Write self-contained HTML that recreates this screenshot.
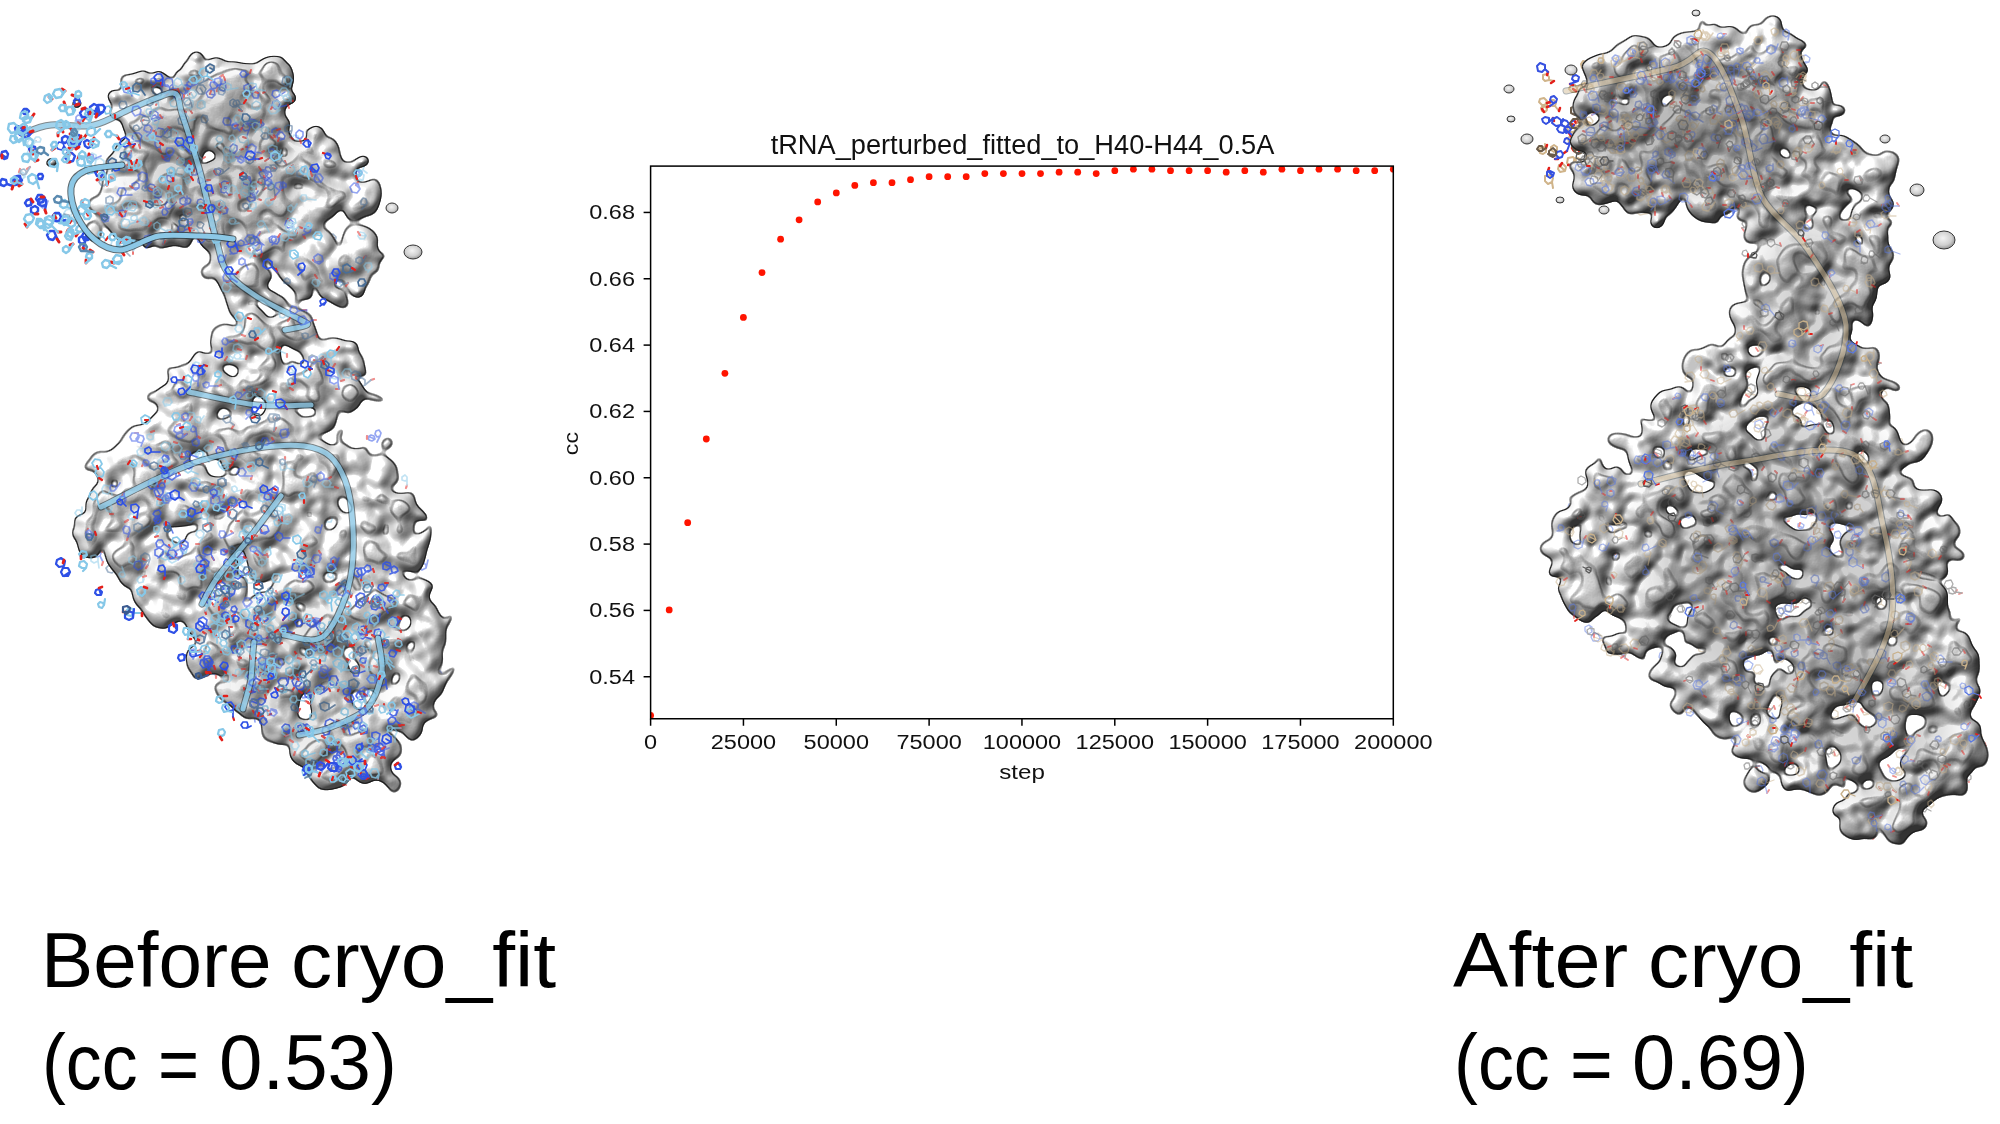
<!DOCTYPE html>
<html><head><meta charset="utf-8">
<style>
html,body{margin:0;padding:0;background:#fff;width:2000px;height:1124px;overflow:hidden;position:relative}
body{font-family:"Liberation Sans",sans-serif}
.tk{font-family:"Liberation Sans",sans-serif;fill:#111}
.ttl{font-family:"Liberation Sans",sans-serif;fill:#111}
.big{position:absolute;font-family:"Liberation Sans",sans-serif;font-size:78.5px;color:#000;white-space:nowrap;line-height:1;transform-origin:0 0}
</style></head><body>
<svg width="2000" height="1124" viewBox="0 0 2000 1124" style="position:absolute;left:0;top:0">
<defs><radialGradient id="blobg" cx="0.45" cy="0.4" r="0.65"><stop offset="0" stop-color="#f4f4f4"/><stop offset="0.6" stop-color="#d0d0d0"/><stop offset="1" stop-color="#8a8a8a"/></radialGradient><filter id="sblur" x="-50%" y="-50%" width="200%" height="200%"><feGaussianBlur stdDeviation="18"/></filter></defs>
<defs><filter id="iso1" x="-14" y="31" width="492" height="787" filterUnits="userSpaceOnUse" color-interpolation-filters="sRGB">
 <feGaussianBlur in="SourceAlpha" stdDeviation="3.0" result="blur"/>
 <feComponentTransfer in="blur" result="shape"><feFuncA type="linear" slope="12" intercept="-3.5"/></feComponentTransfer>
 <feComponentTransfer in="blur" result="shape2"><feFuncA type="linear" slope="14" intercept="-11"/></feComponentTransfer>
 <feGaussianBlur in="blur" stdDeviation="1.5" result="bump"/>
 <feDiffuseLighting in="bump" surfaceScale="12" diffuseConstant="1" lighting-color="#ffffff" result="light"><feDistantLight azimuth="235" elevation="48"/></feDiffuseLighting>
 <feSpecularLighting in="bump" surfaceScale="12" specularConstant="0.5" specularExponent="40" lighting-color="#ffffff" result="spec"><feDistantLight azimuth="235" elevation="48"/></feSpecularLighting>
 <feComponentTransfer in="light" result="lightA"><feFuncR type="linear" slope="0.72" intercept="0.28"/><feFuncG type="linear" slope="0.72" intercept="0.28"/><feFuncB type="linear" slope="0.72" intercept="0.28"/></feComponentTransfer>
 <feComposite in="spec" in2="lightA" operator="arithmetic" k1="0" k2="1" k3="1" k4="0" result="l2"/>
 <feComposite in="l2" in2="shape" operator="in" result="lit"/>
 <feMorphology in="shape" operator="erode" radius="1" result="er"/>
 <feComposite in="shape" in2="er" operator="out" result="edge"/>
 <feMorphology in="shape2" operator="erode" radius="1" result="er2"/>
 <feComposite in="shape2" in2="er2" operator="out" result="edge2"/>
 <feComponentTransfer in="blur" result="shape3"><feFuncA type="linear" slope="14" intercept="-13"/></feComponentTransfer>
 <feMorphology in="shape3" operator="erode" radius="1" result="er3"/>
 <feComposite in="shape3" in2="er3" operator="out" result="edge3"/>
 <feFlood flood-color="#2a2a2a" flood-opacity="0.55"/><feComposite in2="edge3" operator="in" result="edgec3"/>
 <feFlood flood-color="#1e1e1e" result="blk"/>
 <feComposite in="blk" in2="edge" operator="in" result="edgec"/>
 <feFlood flood-color="#2a2a2a" flood-opacity="0.85"/><feComposite in2="edge2" operator="in" result="edgec2"/>
 <feMerge><feMergeNode in="lit"/><feMergeNode in="edgec3"/><feMergeNode in="edgec2"/><feMergeNode in="edgec"/></feMerge>
</filter></defs>
<g opacity="0.5"><path d="M304 166l-3 1 -3 -3 1 -4 3 -1 3 3zl-5 7M328 380l-4 3 -5 -1 -1 -5 4 -4 5 2zl-3 -8M348 683l-3 2 -2 -2 0 -3 3 -1 2 1zl1 4M254 715l-3 2 -4 -1 -1 -3 3 -3 4 1zl1 7M261 426l-2 2 -4 -1 -1 -3 3 -3 3 1zl2 7M339 741l-4 0 -3 -3 2 -4 4 0 3 3zl4 -5M207 581l-3 1 -3 -2 0 -4 4 -1 3 2zl0 8M348 206l-4 1 -3 -4 2 -4 4 -1 3 4zl-5 -2M323 639l-4 1 -3 -3 2 -4 4 -1 3 3zl-2 -7M151 577l-3 1 -1 -3 1 -3 3 0 2 3zl1 4M227 277l-4 2 -3 -2 0 -4 4 -2 3 2zl4 -5M86 549l-2 2 -3 -1 -1 -3 3 -2 3 1zl2 4M147 166l-3 2 -4 -1 0 -4 3 -2 3 2zl-7 5M257 426l-3 3 -5 -1 -1 -5 4 -3 4 2zl4 -4M299 746l-3 4 -5 -2 -1 -4 3 -3 5 1zl-6 1M309 318l-3 3 -3 0 -2 -4 2 -3 4 1zl-3 -8M142 186l-3 1 -3 -3 2 -3 3 -1 2 3zl-7 -2M265 332l-3 3 -4 -2 0 -4 3 -3 4 2zl7 5M119 534l-3 4 -4 -1 -1 -4 2 -3 4 1zl6 1M208 672l-5 0 -3 -3 2 -5 5 0 3 3zl8 3M158 593l-3 3 -4 -1 -1 -5 3 -2 5 1zl4 4M180 495l-4 1 -2 -2 1 -3 3 -1 3 2zl-1 9M246 529l-3 1 -2 -1 0 -4 3 -1 3 2zl-4 -2M144 180l-4 2 -4 -3 1 -4 4 -2 4 3zl-5 3M369 718l-3 2 -3 -1 -1 -4 3 -2 4 1zl5 5M378 764l-3 4 -5 -1 -2 -4 3 -4 5 1zl-6 5M151 517l-4 1 -3 -4 2 -4 5 -1 2 4zl-8 2M168 154l-3 4 -5 -1 -1 -5 3 -3 4 0zl6 3M351 477l-2 2 -3 0 -1 -3 2 -3 3 1zl6 5M276 690l-3 3 -3 -1 -1 -4 3 -3 3 2zl5 0M177 477l-3 3 -3 -1 -1 -3 2 -3 4 1zl4 -5M359 689l-3 1 -3 -3 1 -4 4 -1 2 3zl-2 -4M257 158l-4 2 -4 -3 0 -5 4 -2 4 3zl-1 -8M282 249l-4 0 -2 -4 2 -3 4 0 2 3zl7 -5M195 419l-4 4 -5 -1 -1 -5 3 -4 5 1zl-9 2M228 238l-3 2 -3 -1 -1 -4 3 -3 4 2zl-5 3M302 560l-4 0 -2 -3 2 -4 4 0 2 4zl-1 -8M252 659l-3 3 -4 0 -1 -4 2 -3 4 0zl-4 5M173 616l-3 0 -2 -2 1 -3 4 0 1 2zl0 7M100 556l-4 1 -2 -3 1 -3 4 -1 2 3zl3 6M265 281l-4 1 -2 -3 1 -4 4 0 2 3zl3 -4M317 507l-2 2 -3 -1 -1 -3 2 -2 3 1zl5 3M380 436l-3 1 -2 -3 1 -3 3 -1 2 3zl-3 6M135 160l-4 1 -3 -3 1 -5 5 -1 2 4zl-5 -3M368 669l-3 2 -2 -1 -1 -3 2 -2 3 1zl-7 5M281 702l-4 0 -2 -3 2 -3 3 0 2 3zl6 6M225 100l-4 2 -4 -1 0 -5 4 -3 4 2zl1 -6M122 474l-2 2 -4 0 -1 -4 2 -3 4 1zl-5 -3M441 679l-5 1 -3 -4 2 -5 5 0 3 4zl-9 -2M426 568l-4 2 -3 -2 1 -4 3 -2 3 3zl2 -8M306 202l-4 2 -5 -2 1 -5 4 -3 4 3zl2 -4M204 418l-5 1 -2 -4 2 -4 4 0 3 3zl5 -7M206 384l-4 0 -3 -3 2 -4 4 0 3 3zl-2 -7M308 697l-5 1 -2 -4 1 -4 5 -1 2 4zl5 6M252 405l-3 1 -3 -1 0 -4 3 -2 3 2zl-3 -5M275 651l-3 3 -3 -1 -2 -3 3 -3 3 0zl7 -1M300 204l-4 1 -2 -3 2 -3 3 -1 3 3zl4 -3M97 554l-5 0 -3 -4 2 -4 5 -1 3 4zl4 -5M217 451l-5 2 -4 -2 1 -5 4 -2 4 3zl4 3M260 457l-2 3 -3 0 -1 -3 1 -3 4 0zl-4 -3M199 620l-5 0 -3 -4 2 -4 5 0 3 3zl-2 -8M176 459l-3 1 -3 -2 1 -4 3 -1 3 2zl-2 6M188 157l-4 1 -3 -3 2 -4 4 0 2 3zl-7 -5M331 638l-4 3 -4 -1 -1 -5 3 -3 4 2zl4 4M240 538l-4 3 -4 -2 -1 -4 4 -3 4 2zl-4 -6M217 138l-2 4 -4 0 -3 -4 3 -4 4 0zl-1 7M332 386l-4 3 -5 -3 0 -4 4 -3 4 2zl-4 7M245 557l-2 3 -3 -1 -1 -3 2 -2 3 0zl-4 6M295 652l-2 2 -3 -1 -1 -2 2 -3 3 1zl1 6M272 673l-4 0 -2 -3 2 -3 4 0 2 3zl5 2M211 532l-3 1 -2 -2 0 -3 3 -1 2 2zl-4 -7M340 363l-4 0 -1 -3 1 -3 4 0 2 3zl1 5M270 322l-3 2 -4 -1 -1 -4 3 -3 4 1zl-9 -2M97 554l-3 2 -4 -2 0 -4 4 -2 3 2zl-7 -2M267 554l-2 4 -5 -1 -2 -4 3 -4 4 1zl-5 -2M244 557l-3 2 -3 -1 0 -4 3 -2 3 2zl-5 -1M384 707l-2 2 -3 0 -1 -4 2 -2 3 1zl-5 -4M314 212l-4 2 -3 -2 0 -5 4 -2 4 3zl2 -4M327 392l-4 1 -3 -3 1 -4 4 -1 3 3zl-6 -2M297 234l-2 5 -5 -1 -2 -4 2 -4 5 0zl-7 -1M236 225l-3 2 -3 -1 0 -3 3 -2 3 1zl-1 6M431 667l-3 1 -3 -2 1 -3 3 -1 3 1zl2 -8M375 439l-3 2 -3 -1 -1 -3 3 -2 3 1zl-8 -3M241 431l-5 2 -3 -3 0 -5 5 -2 4 3zl4 1M131 187l-3 4 -4 -1 -2 -4 3 -4 4 1zl5 5M281 426l-3 3 -4 -1 -1 -4 3 -3 4 1zl-5 -3M359 773l-5 2 -3 -4 1 -4 5 -2 3 4zl-6 -1M185 198l-3 1 -3 -2 0 -4 4 -2 3 3zl-6 1M163 437l-3 0 -2 -2 2 -3 3 0 1 2zl2 -5M300 212l-5 1 -3 -3 1 -5 4 -1 4 3zl5 0M128 459l-4 1 -4 -3 1 -5 5 -1 3 3zl7 -2M82 541l-4 0 -2 -2 1 -3 4 -1 2 3zl5 4M82 120l-2 2 -4 -1 0 -4 2 -2 3 1zl-5 0M294 578l-5 0 -3 -3 3 -5 4 0 3 4zl-5 1M427 684l-4 1 -3 -2 1 -4 3 -2 3 3zl-9 -1M220 116l-3 1 -3 -2 1 -3 2 -1 3 2zl6 4M332 248l-2 4 -4 0 -2 -4 2 -3 4 0zl-2 5M317 178l-3 3 -4 -2 -1 -4 3 -3 4 2zl5 -6M419 636l-4 1 -3 -3 1 -5 4 -1 3 3zl-6 -6" stroke="#2e50e6" stroke-width="1.7" fill="none" stroke-linecap="round" stroke-linejoin="round"/><path d="M299 173l3 0M299 405l-1 3M217 526l-0 -3M343 736l3 -2M391 713l3 1M324 691l1 -3M321 632l-3 0M368 713l3 2M232 209l-2 -3M204 240l-2 3M183 385l2 3M336 391l-2 -3M350 352l-3 0M231 272l-3 -1M88 553l3 -1M140 171l3 0M204 109l2 3M261 422l-1 3M369 657l3 -1M212 616l2 3M275 115l-0 -3M306 310l-3 -0M329 642l0 3M323 403l-3 2M195 550l-3 1M200 462l3 2M276 77l3 2M125 535l2 3M348 179l-2 3M216 675l-0 3M205 229l-2 -3M407 485l-1 3M255 437l-3 0M283 683l-2 3M161 573l-0 -3M350 679l-2 3M242 527l-3 -2M135 512l3 -1M322 202l0 -3M234 392l3 1M198 190l1 3M372 769l0 -3M128 497l-3 1M143 519l3 1M174 157l-3 2M288 550l1 -3M357 482l3 0M316 245l-1 3M281 690l-2 -3M181 472l3 0M333 423l-3 -2M247 432l-2 -3M256 150l3 2M190 175l1 -3M147 579l3 1M341 282l3 0M283 401l0 -3M223 241l-1 -3M301 552l3 1M242 444l-3 1M314 597l-3 -1M173 623l2 -3M103 562l-1 3M317 458l-2 3M118 573l3 2M268 277l-3 2M322 510l-3 0M131 516l1 -3M210 372l-3 -2M361 674l1 -3M287 708l3 1M226 94l-2 -3M117 471l3 2M91 162l-1 -3M372 679l-3 2M308 198l-2 -3M253 660l-1 3M204 377l-2 -3M336 621l2 -3M292 140l1 3M313 703l1 -3M249 400l-0 -3M123 561l-3 -2M282 650l0 3M304 201l-3 -0M101 549l1 3M262 386l-2 -3M401 532l3 -2M256 454l3 -1M277 153l3 1M252 249l2 3M206 564l-3 0M197 612l3 -1M207 370l0 3M243 254l-2 -3M337 471l-3 -1M181 152l1 3M335 642l2 -3M236 532l-0 -3M310 156l-3 -2M270 694l3 0M241 563l-3 -1M147 518l3 -2M296 658l3 -2M277 675l-1 -3M36 141l-3 -0M341 368l3 0M397 648l1 3M193 105l1 3M141 89l-3 2M261 320l-0 3M90 552l-3 1M379 703l-1 3M321 390l-0 -3M122 504l2 -3M290 233l-3 1M235 231l1 -3M367 436l-0 3M385 506l1 -3M371 380l3 -1M167 461l-1 3M334 581l-2 3M183 406l-2 3M136 192l3 2M333 516l-3 2M353 772l-3 2M385 618l-3 2M179 199l-2 -3M377 517l3 0M165 432l2 2M305 212l-0 -3M135 457l-3 -0M126 536l-3 -2M243 462l3 -1M335 238l-3 1M289 579l1 -3M418 683l-3 -2M226 120l3 -2M330 253l3 2" stroke="#e3201b" stroke-width="2.2" fill="none" stroke-linecap="round" stroke-linejoin="round"/><path d="M304 402l-2 2 -3 -2 0 -3 3 -1 2 1zl-5 3M342 646l-4 1 -3 -3 1 -4 4 -1 3 3zl-4 -2M204 563l-4 3 -4 -2 0 -5 4 -2 4 2zl4 -2M214 523l-1 3 -4 -1 -1 -2 2 -3 3 0zl3 3M197 451l-2 3 -3 0 -2 -3 2 -3 3 0zl3 3M387 718l-4 2 -3 -2 0 -5 4 -2 4 2zl4 -5M322 699l-3 3 -4 -1 -1 -3 3 -3 3 1zl2 -8M160 535l-5 1 -3 -3 1 -5 5 -1 3 3zl-1 -4M370 718l-2 1 -3 -3 1 -2 3 -1 2 2zl-2 -5M226 206l-3 2 -3 -2 0 -3 3 -2 3 2zl6 3M199 233l-4 2 -4 -3 0 -5 5 -2 4 3zl5 7M182 378l-3 1 -3 -1 0 -3 2 -2 3 1zl1 7M352 360l-4 0 -3 -3 2 -3 4 -1 2 3zl-2 -8M298 606l-4 0 -2 -3 2 -3 3 -1 2 3zl5 -7M205 113l-4 1 -3 -2 1 -3 3 -2 3 2zl-1 -4M364 653l-5 1 -3 -4 2 -4 5 -1 3 4zl5 4M208 620l-2 3 -3 -1 -2 -2 2 -3 3 0zl4 -4M270 117l-2 2 -3 0 -2 -3 2 -3 3 1zl5 -2M327 646l-2 3 -4 -1 -1 -3 2 -2 4 0zl2 -4M326 406l-3 4 -5 0 -2 -5 3 -4 5 1zl-3 -3M205 457l-3 2 -4 -2 0 -4 3 -2 3 2zl-5 5M282 76l-2 4 -5 -1 -1 -4 2 -3 4 0zl-6 1M357 177l-3 2 -4 -1 0 -4 3 -2 3 1zl-9 2M210 233l-4 2 -3 -2 0 -4 3 -2 3 2zl-5 -4M407 480l-2 1 -3 -1 0 -3 3 -2 2 2zl0 5M280 359l-4 2 -4 -3 0 -4 5 -3 4 3zl1 -7M282 676l-3 4 -4 0 -2 -4 2 -3 5 0zl1 7M283 506l-2 2 -3 -1 -1 -3 2 -2 3 1zl-5 7M159 581l-2 4 -4 -1 -2 -4 2 -3 5 0zl2 -8M351 687l-5 0 -2 -4 2 -4 5 0 2 4zl-1 -8M200 611l-4 2 -4 -2 0 -5 4 -2 4 2zl2 8M318 205l-3 1 -3 -2 0 -3 4 -1 2 2zl4 -3M242 392l-3 3 -5 -1 -1 -4 3 -4 5 1zl-8 0M192 193l-3 1 -2 -3 1 -3 3 0 2 2zl6 -3M360 777l-2 2 -3 -1 -1 -3 2 -2 3 1zl-7 -1M126 502l-4 1 -3 -3 2 -4 4 -1 3 3zl2 -5M280 551l-3 2 -4 -1 -1 -4 4 -3 4 1zl8 -1M322 249l-3 3 -4 -1 -2 -4 3 -3 5 1zl-6 -4M198 144l-3 1 -3 -2 1 -3 3 -1 2 2zl-8 0M326 425l-3 1 -3 -2 0 -3 3 -1 3 1zl7 -2M249 428l-3 1 -3 -1 0 -4 3 -1 3 2zl-2 4M302 281l-3 2 -3 -1 -1 -4 3 -2 4 1zl-5 1M366 600l-3 1 -2 -3 1 -2 3 -1 2 2zl-6 -3M192 180l-4 2 -4 -2 0 -4 4 -3 4 2zl-2 -5M146 586l-3 3 -4 0 -2 -5 3 -3 4 0zl1 -7M346 284l-5 1 -3 -4 2 -5 5 0 3 4zl-5 -2M270 469l-5 1 -3 -3 2 -5 4 -1 3 4zl-7 2M317 593l-3 2 -3 0 -1 -3 2 -3 3 1zl-3 4M313 464l-3 0 -2 -2 1 -3 3 -1 2 3zl4 -6M253 545l-2 2 -3 -1 -1 -3 2 -2 3 0zl-5 0M96 159l-3 2 -3 -1 -1 -4 3 -3 4 2zl-5 3M366 680l-3 2 -3 -2 0 -3 3 -2 3 1zl6 -1M254 653l-2 3 -4 0 -2 -4 3 -3 4 0zl-1 7M347 579l-4 1 -2 -2 1 -4 3 0 3 2zl5 -3M343 619l-4 2 -4 -4 1 -4 5 -2 4 4zl-7 2M202 568l-3 1 -2 -2 0 -3 3 -2 3 2zl5 0M254 184l-3 0 -2 -2 1 -3 3 -1 2 3zl-4 4M299 139l-2 3 -4 0 -1 -4 2 -3 4 1zl-7 1M128 562l-4 0 -1 -3 1 -3 4 0 2 3zl-5 -1M258 382l-4 1 -3 -3 1 -4 4 -1 3 3zl4 4M405 536l-2 3 -4 -1 -1 -3 2 -3 4 0zl-4 -4M275 159l-3 2 -3 -1 -1 -4 3 -2 4 1zl2 -6M249 244l-5 2 -3 -3 1 -5 4 -1 4 3zl3 5M207 568l-4 0 -3 -4 2 -4 5 -1 3 4zl-1 -4M207 365l-3 1 -2 -3 1 -3 4 -1 2 3zl0 5M245 257l-3 1 -3 -1 0 -4 3 -1 3 2zl-2 -3M339 478l-3 0 -2 -2 1 -3 3 0 2 3zl-2 -7M304 159l-4 1 -4 -3 1 -5 5 -1 3 3zl6 -3M271 703l-5 3 -4 -3 0 -5 5 -2 4 2zl-1 -9M130 164l-3 3 -4 -1 -1 -4 3 -4 4 1zl4 1M33 145l-4 1 -2 -3 2 -3 3 -1 2 3zl3 -4M123 230l-4 1 -2 -3 1 -3 3 -1 3 3zl1 8M70 217l-4 0 -2 -4 2 -3 4 -1 2 4zl9 0M392 642l-3 3 -4 -1 -1 -4 3 -3 4 2zl5 6M199 99l-4 2 -3 -2 0 -5 4 -1 3 2zl-6 6M140 83l-4 0 -2 -4 2 -4 4 0 2 4zl1 6M40 142l-4 0 -2 -2 2 -3 3 0 2 2zl-6 0M423 670l-3 3 -4 -2 -1 -4 3 -3 4 2zl-8 0M250 236l-4 3 -5 -2 -1 -4 4 -3 5 1zl-4 5M342 730l-2 3 -4 0 -3 -3 3 -4 4 0zl-5 7M125 510l-3 5 -5 -1 -2 -4 3 -4 4 0zl-3 -6M385 510l-4 1 -3 -4 1 -4 5 -1 3 4zl0 -4M333 576l-2 2 -3 -2 0 -3 3 -1 2 1zl1 5M179 413l-4 3 -4 -1 -2 -5 4 -3 5 1zl4 -7M286 454l-4 0 -3 -3 2 -4 4 -1 3 4zl3 7M331 522l-3 0 -2 -2 1 -3 3 -1 2 3zl2 -6M241 565l-4 1 -2 -3 2 -3 3 -1 2 3zl7 6M383 613l-2 2 -3 -1 -1 -3 3 -2 3 1zl2 5M374 510l-3 2 -3 -2 0 -4 3 -2 4 2zl3 7M183 502l-4 1 -3 -2 0 -4 4 -2 3 3zl-5 5M326 487l-3 0 -2 -4 2 -3 3 0 2 3zl-8 2M127 530l-4 1 -3 -3 1 -4 4 -1 3 3zl-1 6M239 456l-3 1 -2 -3 2 -3 3 0 2 2zl4 6M179 240l-3 2 -3 -1 0 -3 2 -2 3 1zl-5 -6M353 561l-4 1 -3 -3 1 -4 4 -1 3 3zl-4 -7M363 170l-3 1 -3 -2 1 -3 3 -2 3 2zl4 3M198 138l-4 1 -3 -4 2 -4 4 0 3 4zl0 6" stroke="#86c8e8" stroke-width="1.7" fill="none" stroke-linecap="round" stroke-linejoin="round"/><path d="M342 390l-2 3 -4 -1 -1 -4 3 -3 3 1zl-6 1M348 270l-3 2 -4 -2 0 -4 3 -2 3 2zl-4 -3M195 543l-3 4 -5 0 -2 -5 3 -4 5 1zl0 7M252 441l-3 4 -4 0 -3 -4 3 -4 5 0zl3 -4M230 653l-3 2 -4 -2 0 -4 3 -3 4 2zl6 -4M142 518l-4 1 -3 -3 2 -3 3 -1 3 3zl-7 -6M402 542l-3 2 -3 -1 -1 -4 3 -2 4 1zl-4 -5M312 423l-3 3 -4 -1 -2 -4 3 -3 4 1zl7 4M266 219l-3 3 -4 -1 -1 -4 3 -3 4 1zl-3 -2M282 395l-3 3 -3 -1 -1 -3 2 -3 4 1zl1 6M235 447l-4 0 -2 -3 1 -4 4 0 2 3zl7 -3M115 570l-3 3 -4 -1 -2 -4 3 -3 4 1zl3 3M125 521l-3 3 -4 0 -2 -4 2 -4 5 1zl6 -5M209 376l-2 3 -4 0 -2 -4 3 -3 4 0zl1 -4M325 525l-3 1 -3 -3 1 -3 4 -1 2 3zl-4 4M332 609l-3 4 -5 0 -2 -4 3 -4 5 0zl-5 0M321 216l-3 1 -3 -1 1 -3 2 -2 3 2zl1 -7M204 539l-4 1 -2 -4 1 -3 4 -1 3 3zl2 6M391 476l-4 2 -3 -3 0 -4 4 -2 3 2zl-6 -1M146 527l-3 2 -3 -2 -1 -3 3 -2 3 1zl1 -9M280 654l-3 4 -5 0 -2 -4 3 -4 4 0zl5 -6M365 385l-4 2 -5 -2 1 -5 4 -3 4 3zl6 -5M166 465l-4 1 -3 -2 1 -4 4 -1 3 2zl1 -4M335 242l-5 1 -3 -3 1 -5 5 -1 3 3zl0 -4" stroke="#4a6e96" stroke-width="1.7" fill="none" stroke-linecap="round" stroke-linejoin="round"/></g>
<defs><g id="molE1" fill="#fff" fill-opacity="0.42"><path d="M242 262a9 12 146 1 0 15 -11a9 12 146 1 0 -15 11M142 495a14 7 105 1 0 7 -27a14 7 105 1 0 -7 27M354 539a13 8 9 1 0 -25 -4a13 8 9 1 0 25 4M188 566a11 10 165 1 0 22 -6a11 10 165 1 0 -22 6M306 517a15 10 22 1 0 -29 -11a15 10 22 1 0 29 11M96 244a13 9 78 1 0 -5 -25a13 9 78 1 0 5 25M204 458a17 6 170 1 0 34 -6a17 6 170 1 0 -34 6M424 732a16 7 10 1 0 -32 -6a16 7 10 1 0 32 6M181 437a10 10 73 1 0 -6 -19a10 10 73 1 0 6 19M341 175a12 6 142 1 0 18 -14a12 6 142 1 0 -18 14M138 597a8 6 72 1 0 -5 -16a8 6 72 1 0 5 16M413 714a18 5 46 1 0 -26 -26a18 5 46 1 0 26 26M281 732a19 12 60 1 0 -19 -33a19 12 60 1 0 19 33M299 436a15 12 12 1 0 -29 -6a15 12 12 1 0 29 6M297 327a18 5 65 1 0 -16 -33a18 5 65 1 0 16 33M169 238a11 4 41 1 0 -16 -14a11 4 41 1 0 16 14M339 399a9 5 145 1 0 15 -10a9 5 145 1 0 -15 10M316 674a7 9 130 1 0 9 -11a7 9 130 1 0 -9 11M410 727a9 10 30 1 0 -16 -9a9 10 30 1 0 16 9M206 615a17 10 27 1 0 -31 -16a17 10 27 1 0 31 16M169 221a19 10 4 1 0 -38 -3a19 10 4 1 0 38 3M369 459a8 12 26 1 0 -15 -7a8 12 26 1 0 15 7M303 673a9 10 19 1 0 -17 -6a9 10 19 1 0 17 6M288 228a19 4 143 1 0 30 -23a19 4 143 1 0 -30 23M426 598a8 5 88 1 0 -1 -16a8 5 88 1 0 1 16M298 480a10 13 106 1 0 5 -18a10 13 106 1 0 -5 18M201 485a19 7 6 1 0 -38 -4a19 7 6 1 0 38 4M199 236a11 6 178 1 0 21 -1a11 6 178 1 0 -21 1M374 483a16 11 105 1 0 8 -30a16 11 105 1 0 -8 30M357 781a9 12 118 1 0 9 -16a9 12 118 1 0 -9 16M269 404a15 6 71 1 0 -10 -28a15 6 71 1 0 10 28M167 566a14 8 66 1 0 -11 -26a14 8 66 1 0 11 26M426 693a11 12 39 1 0 -17 -14a11 12 39 1 0 17 14M186 575a16 7 40 1 0 -25 -21a16 7 40 1 0 25 21M264 87a18 9 139 1 0 27 -24a18 9 139 1 0 -27 24M307 384a12 12 114 1 0 10 -23a12 12 114 1 0 -10 23M271 541a17 11 67 1 0 -13 -32a17 11 67 1 0 13 32M385 529a20 12 23 1 0 -37 -16a20 12 23 1 0 37 16M212 116a12 11 143 1 0 18 -14a12 11 143 1 0 -18 14M235 288a17 13 78 1 0 -7 -33a17 13 78 1 0 7 33M259 103a19 10 14 1 0 -38 -9a19 10 14 1 0 38 9M282 255a17 11 55 1 0 -20 -28a17 11 55 1 0 20 28M353 494a9 5 119 1 0 9 -16a9 5 119 1 0 -9 16M254 662a14 10 125 1 0 16 -22a14 10 125 1 0 -16 22M134 588a19 11 70 1 0 -13 -35a19 11 70 1 0 13 35M189 136a20 10 77 1 0 -9 -38a20 10 77 1 0 9 38M361 647a9 13 123 1 0 9 -14a9 13 123 1 0 -9 14M155 161a11 9 166 1 0 22 -6a11 9 166 1 0 -22 6M245 616a8 6 10 1 0 -16 -3a8 6 10 1 0 16 3M382 584a11 11 138 1 0 17 -15a11 11 138 1 0 -17 15M252 180a13 7 5 1 0 -27 -2a13 7 5 1 0 27 2M82 558a16 9 113 1 0 13 -30a16 9 113 1 0 -13 30M231 457a19 7 88 1 0 -2 -38a19 7 88 1 0 2 38M269 406a15 13 114 1 0 12 -27a15 13 114 1 0 -12 27M295 640a10 5 177 1 0 19 -1a10 5 177 1 0 -19 1M223 436a18 9 37 1 0 -28 -21a18 9 37 1 0 28 21M191 446a13 11 115 1 0 11 -23a13 11 115 1 0 -11 23M314 380a7 10 19 1 0 -14 -5a7 10 19 1 0 14 5M327 213a18 5 131 1 0 24 -27a18 5 131 1 0 -24 27M222 273a13 5 93 1 0 1 -27a13 5 93 1 0 -1 27M191 675a15 12 115 1 0 13 -27a15 12 115 1 0 -13 27M249 638a15 13 122 1 0 16 -26a15 13 122 1 0 -16 26M338 643a16 8 41 1 0 -25 -21a16 8 41 1 0 25 21M175 566a11 11 21 1 0 -21 -8a11 11 21 1 0 21 8M267 708a10 6 132 1 0 13 -14a10 6 132 1 0 -13 14M381 685a16 13 99 1 0 5 -32a16 13 99 1 0 -5 32M232 536a19 10 119 1 0 19 -34a19 10 119 1 0 -19 34M304 774a13 10 172 1 0 27 -4a13 10 172 1 0 -27 4M179 118a12 6 128 1 0 15 -19a12 6 128 1 0 -15 19M305 210a12 13 62 1 0 -11 -21a12 13 62 1 0 11 21M394 518a8 6 34 1 0 -13 -9a8 6 34 1 0 13 9M287 413a11 10 86 1 0 -2 -22a11 10 86 1 0 2 22M114 567a11 10 104 1 0 5 -21a11 10 104 1 0 -5 21M251 494a9 11 108 1 0 6 -18a9 11 108 1 0 -6 18M277 227a7 8 49 1 0 -10 -11a7 8 49 1 0 10 11M200 229a12 7 179 1 0 25 -0a12 7 179 1 0 -25 0M383 562a12 11 72 1 0 -7 -22a12 11 72 1 0 7 22M347 729a8 13 53 1 0 -10 -13a8 13 53 1 0 10 13M341 394a12 7 175 1 0 23 -2a12 7 175 1 0 -23 2M261 700a18 9 97 1 0 4 -36a18 9 97 1 0 -4 36M97 500a14 6 113 1 0 11 -26a14 6 113 1 0 -11 26M406 723a7 9 65 1 0 -6 -13a7 9 65 1 0 6 13M288 604a15 5 103 1 0 7 -30a15 5 103 1 0 -7 30M308 262a11 12 37 1 0 -17 -13a11 12 37 1 0 17 13M192 548a18 9 164 1 0 35 -10a18 9 164 1 0 -35 10M413 568a19 9 108 1 0 12 -36a19 9 108 1 0 -12 36M119 530a18 11 165 1 0 35 -9a18 11 165 1 0 -35 9M357 604a13 7 163 1 0 24 -8a13 7 163 1 0 -24 8M212 167a20 5 147 1 0 33 -22a20 5 147 1 0 -33 22M192 483a10 8 167 1 0 19 -4a10 8 167 1 0 -19 4M380 510a11 6 107 1 0 6 -21a11 6 107 1 0 -6 21M260 499a17 8 179 1 0 35 -1a17 8 179 1 0 -35 1M218 553a18 7 148 1 0 30 -19a18 7 148 1 0 -30 19M219 149a5 7 87 1 0 -1 -10a5 7 87 1 0 1 10M161 218a6 7 34 1 0 -10 -7a6 7 34 1 0 10 7M160 216a6 4 28 1 0 -11 -6a6 4 28 1 0 11 6M216 172a7 4 172 1 0 13 -2a7 4 172 1 0 -13 2M206 92a6 4 10 1 0 -11 -2a6 4 10 1 0 11 2M219 245a8 7 67 1 0 -6 -14a8 7 67 1 0 6 14M255 145a9 5 179 1 0 18 -0a9 5 179 1 0 -18 0M139 140a6 5 83 1 0 -1 -11a6 5 83 1 0 1 11M150 105a8 5 96 1 0 2 -17a8 5 96 1 0 -2 17M152 164a7 6 82 1 0 -2 -14a7 6 82 1 0 2 14M251 185a5 4 40 1 0 -8 -7a5 4 40 1 0 8 7M179 104a5 3 135 1 0 8 -8a5 3 135 1 0 -8 8M233 80a5 6 155 1 0 9 -4a5 6 155 1 0 -9 4M170 204a7 4 76 1 0 -3 -13a7 4 76 1 0 3 13M271 203a5 4 25 1 0 -9 -4a5 4 25 1 0 9 4M190 174a6 4 113 1 0 5 -11a6 4 113 1 0 -5 11M194 99a4 6 57 1 0 -4 -7a4 6 57 1 0 4 7M246 206a6 6 157 1 0 10 -4a6 6 157 1 0 -10 4M297 132a5 4 134 1 0 7 -7a5 4 134 1 0 -7 7M237 95a7 4 84 1 0 -1 -15a7 4 84 1 0 1 15M273 245a8 6 115 1 0 6 -14a8 6 115 1 0 -6 14M219 104a7 6 35 1 0 -12 -8a7 6 35 1 0 12 8M264 100a5 4 166 1 0 9 -2a5 4 166 1 0 -9 2M255 135a8 3 59 1 0 -8 -14a8 3 59 1 0 8 14M132 151a6 3 72 1 0 -4 -11a6 3 72 1 0 4 11M203 121a5 7 154 1 0 9 -5a5 7 154 1 0 -9 5M200 58a4 3 0 1 0 -8 -0a4 3 0 1 0 8 0M167 79a7 6 0 1 0 -14 -0a7 6 0 1 0 14 0M339 163a9 7 0 1 0 -18 -0a9 7 0 1 0 18 0M369 162a6 5 0 1 0 -12 -0a6 5 0 1 0 12 0M364 294a5 4 0 1 0 -10 -0a5 4 0 1 0 10 0M358 346a5 4 0 1 0 -10 -0a5 4 0 1 0 10 0M357 347a5 4 0 1 0 -10 -0a5 4 0 1 0 10 0M81 104a5 4 0 1 0 -10 -0a5 4 0 1 0 10 0"/><path d="M195 97a18 8 175 1 0 36 -3a18 8 175 1 0 -36 3M262 254a15 6 140 1 0 23 -20a15 6 140 1 0 -23 20M108 115a17 6 138 1 0 25 -22a17 6 138 1 0 -25 22M275 570a13 7 176 1 0 26 -2a13 7 176 1 0 -26 2M231 282a10 12 170 1 0 20 -3a10 12 170 1 0 -20 3M379 244a20 12 21 1 0 -37 -14a20 12 21 1 0 37 14M229 129a17 11 39 1 0 -27 -22a17 11 39 1 0 27 22M96 521a12 4 8 1 0 -23 -3a12 4 8 1 0 23 3M207 532a9 9 69 1 0 -6 -17a9 9 69 1 0 6 17M175 526a17 9 103 1 0 8 -33a17 9 103 1 0 -8 33M308 390a13 12 119 1 0 13 -23a13 12 119 1 0 -13 23M131 446a18 10 138 1 0 27 -24a18 10 138 1 0 -27 24M346 346a14 10 4 1 0 -28 -2a14 10 4 1 0 28 2M162 454a18 12 21 1 0 -34 -13a18 12 21 1 0 34 13M342 301a17 6 43 1 0 -25 -23a17 6 43 1 0 25 23M415 602a7 5 19 1 0 -14 -5a7 5 19 1 0 14 5M181 578a17 13 128 1 0 22 -27a17 13 128 1 0 -22 27M167 508a14 5 16 1 0 -28 -8a14 5 16 1 0 28 8M321 561a10 10 150 1 0 17 -10a10 10 150 1 0 -17 10M318 220a8 7 89 1 0 -0 -16a8 7 89 1 0 0 16M220 656a17 12 5 1 0 -35 -3a17 12 5 1 0 35 3M179 458a13 10 4 1 0 -25 -2a13 10 4 1 0 25 2M322 620a7 12 141 1 0 12 -9a7 12 141 1 0 -12 9M278 119a19 8 59 1 0 -20 -33a19 8 59 1 0 20 33M194 211a10 5 22 1 0 -19 -8a10 5 22 1 0 19 8M152 79a7 8 169 1 0 14 -3a7 8 169 1 0 -14 3M226 510a19 12 34 1 0 -32 -21a19 12 34 1 0 32 21M136 225a18 11 18 1 0 -34 -11a18 11 18 1 0 34 11M243 102a8 7 112 1 0 6 -15a8 7 112 1 0 -6 15M134 514a19 9 149 1 0 33 -19a19 9 149 1 0 -33 19M292 761a20 11 163 1 0 38 -12a20 11 163 1 0 -38 12M420 545a14 11 15 1 0 -27 -7a14 11 15 1 0 27 7M333 773a11 6 157 1 0 20 -9a11 6 157 1 0 -20 9M313 179a18 10 69 1 0 -13 -33a18 10 69 1 0 13 33M264 613a9 11 68 1 0 -7 -17a9 11 68 1 0 7 17M234 500a13 6 75 1 0 -7 -26a13 6 75 1 0 7 26M228 70a11 6 174 1 0 23 -3a11 6 174 1 0 -23 3M245 580a19 6 12 1 0 -36 -7a19 6 12 1 0 36 7M183 615a19 9 9 1 0 -38 -6a19 9 9 1 0 38 6M427 615a7 12 166 1 0 14 -3a7 12 166 1 0 -14 3M315 182a14 9 42 1 0 -21 -19a14 9 42 1 0 21 19M297 490a9 13 3 1 0 -18 -1a9 13 3 1 0 18 1M137 472a19 8 99 1 0 6 -37a19 8 99 1 0 -6 37M201 666a12 8 88 1 0 -1 -24a12 8 88 1 0 1 24M221 504a17 12 22 1 0 -32 -13a17 12 22 1 0 32 13M339 457a17 10 12 1 0 -34 -8a17 10 12 1 0 34 8M393 449a8 9 44 1 0 -12 -11a8 9 44 1 0 12 11M283 216a11 12 79 1 0 -4 -22a11 12 79 1 0 4 22M275 213a9 7 81 1 0 -3 -17a9 7 81 1 0 3 17M332 558a17 8 115 1 0 14 -30a17 8 115 1 0 -14 30M367 211a18 11 105 1 0 9 -35a18 11 105 1 0 -9 35M203 186a12 11 128 1 0 15 -18a12 11 128 1 0 -15 18M261 115a10 10 122 1 0 11 -17a10 10 122 1 0 -11 17M240 334a9 6 165 1 0 17 -4a9 6 165 1 0 -17 4M238 398a17 8 148 1 0 28 -18a17 8 148 1 0 -28 18M268 382a11 10 104 1 0 5 -21a11 10 104 1 0 -5 21M336 788a12 8 39 1 0 -19 -16a12 8 39 1 0 19 16M247 222a17 7 126 1 0 20 -28a17 7 126 1 0 -20 28M348 479a19 10 49 1 0 -25 -28a19 10 49 1 0 25 28M382 624a12 6 70 1 0 -8 -23a12 6 70 1 0 8 23M360 531a11 4 178 1 0 22 -1a11 4 178 1 0 -22 1M123 132a11 12 171 1 0 22 -3a11 12 171 1 0 -22 3M176 197a12 7 102 1 0 5 -24a12 7 102 1 0 -5 24M266 440a12 13 39 1 0 -19 -15a12 13 39 1 0 19 15M209 89a9 13 153 1 0 17 -8a9 13 153 1 0 -17 8M245 423a13 8 88 1 0 -1 -25a13 8 88 1 0 1 25M266 644a13 11 70 1 0 -9 -24a13 11 70 1 0 9 24M119 539a19 7 80 1 0 -7 -38a19 7 80 1 0 7 38M219 114a12 11 110 1 0 8 -22a12 11 110 1 0 -8 22M143 486a10 8 82 1 0 -3 -19a10 8 82 1 0 3 19M154 194a17 9 127 1 0 20 -27a17 9 127 1 0 -20 27M356 186a9 4 73 1 0 -5 -18a9 4 73 1 0 5 18M353 199a20 5 25 1 0 -36 -17a20 5 25 1 0 36 17M270 184a9 6 15 1 0 -18 -5a9 6 15 1 0 18 5M356 756a11 8 60 1 0 -11 -18a11 8 60 1 0 11 18M388 598a18 7 42 1 0 -28 -25a18 7 42 1 0 28 25M222 287a12 9 131 1 0 15 -17a12 9 131 1 0 -15 17M138 240a7 12 131 1 0 10 -11a7 12 131 1 0 -10 11M196 383a17 7 96 1 0 3 -35a17 7 96 1 0 -3 35M211 544a14 4 21 1 0 -26 -10a14 4 21 1 0 26 10M221 601a8 12 58 1 0 -8 -13a8 12 58 1 0 8 13M371 760a17 12 124 1 0 19 -28a17 12 124 1 0 -19 28M192 411a18 7 12 1 0 -36 -8a18 7 12 1 0 36 8M233 366a17 9 73 1 0 -10 -33a17 9 73 1 0 10 33M366 647a18 9 169 1 0 35 -7a18 9 169 1 0 -35 7M255 143a12 6 138 1 0 18 -17a12 6 138 1 0 -18 17M407 685a10 9 136 1 0 14 -14a10 9 136 1 0 -14 14M334 249a13 7 59 1 0 -13 -22a13 7 59 1 0 13 22M246 538a12 12 18 1 0 -22 -7a12 12 18 1 0 22 7M177 586a17 7 134 1 0 23 -24a17 7 134 1 0 -23 24M279 426a10 13 168 1 0 20 -4a10 13 168 1 0 -20 4M195 215a10 10 91 1 0 0 -21a10 10 91 1 0 -0 21M227 653a12 5 117 1 0 11 -22a12 5 117 1 0 -11 22M118 565a15 10 141 1 0 23 -18a15 10 141 1 0 -23 18M268 279a18 11 1 1 0 -35 -1a18 11 1 1 0 35 1M119 496a18 6 176 1 0 36 -3a18 6 176 1 0 -36 3M324 480a13 6 168 1 0 25 -5a13 6 168 1 0 -25 5M264 463a15 6 116 1 0 13 -27a15 6 116 1 0 -13 27M148 192a9 8 1 1 0 -19 -0a9 8 1 1 0 19 0M262 69a11 11 167 1 0 22 -5a11 11 167 1 0 -22 5M343 498a16 12 37 1 0 -26 -19a16 12 37 1 0 26 19M329 645a18 10 52 1 0 -22 -28a18 10 52 1 0 22 28M196 587a13 9 91 1 0 0 -27a13 9 91 1 0 -0 27M220 264a15 11 119 1 0 15 -27a15 11 119 1 0 -15 27M284 340a12 9 68 1 0 -9 -22a12 9 68 1 0 9 22M377 487a7 7 9 1 0 -15 -2a7 7 9 1 0 15 2M296 397a17 4 2 1 0 -35 -1a17 4 2 1 0 35 1M148 187a8 8 37 1 0 -13 -10a8 8 37 1 0 13 10M397 570a14 8 110 1 0 10 -27a14 8 110 1 0 -10 27M174 393a8 5 7 1 0 -16 -2a8 5 7 1 0 16 2M326 177a18 12 105 1 0 9 -35a18 12 105 1 0 -9 35M231 203a15 9 126 1 0 17 -24a15 9 126 1 0 -17 24M362 503a14 10 46 1 0 -20 -20a14 10 46 1 0 20 20M196 386a18 11 170 1 0 36 -7a18 11 170 1 0 -36 7M267 188a17 10 89 1 0 -0 -35a17 10 89 1 0 0 35M381 499a20 12 32 1 0 -33 -21a20 12 32 1 0 33 21M306 462a12 11 91 1 0 0 -25a12 11 91 1 0 -0 25M154 211a11 7 167 1 0 21 -5a11 7 167 1 0 -21 5M113 193a8 6 7 1 0 -16 -2a8 6 7 1 0 16 2M337 653a18 7 34 1 0 -30 -20a18 7 34 1 0 30 20M388 782a18 7 57 1 0 -19 -30a18 7 57 1 0 19 30M230 473a7 5 61 1 0 -7 -13a7 5 61 1 0 7 13M306 556a16 10 108 1 0 10 -31a16 10 108 1 0 -10 31M232 407a15 11 105 1 0 8 -29a15 11 105 1 0 -8 29M268 375a9 10 102 1 0 4 -17a9 10 102 1 0 -4 17M134 120a12 12 76 1 0 -6 -23a12 12 76 1 0 6 23M120 211a18 10 15 1 0 -34 -9a18 10 15 1 0 34 9M217 214a9 11 96 1 0 2 -18a9 11 96 1 0 -2 18M129 170a12 5 138 1 0 17 -16a12 5 138 1 0 -17 16M420 589a8 5 162 1 0 15 -5a8 5 162 1 0 -15 5M116 195a8 7 172 1 0 16 -2a8 7 172 1 0 -16 2M172 226a4 4 64 1 0 -4 -7a4 4 64 1 0 4 7M135 145a7 6 8 1 0 -13 -2a7 6 8 1 0 13 2M169 188a6 6 114 1 0 5 -11a6 6 114 1 0 -5 11M285 68a6 7 5 1 0 -11 -1a6 7 5 1 0 11 1M220 133a8 6 147 1 0 13 -8a8 6 147 1 0 -13 8M162 174a5 3 90 1 0 0 -10a5 3 90 1 0 -0 10M203 244a5 5 99 1 0 2 -11a5 5 99 1 0 -2 11M169 95a6 3 104 1 0 3 -12a6 3 104 1 0 -3 12M211 148a6 5 166 1 0 12 -3a6 5 166 1 0 -12 3M232 146a5 3 143 1 0 9 -6a5 3 143 1 0 -9 6M244 101a4 3 115 1 0 4 -8a4 3 115 1 0 -4 8M171 226a9 3 175 1 0 17 -1a9 3 175 1 0 -17 1M261 195a9 6 146 1 0 14 -10a9 6 146 1 0 -14 10M251 106a7 6 45 1 0 -10 -10a7 6 45 1 0 10 10M255 160a6 5 172 1 0 12 -2a6 5 172 1 0 -12 2M170 206a7 3 78 1 0 -3 -13a7 3 78 1 0 3 13M269 125a6 3 172 1 0 11 -2a6 3 172 1 0 -11 2M165 155a5 4 45 1 0 -7 -7a5 4 45 1 0 7 7M283 161a9 7 175 1 0 18 -1a9 7 175 1 0 -18 1M164 250a8 6 56 1 0 -9 -13a8 6 56 1 0 9 13M222 85a8 3 45 1 0 -11 -11a8 3 45 1 0 11 11M219 130a8 6 100 1 0 3 -16a8 6 100 1 0 -3 16M148 82a7 6 0 1 0 -14 -0a7 6 0 1 0 14 0M251 89a7 6 0 1 0 -14 -0a7 6 0 1 0 14 0M294 79a7 6 0 1 0 -14 -0a7 6 0 1 0 14 0M293 85a7 6 0 1 0 -14 -0a7 6 0 1 0 14 0M349 168a9 7 0 1 0 -18 -0a9 7 0 1 0 18 0M362 293a5 4 0 1 0 -10 -0a5 4 0 1 0 10 0M358 345a5 4 0 1 0 -10 -0a5 4 0 1 0 10 0M121 99a6 5 0 1 0 -12 -0a6 5 0 1 0 12 0"/><path d="M284 699a15 7 139 1 0 23 -20a15 7 139 1 0 -23 20M241 174a14 10 100 1 0 5 -28a14 10 100 1 0 -5 28M357 506a8 5 158 1 0 14 -6a8 5 158 1 0 -14 6M287 268a10 4 19 1 0 -19 -7a10 4 19 1 0 19 7M218 82a14 11 156 1 0 26 -12a14 11 156 1 0 -26 12M239 532a19 12 9 1 0 -38 -6a19 12 9 1 0 38 6M313 268a18 8 33 1 0 -30 -20a18 8 33 1 0 30 20M152 466a10 8 82 1 0 -3 -21a10 8 82 1 0 3 21M289 489a20 8 112 1 0 14 -36a20 8 112 1 0 -14 36M278 668a13 12 38 1 0 -21 -16a13 12 38 1 0 21 16M294 680a16 5 80 1 0 -6 -32a16 5 80 1 0 6 32M383 641a11 5 66 1 0 -9 -21a11 5 66 1 0 9 21M218 611a18 6 51 1 0 -23 -28a18 6 51 1 0 23 28M211 576a11 7 104 1 0 6 -22a11 7 104 1 0 -6 22M299 616a13 12 9 1 0 -26 -4a13 12 9 1 0 26 4M333 716a13 11 64 1 0 -12 -24a13 11 64 1 0 12 24M435 691a17 6 129 1 0 22 -27a17 6 129 1 0 -22 27M220 102a14 6 112 1 0 11 -27a14 6 112 1 0 -11 27M323 624a13 8 152 1 0 22 -12a13 8 152 1 0 -22 12M281 567a10 7 150 1 0 17 -10a10 7 150 1 0 -17 10M255 568a9 4 111 1 0 7 -18a9 4 111 1 0 -7 18M267 494a14 11 121 1 0 15 -24a14 11 121 1 0 -15 24M344 648a15 4 147 1 0 26 -17a15 4 147 1 0 -26 17M126 469a8 12 13 1 0 -16 -4a8 12 13 1 0 16 4M361 272a11 7 48 1 0 -15 -16a11 7 48 1 0 15 16M226 402a12 12 14 1 0 -23 -6a12 12 14 1 0 23 6M246 200a15 7 68 1 0 -11 -27a15 7 68 1 0 11 27M218 656a9 7 60 1 0 -9 -16a9 7 60 1 0 9 16M312 669a8 9 121 1 0 9 -14a8 9 121 1 0 -9 14M113 483a10 12 58 1 0 -11 -17a10 12 58 1 0 11 17M241 343a17 9 127 1 0 20 -27a17 9 127 1 0 -20 27M301 347a8 8 46 1 0 -11 -11a8 8 46 1 0 11 11M188 232a13 11 146 1 0 22 -15a13 11 146 1 0 -22 15M255 463a16 13 39 1 0 -26 -21a16 13 39 1 0 26 21M320 562a14 5 8 1 0 -28 -4a14 5 8 1 0 28 4M284 92a13 6 60 1 0 -13 -23a13 6 60 1 0 13 23M261 343a15 11 78 1 0 -6 -29a15 11 78 1 0 6 29M158 482a15 12 55 1 0 -17 -24a15 12 55 1 0 17 24M292 552a11 13 180 1 0 22 -0a11 13 180 1 0 -22 0M313 501a15 11 81 1 0 -5 -30a15 11 81 1 0 5 30M298 506a8 7 142 1 0 13 -10a8 7 142 1 0 -13 10M151 493a18 7 22 1 0 -33 -13a18 7 22 1 0 33 13M194 206a12 8 70 1 0 -8 -22a12 8 70 1 0 8 22M376 675a11 9 99 1 0 3 -22a11 9 99 1 0 -3 22M278 368a19 8 74 1 0 -11 -37a19 8 74 1 0 11 37M329 623a12 10 137 1 0 17 -16a12 10 137 1 0 -17 16M342 554a8 11 79 1 0 -3 -16a8 11 79 1 0 3 16M245 239a18 10 155 1 0 33 -15a18 10 155 1 0 -33 15M428 602a12 10 6 1 0 -25 -3a12 10 6 1 0 25 3M297 761a11 12 124 1 0 12 -18a11 12 124 1 0 -12 18M425 654a7 10 55 1 0 -8 -12a7 10 55 1 0 8 12M103 205a15 6 177 1 0 30 -2a15 6 177 1 0 -30 2M248 185a13 6 127 1 0 15 -21a13 6 127 1 0 -15 21M273 515a12 10 178 1 0 25 -1a12 10 178 1 0 -25 1M303 502a11 5 34 1 0 -18 -12a11 5 34 1 0 18 12M202 159a15 11 51 1 0 -19 -23a15 11 51 1 0 19 23M387 632a11 5 9 1 0 -21 -3a11 5 9 1 0 21 3M303 181a11 9 100 1 0 4 -22a11 9 100 1 0 -4 22M193 490a12 5 175 1 0 24 -2a12 5 175 1 0 -24 2M326 415a16 7 59 1 0 -17 -28a16 7 59 1 0 17 28M170 246a10 11 108 1 0 6 -19a10 11 108 1 0 -6 19M265 233a8 8 107 1 0 4 -15a8 8 107 1 0 -4 15M320 740a20 9 33 1 0 -33 -21a20 9 33 1 0 33 21M251 292a14 6 77 1 0 -6 -28a14 6 77 1 0 6 28M152 208a11 7 60 1 0 -11 -19a11 7 60 1 0 11 19M341 622a13 7 147 1 0 21 -14a13 7 147 1 0 -21 14M142 543a9 5 172 1 0 19 -3a9 5 172 1 0 -19 3M335 732a7 9 26 1 0 -13 -6a7 9 26 1 0 13 6M314 744a17 9 166 1 0 34 -8a17 9 166 1 0 -34 8M228 569a7 9 120 1 0 7 -13a7 9 120 1 0 -7 13M330 478a16 5 114 1 0 13 -30a16 5 114 1 0 -13 30M136 548a14 13 50 1 0 -18 -21a14 13 50 1 0 18 21M155 522a16 13 88 1 0 -1 -31a16 13 88 1 0 1 31M227 366a15 4 56 1 0 -16 -24a15 4 56 1 0 16 24M240 670a8 11 102 1 0 3 -16a8 11 102 1 0 -3 16M149 184a20 5 60 1 0 -20 -34a20 5 60 1 0 20 34M335 570a19 9 27 1 0 -34 -17a19 9 27 1 0 34 17M195 132a7 12 34 1 0 -12 -8a7 12 34 1 0 12 8M258 582a9 7 147 1 0 15 -10a9 7 147 1 0 -15 10M213 98a10 8 163 1 0 20 -6a10 8 163 1 0 -20 6M157 628a20 5 56 1 0 -22 -33a20 5 56 1 0 22 33M198 588a10 13 54 1 0 -12 -17a10 13 54 1 0 12 17M401 594a11 7 81 1 0 -3 -21a11 7 81 1 0 3 21M151 469a16 12 77 1 0 -7 -31a16 12 77 1 0 7 31M257 232a14 4 28 1 0 -24 -13a14 4 28 1 0 24 13M107 499a18 11 176 1 0 36 -2a18 11 176 1 0 -36 2M165 134a19 7 143 1 0 31 -23a19 7 143 1 0 -31 23M168 145a15 5 164 1 0 29 -9a15 5 164 1 0 -29 9M193 374a18 11 147 1 0 31 -20a18 11 147 1 0 -31 20M194 106a10 6 177 1 0 19 -1a10 6 177 1 0 -19 1M273 179a19 5 177 1 0 37 -2a19 5 177 1 0 -37 2M244 503a10 12 143 1 0 17 -12a10 12 143 1 0 -17 12M262 564a18 10 64 1 0 -16 -33a18 10 64 1 0 16 33M221 495a11 10 51 1 0 -14 -17a11 10 51 1 0 14 17M406 616a7 7 81 1 0 -2 -14a7 7 81 1 0 2 14M255 125a8 11 98 1 0 2 -16a8 11 98 1 0 -2 16M331 781a10 8 162 1 0 19 -6a10 8 162 1 0 -19 6M222 465a20 6 164 1 0 38 -11a20 6 164 1 0 -38 11M256 181a20 7 158 1 0 37 -15a20 7 158 1 0 -37 15M129 526a20 13 79 1 0 -7 -38a20 13 79 1 0 7 38M219 182a18 5 113 1 0 14 -34a18 5 113 1 0 -14 34M394 537a19 10 100 1 0 7 -38a19 10 100 1 0 -7 38M170 87a4 5 160 1 0 8 -3a4 5 160 1 0 -8 3M181 233a6 6 25 1 0 -10 -5a6 6 25 1 0 10 5M181 196a5 6 87 1 0 -0 -10a5 6 87 1 0 0 10M233 170a7 6 159 1 0 12 -5a7 6 159 1 0 -12 5M281 239a7 6 67 1 0 -6 -13a7 6 67 1 0 6 13M260 141a7 4 170 1 0 13 -2a7 4 170 1 0 -13 2M143 211a5 3 55 1 0 -6 -9a5 3 55 1 0 6 9M130 187a7 6 160 1 0 12 -4a7 6 160 1 0 -12 4M270 143a5 5 150 1 0 8 -5a5 5 150 1 0 -8 5M217 86a4 3 168 1 0 8 -2a4 3 168 1 0 -8 2M185 188a4 5 55 1 0 -5 -7a4 5 55 1 0 5 7M161 88a8 6 138 1 0 12 -10a8 6 138 1 0 -12 10M150 158a4 7 97 1 0 1 -9a4 7 97 1 0 -1 9M124 128a5 7 131 1 0 7 -8a5 7 131 1 0 -7 8M215 170a5 6 17 1 0 -9 -3a5 6 17 1 0 9 3M170 125a9 7 111 1 0 6 -17a9 7 111 1 0 -6 17M260 88a4 3 120 1 0 4 -8a4 3 120 1 0 -4 8M146 158a7 5 4 1 0 -15 -1a7 5 4 1 0 15 1M229 85a8 5 141 1 0 12 -9a8 5 141 1 0 -12 9M151 233a8 5 25 1 0 -14 -6a8 5 25 1 0 14 6M248 85a8 5 13 1 0 -15 -3a8 5 13 1 0 15 3M217 101a8 5 137 1 0 11 -10a8 5 137 1 0 -11 10M269 167a5 4 148 1 0 9 -6a5 4 148 1 0 -9 6M216 143a5 3 128 1 0 6 -8a5 3 128 1 0 -6 8M208 250a8 5 72 1 0 -5 -15a8 5 72 1 0 5 15M261 248a6 5 117 1 0 6 -11a6 5 117 1 0 -6 11M141 134a9 6 83 1 0 -2 -17a9 6 83 1 0 2 17M153 211a9 4 166 1 0 17 -4a9 4 166 1 0 -17 4M243 182a5 7 34 1 0 -7 -5a5 7 34 1 0 7 5M198 158a9 5 8 1 0 -18 -3a9 5 8 1 0 18 3M286 104a6 6 34 1 0 -9 -6a6 6 34 1 0 9 6M280 132a8 7 120 1 0 8 -14a8 7 120 1 0 -8 14M205 146a6 6 165 1 0 11 -3a6 6 165 1 0 -11 3M228 178a7 5 136 1 0 11 -10a7 5 136 1 0 -11 10M239 77a8 6 0 1 0 -16 -0a8 6 0 1 0 16 0M322 133a8 6 0 1 0 -16 -0a8 6 0 1 0 16 0M363 293a5 4 0 1 0 -10 -0a5 4 0 1 0 10 0M359 348a5 4 0 1 0 -10 -0a5 4 0 1 0 10 0M82 105a5 4 0 1 0 -10 -0a5 4 0 1 0 10 0M81 104a5 4 0 1 0 -10 -0a5 4 0 1 0 10 0M119 98a6 5 0 1 0 -12 -0a6 5 0 1 0 12 0M120 94a6 5 0 1 0 -12 -0a6 5 0 1 0 12 0"/><path d="M253 146a18 6 37 1 0 -29 -21a18 6 37 1 0 29 21M299 644a17 10 47 1 0 -23 -24a17 10 47 1 0 23 24M390 704a9 6 111 1 0 7 -17a9 6 111 1 0 -7 17M362 214a11 6 37 1 0 -17 -13a11 6 37 1 0 17 13M244 198a7 9 167 1 0 14 -3a7 9 167 1 0 -14 3M402 515a17 6 45 1 0 -24 -24a17 6 45 1 0 24 24M311 579a10 6 79 1 0 -4 -19a10 6 79 1 0 4 19M233 290a14 11 111 1 0 10 -26a14 11 111 1 0 -10 26M266 382a20 6 40 1 0 -30 -25a20 6 40 1 0 30 25M250 185a18 10 79 1 0 -7 -35a18 10 79 1 0 7 35M205 662a19 7 138 1 0 28 -25a19 7 138 1 0 -28 25M353 761a16 10 108 1 0 10 -30a16 10 108 1 0 -10 30M247 389a13 11 92 1 0 1 -26a13 11 92 1 0 -1 26M337 486a7 9 44 1 0 -11 -10a7 9 44 1 0 11 10M127 533a15 8 150 1 0 26 -15a15 8 150 1 0 -26 15M277 337a13 6 44 1 0 -19 -19a13 6 44 1 0 19 19M333 207a9 9 53 1 0 -11 -15a9 9 53 1 0 11 15M410 697a17 12 3 1 0 -34 -2a17 12 3 1 0 34 2M127 97a9 9 100 1 0 3 -19a9 9 100 1 0 -3 19M218 207a19 9 104 1 0 9 -37a19 9 104 1 0 -9 37M314 367a16 4 52 1 0 -19 -25a16 4 52 1 0 19 25M177 420a8 10 78 1 0 -3 -15a8 10 78 1 0 3 15M214 187a12 9 18 1 0 -23 -8a12 9 18 1 0 23 8M261 292a9 8 64 1 0 -8 -16a9 8 64 1 0 8 16M180 426a15 9 23 1 0 -27 -11a15 9 23 1 0 27 11M338 283a13 9 63 1 0 -12 -23a13 9 63 1 0 12 23M157 544a9 5 90 1 0 0 -19a9 5 90 1 0 -0 19M190 420a14 7 95 1 0 2 -29a14 7 95 1 0 -2 29M258 571a13 10 143 1 0 20 -15a13 10 143 1 0 -20 15M188 598a18 6 18 1 0 -34 -11a18 6 18 1 0 34 11M342 579a17 6 58 1 0 -18 -29a17 6 58 1 0 18 29M357 376a12 8 98 1 0 3 -24a12 8 98 1 0 -3 24M238 230a10 11 83 1 0 -2 -19a10 11 83 1 0 2 19M144 155a19 11 105 1 0 9 -36a19 11 105 1 0 -9 36M200 396a16 11 28 1 0 -28 -15a16 11 28 1 0 28 15M270 675a10 7 67 1 0 -8 -18a10 7 67 1 0 8 18M272 342a14 12 134 1 0 19 -20a14 12 134 1 0 -19 20M397 629a17 11 63 1 0 -15 -30a17 11 63 1 0 15 30M276 516a10 12 6 1 0 -20 -2a10 12 6 1 0 20 2M214 222a14 10 175 1 0 28 -3a14 10 175 1 0 -28 3M163 540a9 8 75 1 0 -4 -17a9 8 75 1 0 4 17M224 609a12 13 158 1 0 22 -9a12 13 158 1 0 -22 9M298 286a19 8 52 1 0 -23 -29a19 8 52 1 0 23 29M245 193a7 9 94 1 0 1 -14a7 9 94 1 0 -1 14M181 449a12 5 13 1 0 -23 -5a12 5 13 1 0 23 5M143 93a15 10 37 1 0 -24 -18a15 10 37 1 0 24 18M228 202a17 7 15 1 0 -33 -9a17 7 15 1 0 33 9M253 132a11 6 19 1 0 -21 -7a11 6 19 1 0 21 7M321 761a12 5 78 1 0 -5 -24a12 5 78 1 0 5 24M267 166a13 4 9 1 0 -26 -4a13 4 9 1 0 26 4M224 404a10 5 135 1 0 14 -14a10 5 135 1 0 -14 14M254 127a12 12 87 1 0 -1 -23a12 12 87 1 0 1 23M126 166a12 8 13 1 0 -23 -5a12 8 13 1 0 23 5M232 83a11 5 4 1 0 -21 -2a11 5 4 1 0 21 2M334 283a12 8 30 1 0 -21 -12a12 8 30 1 0 21 12M329 147a19 9 0 1 0 -38 -0a19 9 0 1 0 38 0M353 467a8 10 129 1 0 10 -12a8 10 129 1 0 -10 12M324 260a12 9 69 1 0 -8 -22a12 9 69 1 0 8 22M404 540a7 8 83 1 0 -2 -15a7 8 83 1 0 2 15M279 195a14 11 90 1 0 0 -28a14 11 90 1 0 -0 28M385 610a18 12 2 1 0 -36 -1a18 12 2 1 0 36 1M249 669a12 12 22 1 0 -23 -9a12 12 22 1 0 23 9M235 288a8 5 177 1 0 17 -1a8 5 177 1 0 -17 1M248 630a15 10 67 1 0 -11 -27a15 10 67 1 0 11 27M306 594a15 8 126 1 0 18 -24a15 8 126 1 0 -18 24M379 779a16 8 61 1 0 -16 -29a16 8 61 1 0 16 29M106 556a7 11 141 1 0 12 -9a7 11 141 1 0 -12 9M115 177a11 11 121 1 0 11 -18a11 11 121 1 0 -11 18M125 173a15 10 123 1 0 16 -25a15 10 123 1 0 -16 25M72 538a18 10 133 1 0 25 -27a18 10 133 1 0 -25 27M195 209a13 9 57 1 0 -14 -21a13 9 57 1 0 14 21M190 103a11 5 59 1 0 -12 -19a11 5 59 1 0 12 19M329 552a20 12 55 1 0 -23 -32a20 12 55 1 0 23 32M236 612a19 11 22 1 0 -35 -14a19 11 22 1 0 35 14M323 507a17 11 44 1 0 -24 -24a17 11 44 1 0 24 24M314 765a9 9 83 1 0 -2 -19a9 9 83 1 0 2 19M401 542a8 11 24 1 0 -15 -7a8 11 24 1 0 15 7M246 432a19 8 161 1 0 35 -12a19 8 161 1 0 -35 12M341 386a13 7 37 1 0 -21 -15a13 7 37 1 0 21 15M332 647a9 12 52 1 0 -12 -15a9 12 52 1 0 12 15M418 628a16 6 74 1 0 -9 -31a16 6 74 1 0 9 31M428 709a14 5 84 1 0 -3 -29a14 5 84 1 0 3 29M342 269a8 9 27 1 0 -14 -7a8 9 27 1 0 14 7M298 226a10 12 160 1 0 19 -7a10 12 160 1 0 -19 7M178 491a14 5 4 1 0 -28 -2a14 5 4 1 0 28 2M210 667a14 10 164 1 0 28 -8a14 10 164 1 0 -28 8M262 319a14 7 6 1 0 -29 -3a14 7 6 1 0 29 3M251 547a19 9 37 1 0 -31 -23a19 9 37 1 0 31 23M158 514a17 8 79 1 0 -7 -33a17 8 79 1 0 7 33M407 666a15 10 57 1 0 -16 -25a15 10 57 1 0 16 25M245 281a17 8 123 1 0 19 -29a17 8 123 1 0 -19 29M278 211a16 7 77 1 0 -7 -31a16 7 77 1 0 7 31M191 448a20 10 46 1 0 -27 -28a20 10 46 1 0 27 28M240 662a16 9 167 1 0 30 -7a16 9 167 1 0 -30 7M205 576a16 10 53 1 0 -19 -25a16 10 53 1 0 19 25M280 730a14 4 166 1 0 27 -7a14 4 166 1 0 -27 7M219 668a11 9 131 1 0 14 -16a11 9 131 1 0 -14 16M374 477a14 12 168 1 0 26 -5a14 12 168 1 0 -26 5M339 408a17 9 130 1 0 22 -27a17 9 130 1 0 -22 27M256 540a13 12 134 1 0 18 -18a13 12 134 1 0 -18 18M318 512a11 4 21 1 0 -20 -8a11 4 21 1 0 20 8M295 243a11 7 108 1 0 7 -22a11 7 108 1 0 -7 22M316 208a18 9 109 1 0 12 -34a18 9 109 1 0 -12 34M255 75a6 5 149 1 0 10 -6a6 5 149 1 0 -10 6M206 102a4 6 93 1 0 0 -8a4 6 93 1 0 -0 8M173 240a5 6 6 1 0 -9 -1a5 6 6 1 0 9 1M256 89a5 6 94 1 0 1 -10a5 6 94 1 0 -1 10M289 203a6 3 164 1 0 12 -4a6 3 164 1 0 -12 4M123 179a9 4 85 1 0 -1 -17a9 4 85 1 0 1 17M215 182a5 5 138 1 0 8 -7a5 5 138 1 0 -8 7M168 160a6 5 39 1 0 -9 -8a6 5 39 1 0 9 8M143 101a7 6 52 1 0 -9 -12a7 6 52 1 0 9 12M214 130a6 5 178 1 0 12 -0a6 5 178 1 0 -12 0M263 212a4 4 103 1 0 2 -8a4 4 103 1 0 -2 8M266 93a5 5 8 1 0 -11 -2a5 5 8 1 0 11 2M244 185a5 4 53 1 0 -5 -7a5 4 53 1 0 5 7M259 226a8 4 47 1 0 -11 -12a8 4 47 1 0 11 12M150 127a7 4 28 1 0 -12 -6a7 4 28 1 0 12 6M187 163a6 7 37 1 0 -10 -7a6 7 37 1 0 10 7M236 192a5 6 32 1 0 -8 -5a5 6 32 1 0 8 5M221 114a6 4 91 1 0 0 -12a6 4 91 1 0 -0 12M295 177a8 7 24 1 0 -14 -6a8 7 24 1 0 14 6M236 154a5 3 20 1 0 -10 -4a5 3 20 1 0 10 4M221 63a6 5 0 1 0 -12 -0a6 5 0 1 0 12 0M233 82a8 6 0 1 0 -16 -0a8 6 0 1 0 16 0M234 78a8 6 0 1 0 -16 -0a8 6 0 1 0 16 0M255 86a7 6 0 1 0 -14 -0a7 6 0 1 0 14 0M292 81a7 6 0 1 0 -14 -0a7 6 0 1 0 14 0M295 97a6 5 0 1 0 -12 -0a6 5 0 1 0 12 0M325 131a8 6 0 1 0 -16 -0a8 6 0 1 0 16 0M370 160a6 5 0 1 0 -12 -0a6 5 0 1 0 12 0"/><path d="M299 243a12 11 120 1 0 11 -20a12 11 120 1 0 -11 20M187 414a16 7 27 1 0 -28 -14a16 7 27 1 0 28 14M302 683a7 12 179 1 0 15 -0a7 12 179 1 0 -15 0M183 125a19 4 125 1 0 22 -30a19 4 125 1 0 -22 30M166 630a15 11 77 1 0 -7 -29a15 11 77 1 0 7 29M278 237a9 13 173 1 0 17 -2a9 13 173 1 0 -17 2M378 691a19 12 69 1 0 -14 -36a19 12 69 1 0 14 36M205 587a14 8 28 1 0 -24 -13a14 8 28 1 0 24 13M296 661a12 7 52 1 0 -15 -19a12 7 52 1 0 15 19M179 122a15 10 34 1 0 -24 -16a15 10 34 1 0 24 16M278 443a20 12 85 1 0 -3 -40a20 12 85 1 0 3 40M291 341a18 13 119 1 0 17 -31a18 13 119 1 0 -17 31M281 685a8 10 94 1 0 1 -16a8 10 94 1 0 -1 16M93 506a13 5 144 1 0 21 -15a13 5 144 1 0 -21 15M242 391a9 9 109 1 0 6 -16a9 9 109 1 0 -6 16M135 560a14 9 58 1 0 -15 -24a14 9 58 1 0 15 24M433 654a12 8 63 1 0 -11 -22a12 8 63 1 0 11 22M305 153a17 12 158 1 0 32 -13a17 12 158 1 0 -32 13M340 723a18 8 33 1 0 -30 -20a18 8 33 1 0 30 20M332 745a16 12 165 1 0 31 -8a16 12 165 1 0 -31 8M129 204a12 4 70 1 0 -8 -22a12 4 70 1 0 8 22M206 91a8 9 67 1 0 -6 -15a8 9 67 1 0 6 15M157 404a8 9 77 1 0 -3 -15a8 9 77 1 0 3 15M182 446a16 6 36 1 0 -25 -18a16 6 36 1 0 25 18M278 532a14 10 129 1 0 18 -22a14 10 129 1 0 -18 22M249 613a13 7 123 1 0 15 -23a13 7 123 1 0 -15 23M118 508a12 8 30 1 0 -21 -12a12 8 30 1 0 21 12M359 512a10 11 112 1 0 7 -18a10 11 112 1 0 -7 18M318 658a16 5 65 1 0 -14 -29a16 5 65 1 0 14 29M253 511a14 5 147 1 0 23 -15a14 5 147 1 0 -23 15M360 407a12 7 45 1 0 -18 -17a12 7 45 1 0 18 17M404 708a14 6 154 1 0 25 -12a14 6 154 1 0 -25 12M280 450a20 5 153 1 0 35 -18a20 5 153 1 0 -35 18M396 717a12 5 83 1 0 -3 -23a12 5 83 1 0 3 23M307 526a14 10 22 1 0 -26 -11a14 10 22 1 0 26 11M160 610a10 11 110 1 0 7 -19a10 11 110 1 0 -7 19M151 128a13 6 71 1 0 -8 -24a13 6 71 1 0 8 24M226 607a9 10 26 1 0 -15 -8a9 10 26 1 0 15 8M340 206a14 12 15 1 0 -28 -8a14 12 15 1 0 28 8M236 496a7 11 154 1 0 13 -6a7 11 154 1 0 -13 6M442 641a18 8 23 1 0 -34 -14a18 8 23 1 0 34 14M165 197a11 8 45 1 0 -16 -16a11 8 45 1 0 16 16M192 679a18 5 154 1 0 32 -15a18 5 154 1 0 -32 15M193 425a11 12 118 1 0 10 -19a11 12 118 1 0 -10 19M349 777a13 11 15 1 0 -24 -6a13 11 15 1 0 24 6M172 435a11 8 141 1 0 18 -15a11 8 141 1 0 -18 15M156 200a12 13 95 1 0 2 -24a12 13 95 1 0 -2 24M364 616a14 8 1 1 0 -28 -0a14 8 1 1 0 28 0M268 250a9 13 27 1 0 -16 -8a9 13 27 1 0 16 8M283 499a12 7 128 1 0 15 -19a12 7 128 1 0 -15 19M347 751a17 5 161 1 0 33 -11a17 5 161 1 0 -33 11M187 223a12 5 109 1 0 8 -23a12 5 109 1 0 -8 23M313 516a13 8 167 1 0 25 -6a13 8 167 1 0 -25 6M312 630a17 12 101 1 0 6 -33a17 12 101 1 0 -6 33M189 111a17 10 149 1 0 30 -18a17 10 149 1 0 -30 18M417 573a17 8 89 1 0 -0 -34a17 8 89 1 0 0 34M263 462a8 7 64 1 0 -7 -14a8 7 64 1 0 7 14M321 645a17 10 99 1 0 5 -34a17 10 99 1 0 -5 34M388 401a18 6 15 1 0 -35 -9a18 6 15 1 0 35 9M312 300a8 5 60 1 0 -8 -14a8 5 60 1 0 8 14M364 725a13 11 166 1 0 25 -6a13 11 166 1 0 -25 6M279 353a11 11 9 1 0 -21 -3a11 11 9 1 0 21 3M245 598a10 7 79 1 0 -4 -20a10 7 79 1 0 4 20M296 220a13 12 44 1 0 -19 -18a13 12 44 1 0 19 18M440 636a15 7 60 1 0 -15 -26a15 7 60 1 0 15 26M277 312a11 6 78 1 0 -4 -21a11 6 78 1 0 4 21M410 606a10 6 13 1 0 -20 -5a10 6 13 1 0 20 5M346 733a15 9 67 1 0 -11 -27a15 9 67 1 0 11 27M207 501a12 12 67 1 0 -9 -21a12 12 67 1 0 9 21M222 580a8 12 55 1 0 -9 -14a8 12 55 1 0 9 14M119 574a13 9 86 1 0 -2 -26a13 9 86 1 0 2 26M261 176a7 6 177 1 0 14 -1a7 6 177 1 0 -14 1M251 213a20 8 12 1 0 -38 -8a20 8 12 1 0 38 8M278 602a14 9 104 1 0 7 -27a14 9 104 1 0 -7 27M400 507a13 12 16 1 0 -26 -7a13 12 16 1 0 26 7M214 672a17 4 78 1 0 -7 -34a17 4 78 1 0 7 34M143 130a9 13 154 1 0 16 -8a9 13 154 1 0 -16 8M204 403a9 6 16 1 0 -17 -5a9 6 16 1 0 17 5M198 85a8 12 53 1 0 -9 -12a8 12 53 1 0 9 12M361 628a10 7 136 1 0 14 -14a10 7 136 1 0 -14 14M143 228a13 7 38 1 0 -20 -16a13 7 38 1 0 20 16M155 470a15 10 172 1 0 31 -4a15 10 172 1 0 -31 4M112 468a8 12 105 1 0 4 -16a8 12 105 1 0 -4 16M312 482a19 12 134 1 0 26 -27a19 12 134 1 0 -26 27M238 99a12 9 0 1 0 -24 -0a12 9 0 1 0 24 0M166 517a15 13 173 1 0 30 -4a15 13 173 1 0 -30 4M163 481a14 10 6 1 0 -27 -3a14 10 6 1 0 27 3M413 699a16 11 80 1 0 -6 -32a16 11 80 1 0 6 32M295 566a11 8 142 1 0 17 -14a11 8 142 1 0 -17 14M242 218a17 9 5 1 0 -35 -3a17 9 5 1 0 35 3M236 694a12 11 110 1 0 8 -22a12 11 110 1 0 -8 22M308 360a8 13 170 1 0 15 -3a8 13 170 1 0 -15 3M421 550a15 6 112 1 0 11 -28a15 6 112 1 0 -11 28M373 489a8 5 136 1 0 11 -11a8 5 136 1 0 -11 11M278 625a13 9 143 1 0 21 -16a13 9 143 1 0 -21 16M159 573a13 5 173 1 0 25 -3a13 5 173 1 0 -25 3M274 700a9 12 169 1 0 17 -3a9 12 169 1 0 -17 3M175 446a9 10 35 1 0 -15 -11a9 10 35 1 0 15 11M367 707a19 5 70 1 0 -13 -36a19 5 70 1 0 13 36M188 176a15 6 4 1 0 -29 -2a15 6 4 1 0 29 2M285 391a17 10 106 1 0 9 -33a17 10 106 1 0 -9 33M203 588a11 7 56 1 0 -12 -18a11 7 56 1 0 12 18M301 762a16 10 160 1 0 30 -11a16 10 160 1 0 -30 11M100 513a9 8 52 1 0 -11 -14a9 8 52 1 0 11 14M310 662a11 7 11 1 0 -21 -4a11 7 11 1 0 21 4M285 722a16 7 113 1 0 12 -29a16 7 113 1 0 -12 29M309 209a20 4 8 1 0 -40 -6a20 4 8 1 0 40 6M328 203a14 12 48 1 0 -18 -20a14 12 48 1 0 18 20M108 513a16 6 148 1 0 27 -17a16 6 148 1 0 -27 17M354 771a15 7 78 1 0 -7 -30a15 7 78 1 0 7 30M115 463a14 11 4 1 0 -27 -2a14 11 4 1 0 27 2M132 586a9 6 54 1 0 -11 -15a9 6 54 1 0 11 15M120 460a9 9 176 1 0 18 -1a9 9 176 1 0 -18 1M82 470a13 8 151 1 0 24 -13a13 8 151 1 0 -24 13M360 639a17 10 179 1 0 34 -1a17 10 179 1 0 -34 1M204 238a13 5 170 1 0 25 -4a13 5 170 1 0 -25 4M333 772a9 6 92 1 0 1 -17a9 6 92 1 0 -1 17M115 514a10 13 113 1 0 8 -18a10 13 113 1 0 -8 18M360 552a9 10 146 1 0 15 -10a9 10 146 1 0 -15 10M252 653a20 5 64 1 0 -17 -36a20 5 64 1 0 17 36M259 442a19 11 7 1 0 -37 -5a19 11 7 1 0 37 5M133 77a9 5 166 1 0 17 -4a9 5 166 1 0 -17 4M194 134a8 6 162 1 0 16 -5a8 6 162 1 0 -16 5M238 127a7 3 125 1 0 9 -12a7 3 125 1 0 -9 12M123 172a8 4 57 1 0 -9 -14a8 4 57 1 0 9 14M199 135a7 4 120 1 0 7 -13a7 4 120 1 0 -7 13M262 183a6 3 120 1 0 6 -11a6 3 120 1 0 -6 11M164 242a6 4 79 1 0 -2 -12a6 4 79 1 0 2 12M160 131a4 4 23 1 0 -8 -3a4 4 23 1 0 8 3M144 185a8 5 102 1 0 3 -15a8 5 102 1 0 -3 15M132 252a8 4 95 1 0 1 -16a8 4 95 1 0 -1 16M284 171a5 5 137 1 0 8 -7a5 5 137 1 0 -8 7M165 193a7 5 49 1 0 -9 -10a7 5 49 1 0 9 10M186 155a4 5 39 1 0 -6 -5a4 5 39 1 0 6 5M205 117a6 7 44 1 0 -8 -8a6 7 44 1 0 8 8M139 226a8 6 51 1 0 -10 -12a8 6 51 1 0 10 12M227 217a9 3 50 1 0 -11 -13a9 3 50 1 0 11 13M287 200a9 7 64 1 0 -8 -16a9 7 64 1 0 8 16M268 167a6 7 101 1 0 2 -11a6 7 101 1 0 -2 11M140 232a7 5 13 1 0 -14 -3a7 5 13 1 0 14 3M274 112a8 6 140 1 0 12 -10a8 6 140 1 0 -12 10M147 115a6 3 12 1 0 -12 -2a6 3 12 1 0 12 2M267 152a5 7 121 1 0 5 -8a5 7 121 1 0 -5 8M156 183a7 3 153 1 0 13 -6a7 3 153 1 0 -13 6M196 114a8 6 15 1 0 -16 -4a8 6 15 1 0 16 4M300 203a7 6 55 1 0 -8 -12a7 6 55 1 0 8 12M255 118a5 6 69 1 0 -3 -9a5 6 69 1 0 3 9M281 147a5 7 4 1 0 -9 -1a5 7 4 1 0 9 1M167 179a5 6 157 1 0 9 -4a5 6 157 1 0 -9 4M262 96a5 5 22 1 0 -10 -4a5 5 22 1 0 10 4M215 148a5 5 176 1 0 10 -1a5 5 176 1 0 -10 1M156 220a5 4 81 1 0 -2 -11a5 4 81 1 0 2 11M201 58a4 3 0 1 0 -8 -0a4 3 0 1 0 8 0M204 72a8 6 0 1 0 -16 -0a8 6 0 1 0 16 0M280 65a8 6 0 1 0 -16 -0a8 6 0 1 0 16 0M342 163a9 7 0 1 0 -18 -0a9 7 0 1 0 18 0M119 95a6 5 0 1 0 -12 -0a6 5 0 1 0 12 0"/><path d="M236 76a19 8 160 1 0 36 -13a19 8 160 1 0 -36 13M360 782a14 7 137 1 0 20 -19a14 7 137 1 0 -20 19M293 403a18 13 137 1 0 26 -24a18 13 137 1 0 -26 24M272 688a9 6 82 1 0 -2 -18a9 6 82 1 0 2 18M260 633a11 12 18 1 0 -21 -7a11 12 18 1 0 21 7M133 134a12 12 98 1 0 3 -24a12 12 98 1 0 -3 24M194 476a17 11 25 1 0 -30 -14a17 11 25 1 0 30 14M314 501a20 5 41 1 0 -29 -26a20 5 41 1 0 29 26M170 102a10 4 93 1 0 1 -19a10 4 93 1 0 -1 19M246 442a18 5 5 1 0 -35 -3a18 5 5 1 0 35 3M171 527a11 5 107 1 0 7 -22a11 5 107 1 0 -7 22M251 153a15 6 159 1 0 28 -11a15 6 159 1 0 -28 11M302 457a18 7 168 1 0 35 -7a18 7 168 1 0 -35 7M240 153a8 10 83 1 0 -2 -16a8 10 83 1 0 2 16M261 456a19 7 1 1 0 -37 -1a19 7 1 1 0 37 1M228 88a11 9 110 1 0 8 -21a11 9 110 1 0 -8 21M365 750a20 12 179 1 0 39 -1a20 12 179 1 0 -39 1M200 149a19 6 110 1 0 13 -36a19 6 110 1 0 -13 36M295 222a19 5 37 1 0 -31 -23a19 5 37 1 0 31 23M166 146a13 7 14 1 0 -26 -7a13 7 14 1 0 26 7M304 382a18 11 1 1 0 -36 -1a18 11 1 1 0 36 1M179 229a16 5 51 1 0 -20 -25a16 5 51 1 0 20 25M309 464a17 6 160 1 0 32 -12a17 6 160 1 0 -32 12M321 427a13 9 128 1 0 16 -20a13 9 128 1 0 -16 20M134 228a8 11 65 1 0 -7 -14a8 11 65 1 0 7 14M419 660a7 13 147 1 0 12 -8a7 13 147 1 0 -12 8M358 486a10 6 3 1 0 -20 -1a10 6 3 1 0 20 1M269 366a19 6 7 1 0 -37 -4a19 6 7 1 0 37 4M317 709a11 5 83 1 0 -3 -21a11 5 83 1 0 3 21M246 193a10 5 148 1 0 18 -11a10 5 148 1 0 -18 11M193 444a11 6 61 1 0 -11 -20a11 6 61 1 0 11 20M269 478a14 12 22 1 0 -26 -10a14 12 22 1 0 26 10M369 377a17 6 35 1 0 -29 -20a17 6 35 1 0 29 20M235 522a14 7 105 1 0 7 -27a14 7 105 1 0 -7 27M320 173a10 7 23 1 0 -18 -8a10 7 23 1 0 18 8M299 177a9 6 169 1 0 17 -3a9 6 169 1 0 -17 3M138 174a8 9 75 1 0 -4 -15a8 9 75 1 0 4 15M281 550a15 9 72 1 0 -10 -29a15 9 72 1 0 10 29M269 306a9 5 80 1 0 -3 -18a9 5 80 1 0 3 18M248 409a14 5 90 1 0 -0 -28a14 5 90 1 0 0 28M117 529a15 6 33 1 0 -24 -16a15 6 33 1 0 24 16M344 641a18 12 40 1 0 -27 -23a18 12 40 1 0 27 23M309 388a11 12 126 1 0 13 -18a11 12 126 1 0 -13 18M270 689a8 6 46 1 0 -11 -12a8 6 46 1 0 11 12M227 412a12 10 126 1 0 15 -20a12 10 126 1 0 -15 20M375 572a10 8 9 1 0 -20 -3a10 8 9 1 0 20 3M165 620a16 6 159 1 0 29 -11a16 6 159 1 0 -29 11M375 208a14 11 58 1 0 -15 -23a14 11 58 1 0 15 23M223 635a15 6 152 1 0 26 -14a15 6 152 1 0 -26 14M241 401a18 11 35 1 0 -30 -21a18 11 35 1 0 30 21M137 546a10 9 46 1 0 -14 -15a10 9 46 1 0 14 15M232 317a20 7 107 1 0 11 -37a20 7 107 1 0 -11 37M342 565a14 7 178 1 0 27 -1a14 7 178 1 0 -27 1M220 430a9 5 179 1 0 18 -0a9 5 179 1 0 -18 0M256 584a16 9 89 1 0 -1 -32a16 9 89 1 0 1 32M193 554a12 10 102 1 0 5 -23a12 10 102 1 0 -5 23M414 614a11 11 122 1 0 11 -18a11 11 122 1 0 -11 18M393 784a18 7 51 1 0 -22 -27a18 7 51 1 0 22 27M231 501a15 7 119 1 0 14 -26a15 7 119 1 0 -14 26M230 224a18 12 53 1 0 -21 -28a18 12 53 1 0 21 28M297 238a12 4 28 1 0 -22 -12a12 4 28 1 0 22 12M226 340a7 8 133 1 0 10 -11a7 8 133 1 0 -10 11M259 114a9 4 111 1 0 7 -18a9 4 111 1 0 -7 18M269 674a20 5 163 1 0 38 -11a20 5 163 1 0 -38 11M285 558a7 13 5 1 0 -15 -1a7 13 5 1 0 15 1M416 663a11 4 110 1 0 7 -20a11 4 110 1 0 -7 20M174 459a15 6 57 1 0 -16 -25a15 6 57 1 0 16 25M374 676a7 9 76 1 0 -4 -14a7 9 76 1 0 4 14M418 570a17 11 54 1 0 -20 -28a17 11 54 1 0 20 28M360 723a13 5 62 1 0 -12 -22a13 5 62 1 0 12 22M373 585a17 11 104 1 0 8 -33a17 11 104 1 0 -8 33M395 608a19 9 6 1 0 -37 -4a19 9 6 1 0 37 4M88 535a11 11 115 1 0 9 -20a11 11 115 1 0 -9 20M197 410a12 5 42 1 0 -18 -16a12 5 42 1 0 18 16M316 178a13 9 100 1 0 4 -26a13 9 100 1 0 -4 26M332 547a12 5 16 1 0 -23 -7a12 5 16 1 0 23 7M230 449a16 11 22 1 0 -29 -12a16 11 22 1 0 29 12M252 390a17 6 140 1 0 26 -22a17 6 140 1 0 -26 22M308 343a9 11 97 1 0 2 -18a9 11 97 1 0 -2 18M134 201a13 8 38 1 0 -20 -16a13 8 38 1 0 20 16M269 744a16 12 107 1 0 9 -30a16 12 107 1 0 -9 30M241 279a11 10 145 1 0 18 -13a11 10 145 1 0 -18 13M191 506a17 6 12 1 0 -33 -7a17 6 12 1 0 33 7M256 333a14 6 67 1 0 -11 -25a14 6 67 1 0 11 25M393 517a17 8 130 1 0 22 -25a17 8 130 1 0 -22 25M304 571a18 5 56 1 0 -20 -31a18 5 56 1 0 20 31M133 225a13 9 105 1 0 7 -26a13 9 105 1 0 -7 26M247 125a13 12 83 1 0 -3 -27a13 12 83 1 0 3 27M390 726a16 8 150 1 0 28 -16a16 8 150 1 0 -28 16M250 241a17 8 93 1 0 2 -34a17 8 93 1 0 -2 34M235 547a7 6 129 1 0 9 -11a7 6 129 1 0 -9 11M391 638a16 6 170 1 0 31 -6a16 6 170 1 0 -31 6M350 527a8 10 12 1 0 -15 -3a8 10 12 1 0 15 3M373 629a18 4 3 1 0 -36 -2a18 4 3 1 0 36 2M321 298a11 5 97 1 0 3 -21a11 5 97 1 0 -3 21M409 711a15 4 136 1 0 21 -21a15 4 136 1 0 -21 21M277 696a7 5 150 1 0 12 -7a7 5 150 1 0 -12 7M232 143a13 9 43 1 0 -19 -17a13 9 43 1 0 19 17M347 772a10 12 45 1 0 -15 -14a10 12 45 1 0 15 14M325 740a12 8 134 1 0 17 -18a12 8 134 1 0 -17 18M263 252a12 12 160 1 0 22 -8a12 12 160 1 0 -22 8M174 126a20 11 136 1 0 28 -27a20 11 136 1 0 -28 27M240 505a16 8 86 1 0 -2 -31a16 8 86 1 0 2 31M286 486a10 7 100 1 0 3 -19a10 7 100 1 0 -3 19M232 154a10 5 21 1 0 -19 -7a10 5 21 1 0 19 7M332 643a14 8 27 1 0 -25 -13a14 8 27 1 0 25 13M262 217a8 8 39 1 0 -12 -10a8 8 39 1 0 12 10M364 656a11 12 152 1 0 19 -10a11 12 152 1 0 -19 10M136 554a9 6 162 1 0 16 -5a9 6 162 1 0 -16 5M264 99a19 6 97 1 0 4 -37a19 6 97 1 0 -4 37M108 515a13 10 77 1 0 -6 -25a13 10 77 1 0 6 25M315 281a10 10 61 1 0 -9 -17a10 10 61 1 0 9 17M190 601a12 9 52 1 0 -15 -19a12 9 52 1 0 15 19M118 524a20 13 104 1 0 10 -38a20 13 104 1 0 -10 38M256 143a14 6 57 1 0 -15 -24a14 6 57 1 0 15 24M320 352a17 6 163 1 0 33 -10a17 6 163 1 0 -33 10M178 571a12 12 165 1 0 22 -6a12 12 165 1 0 -22 6M258 528a15 12 137 1 0 22 -21a15 12 137 1 0 -22 21M133 129a14 6 154 1 0 26 -13a14 6 154 1 0 -26 13M363 530a10 7 56 1 0 -11 -16a10 7 56 1 0 11 16M340 620a12 4 71 1 0 -8 -23a12 4 71 1 0 8 23M218 634a18 13 142 1 0 28 -22a18 13 142 1 0 -28 22M246 256a13 5 157 1 0 25 -10a13 5 157 1 0 -25 10M286 141a5 4 87 1 0 -1 -11a5 4 87 1 0 1 11M145 249a6 3 111 1 0 4 -10a6 3 111 1 0 -4 10M273 189a8 6 111 1 0 6 -15a8 6 111 1 0 -6 15M296 160a9 5 101 1 0 3 -17a9 5 101 1 0 -3 17M232 94a7 5 123 1 0 8 -12a7 5 123 1 0 -8 12M232 127a7 3 128 1 0 9 -11a7 3 128 1 0 -9 11M225 108a7 6 17 1 0 -13 -4a7 6 17 1 0 13 4M155 169a5 6 45 1 0 -7 -7a5 6 45 1 0 7 7M225 239a8 5 83 1 0 -2 -15a8 5 83 1 0 2 15M126 97a4 7 118 1 0 4 -7a4 7 118 1 0 -4 7M199 176a6 4 131 1 0 7 -8a6 4 131 1 0 -7 8M237 90a6 4 158 1 0 12 -5a6 4 158 1 0 -12 5M152 140a6 3 12 1 0 -12 -3a6 3 12 1 0 12 3M172 155a8 7 116 1 0 7 -14a8 7 116 1 0 -7 14M245 202a9 6 47 1 0 -12 -13a9 6 47 1 0 12 13M294 156a7 5 62 1 0 -7 -13a7 5 62 1 0 7 13M168 93a6 4 118 1 0 5 -10a6 4 118 1 0 -5 10M266 224a4 6 100 1 0 2 -8a4 6 100 1 0 -2 8M145 122a9 6 42 1 0 -13 -12a9 6 42 1 0 13 12M240 173a7 4 45 1 0 -11 -10a7 4 45 1 0 11 10M192 161a7 4 58 1 0 -8 -13a7 4 58 1 0 8 13M222 89a5 6 118 1 0 5 -9a5 6 118 1 0 -5 9M279 169a6 6 115 1 0 5 -11a6 6 115 1 0 -5 11M238 184a9 7 158 1 0 16 -6a9 7 158 1 0 -16 6M200 56a4 3 0 1 0 -8 -0a4 3 0 1 0 8 0M200 58a4 3 0 1 0 -8 -0a4 3 0 1 0 8 0M150 79a7 6 0 1 0 -14 -0a7 6 0 1 0 14 0M150 82a7 6 0 1 0 -14 -0a7 6 0 1 0 14 0M202 74a8 6 0 1 0 -16 -0a8 6 0 1 0 16 0M275 65a8 6 0 1 0 -16 -0a8 6 0 1 0 16 0M295 96a6 5 0 1 0 -12 -0a6 5 0 1 0 12 0M56 162a5 4 0 1 0 -10 -0a5 4 0 1 0 10 0"/><path d="M249 619a13 4 20 1 0 -25 -9a13 4 20 1 0 25 9M331 650a19 10 32 1 0 -33 -21a19 10 32 1 0 33 21M399 533a10 5 84 1 0 -2 -19a10 5 84 1 0 2 19M240 647a11 4 56 1 0 -12 -18a11 4 56 1 0 12 18M285 338a11 10 163 1 0 21 -6a11 10 163 1 0 -21 6M191 436a17 10 33 1 0 -28 -18a17 10 33 1 0 28 18M294 482a17 7 165 1 0 33 -9a17 7 165 1 0 -33 9M113 465a17 5 171 1 0 33 -6a17 5 171 1 0 -33 6M127 493a12 7 94 1 0 2 -23a12 7 94 1 0 -2 23M313 467a17 5 179 1 0 33 -0a17 5 179 1 0 -33 0M193 421a9 4 67 1 0 -7 -17a9 4 67 1 0 7 17M238 332a14 7 153 1 0 25 -13a14 7 153 1 0 -25 13M319 702a7 6 137 1 0 11 -10a7 6 137 1 0 -11 10M195 595a7 12 108 1 0 4 -14a7 12 108 1 0 -4 14M238 568a20 9 9 1 0 -39 -6a20 9 9 1 0 39 6M257 556a14 9 67 1 0 -11 -26a14 9 67 1 0 11 26M302 288a11 8 120 1 0 12 -20a11 8 120 1 0 -12 20M237 477a8 5 146 1 0 14 -9a8 5 146 1 0 -14 9M390 766a10 12 12 1 0 -19 -4a10 12 12 1 0 19 4M248 376a13 5 137 1 0 19 -18a13 5 137 1 0 -19 18M385 713a8 12 178 1 0 15 -1a8 12 178 1 0 -15 1M226 620a7 6 71 1 0 -5 -14a7 6 71 1 0 5 14M400 566a7 9 145 1 0 11 -8a7 9 145 1 0 -11 8M261 351a12 7 59 1 0 -12 -20a12 7 59 1 0 12 20M236 525a8 11 85 1 0 -2 -17a8 11 85 1 0 2 17M127 481a19 10 70 1 0 -13 -36a19 10 70 1 0 13 36M356 735a11 5 166 1 0 21 -5a11 5 166 1 0 -21 5M320 287a15 10 70 1 0 -11 -29a15 10 70 1 0 11 29M380 569a9 5 77 1 0 -4 -18a9 5 77 1 0 4 18M201 570a19 10 19 1 0 -36 -13a19 10 19 1 0 36 13M243 495a15 5 167 1 0 29 -7a15 5 167 1 0 -29 7M340 193a10 6 84 1 0 -2 -19a10 6 84 1 0 2 19M211 638a17 9 39 1 0 -27 -22a17 9 39 1 0 27 22M247 163a10 6 168 1 0 19 -4a10 6 168 1 0 -19 4M366 559a8 10 137 1 0 12 -11a8 10 137 1 0 -12 11M281 227a16 12 49 1 0 -20 -24a16 12 49 1 0 20 24M225 93a17 13 109 1 0 11 -32a17 13 109 1 0 -11 32M144 571a8 9 53 1 0 -10 -13a8 9 53 1 0 10 13M313 219a9 10 29 1 0 -16 -9a9 10 29 1 0 16 9M188 150a14 4 69 1 0 -10 -26a14 4 69 1 0 10 26M323 660a16 10 93 1 0 2 -31a16 10 93 1 0 -2 31M154 483a19 6 177 1 0 39 -2a19 6 177 1 0 -39 2M300 429a14 7 6 1 0 -29 -3a14 7 6 1 0 29 3M217 79a17 7 168 1 0 33 -7a17 7 168 1 0 -33 7M280 639a14 10 26 1 0 -25 -12a14 10 26 1 0 25 12M260 147a18 5 161 1 0 34 -12a18 5 161 1 0 -34 12M188 396a19 8 55 1 0 -22 -31a19 8 55 1 0 22 31M182 564a15 11 50 1 0 -19 -22a15 11 50 1 0 19 22M257 684a15 12 44 1 0 -21 -20a15 12 44 1 0 21 20M255 610a9 6 151 1 0 15 -8a9 6 151 1 0 -15 8M251 342a18 7 96 1 0 4 -35a18 7 96 1 0 -4 35M202 414a19 6 137 1 0 28 -26a19 6 137 1 0 -28 26M307 603a13 6 68 1 0 -10 -24a13 6 68 1 0 10 24M378 605a19 10 65 1 0 -16 -35a19 10 65 1 0 16 35M342 372a9 8 51 1 0 -11 -14a9 8 51 1 0 11 14M306 593a9 8 129 1 0 11 -14a9 8 129 1 0 -11 14M296 468a20 4 32 1 0 -33 -21a20 4 32 1 0 33 21M360 556a17 5 142 1 0 27 -21a17 5 142 1 0 -27 21M217 647a7 12 178 1 0 14 -0a7 12 178 1 0 -14 0M378 676a10 8 108 1 0 6 -19a10 8 108 1 0 -6 19M268 226a14 12 120 1 0 14 -25a14 12 120 1 0 -14 25M254 347a8 10 25 1 0 -14 -6a8 10 25 1 0 14 6M292 449a18 5 120 1 0 18 -31a18 5 120 1 0 -18 31M244 466a10 4 63 1 0 -9 -17a10 4 63 1 0 9 17M154 145a8 9 64 1 0 -7 -15a8 9 64 1 0 7 15M252 211a19 5 126 1 0 22 -30a19 5 126 1 0 -22 30M349 611a11 4 131 1 0 14 -17a11 4 131 1 0 -14 17M182 201a8 13 27 1 0 -15 -8a8 13 27 1 0 15 8M191 125a15 11 24 1 0 -28 -12a15 11 24 1 0 28 12M441 626a10 10 16 1 0 -20 -6a10 10 16 1 0 20 6M347 416a19 10 100 1 0 7 -38a19 10 100 1 0 -7 38M115 234a9 9 171 1 0 17 -3a9 9 171 1 0 -17 3M320 754a16 10 124 1 0 18 -27a16 10 124 1 0 -18 27M411 504a12 6 23 1 0 -22 -9a12 6 23 1 0 22 9M195 195a14 11 54 1 0 -17 -23a14 11 54 1 0 17 23M318 733a18 5 89 1 0 -1 -37a18 5 89 1 0 1 37M214 280a10 10 72 1 0 -6 -18a10 10 72 1 0 6 18M277 371a11 8 61 1 0 -11 -20a11 8 61 1 0 11 20M208 517a9 12 64 1 0 -8 -16a9 12 64 1 0 8 16M214 419a12 7 68 1 0 -9 -22a12 7 68 1 0 9 22M339 274a19 6 100 1 0 7 -38a19 6 100 1 0 -7 38M346 214a18 13 112 1 0 14 -33a18 13 112 1 0 -14 33M156 226a20 5 73 1 0 -12 -38a20 5 73 1 0 12 38M195 131a17 8 12 1 0 -32 -7a17 8 12 1 0 32 7M336 407a20 11 48 1 0 -27 -30a20 11 48 1 0 27 30M212 621a18 10 123 1 0 19 -30a18 10 123 1 0 -19 30M292 746a10 12 63 1 0 -9 -19a10 12 63 1 0 9 19M369 624a12 6 43 1 0 -18 -17a12 6 43 1 0 18 17M221 91a11 10 54 1 0 -13 -18a11 10 54 1 0 13 18M345 219a12 6 143 1 0 20 -15a12 6 143 1 0 -20 15M140 176a13 8 90 1 0 0 -25a13 8 90 1 0 -0 25M352 399a18 5 15 1 0 -35 -9a18 5 15 1 0 35 9M388 503a16 6 22 1 0 -31 -12a16 6 22 1 0 31 12M248 345a18 6 40 1 0 -28 -23a18 6 40 1 0 28 23M209 662a9 11 7 1 0 -18 -2a9 11 7 1 0 18 2M334 303a8 9 85 1 0 -1 -15a8 9 85 1 0 1 15M259 206a19 5 40 1 0 -29 -25a19 5 40 1 0 29 25M433 670a9 7 108 1 0 5 -16a9 7 108 1 0 -5 16M196 202a15 11 148 1 0 25 -16a15 11 148 1 0 -25 16M346 751a15 7 139 1 0 22 -19a15 7 139 1 0 -22 19M240 338a16 12 6 1 0 -31 -3a16 12 6 1 0 31 3M132 165a11 11 158 1 0 20 -8a11 11 158 1 0 -20 8M204 571a8 10 106 1 0 5 -16a8 10 106 1 0 -5 16M203 550a10 5 21 1 0 -20 -7a10 5 21 1 0 20 7M298 699a9 9 71 1 0 -6 -17a9 9 71 1 0 6 17M304 447a10 7 67 1 0 -8 -18a10 7 67 1 0 8 18M102 186a9 7 139 1 0 13 -11a9 7 139 1 0 -13 11M394 670a18 6 177 1 0 37 -2a18 6 177 1 0 -37 2M226 84a8 7 101 1 0 3 -16a8 7 101 1 0 -3 16M154 202a5 5 78 1 0 -2 -11a5 5 78 1 0 2 11M263 131a6 6 117 1 0 6 -11a6 6 117 1 0 -6 11M265 77a7 6 124 1 0 8 -11a7 6 124 1 0 -8 11M164 235a9 4 164 1 0 17 -5a9 4 164 1 0 -17 5M272 140a9 5 48 1 0 -12 -13a9 5 48 1 0 12 13M127 157a6 5 31 1 0 -9 -6a6 5 31 1 0 9 6M181 215a4 4 7 1 0 -8 -1a4 4 7 1 0 8 1M180 157a9 6 98 1 0 3 -17a9 6 98 1 0 -3 17M249 132a6 4 101 1 0 2 -12a6 4 101 1 0 -2 12M215 244a7 6 22 1 0 -13 -5a7 6 22 1 0 13 5M185 212a7 5 17 1 0 -14 -4a7 5 17 1 0 14 4M239 212a5 6 14 1 0 -11 -3a5 6 14 1 0 11 3M140 206a5 4 98 1 0 2 -11a5 4 98 1 0 -2 11M294 144a4 7 19 1 0 -8 -3a4 7 19 1 0 8 3M278 202a9 6 109 1 0 6 -16a9 6 109 1 0 -6 16M237 221a7 6 127 1 0 9 -12a7 6 127 1 0 -9 12M159 155a9 5 128 1 0 11 -14a9 5 128 1 0 -11 14M263 127a4 4 5 1 0 -8 -1a4 4 5 1 0 8 1M265 260a6 6 63 1 0 -5 -11a6 6 63 1 0 5 11M165 183a5 5 175 1 0 11 -1a5 5 175 1 0 -11 1M237 85a8 5 8 1 0 -15 -2a8 5 8 1 0 15 2M234 82a8 6 0 1 0 -16 -0a8 6 0 1 0 16 0M253 86a7 6 0 1 0 -14 -0a7 6 0 1 0 14 0M297 100a6 5 0 1 0 -12 -0a6 5 0 1 0 12 0"/><path d="M105 544a16 13 79 1 0 -6 -31a16 13 79 1 0 6 31M167 601a12 7 141 1 0 19 -15a12 7 141 1 0 -19 15M290 375a12 7 169 1 0 23 -4a12 7 169 1 0 -23 4M367 631a13 11 74 1 0 -7 -25a13 11 74 1 0 7 25M301 426a16 12 176 1 0 33 -2a16 12 176 1 0 -33 2M247 347a14 13 149 1 0 24 -15a14 13 149 1 0 -24 15M189 484a8 8 162 1 0 16 -5a8 8 162 1 0 -16 5M371 556a7 12 5 1 0 -14 -1a7 12 5 1 0 14 1M150 211a16 9 175 1 0 32 -3a16 9 175 1 0 -32 3M278 540a10 9 93 1 0 1 -21a10 9 93 1 0 -1 21M379 266a10 13 21 1 0 -19 -7a10 13 21 1 0 19 7M371 543a12 11 76 1 0 -6 -23a12 11 76 1 0 6 23M232 122a15 11 92 1 0 1 -31a15 11 92 1 0 -1 31M375 620a18 7 128 1 0 22 -29a18 7 128 1 0 -22 29M203 88a17 7 52 1 0 -21 -27a17 7 52 1 0 21 27M227 242a13 7 164 1 0 25 -7a13 7 164 1 0 -25 7M176 599a18 11 77 1 0 -8 -34a18 11 77 1 0 8 34M107 545a16 4 39 1 0 -24 -20a16 4 39 1 0 24 20M416 643a11 5 136 1 0 16 -15a11 5 136 1 0 -16 15M272 244a10 5 139 1 0 15 -13a10 5 139 1 0 -15 13M310 234a10 8 114 1 0 8 -19a10 8 114 1 0 -8 19M358 540a12 13 178 1 0 24 -1a12 13 178 1 0 -24 1M352 771a13 13 161 1 0 24 -8a13 13 161 1 0 -24 8M201 453a18 13 55 1 0 -20 -30a18 13 55 1 0 20 30M261 549a11 7 118 1 0 11 -20a11 7 118 1 0 -11 20M296 557a8 7 92 1 0 1 -16a8 7 92 1 0 -1 16M253 652a18 9 45 1 0 -25 -25a18 9 45 1 0 25 25M270 618a15 7 92 1 0 1 -30a15 7 92 1 0 -1 30M172 151a18 13 52 1 0 -22 -28a18 13 52 1 0 22 28M189 250a18 8 60 1 0 -18 -31a18 8 60 1 0 18 31M279 590a20 8 177 1 0 39 -2a20 8 177 1 0 -39 2M297 307a9 5 95 1 0 2 -19a9 5 95 1 0 -2 19M260 328a17 7 159 1 0 32 -12a17 7 159 1 0 -32 12M360 560a18 7 11 1 0 -35 -7a18 7 11 1 0 35 7M223 680a15 5 83 1 0 -4 -30a15 5 83 1 0 4 30M205 591a7 9 85 1 0 -1 -14a7 9 85 1 0 1 14M185 396a12 7 13 1 0 -23 -5a12 7 13 1 0 23 5M218 175a8 9 46 1 0 -12 -12a8 9 46 1 0 12 12M183 514a9 5 138 1 0 13 -12a9 5 138 1 0 -13 12M436 703a19 9 42 1 0 -28 -25a19 9 42 1 0 28 25M364 219a10 13 81 1 0 -3 -19a10 13 81 1 0 3 19M348 363a18 5 4 1 0 -35 -2a18 5 4 1 0 35 2M241 716a13 6 171 1 0 25 -4a13 6 171 1 0 -25 4M121 567a12 5 107 1 0 7 -22a12 5 107 1 0 -7 22M308 300a10 8 51 1 0 -13 -16a10 8 51 1 0 13 16M276 328a10 6 139 1 0 15 -13a10 6 139 1 0 -15 13M176 564a13 4 168 1 0 26 -6a13 4 168 1 0 -26 6M348 292a17 12 124 1 0 19 -27a17 12 124 1 0 -19 27M350 307a10 7 31 1 0 -17 -10a10 7 31 1 0 17 10M191 583a17 8 39 1 0 -26 -21a17 8 39 1 0 26 21M383 643a15 5 171 1 0 29 -5a15 5 171 1 0 -29 5M350 246a13 13 174 1 0 25 -3a13 13 174 1 0 -25 3M111 226a12 7 138 1 0 17 -16a12 7 138 1 0 -17 16M142 433a14 5 137 1 0 20 -19a14 5 137 1 0 -20 19M213 403a15 10 44 1 0 -22 -21a15 10 44 1 0 22 21M256 439a16 4 113 1 0 13 -30a16 4 113 1 0 -13 30M373 557a10 11 126 1 0 12 -16a10 11 126 1 0 -12 16M176 607a14 10 107 1 0 8 -26a14 10 107 1 0 -8 26M424 720a8 12 103 1 0 3 -15a8 12 103 1 0 -3 15M321 250a7 12 147 1 0 12 -8a7 12 147 1 0 -12 8M138 193a9 4 72 1 0 -5 -16a9 4 72 1 0 5 16M250 665a17 6 26 1 0 -31 -15a17 6 26 1 0 31 15M364 266a14 11 26 1 0 -25 -12a14 11 26 1 0 25 12M319 180a20 9 29 1 0 -34 -19a20 9 29 1 0 34 19M280 308a12 5 48 1 0 -17 -18a12 5 48 1 0 17 18M155 578a16 6 106 1 0 9 -30a16 6 106 1 0 -9 30M255 157a17 10 121 1 0 18 -30a17 10 121 1 0 -18 30M235 536a11 13 142 1 0 17 -13a11 13 142 1 0 -17 13M378 609a10 10 93 1 0 1 -20a10 10 93 1 0 -1 20M426 695a11 6 112 1 0 8 -20a11 6 112 1 0 -8 20M319 678a7 4 66 1 0 -6 -13a7 4 66 1 0 6 13M327 204a12 11 139 1 0 18 -16a12 11 139 1 0 -18 16M207 475a8 9 27 1 0 -14 -7a8 9 27 1 0 14 7M430 519a18 6 23 1 0 -34 -14a18 6 23 1 0 34 14M167 116a15 8 21 1 0 -27 -10a15 8 21 1 0 27 10M277 532a10 7 164 1 0 19 -5a10 7 164 1 0 -19 5M189 176a11 13 3 1 0 -23 -1a11 13 3 1 0 23 1M165 628a18 5 81 1 0 -6 -36a18 5 81 1 0 6 36M247 627a14 8 8 1 0 -28 -4a14 8 8 1 0 28 4M309 430a13 7 45 1 0 -19 -19a13 7 45 1 0 19 19M259 208a9 12 145 1 0 14 -10a9 12 145 1 0 -14 10M251 531a9 9 129 1 0 12 -15a9 9 129 1 0 -12 15M173 585a9 7 57 1 0 -10 -15a9 7 57 1 0 10 15M118 453a18 8 126 1 0 21 -29a18 8 126 1 0 -21 29M213 86a13 6 85 1 0 -2 -26a13 6 85 1 0 2 26M357 389a16 8 5 1 0 -33 -3a16 8 5 1 0 33 3M429 700a8 4 68 1 0 -6 -14a8 4 68 1 0 6 14M109 565a14 11 154 1 0 26 -12a14 11 154 1 0 -26 12M303 458a8 5 26 1 0 -15 -7a8 5 26 1 0 15 7M335 668a16 5 108 1 0 10 -31a16 5 108 1 0 -10 31M348 753a11 9 64 1 0 -10 -21a11 9 64 1 0 10 21M120 239a9 5 54 1 0 -11 -15a9 5 54 1 0 11 15M251 430a18 13 7 1 0 -36 -4a18 13 7 1 0 36 4M275 649a12 9 68 1 0 -9 -21a12 9 68 1 0 9 21M226 556a18 7 114 1 0 15 -33a18 7 114 1 0 -15 33M229 259a12 11 33 1 0 -20 -13a12 11 33 1 0 20 13M205 97a13 4 135 1 0 18 -18a13 4 135 1 0 -18 18M332 725a8 5 175 1 0 15 -1a8 5 175 1 0 -15 1M375 275a10 5 92 1 0 1 -19a10 5 92 1 0 -1 19M336 670a9 9 106 1 0 5 -16a9 9 106 1 0 -5 16M303 542a13 9 10 1 0 -25 -5a13 9 10 1 0 25 5M426 665a19 10 121 1 0 19 -33a19 10 121 1 0 -19 33M92 519a19 12 123 1 0 21 -32a19 12 123 1 0 -21 32M203 70a11 9 51 1 0 -13 -17a11 9 51 1 0 13 17M421 730a8 11 9 1 0 -15 -2a8 11 9 1 0 15 2M239 402a16 4 100 1 0 5 -32a16 4 100 1 0 -5 32M311 406a8 13 78 1 0 -3 -15a8 13 78 1 0 3 15M199 196a8 5 95 1 0 1 -15a8 5 95 1 0 -1 15M126 215a8 6 103 1 0 4 -16a8 6 103 1 0 -4 16M180 91a7 3 6 1 0 -14 -1a7 3 6 1 0 14 1M224 140a6 4 140 1 0 10 -8a6 4 140 1 0 -10 8M139 122a9 6 160 1 0 17 -6a9 6 160 1 0 -17 6M248 77a5 7 112 1 0 4 -10a5 7 112 1 0 -4 10M243 115a4 5 125 1 0 5 -7a4 5 125 1 0 -5 7M267 170a8 6 125 1 0 9 -13a8 6 125 1 0 -9 13M143 107a7 6 57 1 0 -8 -12a7 6 57 1 0 8 12M174 213a7 4 55 1 0 -8 -11a7 4 55 1 0 8 11M288 187a4 3 154 1 0 7 -4a4 3 154 1 0 -7 4M210 204a6 6 25 1 0 -10 -5a6 6 25 1 0 10 5M266 159a6 3 169 1 0 11 -2a6 3 169 1 0 -11 2M222 129a5 6 22 1 0 -9 -4a5 6 22 1 0 9 4M287 243a5 6 68 1 0 -4 -9a5 6 68 1 0 4 9M202 151a8 5 69 1 0 -5 -14a8 5 69 1 0 5 14M143 196a5 5 61 1 0 -5 -9a5 5 61 1 0 5 9M276 191a5 4 161 1 0 9 -3a5 4 161 1 0 -9 3M283 193a6 6 56 1 0 -7 -10a6 6 56 1 0 7 10M281 96a8 4 3 1 0 -15 -1a8 4 3 1 0 15 1M147 99a8 4 83 1 0 -2 -16a8 4 83 1 0 2 16M161 149a6 7 97 1 0 2 -12a6 7 97 1 0 -2 12M138 100a5 4 122 1 0 5 -8a5 4 122 1 0 -5 8M220 239a8 7 75 1 0 -4 -16a8 7 75 1 0 4 16M144 153a5 5 71 1 0 -3 -10a5 5 71 1 0 3 10M150 81a7 6 0 1 0 -14 -0a7 6 0 1 0 14 0M163 79a7 6 0 1 0 -14 -0a7 6 0 1 0 14 0M296 97a6 5 0 1 0 -12 -0a6 5 0 1 0 12 0M323 133a8 6 0 1 0 -16 -0a8 6 0 1 0 16 0M323 135a8 6 0 1 0 -16 -0a8 6 0 1 0 16 0M340 167a9 7 0 1 0 -18 -0a9 7 0 1 0 18 0M368 161a6 5 0 1 0 -12 -0a6 5 0 1 0 12 0M368 162a6 5 0 1 0 -12 -0a6 5 0 1 0 12 0M83 102a5 4 0 1 0 -10 -0a5 4 0 1 0 10 0"/><path d="M327 748a19 8 28 1 0 -34 -18a19 8 28 1 0 34 18M379 731a18 13 94 1 0 3 -36a18 13 94 1 0 -3 36M367 534a13 9 109 1 0 8 -24a13 9 109 1 0 -8 24M190 562a15 7 24 1 0 -27 -12a15 7 24 1 0 27 12M389 257a19 6 14 1 0 -38 -9a19 6 14 1 0 38 9M223 210a9 11 139 1 0 14 -12a9 11 139 1 0 -14 12M334 680a9 13 113 1 0 7 -16a9 13 113 1 0 -7 16M218 194a16 9 141 1 0 24 -20a16 9 141 1 0 -24 20M168 127a17 11 68 1 0 -13 -32a17 11 68 1 0 13 32M136 604a19 9 126 1 0 22 -30a19 9 126 1 0 -22 30M335 586a13 4 146 1 0 21 -14a13 4 146 1 0 -21 14M259 522a9 5 32 1 0 -15 -10a9 5 32 1 0 15 10M302 544a9 7 159 1 0 17 -7a9 7 159 1 0 -17 7M340 534a8 8 150 1 0 14 -8a8 8 150 1 0 -14 8M201 166a13 11 29 1 0 -23 -13a13 11 29 1 0 23 13M179 157a13 11 54 1 0 -15 -21a13 11 54 1 0 15 21M204 485a15 5 164 1 0 29 -8a15 5 164 1 0 -29 8M270 299a16 5 45 1 0 -22 -22a16 5 45 1 0 22 22M395 604a15 7 28 1 0 -27 -15a15 7 28 1 0 27 15M327 743a13 5 1 1 0 -26 -1a13 5 1 1 0 26 1M425 521a12 5 52 1 0 -15 -19a12 5 52 1 0 15 19M266 573a16 7 49 1 0 -21 -24a16 7 49 1 0 21 24M323 754a11 7 57 1 0 -12 -19a11 7 57 1 0 12 19M225 127a14 12 58 1 0 -15 -24a14 12 58 1 0 15 24M223 380a19 12 34 1 0 -32 -22a19 12 34 1 0 32 22M163 222a13 7 105 1 0 7 -25a13 7 105 1 0 -7 25M138 179a12 6 176 1 0 24 -2a12 6 176 1 0 -24 2M284 719a11 8 70 1 0 -7 -20a11 8 70 1 0 7 20M197 224a14 6 109 1 0 9 -27a14 6 109 1 0 -9 27M145 229a15 12 112 1 0 11 -27a15 12 112 1 0 -11 27M238 233a15 7 155 1 0 27 -13a15 7 155 1 0 -27 13M289 164a10 7 163 1 0 19 -6a10 7 163 1 0 -19 6M299 290a13 4 40 1 0 -20 -17a13 4 40 1 0 20 17M273 247a20 12 18 1 0 -38 -12a20 12 18 1 0 38 12M363 574a16 13 132 1 0 22 -24a16 13 132 1 0 -22 24M415 592a19 7 26 1 0 -35 -17a19 7 26 1 0 35 17M234 309a19 7 70 1 0 -14 -36a19 7 70 1 0 14 36M172 161a11 5 112 1 0 8 -20a11 5 112 1 0 -8 20M259 485a19 11 84 1 0 -4 -37a19 11 84 1 0 4 37M411 513a11 6 43 1 0 -16 -15a11 6 43 1 0 16 15M159 581a10 6 76 1 0 -5 -20a10 6 76 1 0 5 20M88 554a19 5 130 1 0 24 -29a19 5 130 1 0 -24 29M200 627a11 7 159 1 0 21 -8a11 7 159 1 0 -21 8M182 396a17 12 97 1 0 4 -35a17 12 97 1 0 -4 35M232 710a13 5 173 1 0 25 -3a13 5 173 1 0 -25 3M351 641a15 6 38 1 0 -24 -18a15 6 38 1 0 24 18M164 187a14 12 31 1 0 -24 -14a14 12 31 1 0 24 14M220 88a16 6 92 1 0 1 -31a16 6 92 1 0 -1 31M289 725a16 7 95 1 0 3 -33a16 7 95 1 0 -3 33M273 165a11 5 106 1 0 6 -21a11 5 106 1 0 -6 21M289 125a17 10 12 1 0 -33 -7a17 10 12 1 0 33 7M299 598a15 12 98 1 0 4 -30a15 12 98 1 0 -4 30M257 82a8 7 152 1 0 14 -7a8 7 152 1 0 -14 7M272 163a10 13 20 1 0 -20 -7a10 13 20 1 0 20 7M232 310a11 6 139 1 0 17 -15a11 6 139 1 0 -17 15M201 650a12 6 135 1 0 17 -17a12 6 135 1 0 -17 17M278 699a11 9 140 1 0 17 -14a11 9 140 1 0 -17 14M279 475a17 8 134 1 0 23 -24a17 8 134 1 0 -23 24M338 709a15 9 109 1 0 9 -28a15 9 109 1 0 -9 28M169 116a10 7 10 1 0 -20 -4a10 7 10 1 0 20 4M335 441a9 5 122 1 0 10 -15a9 5 122 1 0 -10 15M289 756a8 7 158 1 0 16 -6a8 7 158 1 0 -16 6M337 612a16 13 151 1 0 28 -15a16 13 151 1 0 -28 15M380 556a14 5 174 1 0 29 -3a14 5 174 1 0 -29 3M423 711a19 11 50 1 0 -25 -30a19 11 50 1 0 25 30M98 207a16 6 167 1 0 31 -7a16 6 167 1 0 -31 7M333 727a13 10 21 1 0 -24 -10a13 10 21 1 0 24 10M344 746a16 13 139 1 0 25 -22a16 13 139 1 0 -25 22M295 583a10 5 112 1 0 8 -19a10 5 112 1 0 -8 19M301 551a17 9 103 1 0 8 -33a17 9 103 1 0 -8 33M124 172a16 9 86 1 0 -2 -31a16 9 86 1 0 2 31M325 689a10 7 172 1 0 21 -3a10 7 172 1 0 -21 3M254 305a9 5 104 1 0 4 -17a9 5 104 1 0 -4 17M247 541a19 6 153 1 0 34 -18a19 6 153 1 0 -34 18M257 382a15 7 133 1 0 21 -22a15 7 133 1 0 -21 22M207 431a12 10 12 1 0 -23 -5a12 10 12 1 0 23 5M315 788a16 11 138 1 0 24 -21a16 11 138 1 0 -24 21M145 568a19 12 168 1 0 38 -8a19 12 168 1 0 -38 8M276 531a18 4 66 1 0 -15 -32a18 4 66 1 0 15 32M321 456a9 8 68 1 0 -6 -16a9 8 68 1 0 6 16M230 341a15 9 166 1 0 30 -7a15 9 166 1 0 -30 7M257 222a10 10 43 1 0 -14 -13a10 10 43 1 0 14 13M221 88a20 11 170 1 0 39 -7a20 11 170 1 0 -39 7M343 717a15 4 172 1 0 30 -4a15 4 172 1 0 -30 4M92 558a14 7 84 1 0 -3 -28a14 7 84 1 0 3 28M310 290a16 7 64 1 0 -14 -29a16 7 64 1 0 14 29M155 114a9 11 106 1 0 5 -17a9 11 106 1 0 -5 17M249 359a11 5 67 1 0 -8 -19a11 5 67 1 0 8 19M144 492a15 11 89 1 0 -0 -29a15 11 89 1 0 0 29M255 265a8 5 3 1 0 -16 -1a8 5 3 1 0 16 1M427 721a16 12 20 1 0 -30 -11a16 12 20 1 0 30 11M347 519a19 4 49 1 0 -25 -29a19 4 49 1 0 25 29M274 188a15 12 84 1 0 -3 -30a15 12 84 1 0 3 30M183 500a8 6 34 1 0 -14 -9a8 6 34 1 0 14 9M134 216a7 10 157 1 0 14 -6a7 10 157 1 0 -14 6M322 355a19 6 177 1 0 37 -2a19 6 177 1 0 -37 2M222 125a12 11 169 1 0 23 -5a12 11 169 1 0 -23 5M253 436a9 12 7 1 0 -18 -2a9 12 7 1 0 18 2M285 495a8 5 36 1 0 -13 -9a8 5 36 1 0 13 9M271 497a8 11 24 1 0 -15 -7a8 11 24 1 0 15 7M231 700a14 10 160 1 0 25 -9a14 10 160 1 0 -25 9M213 545a9 5 84 1 0 -2 -17a9 5 84 1 0 2 17M144 539a11 6 97 1 0 3 -23a11 6 97 1 0 -3 23M140 85a5 5 63 1 0 -5 -9a5 5 63 1 0 5 9M277 88a4 4 146 1 0 7 -5a4 4 146 1 0 -7 5M246 165a8 5 158 1 0 15 -6a8 5 158 1 0 -15 6M189 75a8 4 9 1 0 -16 -2a8 4 9 1 0 16 2M185 242a5 7 119 1 0 5 -9a5 7 119 1 0 -5 9M277 215a7 4 147 1 0 12 -8a7 4 147 1 0 -12 8M138 207a8 5 79 1 0 -3 -16a8 5 79 1 0 3 16M262 125a8 5 66 1 0 -6 -14a8 5 66 1 0 6 14M214 149a7 7 174 1 0 14 -1a7 7 174 1 0 -14 1M221 238a6 3 146 1 0 10 -7a6 3 146 1 0 -10 7M168 104a5 5 46 1 0 -7 -7a5 5 46 1 0 7 7M210 89a9 6 49 1 0 -11 -13a9 6 49 1 0 11 13M193 87a8 6 162 1 0 15 -5a8 6 162 1 0 -15 5M249 217a4 3 146 1 0 7 -5a4 3 146 1 0 -7 5M230 168a6 6 57 1 0 -7 -10a6 6 57 1 0 7 10M166 82a7 6 0 1 0 -14 -0a7 6 0 1 0 14 0M163 81a7 6 0 1 0 -14 -0a7 6 0 1 0 14 0M199 70a8 6 0 1 0 -16 -0a8 6 0 1 0 16 0M204 72a8 6 0 1 0 -16 -0a8 6 0 1 0 16 0M221 62a6 5 0 1 0 -12 -0a6 5 0 1 0 12 0M223 63a6 5 0 1 0 -12 -0a6 5 0 1 0 12 0M278 63a8 6 0 1 0 -16 -0a8 6 0 1 0 16 0M293 85a7 6 0 1 0 -14 -0a7 6 0 1 0 14 0M363 292a5 4 0 1 0 -10 -0a5 4 0 1 0 10 0M54 164a5 4 0 1 0 -10 -0a5 4 0 1 0 10 0M59 163a5 4 0 1 0 -10 -0a5 4 0 1 0 10 0"/><path d="M357 463a15 8 45 1 0 -21 -21a15 8 45 1 0 21 21M343 270a11 10 103 1 0 5 -21a11 10 103 1 0 -5 21M310 595a14 12 23 1 0 -25 -11a14 12 23 1 0 25 11M260 77a16 5 139 1 0 24 -20a16 5 139 1 0 -24 20M325 186a7 7 23 1 0 -13 -6a7 7 23 1 0 13 6M352 392a14 7 54 1 0 -16 -22a14 7 54 1 0 16 22M380 600a16 11 177 1 0 33 -2a16 11 177 1 0 -33 2M252 524a18 4 66 1 0 -14 -32a18 4 66 1 0 14 32M139 153a10 8 19 1 0 -19 -7a10 8 19 1 0 19 7M366 744a9 10 66 1 0 -8 -17a9 10 66 1 0 8 17M250 428a8 10 150 1 0 14 -8a8 10 150 1 0 -14 8M391 664a12 7 27 1 0 -21 -10a12 7 27 1 0 21 10M305 687a18 12 136 1 0 26 -25a18 12 136 1 0 -26 25M335 217a9 12 38 1 0 -14 -11a9 12 38 1 0 14 11M272 85a13 9 144 1 0 21 -15a13 9 144 1 0 -21 15M332 598a9 12 49 1 0 -11 -13a9 12 49 1 0 11 13M174 401a10 11 93 1 0 1 -19a10 11 93 1 0 -1 19M417 629a14 5 90 1 0 -0 -27a14 5 90 1 0 0 27M352 769a8 12 112 1 0 6 -14a8 12 112 1 0 -6 14M365 729a12 5 100 1 0 4 -23a12 5 100 1 0 -4 23M149 133a10 11 171 1 0 19 -3a10 11 171 1 0 -19 3M107 225a15 7 122 1 0 16 -26a15 7 122 1 0 -16 26M111 503a13 9 36 1 0 -21 -15a13 9 36 1 0 21 15M102 533a12 5 154 1 0 21 -10a12 5 154 1 0 -21 10M284 262a20 4 82 1 0 -5 -39a20 4 82 1 0 5 39M307 492a16 8 31 1 0 -27 -16a16 8 31 1 0 27 16M204 642a19 11 80 1 0 -7 -36a19 11 80 1 0 7 36M232 390a9 11 32 1 0 -16 -10a9 11 32 1 0 16 10M334 611a19 4 126 1 0 22 -30a19 4 126 1 0 -22 30M233 555a11 7 67 1 0 -9 -21a11 7 67 1 0 9 21M350 550a14 8 150 1 0 24 -14a14 8 150 1 0 -24 14M256 175a17 8 14 1 0 -33 -8a17 8 14 1 0 33 8M102 504a8 11 46 1 0 -11 -11a8 11 46 1 0 11 11M258 669a8 6 171 1 0 16 -3a8 6 171 1 0 -16 3M244 710a13 11 102 1 0 5 -25a13 11 102 1 0 -5 25M200 538a8 5 155 1 0 14 -6a8 5 155 1 0 -14 6M441 697a18 7 64 1 0 -15 -32a18 7 64 1 0 15 32M421 642a15 5 82 1 0 -4 -29a15 5 82 1 0 4 29M133 526a18 10 150 1 0 32 -18a18 10 150 1 0 -32 18M335 685a10 12 156 1 0 19 -8a10 12 156 1 0 -19 8M269 600a15 6 133 1 0 20 -22a15 6 133 1 0 -20 22M166 470a17 12 1 1 0 -34 -1a17 12 1 1 0 34 1M193 397a16 4 114 1 0 12 -28a16 4 114 1 0 -12 28M321 410a18 4 45 1 0 -25 -25a18 4 45 1 0 25 25M311 157a12 4 92 1 0 1 -24a12 4 92 1 0 -1 24M238 324a15 13 163 1 0 29 -9a15 13 163 1 0 -29 9M167 219a18 5 46 1 0 -25 -25a18 5 46 1 0 25 25M322 517a16 5 87 1 0 -2 -32a16 5 87 1 0 2 32M271 117a7 4 164 1 0 14 -4a7 4 164 1 0 -14 4M319 642a9 10 27 1 0 -15 -8a9 10 27 1 0 15 8M176 164a13 4 155 1 0 24 -11a13 4 155 1 0 -24 11M270 238a16 9 175 1 0 32 -3a16 9 175 1 0 -32 3M144 454a10 9 106 1 0 5 -19a10 9 106 1 0 -5 19M155 459a11 12 147 1 0 18 -12a11 12 147 1 0 -18 12M221 128a10 12 57 1 0 -11 -16a10 12 57 1 0 11 16M161 187a8 12 161 1 0 15 -5a8 12 161 1 0 -15 5M162 583a9 12 14 1 0 -18 -4a9 12 14 1 0 18 4M366 472a12 6 22 1 0 -22 -9a12 6 22 1 0 22 9M413 612a19 11 101 1 0 7 -37a19 11 101 1 0 -7 37M435 638a16 6 126 1 0 19 -26a16 6 126 1 0 -19 26M212 618a8 9 78 1 0 -3 -15a8 9 78 1 0 3 15M329 268a18 12 162 1 0 35 -12a18 12 162 1 0 -35 12M357 599a13 6 176 1 0 26 -2a13 6 176 1 0 -26 2M258 351a12 8 122 1 0 13 -21a12 8 122 1 0 -13 21M203 508a14 10 158 1 0 26 -11a14 10 158 1 0 -26 11M292 448a8 6 55 1 0 -9 -13a8 6 55 1 0 9 13M145 202a17 12 37 1 0 -27 -21a17 12 37 1 0 27 21M351 658a14 11 159 1 0 27 -10a14 11 159 1 0 -27 10M289 388a16 9 145 1 0 27 -19a16 9 145 1 0 -27 19M218 126a17 11 2 1 0 -34 -1a17 11 2 1 0 34 1M215 652a7 8 67 1 0 -6 -13a7 8 67 1 0 6 13M289 463a14 9 9 1 0 -27 -4a14 9 9 1 0 27 4M318 364a15 8 71 1 0 -9 -28a15 8 71 1 0 9 28M281 338a15 9 122 1 0 17 -26a15 9 122 1 0 -17 26M400 535a17 8 100 1 0 6 -34a17 8 100 1 0 -6 34M388 567a8 7 120 1 0 8 -14a8 7 120 1 0 -8 14M236 705a16 9 47 1 0 -22 -23a16 9 47 1 0 22 23M283 416a10 11 17 1 0 -19 -6a10 11 17 1 0 19 6M299 399a13 11 26 1 0 -24 -11a13 11 26 1 0 24 11M403 788a8 10 20 1 0 -16 -6a8 10 20 1 0 16 6M250 343a18 4 9 1 0 -36 -6a18 4 9 1 0 36 6M260 237a14 6 180 1 0 27 -0a14 6 180 1 0 -27 0M304 752a12 9 169 1 0 23 -4a12 9 169 1 0 -23 4M255 520a9 8 42 1 0 -13 -12a9 8 42 1 0 13 12M273 281a13 7 40 1 0 -20 -17a13 7 40 1 0 20 17M182 516a7 11 171 1 0 14 -2a7 11 171 1 0 -14 2M260 209a15 8 104 1 0 8 -29a15 8 104 1 0 -8 29M243 207a7 12 14 1 0 -14 -4a7 12 14 1 0 14 4M260 106a8 10 142 1 0 12 -10a8 10 142 1 0 -12 10M156 143a10 8 59 1 0 -10 -17a10 8 59 1 0 10 17M255 345a12 10 177 1 0 24 -1a12 10 177 1 0 -24 1M154 483a12 6 31 1 0 -20 -12a12 6 31 1 0 20 12M232 449a12 6 63 1 0 -10 -21a12 6 63 1 0 10 21M182 571a7 7 62 1 0 -7 -13a7 7 62 1 0 7 13M156 500a19 5 8 1 0 -37 -5a19 5 8 1 0 37 5M258 436a17 12 148 1 0 29 -18a17 12 148 1 0 -29 18M382 689a10 10 85 1 0 -2 -20a10 10 85 1 0 2 20M189 482a9 9 98 1 0 2 -18a9 9 98 1 0 -2 18M163 97a10 8 143 1 0 16 -12a10 8 143 1 0 -16 12M290 658a7 12 75 1 0 -4 -14a7 12 75 1 0 4 14M231 155a8 10 10 1 0 -15 -3a8 10 10 1 0 15 3M98 558a17 10 53 1 0 -21 -28a17 10 53 1 0 21 28M228 452a18 10 53 1 0 -22 -29a18 10 53 1 0 22 29M140 471a15 6 58 1 0 -16 -25a15 6 58 1 0 16 25M139 474a7 9 70 1 0 -5 -13a7 9 70 1 0 5 13M297 275a17 13 127 1 0 20 -27a17 13 127 1 0 -20 27M377 692a16 6 75 1 0 -8 -30a16 6 75 1 0 8 30M416 530a17 6 56 1 0 -19 -28a17 6 56 1 0 19 28M149 228a12 9 87 1 0 -1 -24a12 9 87 1 0 1 24M156 470a20 5 156 1 0 36 -16a20 5 156 1 0 -36 16M229 205a6 5 17 1 0 -12 -4a6 5 17 1 0 12 4M153 243a5 7 21 1 0 -9 -4a5 7 21 1 0 9 4M152 121a9 5 135 1 0 12 -12a9 5 135 1 0 -12 12M185 80a6 5 39 1 0 -9 -7a6 5 39 1 0 9 7M210 196a4 3 132 1 0 5 -6a4 3 132 1 0 -5 6M241 84a5 6 50 1 0 -7 -8a5 6 50 1 0 7 8M262 72a7 4 102 1 0 3 -14a7 4 102 1 0 -3 14M137 148a7 4 105 1 0 4 -14a7 4 105 1 0 -4 14M210 136a7 4 9 1 0 -13 -2a7 4 9 1 0 13 2M155 146a6 5 170 1 0 12 -2a6 5 170 1 0 -12 2M266 200a4 3 158 1 0 7 -3a4 3 158 1 0 -7 3M130 87a6 5 122 1 0 6 -9a6 5 122 1 0 -6 9M256 102a6 3 170 1 0 12 -2a6 3 170 1 0 -12 2M225 96a8 6 169 1 0 15 -3a8 6 169 1 0 -15 3M245 142a5 3 154 1 0 8 -4a5 3 154 1 0 -8 4M194 120a7 5 135 1 0 10 -10a7 5 135 1 0 -10 10M144 238a4 6 103 1 0 2 -8a4 6 103 1 0 -2 8M285 239a5 5 173 1 0 10 -1a5 5 173 1 0 -10 1M134 230a6 4 73 1 0 -3 -11a6 4 73 1 0 3 11M128 129a9 6 171 1 0 17 -3a9 6 171 1 0 -17 3M181 230a8 5 36 1 0 -13 -9a8 5 36 1 0 13 9M243 159a8 3 95 1 0 1 -17a8 3 95 1 0 -1 17M178 91a5 5 114 1 0 4 -8a5 5 114 1 0 -4 8M294 178a8 5 26 1 0 -14 -7a8 5 26 1 0 14 7M131 156a6 5 96 1 0 1 -13a6 5 96 1 0 -1 13M125 237a6 6 112 1 0 4 -10a6 6 112 1 0 -4 10M249 217a4 4 113 1 0 3 -7a4 4 113 1 0 -3 7M257 73a5 5 177 1 0 10 -1a5 5 177 1 0 -10 1M110 119a8 5 163 1 0 16 -5a8 5 163 1 0 -16 5M138 233a8 4 36 1 0 -12 -9a8 4 36 1 0 12 9M221 64a6 5 0 1 0 -12 -0a6 5 0 1 0 12 0M253 88a7 6 0 1 0 -14 -0a7 6 0 1 0 14 0M279 66a8 6 0 1 0 -16 -0a8 6 0 1 0 16 0M57 161a5 4 0 1 0 -10 -0a5 4 0 1 0 10 0"/></g><filter id="shp1" x="-14" y="31" width="492" height="787" filterUnits="userSpaceOnUse"><feGaussianBlur in="SourceAlpha" stdDeviation="3.0" result="b"/><feComponentTransfer in="b" result="s"><feFuncA type="linear" slope="12" intercept="-3.5"/></feComponentTransfer><feFlood flood-color="#fff"/><feComposite in2="s" operator="in"/></filter><mask id="msk1" maskUnits="userSpaceOnUse" x="-14" y="31" width="492" height="787"><use href="#molE1" filter="url(#shp1)"/></mask></defs>
<use href="#molE1" filter="url(#iso1)"/>
<g opacity="0.6"><path d="M131 157l-2 4 -3 -1 -2 -3 2 -3 3 0zl0 -6M189 91l-3 0 -2 -2 1 -4 3 0 3 2zl-5 4M139 188l-3 2 -4 -2 0 -4 4 -2 3 2zl-6 0M174 181l-4 1 -3 -2 0 -4 4 -1 3 2zl-4 -5M203 182l-3 2 -2 -2 0 -3 2 -2 3 2zl7 -2M251 182l-3 3 -4 -1 -2 -4 3 -4 5 1zl-4 -6M249 130l-4 1 -3 -3 2 -4 4 0 2 3zl-3 8M196 175l-5 0 -3 -4 2 -4 4 -1 3 4zl6 -4M279 134l-4 2 -3 -3 0 -3 4 -2 3 2zl1 -5M172 207l-3 2 -3 -1 -1 -3 2 -3 4 1zl4 -5M237 253l-4 1 -3 -3 1 -4 4 -1 3 3zl-7 1M226 88l-2 3 -4 -1 -1 -3 2 -3 4 0zl-1 -8M205 240l-3 3 -4 -1 -1 -4 3 -3 3 1zl-6 -2M161 197l-3 1 -3 -1 0 -4 3 -2 3 2zl-6 3M190 203l-2 1 -3 -2 1 -3 3 -1 2 2zl-7 3M160 147l-3 1 -2 -3 0 -3 4 -1 2 3zl1 5M157 120l-3 1 -3 -2 1 -3 3 -1 2 2zl6 -3M279 241l-2 3 -4 -1 -2 -4 3 -3 4 1zl1 -7M258 98l-4 0 -2 -3 1 -4 4 0 2 3zl0 -5M237 150l-3 3 -4 -2 0 -4 3 -3 4 2zl-4 5M187 203l-4 2 -3 -2 0 -4 4 -2 3 3zl0 -7M215 95l-3 3 -4 -1 -2 -4 3 -3 5 0zl-5 -1M270 172l-3 1 -2 -3 1 -3 3 0 2 2zl5 -3M284 139l-4 1 -3 -3 1 -4 4 -1 3 4zl-5 -1M260 242l-4 4 -5 -2 -1 -4 4 -4 4 2zl4 3M255 196l-3 2 -3 -2 0 -3 3 -2 3 2zl3 -5M229 186l-3 3 -4 -2 -1 -4 3 -2 4 1zl-8 1M156 189l-3 3 -4 -1 -2 -4 3 -3 4 1zl-7 -1M194 152l-3 2 -3 -3 0 -3 4 -2 3 2zl-5 -2M279 96l-4 2 -3 -3 1 -4 4 -1 3 2zl6 -4M276 241l-3 2 -3 -1 -1 -4 3 -2 4 2zl-4 4M250 90l-3 2 -3 -3 0 -3 4 -2 3 3zl6 -4M173 84l-4 3 -4 -1 -1 -5 3 -3 5 1zl0 6M256 124l-3 3 -4 -1 -2 -4 4 -3 4 1zl-8 -1M170 89l-2 4 -5 0 -2 -4 2 -4 5 0zl8 0M262 127l-3 0 -1 -3 1 -2 3 0 2 2zl-1 -7M169 161l-3 0 -3 -2 1 -3 4 -1 2 2zl-5 -2M170 236l-2 2 -3 -2 -1 -3 3 -2 3 1zl6 -1M125 195l-5 1 -3 -3 2 -5 5 0 2 3zl7 0M156 82l-2 2 -3 -1 0 -4 2 -1 3 1zl-3 5M185 230l-2 2 -4 0 -1 -4 2 -3 4 1zl6 -2M190 166l-3 1 -3 -2 1 -3 3 -2 2 2zl0 9M279 107l-4 2 -3 -3 1 -4 4 -2 3 3zl9 -2M274 155l-3 0 -2 -3 1 -3 3 0 2 3zl-6 4M303 136l-3 3 -4 -2 0 -4 3 -3 4 2zl-3 4M219 175l-3 0 -2 -3 1 -3 3 0 3 2zl-5 -4M140 141l-5 0 -3 -3 2 -5 5 0 3 3zl0 7M168 212l-2 3 -3 0 -1 -3 1 -3 3 0zl-5 -5M245 77l-3 0 -2 -3 2 -3 3 0 2 3zl5 -4M292 227l-4 1 -3 -3 1 -4 4 -2 3 3zl4 3M203 204l-3 1 -3 -2 1 -3 3 -1 3 2zl3 -6M193 143l-3 1 -3 -2 0 -3 3 -2 4 2zl-1 -6M272 176l-3 2 -3 -2 -1 -3 3 -2 3 2zl-6 5M255 200l-5 2 -3 -3 1 -4 4 -2 3 3zl-3 -6M125 216l-3 1 -3 -2 0 -4 4 -1 3 2zl2 -8M230 125l-5 0 -2 -3 1 -4 5 0 2 3zl8 0M158 117l-5 2 -3 -3 0 -4 4 -2 4 3zl4 1M268 174l-3 4 -4 -1 -2 -4 3 -3 4 0zl-7 -4M244 245l-3 1 -3 -1 0 -3 3 -2 3 2zl5 -1M226 192l-2 1 -3 -1 0 -3 2 -2 3 2zl3 3M227 213l-4 1 -3 -3 1 -4 4 -1 3 3zl-1 -5M165 133l-4 4 -5 -1 -1 -5 3 -3 5 1zl4 -5M261 249l-4 2 -4 -3 0 -5 5 -1 4 3zl1 5M216 88l-4 1 -2 -4 1 -3 4 0 3 3zl-6 1M130 90l-2 3 -4 -1 -1 -4 3 -2 3 1zl2 6M182 99l-5 2 -3 -4 1 -4 4 -2 4 3zl4 -8M186 119l-3 1 -3 -2 1 -3 3 -1 2 2zl0 -7" stroke="#2e50e6" stroke-width="1.5" fill="none" stroke-linecap="round" stroke-linejoin="round"/><path d="M131 151l-2 3M202 159l3 -2M184 95l-0 3M133 188l-3 -2M165 96l3 -2M194 168l0 3M158 204l-1 -3M210 180l-3 0M156 131l0 3M247 176l-1 3M263 190l3 -2M246 138l-3 -1M186 88l3 1M149 99l2 3M257 256l-3 0M220 202l-1 3M280 129l-3 1M256 186l0 3M176 202l-3 1M188 214l3 -1M225 80l-1 -3M212 231l-2 -3M209 79l3 1M199 238l3 2M177 130l0 3M155 200l-0 3M183 206l-3 2M161 152l-2 -3M280 234l-2 3M258 93l-3 -1M210 94l1 -3M196 236l2 3M275 169l-3 -1M279 138l-1 3M221 187l-1 -3M286 164l-1 -3M270 136l3 2M249 147l-3 0M149 188l3 2M242 111l-3 -1M222 213l-3 -1M168 232l3 0M163 244l2 -3M157 189l-2 -2M158 102l-2 3M182 100l-3 -1M273 106l-2 3M173 90l3 -0M171 128l-3 -1M240 150l3 -1M299 227l3 1M178 89l1 3M261 120l0 3M230 183l-3 0M293 165l-3 2M164 159l-2 -3M176 235l2 -3M127 210l-2 2M179 157l-2 3M248 247l2 3M153 87l3 -2M191 228l3 2M190 175l1 -3M288 105l1 3M258 199l3 1M144 120l-3 1M204 232l1 3M268 159l-3 2M300 140l1 3M214 171l2 3M140 148l-1 -3M163 207l-3 1M250 73l1 -3M296 230l1 3M293 239l-3 1M206 198l1 3M266 91l-3 2M133 251l-0 3M190 110l2 3M273 134l2 3M170 92l3 -2M238 125l-3 1M290 137l3 2M159 200l3 2M255 157l0 3M162 118l-2 -3M133 205l3 0M261 170l-2 -3M191 93l-3 2M289 222l-1 -3M249 244l-1 3M136 222l3 -1M229 195l3 -1M290 100l3 1M190 143l1 3M226 208l-3 -1M169 128l1 3M262 254l-1 3M184 114l-2 -3M186 112l-3 -2" stroke="#e3201b" stroke-width="2.0" fill="none" stroke-linecap="round" stroke-linejoin="round"/><path d="M199 156l-2 2 -3 0 -1 -3 1 -2 4 0zl3 3M160 100l-4 1 -2 -3 2 -3 3 -1 2 3zl5 -4M153 204l-3 2 -2 -1 -1 -3 3 -2 3 1zl5 0M158 124l-2 1 -3 -1 0 -4 3 -1 3 2zl-2 7M234 224l-3 0 -2 -2 1 -3 4 -1 2 3zl5 -1M172 238l-5 0 -2 -4 2 -4 4 0 3 4zl3 -3M182 84l-4 3 -4 -2 0 -4 3 -3 4 2zl4 4M255 251l-3 3 -4 -1 -2 -4 3 -3 5 0zl2 5M224 207l-4 3 -4 -3 0 -5 5 -2 4 3zl-4 -5M249 186l-4 2 -3 -2 0 -4 3 -1 4 1zl7 0M216 226l-3 2 -4 -2 0 -4 3 -2 4 2zl-4 5M280 155l-3 1 -2 -1 0 -3 2 -2 3 2zl1 -5M178 137l-5 2 -4 -2 0 -5 4 -3 5 3zl-1 -7M231 89l-4 1 -3 -2 0 -3 3 -2 4 2zl7 -1M222 142l-4 0 -2 -3 2 -3 3 0 2 3zl-7 5M190 182l-3 2 -2 -3 1 -3 3 -1 2 2zl-7 -4M241 119l-2 3 -4 0 -1 -4 2 -3 4 1zl5 7M199 233l-2 3 -4 0 -2 -4 2 -3 4 0zl-3 3M209 190l-3 3 -4 -1 -1 -5 3 -3 5 2zl4 0M265 224l-3 3 -3 0 -2 -3 3 -3 3 0zl4 8M261 108l-4 2 -5 -2 0 -4 4 -3 4 2zl-5 0M254 253l-5 1 -3 -3 1 -5 5 -1 3 3zl-4 5M248 139l-4 4 -4 -1 -2 -5 4 -3 4 1zl1 8M220 219l-4 3 -4 -2 -1 -4 4 -3 4 1zl2 -6M160 228l-3 2 -3 -2 0 -4 3 -2 3 2zl8 4M233 161l-5 2 -4 -3 0 -5 5 -2 4 3zl-5 -2M161 195l-4 1 -4 -2 1 -5 4 -2 4 3zl-4 -6M159 107l-3 3 -4 0 -2 -5 3 -3 5 1zl-1 -5M178 104l-3 3 -4 -1 -1 -4 4 -3 3 1zl4 -4M136 138l-3 4 -5 0 -2 -4 2 -4 5 0zl-4 5M279 108l-4 0 -2 -3 1 -4 4 0 3 3zl-6 -2M236 158l-2 3 -4 -1 -1 -3 2 -3 4 1zl4 -8M277 152l-4 2 -4 -2 -1 -5 4 -2 5 2zl-2 5M293 230l-4 2 -3 -2 0 -5 4 -2 4 3zl6 -3M228 189l-2 2 -3 -2 0 -3 2 -1 3 1zl2 -6M295 171l-3 3 -5 -1 -1 -4 3 -3 5 1zl-2 -6M259 127l-3 3 -3 -2 -1 -4 3 -2 4 2zl-4 5M232 152l-3 4 -4 -1 -2 -4 2 -4 5 1zl3 -5M186 147l-3 3 -4 -2 0 -5 3 -2 4 2zl9 3M132 206l-3 4 -5 -1 -2 -4 3 -4 5 0zl-5 4M184 163l-3 2 -4 -1 0 -4 3 -2 4 1zl-5 -6M175 171l-2 2 -3 0 -1 -3 2 -3 3 1zl-2 9M254 191l-3 1 -2 -2 0 -3 3 -1 3 2zl4 8M205 107l-4 2 -4 -2 1 -5 4 -2 3 2zl-2 -5M249 195l-4 2 -4 -3 0 -4 4 -3 4 3zl-6 -3M274 189l-4 1 -2 -3 1 -4 3 -1 3 3zl-2 -4M185 172l-2 4 -5 0 -2 -4 2 -4 5 0zl5 2M289 238l-3 3 -4 -1 -1 -4 3 -3 4 1zl4 1M257 89l-4 3 -4 -1 -1 -5 3 -3 5 1zl9 2M176 201l-3 3 -4 -1 -1 -3 3 -3 3 0zl-5 4M136 247l-4 0 -2 -3 1 -3 4 -1 2 3zl-3 4M193 106l-4 2 -4 -2 0 -4 4 -3 4 2zl-3 4M152 115l-4 0 -2 -3 1 -3 4 0 2 3zl-2 4M267 133l-4 0 -2 -3 2 -3 3 0 3 3zl6 1M295 235l-5 0 -2 -3 2 -4 4 0 3 3zl-3 -7M160 206l-5 2 -3 -3 1 -5 4 -1 4 3zl-1 -6M137 207l-3 4 -5 -1 -1 -5 3 -4 5 1zl-4 -2M194 98l-4 0 -2 -4 2 -4 4 0 3 4zl-3 -5M296 223l-4 3 -4 -1 0 -5 3 -2 4 1zl-7 -1M130 224l-3 4 -5 -1 -1 -5 3 -3 5 1zl6 -2M187 122l-4 1 -3 -4 1 -4 5 -1 3 4zl8 -3M286 96l-4 0 -3 -4 3 -4 4 0 3 4zl4 4M188 147l-4 2 -4 -1 0 -5 4 -2 4 2zl2 -4M291 98l-2 3 -4 0 -2 -3 2 -3 4 0zl0 4M137 219l-2 2 -4 -1 0 -3 3 -2 3 1zl6 4" stroke="#86c8e8" stroke-width="1.5" fill="none" stroke-linecap="round" stroke-linejoin="round"/><path d="M193 163l-3 3 -3 -2 -1 -3 3 -2 3 1zl1 5M265 184l-4 1 -3 -2 1 -4 3 -1 3 2zl-2 6M153 104l-3 2 -3 -1 0 -3 3 -2 3 1zl-4 -5M192 214l-4 3 -4 -2 -1 -4 3 -3 5 1zl-4 0M203 82l-4 2 -4 -3 1 -5 5 -1 3 3zl6 -3M282 160l-2 3 -4 0 -2 -4 2 -3 4 0zl4 4M274 188l-3 2 -3 -1 0 -4 3 -2 3 2zl1 8M267 139l-4 0 -2 -3 2 -3 4 0 1 3zl3 -3M248 208l-3 1 -2 -2 0 -3 3 -1 3 2zl2 -4M223 173l-4 2 -3 -2 0 -4 3 -1 4 2zl6 -5M238 106l-3 1 -2 -3 1 -3 4 -1 2 3zl4 5M164 239l-3 0 -2 -3 1 -3 4 0 2 3zl-1 5M275 171l-3 0 -2 -3 2 -3 3 0 2 3zl-5 -6M171 136l-4 2 -4 -2 0 -5 4 -3 4 3zl0 -8M237 105l-4 2 -3 -2 0 -4 3 -2 3 2zl6 -1M290 84l-4 2 -4 -3 1 -5 4 -2 4 3zl2 -4M191 102l-2 3 -4 0 -2 -4 2 -3 4 0zl1 5M254 244l-3 0 -2 -3 1 -3 4 0 2 3zl-6 3M127 106l-3 3 -4 -1 -1 -4 2 -3 5 1zl-2 -5M139 130l-3 1 -3 -2 1 -3 3 -1 2 2zl3 -3M208 120l-2 3 -4 -1 -1 -4 2 -3 4 1zl-3 -4M150 121l-3 4 -4 0 -2 -5 2 -4 5 1zl-6 -1M202 228l-3 0 -2 -2 1 -4 3 0 3 2zl2 4M162 92l-5 3 -4 -2 0 -5 4 -3 5 2zl8 0M292 130l-3 2 -4 -1 0 -4 3 -2 4 1zl-2 7M253 162l-3 2 -4 -2 0 -4 3 -2 4 2zl2 -5M187 122l-3 3 -5 -1 -1 -5 3 -3 5 1zl-3 -8M204 94l-5 0 -3 -4 2 -5 5 0 3 4zl-4 -6" stroke="#4a6e96" stroke-width="1.5" fill="none" stroke-linecap="round" stroke-linejoin="round"/></g>
<g opacity="0.8"><path d="M253 626l-4 2 -3 -2 0 -5 3 -2 4 3zl-3 4M324 692l-4 2 -4 -2 0 -5 4 -2 4 2zl5 -4M259 704l-2 4 -5 -1 -2 -4 2 -4 5 1zl-8 -3M228 616l-2 2 -4 -1 0 -3 3 -2 3 1zl-1 7M302 682l-3 4 -5 0 -2 -5 3 -4 4 1zl-2 -8M242 576l-4 3 -4 -2 0 -4 4 -3 4 2zl7 -4M378 602l-4 0 -2 -3 2 -3 4 0 2 3zl-2 -7M366 634l-5 1 -3 -3 1 -5 5 -1 3 3zl5 -3M337 751l-5 2 -4 -3 1 -5 5 -2 3 3zl4 3M387 644l-2 2 -4 -1 0 -3 2 -3 4 1zl-5 1M287 631l-3 1 -3 -3 1 -3 4 -1 2 3zl7 2M366 778l-5 0 -3 -3 2 -4 5 -1 2 3zl-3 -3M371 570l-3 2 -3 -1 -1 -3 3 -3 3 1zl-4 1M375 750l-4 1 -3 -2 1 -4 3 -1 4 2zl-4 -1M211 666l-5 1 -2 -4 1 -4 5 -1 3 4zl-4 6M310 732l-5 2 -4 -3 1 -5 5 -2 3 3zl-5 -3M348 727l-3 2 -4 -2 0 -3 3 -2 3 1zl2 7M352 702l-4 0 -3 -3 2 -4 5 0 2 4zl-4 -2M380 752l-4 1 -2 -3 1 -3 3 -1 3 3zl5 -5M230 564l-2 2 -4 -1 0 -3 2 -3 3 1zl5 8M379 738l-4 2 -3 -3 0 -4 4 -1 4 2zl0 6M329 734l-4 1 -3 -3 1 -4 4 -1 3 3zl-7 2M380 636l-4 0 -2 -2 1 -4 4 -1 2 3zl-8 -1M214 599l-5 1 -3 -3 1 -5 5 -1 3 3zl4 3M365 663l-3 0 -2 -2 1 -3 3 0 2 2zl1 -5M311 697l-3 1 -3 -2 0 -3 3 -2 3 2zl-3 -4M343 760l-4 0 -3 -4 2 -4 5 0 2 4zl7 5M394 601l-3 2 -3 -3 0 -4 4 -1 3 3zl-4 -1M210 664l-5 0 -2 -4 2 -4 4 0 3 4zl5 5M208 597l-3 3 -4 -1 -2 -3 3 -4 4 1zl-1 6M366 572l-3 3 -4 0 -2 -4 3 -3 4 0zl7 -3M339 762l-4 1 -2 -4 1 -3 5 -1 2 4zl-4 -6M339 766l-4 0 -2 -3 2 -3 3 0 2 3zl7 -4M315 625l-4 2 -4 -3 1 -4 4 -2 4 3zl5 -4M267 722l-3 3 -4 -2 0 -3 3 -3 3 2zl-4 -6M391 567l-4 3 -4 -1 0 -5 3 -2 4 1zl-6 -3M334 726l-5 2 -4 -3 1 -4 4 -2 4 2zl3 -6M266 670l-3 4 -4 -1 -2 -4 3 -4 5 1zl-2 -6M314 574l-4 2 -4 -3 0 -5 4 -1 4 2zl-3 -9M306 732l-5 2 -3 -3 0 -5 5 -2 4 3zl-5 -3M317 649l-2 2 -3 -1 -1 -3 2 -2 3 1zl6 -4M300 570l-5 1 -3 -2 1 -5 4 -1 3 3zl1 6M334 650l-3 2 -4 -2 0 -3 4 -3 3 2zl3 -4M386 684l-4 2 -4 -3 1 -5 4 -1 3 3zl1 5M290 729l-3 3 -3 -1 -2 -4 3 -3 4 1zl-2 6M359 673l-1 3 -4 0 -1 -3 2 -3 3 1zl6 -2M384 753l-3 2 -4 -2 0 -3 4 -2 3 2zl-3 5M265 702l-3 3 -3 -1 -2 -3 3 -3 4 1zl1 -4M384 607l-4 1 -3 -2 1 -5 4 -1 3 3zl4 6M383 751l-5 1 -3 -3 1 -5 5 -1 3 4zl2 7M276 602l-4 3 -4 -2 0 -5 3 -2 4 2zl-1 8M237 653l-4 0 -2 -3 1 -4 4 0 2 3zl-2 -4M336 685l-5 0 -2 -4 2 -5 5 0 2 4zl2 -4M303 689l-5 1 -3 -4 2 -5 5 0 3 4zl-4 2M379 621l-4 3 -5 -1 -1 -5 4 -3 4 1zl1 -7M367 733l-4 1 -4 -3 1 -4 4 -2 3 3zl-5 -5M365 637l-2 2 -3 -1 -1 -3 3 -2 2 1zl6 2M358 728l-3 1 -2 -3 1 -3 4 -1 2 3zl6 4M341 770l-2 2 -3 -2 0 -3 3 -1 3 1zl-4 -2M288 683l-3 4 -5 -1 -2 -5 3 -3 5 0zl1 -7M362 574l-4 3 -4 -2 -1 -4 3 -3 5 1zl-1 6M207 667l-4 1 -3 -4 1 -4 5 -1 3 4zl4 6M396 654l-2 3 -4 -1 -1 -3 2 -3 4 1zl1 -4M206 625l-4 2 -4 -3 1 -5 4 -2 4 3zl6 5M338 770l-4 2 -3 -3 1 -4 4 -1 3 2zl2 -8M302 624l-2 2 -3 0 -2 -4 3 -2 3 0zl5 -2M316 626l-3 1 -3 -1 0 -4 3 -1 3 2zl3 5M398 623l-3 4 -5 -1 -2 -5 4 -4 5 1zl3 -4M396 715l-3 1 -3 -2 0 -4 3 -1 4 2zl2 -5M254 644l-3 3 -5 0 -2 -5 4 -4 4 1zl9 0M260 621l-3 1 -3 -2 0 -4 3 -1 4 2zl-2 -8M398 571l-3 2 -3 -1 -1 -4 3 -2 3 2zl-8 3M226 607l-2 2 -3 -1 -1 -3 3 -2 3 1zl-7 0M384 590l-3 1 -3 -3 1 -3 4 -1 2 3zl4 -7M236 612l-3 0 -2 -2 1 -3 3 -1 2 3zl-4 4M234 594l-4 0 -3 -2 1 -4 4 -1 3 3zl-7 5M224 589l-4 1 -4 -2 1 -5 4 -2 4 3zl-6 -6M255 692l-4 1 -3 -3 1 -4 4 0 3 3zl-8 -3M307 569l-4 2 -3 -1 -1 -4 4 -3 3 2zl2 4M364 699l-5 1 -3 -4 2 -4 5 -1 3 4zl0 -5M306 577l-3 2 -4 -2 0 -4 3 -2 4 2zl7 0M268 619l-2 2 -3 0 -1 -3 2 -2 3 0zl-4 3M396 721l-3 3 -4 0 -1 -4 3 -3 4 1zl5 4M365 599l-3 3 -5 -1 -1 -5 4 -3 4 1zl5 4M363 605l-3 3 -4 -2 0 -4 3 -2 3 2zl4 -4M209 600l-4 0 -2 -3 1 -4 5 0 2 3zl0 -6M350 692l-2 3 -4 -1 -1 -3 2 -3 4 0zl1 -5M379 607l-3 3 -4 -1 -1 -3 2 -3 4 0zl-1 -4M256 678l-3 3 -4 0 -2 -5 3 -3 5 0zl5 3M208 566l-4 2 -4 -3 1 -4 4 -2 4 3zl-7 0M262 599l-4 1 -2 -3 1 -4 3 0 3 3zl-3 4" stroke="#2e50e6" stroke-width="1.7" fill="none" stroke-linecap="round" stroke-linejoin="round"/><path d="M250 630l-2 3M329 688l1 3M348 646l3 -1M242 649l0 -3M375 757l1 -3M306 619l1 -3M227 623l-1 -3M300 674l-3 1M255 661l1 -3M282 635l0 -3M306 692l3 -2M345 607l3 1M249 572l0 3M347 608l3 -2M363 697l-2 -2M371 631l-3 1M341 754l2 -2M345 722l1 -3M384 707l-0 -3M363 715l-3 0M356 762l2 3M239 706l-3 0M382 645l2 -3M218 622l-3 0M294 633l-3 2M314 691l0 3M343 760l3 1M255 714l-2 -3M371 749l-3 -1M268 715l3 -1M207 672l3 0M378 779l0 -3M383 656l-3 2M348 700l-3 -2M385 747l-3 2M289 620l3 -1M233 635l-3 1M258 616l-2 3M339 688l-1 3M337 745l2 -3M373 603l0 -3M225 604l-0 -3M266 683l3 -1M322 736l3 2M313 669l-2 3M372 635l3 2M248 684l1 -3M205 611l1 3M269 672l3 -2M267 662l-3 2M226 578l2 -3M245 691l-1 -3M215 669l-1 -3M296 678l3 2M373 569l1 3M298 712l2 -3M360 653l-3 -1M320 621l2 -3M263 716l-3 -0M292 691l2 -3M224 650l-3 2M224 572l1 -3M207 598l3 -2M400 629l1 3M328 627l1 3M280 690l3 -1M214 606l-2 -3M385 610l-3 -2M401 728l-2 -3M337 720l3 1M351 726l2 -3M264 664l2 3M215 635l3 2M352 594l-1 3M311 565l3 1M301 729l-3 0M323 645l1 3M301 576l1 -3M330 635l-1 -3M326 655l1 -3M307 686l0 3M369 709l3 -2M348 643l1 3M238 656l3 2M288 735l-3 1M294 728l-1 3M381 758l3 -1M320 764l-3 2M311 704l-3 -1M276 600l1 3M266 698l-1 -3M355 643l2 -3M268 689l-0 3M385 758l-3 -1M235 649l3 -0M305 701l3 1M367 625l-2 3M271 673l1 3M299 691l3 2M373 586l-1 -3M327 749l3 1M364 732l-3 2M353 670l3 -2M289 676l3 2M361 580l2 3M270 636l-3 2M339 583l-3 2M211 673l-3 -0M397 650l3 1M323 766l-3 -2M227 597l-3 2M212 630l-3 -0M354 768l-3 -1M350 661l-3 -2M364 636l3 -1M307 622l3 -1M247 559l-3 -2M319 631l2 3M333 564l0 -3M401 619l-3 -2M263 644l3 1M258 613l-3 0M219 607l-0 3M388 583l-3 -0M232 616l3 -1M297 560l-3 -0M227 599l-3 2M218 583l3 -2M229 627l3 -0M247 689l3 2M382 642l3 -2M232 584l3 -0M401 641l-3 -2M364 694l3 2M264 622l-3 2M253 637l2 -3M206 634l-3 -2M259 676l2 -3M401 725l3 0M370 603l2 -3M367 601l1 -3M332 635l1 -3M209 594l-1 3M378 603l3 1M261 681l-2 3M297 655l-2 -3M364 633l-2 -3M201 566l3 -1M279 644l3 -1" stroke="#e3201b" stroke-width="2.2" fill="none" stroke-linecap="round" stroke-linejoin="round"/><path d="M346 687l-3 1 -3 -3 1 -3 4 -1 3 2zl-8 -5M246 647l-4 3 -4 -2 -1 -5 4 -3 4 2zl-4 2M373 752l-3 1 -3 -1 0 -3 2 -2 3 1zl2 5M313 619l-3 4 -5 -1 -2 -4 3 -4 5 1zl-7 0M376 679l-2 3 -4 0 -2 -3 2 -4 4 0zl-4 -2M260 659l-4 2 -3 -3 0 -4 4 -2 4 3zl-5 2M342 603l-2 3 -3 -1 -2 -3 2 -3 4 1zl3 4M351 613l-2 2 -3 -1 -1 -3 2 -2 3 1zl-4 -5M365 701l-4 2 -3 -2 1 -4 3 -2 3 3zl-2 -4M388 658l-2 3 -4 -2 0 -3 2 -2 4 1zl4 5M348 714l-4 1 -3 -2 1 -4 3 -1 3 2zl-3 8M258 635l-3 2 -5 -2 0 -4 4 -3 4 2zl7 6M385 712l-4 1 -2 -3 1 -4 4 0 2 3zl-1 -5M361 707l-4 2 -3 -2 0 -5 4 -2 4 3zl2 8M352 764l-4 1 -3 -3 2 -4 3 0 3 2zl4 -2M243 709l-3 2 -3 -2 0 -3 3 -2 3 1zl-4 -3M378 622l-4 2 -3 -3 0 -4 4 -2 3 3zl-4 4M225 624l-4 2 -4 -2 0 -4 4 -2 4 2zl-7 -2M321 692l-3 2 -3 -2 0 -3 3 -2 3 2zl-7 -1M347 766l-4 1 -2 -4 2 -3 4 -1 2 4zl-4 -6M267 711l-3 0 -2 -2 1 -3 4 0 1 2zl1 4M226 646l-4 0 -2 -3 2 -3 3 0 2 3zl4 5M379 774l-3 4 -4 -1 -2 -4 2 -4 5 0zl-1 5M380 659l-4 1 -3 -3 1 -5 5 -1 3 4zl3 -3M331 640l-4 0 -3 -3 2 -5 4 0 3 3zl-5 5M296 618l-3 2 -4 -1 0 -4 3 -3 4 2zl-7 2M228 636l-2 4 -5 0 -2 -4 2 -4 5 0zl5 -1M387 662l-3 4 -5 -1 -2 -4 3 -4 5 1zl4 7M264 616l-4 1 -3 -2 0 -4 4 -2 3 3zl8 -4M334 687l-3 1 -3 -2 1 -4 3 -1 3 3zl5 1M335 741l-3 4 -5 -1 -2 -4 4 -4 4 1zl2 4M268 676l-3 2 -3 -1 -1 -3 3 -2 3 1zl-2 7M317 669l-3 1 -3 -2 1 -3 3 -1 2 2zl-4 0M341 743l-3 2 -3 -1 0 -3 3 -2 2 1zl-2 5M219 621l-4 1 -4 -3 1 -4 5 -2 3 3zl-1 -5M253 679l-5 1 -3 -3 2 -5 5 -1 3 4zl-5 5M264 606l-5 0 -2 -4 2 -4 5 -1 2 4zl5 -5M209 604l-4 2 -4 -2 1 -4 3 -2 4 2zl-4 7M327 597l-3 2 -4 -2 0 -4 4 -2 3 2zl7 -4M276 678l-4 1 -4 -3 1 -4 4 -2 4 3zl-7 -6M271 667l-3 3 -4 -1 -1 -4 3 -3 4 1zl-4 -5M375 697l-4 0 -3 -3 2 -4 4 0 3 3zl-2 -5M324 650l-2 2 -3 0 -1 -4 2 -2 3 1zl-6 -4M232 580l-5 0 -2 -4 2 -4 5 0 2 4zl-6 -2M249 695l-3 0 -2 -2 2 -3 3 -1 1 3zl-4 -4M293 674l-3 2 -4 -2 0 -5 4 -2 3 2zl3 4M311 774l-3 3 -5 -2 -1 -5 4 -3 5 2zl-1 4M370 586l-3 2 -4 -2 -1 -4 4 -2 4 2zl-5 -2M259 594l-2 1 -3 -2 0 -3 3 -1 3 2zl-5 4M356 656l-2 3 -4 -1 -1 -3 3 -3 3 1zl4 -3M366 730l-4 2 -4 -3 1 -5 4 -2 4 3zl-4 -2M206 578l-3 2 -3 -1 -1 -3 3 -2 3 1zl-1 -6M231 652l-3 3 -4 -1 -2 -4 3 -3 4 1zl-7 -2M221 578l-3 2 -4 -2 1 -4 3 -2 3 2zl3 -6M279 582l-5 0 -2 -4 2 -4 5 0 2 4zl3 -7M210 605l-3 2 -3 -3 0 -3 4 -2 3 3zl-3 -7M395 626l-4 1 -3 -3 1 -4 4 -2 3 4zl5 3M240 573l-2 4 -4 -1 -2 -4 3 -3 4 1zl5 2M334 626l-3 1 -2 -2 0 -3 4 -1 2 2zl-6 1M286 692l-4 1 -4 -3 1 -4 4 -1 4 3zl-6 -2M218 599l-4 0 -3 -4 2 -4 5 0 2 4zl-4 7M382 603l-5 1 -3 -4 1 -4 5 -1 3 4zl3 7M393 728l-2 3 -3 0 -1 -3 1 -2 3 0zl8 0M217 630l-4 1 -3 -2 0 -4 4 -2 4 2zl-2 5M349 590l-3 1 -3 -2 1 -4 3 -1 3 2zl3 4M325 661l-4 0 -2 -3 1 -3 4 -1 2 3zl1 -6M306 680l-3 2 -3 -2 1 -3 2 -2 3 2zl1 6M345 638l-3 4 -4 -1 -1 -4 3 -3 4 0zl3 5M241 652l-3 2 -3 -1 0 -3 2 -2 3 1zl-3 4M301 729l-4 1 -2 -4 2 -3 4 0 2 3zl-7 -1M270 621l-3 3 -4 -1 -1 -5 3 -2 5 1zl5 -4M313 766l-4 1 -3 -3 0 -4 5 -2 3 3zl7 -2M313 699l-3 1 -2 -2 0 -4 4 -1 2 3zl-2 5M272 595l-3 2 -3 -2 0 -3 3 -2 3 1zl4 5M358 640l-3 2 -4 -2 0 -4 4 -3 3 3zl-3 3M260 689l-2 2 -3 -1 -1 -3 3 -2 3 1zl8 0M297 700l-2 3 -4 -1 -1 -3 2 -3 4 0zl8 1M342 665l-3 3 -5 -2 -1 -4 4 -3 4 1zl-1 7M369 617l-3 1 -2 -2 1 -3 3 -1 2 2zl-2 8M270 667l-4 3 -4 -2 -1 -4 4 -3 4 1zl1 6M373 742l-2 2 -3 -1 -1 -3 2 -2 4 1zl4 -4M260 628l-4 1 -3 -3 1 -4 4 -1 3 3zl-4 1M342 655l-4 2 -4 -2 -1 -5 5 -3 4 3zl2 -9M361 753l-4 2 -3 -3 1 -4 4 -2 3 3zl6 5M327 755l-4 1 -3 -2 1 -4 3 -1 3 2zl0 -6M387 662l-3 1 -2 -2 0 -3 3 -1 2 2zl7 5M336 597l-4 1 -3 -2 1 -4 4 -1 3 2zl6 2M345 670l-4 1 -3 -3 2 -4 4 -1 2 4zl8 0M307 574l-5 1 -3 -4 2 -5 4 -1 4 4zl4 0M274 630l-4 3 -3 -2 -1 -4 4 -2 3 1zl-4 6M359 763l-3 3 -4 -1 -1 -4 3 -3 4 1zl-5 5M346 668l-4 2 -4 -3 1 -4 4 -2 4 3zl4 -7M360 638l-3 3 -4 -1 -2 -4 3 -3 4 0zl4 -2M242 563l-3 2 -3 -2 0 -4 3 -1 3 2zl5 -4M336 569l-4 3 -4 -1 -1 -4 3 -3 4 1zl-3 -5M308 755l-3 2 -3 -1 0 -4 3 -2 3 2zl7 -2M290 593l-2 1 -3 -2 0 -3 3 -1 3 1zl-2 5M302 563l-2 2 -4 -1 0 -3 2 -3 4 2zl-5 -3M396 606l-3 0 -2 -3 2 -3 3 0 2 2zl-7 2M316 718l-3 2 -3 -1 0 -4 3 -2 3 2zl-1 -6M232 589l-3 2 -3 -1 -1 -3 3 -2 3 1zl0 -5M402 645l-2 2 -4 -1 -1 -3 3 -3 3 1zl-1 -4M217 637l-3 0 -1 -3 1 -2 3 -1 2 3zl0 6M260 641l-3 2 -3 -1 0 -4 3 -2 3 2zl-7 -4M400 595l-2 2 -4 -1 -1 -3 3 -3 3 1zl4 0M265 666l-2 2 -3 -1 -1 -3 3 -2 3 1zl0 8M293 603l-4 3 -5 -2 0 -5 4 -3 4 2zl-6 -5M258 670l-2 3 -3 -1 -1 -3 2 -3 3 1zl1 6M325 635l-3 2 -4 -1 0 -4 3 -2 3 1zl7 0M256 575l-2 3 -4 -1 -1 -3 2 -3 4 0zl-1 7M351 606l-3 3 -4 -1 0 -4 3 -3 3 2zl-6 -6M292 662l-3 2 -4 -3 1 -4 4 -2 3 3zl5 -7M359 630l-3 2 -4 -3 1 -4 4 -2 3 3zl5 3M384 638l-5 1 -3 -4 2 -4 4 -1 3 4zl5 -1M373 713l-4 1 -3 -2 1 -4 3 -1 3 2zl-1 -6M324 628l-3 1 -2 -2 1 -4 3 0 2 2zl2 8M278 639l-2 3 -3 -2 -1 -3 3 -2 3 1zl1 5" stroke="#86c8e8" stroke-width="1.7" fill="none" stroke-linecap="round" stroke-linejoin="round"/><path d="M347 641l-4 1 -3 -3 1 -4 4 -1 3 3zl1 5M280 642l-3 1 -2 -3 1 -2 3 -1 2 2zl2 -7M310 686l-3 2 -3 -3 0 -3 3 -2 3 2zl-4 6M258 706l-4 2 -4 -2 0 -5 4 -2 4 2zl-3 8M262 611l-3 2 -3 -1 -2 -3 3 -3 4 1zl-4 5M357 673l-4 0 -2 -3 2 -3 4 -1 2 4zl-4 -5M378 607l-5 0 -2 -4 1 -4 5 0 3 4zl-5 -4M229 605l-2 2 -3 -1 -1 -2 2 -3 3 1zl-4 -1M329 709l-4 2 -4 -2 -1 -5 4 -2 5 2zl6 -4M311 642l-2 3 -4 0 -2 -3 3 -4 3 1zl8 0M275 637l-3 2 -3 -2 0 -3 3 -2 3 1zl-3 -3M357 687l-4 2 -4 -3 0 -5 5 -2 4 3zl2 -4M238 588l-4 1 -3 -3 1 -4 4 -1 3 3zl-6 -3M311 775l-3 0 -3 -2 1 -4 4 0 2 2zl-6 3M298 708l-2 3 -4 -1 -1 -3 2 -3 3 1zl0 4M365 603l-2 3 -4 -1 -1 -3 2 -3 4 0zl3 -8M241 587l-3 2 -3 -1 0 -4 3 -2 3 2zl5 0M284 689l-2 3 -3 -1 -2 -3 3 -3 3 1zl8 2M347 728l-2 2 -3 -1 -1 -3 2 -2 3 1zl4 -2M332 639l-5 2 -4 -3 1 -5 4 -2 4 3zl-2 -4M372 712l-4 0 -2 -3 2 -3 3 0 2 3zl-3 -3M366 652l-4 2 -4 -2 0 -4 3 -2 4 1zl-6 4M370 592l-5 0 -2 -3 2 -4 4 -1 3 4zl3 -6M347 585l-2 1 -3 -1 0 -3 3 -2 2 2zl-8 -2M319 764l-2 4 -5 0 -2 -4 2 -4 5 1zl4 2M223 593l-3 3 -4 -1 -1 -4 3 -2 3 0zl4 4M230 636l-4 3 -4 -2 0 -4 3 -3 4 2zl-1 -9M389 645l-3 3 -4 -1 -2 -5 4 -3 4 1zl-7 -3M204 642l-4 2 -4 -2 0 -5 4 -2 4 2zl2 -8M312 654l-3 2 -3 -1 0 -4 2 -2 3 1zl-6 3M257 630l-4 1 -3 -3 1 -4 4 -1 3 3zl0 -9M250 574l-5 1 -2 -4 2 -4 4 0 3 3zl4 0" stroke="#4a6e96" stroke-width="1.7" fill="none" stroke-linecap="round" stroke-linejoin="round"/></g>
<g opacity="0.7"><path d="M159 531l-2 1 -3 -1 0 -4 3 -1 2 1zl-4 6M186 553l-3 1 -2 -3 0 -3 4 -1 2 2zl-5 -5M254 471l-5 0 -3 -4 2 -4 5 -1 3 4zl-3 -5M165 503l-4 3 -4 -1 0 -4 3 -3 4 1zl-7 -4M228 463l-3 4 -5 0 -2 -4 2 -4 5 0zl4 1M247 538l-5 1 -3 -3 1 -4 5 -2 3 3zl-4 -5M283 512l-4 3 -4 -1 -2 -5 4 -3 5 1zl-1 9M207 519l-4 0 -2 -3 1 -3 4 -1 3 3zl1 5M281 523l-3 3 -3 -1 -1 -4 3 -2 3 1zl7 1M271 554l-2 2 -4 -1 -1 -3 3 -3 3 1zl-1 -7M203 456l-3 2 -4 -1 0 -4 3 -3 4 2zl6 6M221 494l-4 0 -3 -4 2 -3 4 -1 3 4zl5 2M251 534l-5 0 -3 -4 3 -4 5 0 2 4zl-8 3M170 482l-3 2 -3 -1 -1 -4 3 -2 3 2zl-6 2M191 471l-3 2 -3 -2 0 -4 4 -1 3 2zl7 3M170 498l-3 1 -2 -3 1 -3 3 0 2 2zl4 0M199 485l-4 1 -4 -3 1 -4 4 -1 4 2zl4 0M268 500l-5 2 -4 -2 0 -5 5 -3 4 3zl6 5M170 558l-5 2 -4 -2 1 -5 4 -2 4 3zl-5 -2M219 494l-3 2 -3 -1 0 -3 2 -2 4 1zl5 1M261 551l-2 4 -4 -1 -2 -3 3 -4 4 1zl-3 4M227 469l-3 1 -3 -2 1 -4 3 -1 3 2zl5 -4" stroke="#86c8e8" stroke-width="1.6" fill="none" stroke-linecap="round" stroke-linejoin="round"/><path d="M155 537l3 -1M181 548l0 -3M231 564l3 -1M251 466l-3 1M158 499l3 1M232 464l-2 3M275 499l-3 -2M158 488l-0 -3M266 514l-2 -3M282 521l-3 -1M239 499l3 2M208 524l-3 2M235 460l-3 -2M270 495l-3 -2M243 537l1 3M164 484l1 -3M225 506l-3 2M180 475l-2 -3M214 560l-2 -3M184 457l-3 -0M213 498l0 -3M234 507l3 -2M215 485l-3 -1M168 554l2 3M229 515l1 -3M210 523l3 2M262 533l-1 -3M160 495l-3 2M170 548l-1 -3M224 495l-1 3M218 447l2 2M222 550l3 0M258 555l-3 -2M232 465l1 -3M236 521l3 -0" stroke="#e3201b" stroke-width="2.1" fill="none" stroke-linecap="round" stroke-linejoin="round"/><path d="M236 560l-3 2 -3 -2 0 -3 3 -2 3 2zl-5 4M278 515l-3 2 -4 -1 0 -4 3 -2 3 1zl3 7M269 511l-3 3 -4 -2 -1 -4 3 -3 5 2zl-3 3M194 520l-3 2 -4 -1 0 -4 3 -2 3 2zl7 -2M235 503l-3 1 -2 -3 1 -3 3 -1 2 3zl4 -4M226 485l-4 2 -4 -2 0 -5 4 -2 4 2zl-2 -7M158 468l-4 2 -4 -2 0 -4 4 -2 4 2zl6 3M223 510l-4 1 -2 -3 1 -3 4 -1 2 3zl2 -4M188 456l-3 3 -4 0 -2 -4 3 -3 4 0zl-4 1M200 505l-2 2 -3 0 -2 -3 2 -3 3 1zl2 -4M209 491l-2 2 -3 -1 -1 -4 3 -2 3 1zl6 -6M211 530l-4 2 -4 -3 0 -4 5 -2 4 2zl-1 -7M236 517l-4 2 -4 -3 0 -5 5 -2 4 3zl0 4" stroke="#4a6e96" stroke-width="1.6" fill="none" stroke-linecap="round" stroke-linejoin="round"/><path d="M163 554l-4 3 -4 -2 0 -5 4 -2 4 2zl-5 4M169 459l-2 3 -3 0 -2 -4 2 -3 4 1zl-5 -4M278 491l-2 2 -4 -1 0 -3 3 -3 3 2zl-3 8M165 487l-2 2 -3 -1 -1 -3 2 -2 3 0zl-7 1M191 455l-2 2 -3 -1 -1 -3 2 -2 3 1zl6 2M163 493l-3 4 -4 -1 -2 -5 3 -3 5 1zl1 -5M161 520l-2 3 -3 0 -2 -3 2 -4 3 0zl-7 -1M237 456l-4 1 -3 -3 1 -4 4 -1 3 3zl-2 4M271 499l-4 1 -3 -2 1 -4 4 -1 3 2zl-1 -4M188 547l-4 3 -4 -3 0 -5 4 -2 4 3zl-6 -3M170 526l-2 2 -3 -1 -1 -3 2 -2 3 1zl3 7M159 517l-3 0 -3 -3 2 -3 4 -1 2 3zl-4 7M176 477l-4 3 -4 -2 0 -5 4 -3 4 2zl4 -2M211 554l-4 1 -4 -2 1 -5 4 -2 4 3zl3 6M193 466l-4 3 -4 -2 -1 -4 4 -3 4 1zl-7 -1M217 494l-3 2 -3 -2 -1 -3 4 -2 3 2zl-4 4M237 503l-4 3 -4 -1 -1 -5 3 -3 5 2zl-3 4M283 538l-3 3 -4 -2 -1 -4 3 -3 4 2zl7 0M174 558l-4 1 -3 -4 2 -5 5 0 3 4zl-6 -4M227 511l-3 1 -3 -2 1 -3 3 -1 2 2zl2 4M269 531l-4 3 -4 -1 -1 -5 3 -3 4 1zl-7 2M156 488l-5 1 -3 -3 1 -5 5 -1 3 4zl4 7M164 544l-3 3 -4 0 -1 -4 2 -3 4 0zl6 4M224 452l-3 3 -4 -1 -1 -4 3 -3 4 1zl-6 -5M227 553l-3 2 -3 -1 0 -4 3 -1 3 1zl-5 -3" stroke="#2e50e6" stroke-width="1.6" fill="none" stroke-linecap="round" stroke-linejoin="round"/></g>
<g mask="url(#msk1)"><g filter="url(#sblur)" fill="#3a3a3a"><ellipse cx="215" cy="160" rx="80" ry="70" opacity="0.22"/><ellipse cx="300" cy="680" rx="70" ry="80" opacity="0.12"/></g></g>
<g opacity="0.8"><path d="M23,134C28,132 39,126 51,125C63,124 81,128 94,125C107,122 117,115 128,110C139,105 151,100 159,97C167,94 172,91 176,94C180,97 178,102 182,114C186,126 193,147 199,168C205,189 211,222 216,239C221,256 221,264 228,273C235,282 244,288 256,296C268,304 290,314 299,319C308,324 309,323 307,325C305,327 289,329 285,330" fill="none" stroke="#1a2a30" stroke-width="7" stroke-linecap="round" opacity="0.7"/><path d="M23,134C28,132 39,126 51,125C63,124 81,128 94,125C107,122 117,115 128,110C139,105 151,100 159,97C167,94 172,91 176,94C180,97 178,102 182,114C186,126 193,147 199,168C205,189 211,222 216,239C221,256 221,264 228,273C235,282 244,288 256,296C268,304 290,314 299,319C308,324 309,323 307,325C305,327 289,329 285,330" fill="none" stroke="#8cc8e6" stroke-width="5" stroke-linecap="round"/><path d="M189,392C200,394 237,403 257,405C277,407 302,405 311,405" fill="none" stroke="#1a2a30" stroke-width="7" stroke-linecap="round" opacity="0.7"/><path d="M189,392C200,394 237,403 257,405C277,407 302,405 311,405" fill="none" stroke="#8cc8e6" stroke-width="5" stroke-linecap="round"/><path d="M101,507C118,499 169,470 203,460C237,450 280,443 304,446C328,449 337,460 345,480C353,500 355,542 352,568C349,594 336,624 325,635C314,646 291,635 284,635" fill="none" stroke="#1a2a30" stroke-width="7" stroke-linecap="round" opacity="0.7"/><path d="M101,507C118,499 169,470 203,460C237,450 280,443 304,446C328,449 337,460 345,480C353,500 355,542 352,568C349,594 336,624 325,635C314,646 291,635 284,635" fill="none" stroke="#8cc8e6" stroke-width="5" stroke-linecap="round"/><path d="M281,496C275,504 258,527 247,541C236,555 224,568 217,578C210,588 204,600 202,604" fill="none" stroke="#1a2a30" stroke-width="7" stroke-linecap="round" opacity="0.7"/><path d="M281,496C275,504 258,527 247,541C236,555 224,568 217,578C210,588 204,600 202,604" fill="none" stroke="#8cc8e6" stroke-width="5" stroke-linecap="round"/><path d="M254,642C253,648 252,668 251,679C249,690 244,704 243,709" fill="none" stroke="#1a2a30" stroke-width="7" stroke-linecap="round" opacity="0.7"/><path d="M254,642C253,648 252,668 251,679C249,690 244,704 243,709" fill="none" stroke="#8cc8e6" stroke-width="5" stroke-linecap="round"/><path d="M378,638C379,644 383,660 382,672C380,683 375,700 366,709C358,718 340,723 329,728C318,732 304,734 299,735" fill="none" stroke="#1a2a30" stroke-width="7" stroke-linecap="round" opacity="0.7"/><path d="M378,638C379,644 383,660 382,672C380,683 375,700 366,709C358,718 340,723 329,728C318,732 304,734 299,735" fill="none" stroke="#8cc8e6" stroke-width="5" stroke-linecap="round"/></g>
<g opacity="0.5"><path d="M157 484l-3 2 -4 -2 0 -4 3 -2 4 2zl4 -4M291 83l-4 1 -2 -3 1 -4 4 0 2 3zl-1 4M287 468l-2 2 -4 0 -1 -4 2 -3 4 1zl7 2M348 780l-2 3 -4 -1 -1 -4 3 -2 3 1zl-2 5M80 129l-3 3 -3 -1 -1 -4 3 -3 4 2zl-2 -7M176 561l-4 2 -3 -2 -1 -4 4 -2 4 2zl0 -7M203 568l-4 3 -4 -2 -1 -5 4 -2 5 2zl7 3M112 508l-2 3 -3 0 -2 -3 2 -3 4 0zl-2 6M254 651l-4 2 -3 -3 0 -4 3 -2 4 3zl-4 5M125 575l-1 2 -3 0 -2 -3 2 -2 3 0zl-3 -8M255 579l-3 4 -4 0 -3 -5 3 -4 5 0zl6 -1M318 286l-3 0 -3 -3 1 -3 4 -1 3 3zl-1 -8M340 726l-4 0 -2 -3 2 -3 3 -1 3 3zl3 3M325 358l-2 2 -3 -1 -1 -3 2 -2 4 1zl-8 2M366 236l-2 3 -4 0 -2 -3 2 -4 4 1zl-6 -1M145 453l-3 3 -4 -1 -1 -4 3 -3 3 1zl5 0M291 522l-4 2 -4 -4 1 -4 5 -2 3 3zl-9 -2M257 187l-4 1 -2 -3 2 -3 3 0 2 2zl1 -5M231 288l-3 4 -5 -1 -1 -4 2 -4 5 1zl-1 -7M79 127l-2 2 -3 -1 -1 -3 3 -2 3 1zl-4 -6M313 566l-4 1 -3 -3 1 -5 5 -1 3 3zl0 -9M249 533l-4 1 -2 -3 1 -4 3 -1 3 3zl5 2M300 665l-2 4 -4 -1 -2 -4 2 -3 4 0zl-2 -7M143 582l-4 1 -2 -3 2 -3 3 -1 2 3zl0 -5M253 396l-2 2 -4 0 -1 -3 3 -3 3 0zl3 -4M98 561l-4 2 -3 -2 0 -5 4 -1 3 2zl1 7M185 581l-3 3 -3 -1 -1 -4 2 -3 4 1zl-1 -4M307 199l-2 2 -3 0 -2 -3 2 -3 4 0zl9 1M371 670l-3 1 -3 -2 0 -3 4 -2 2 3zl-7 -3M126 90l-3 0 -2 -3 2 -3 3 0 2 3zl-4 -2M165 463l-3 3 -3 -1 -1 -4 3 -3 4 1zl7 3M363 180l-4 1 -3 -2 0 -4 4 -2 4 2zl-4 -1M170 465l-2 1 -3 -1 0 -3 2 -2 3 1zl-4 -3M264 397l-5 1 -4 -3 2 -5 4 -1 4 3zl-1 8M240 675l-3 1 -2 -2 1 -4 3 -1 2 3zl5 -6M272 204l-4 2 -3 -3 1 -4 4 -1 3 2zl2 -5M25 177l-3 2 -3 -2 0 -4 3 -1 3 2zl-6 -5M285 510l-4 2 -4 -2 0 -4 4 -2 4 1zl-4 -4M241 352l-4 1 -4 -3 1 -5 4 -1 4 3zl-3 -3M147 225l-5 0 -3 -3 2 -4 4 -1 3 4zl4 -2M153 439l-3 1 -3 -2 0 -3 3 -1 3 1zl1 -8M293 210l-2 2 -3 -2 0 -3 3 -2 2 2zl4 -6M275 659l-4 1 -2 -3 0 -3 4 -1 3 2zl-4 -2M372 267l-2 3 -4 0 -2 -4 2 -3 5 0zl-4 5M265 564l-3 2 -3 -2 0 -3 3 -2 3 2zl3 -7M237 491l-3 1 -2 -2 0 -3 3 -1 2 2zl5 -1M294 384l-2 3 -4 -1 -1 -3 2 -3 4 1zl-4 4M350 723l-3 1 -2 -2 0 -3 3 -1 3 2zl6 5M201 420l-1 3 -4 -1 -1 -2 1 -3 4 0zl3 -4M172 197l-3 2 -3 -1 0 -4 3 -2 3 1zl8 -4M104 165l-5 3 -4 -3 1 -5 4 -2 4 3zl5 0M312 484l-4 3 -4 -1 -1 -5 3 -3 4 1zl-5 -4M239 359l-3 0 -2 -2 1 -3 4 -1 2 3zl7 0M371 754l-3 4 -5 -1 -2 -5 3 -4 5 1zl5 1M237 191l-4 3 -4 -2 0 -4 3 -3 4 2zl2 4M232 679l-3 3 -5 -1 -1 -4 3 -4 4 1zl1 -4M170 447l-4 4 -4 -2 -1 -4 3 -3 5 1zl4 -5M370 648l-5 1 -3 -3 2 -5 4 -1 3 4zl0 4M256 207l-3 2 -3 -1 -1 -4 3 -2 4 1zl-5 4M331 362l-4 1 -3 -2 0 -4 4 -1 3 2zl2 5M374 701l-3 4 -5 0 -2 -5 3 -4 5 1zl4 4M256 612l-3 3 -4 -1 -1 -5 3 -2 5 1zl2 4M297 749l-4 0 -2 -3 2 -4 4 0 2 4zl-3 6M151 139l-3 2 -4 -1 -1 -4 3 -2 4 1zl3 -8M212 449l-3 2 -3 0 -2 -3 3 -3 3 0zl1 -7M195 416l-3 4 -4 -1 -1 -4 2 -3 5 1zl-5 4M232 361l-3 1 -2 -2 0 -3 3 -1 3 2zl-5 -4M339 376l-3 3 -5 -1 -1 -4 3 -4 4 1zl2 5M318 174l-3 3 -5 -1 -1 -5 4 -3 4 2zl-7 -1M113 210l-4 2 -4 -2 0 -4 4 -3 3 3zl3 -6M32 156l-3 1 -2 -3 1 -3 3 -1 2 3zl1 -6M132 156l-3 4 -5 -1 -2 -4 3 -4 5 0zl-6 2M296 598l-3 3 -3 -1 -2 -3 3 -3 4 0zl8 -4M280 351l-2 2 -3 -1 0 -3 2 -2 3 1zl7 3M291 734l-5 2 -4 -3 1 -5 4 -2 4 3zl2 8M236 453l-2 2 -3 0 -2 -3 2 -3 3 1zl-2 4M325 645l-5 1 -3 -3 1 -5 5 -1 3 3zl0 -6M170 405l-5 1 -2 -4 2 -4 5 0 2 4zl-4 -1M294 372l-4 1 -3 -4 2 -4 4 0 3 3zl-4 -5M111 245l-4 2 -3 -3 1 -4 4 -2 3 3zl-4 2M352 374l-3 4 -5 -1 -2 -4 3 -4 5 0zl4 2M180 452l-5 1 -3 -4 2 -4 5 -1 3 4zl1 5M286 316l-3 2 -3 -1 -1 -4 2 -2 4 1zl4 2M128 166l-4 2 -3 -2 0 -5 4 -2 4 3zl8 -3M224 501l-3 4 -4 -1 -2 -4 3 -3 4 0zl3 -7M329 487l-4 0 -3 -3 2 -4 4 -1 3 4zl6 0M199 367l-3 1 -3 -1 0 -3 3 -2 3 1zl5 2M82 513l-2 3 -3 0 -2 -3 2 -3 3 0zl0 -6M395 736l-5 0 -3 -4 3 -4 4 0 3 4zl0 6M243 329l-2 3 -4 0 -2 -3 2 -4 4 0zl-1 6M276 113l-5 1 -3 -4 2 -5 5 0 3 4zl4 -3M136 562l-3 2 -4 -2 0 -4 4 -2 3 2zl7 -3M319 647l-4 3 -4 -3 0 -4 4 -2 4 2zl-8 -3M235 141l-4 0 -2 -2 1 -3 3 -1 2 3zl-1 4M368 665l-3 2 -4 -2 0 -4 4 -2 3 2zl6 1M135 517l-2 3 -3 -1 -2 -2 2 -3 3 0zl-7 3M111 490l-3 4 -5 -1 -1 -4 2 -4 5 1zl1 5M203 537l-4 1 -3 -3 1 -4 4 -1 3 3zl-4 7M209 201l-2 2 -3 0 -1 -3 2 -2 3 0zl3 8" stroke="#86c8e8" stroke-width="1.7" fill="none" stroke-linecap="round" stroke-linejoin="round"/><path d="M161 480l-2 3M197 436l3 2M87 532l1 -3M366 256l-2 2M360 648l2 3M346 785l-3 -0M78 122l2 2M176 554l0 3M350 594l-2 -3M379 744l-2 3M234 340l3 1M328 479l3 -2M110 514l3 -0M247 391l-3 -1M250 656l1 3M274 431l2 -3M323 362l2 -3M261 578l1 -3M124 167l3 -2M144 463l-2 3M187 434l-3 1M76 223l3 -2M317 278l-2 -3M343 729l1 3M113 179l-3 -2M317 360l-3 0M360 235l-2 -3M282 520l0 -3M258 182l3 1M230 281l-3 1M313 557l-1 3M254 535l3 1M298 658l3 1M143 577l3 -1M256 392l1 -3M260 691l-3 -1M364 667l-3 -2M172 466l-3 2M313 320l3 0M276 195l-1 3M253 691l-3 1M316 619l-3 -1M245 669l-3 -0M274 199l-3 1M19 172l1 -3M348 283l-2 3M238 349l3 1M151 223l-2 3M154 431l-3 1M320 765l1 -3M271 657l3 -2M260 232l-1 3M229 550l-3 2M268 557l-1 -3M261 153l3 -2M242 490l-1 3M265 179l-1 -3M365 709l0 -3M290 388l3 2M240 131l2 -3M180 193l1 -3M307 480l1 -3M128 537l-1 3M246 359l1 -3M234 425l-2 3M376 755l2 -3M239 195l1 3M233 675l3 1M138 433l-3 -0M30 167l-3 2M174 442l3 1M285 460l-0 -3M251 211l-3 -0M333 367l2 -3M378 705l-3 1M258 616l1 3M294 755l1 -3M154 131l-3 -1M213 442l-3 -1M190 420l2 -3M227 357l-2 3M341 381l3 -1M218 88l-1 3M311 173l1 3M316 334l1 3M33 150l2 -3M189 222l1 3M126 158l2 -3M287 354l-0 3M239 657l-0 3M218 386l3 -1M101 215l-3 -2M280 187l2 3M356 185l2 -3M180 424l-3 1M293 742l-3 -2M361 715l-3 1M233 533l-2 -2M220 77l3 -2M339 389l-3 -0M290 367l-1 3M356 376l-0 3M181 457l1 -3M321 554l-2 -3M290 318l-2 3M136 163l-2 3M335 487l3 1M277 594l-1 -3M266 710l3 1M323 357l-2 3M148 565l-2 3M252 476l-1 3M303 582l0 -3M242 335l3 1M274 441l-2 -3M124 493l-2 3M143 559l3 2M311 644l3 2M355 375l-3 0M375 677l2 -2M316 262l-3 -2M374 666l3 1M128 520l-3 2M184 420l-1 -3M199 544l-3 -0M303 235l2 3M236 157l3 1M276 418l3 1M263 555l3 -0" stroke="#e3201b" stroke-width="2.2" fill="none" stroke-linecap="round" stroke-linejoin="round"/><path d="M196 431l-3 1 -2 -1 0 -3 2 -2 3 2zl1 5M92 536l-3 2 -3 -2 0 -4 3 -2 3 3zl-5 -4M320 533l-3 0 -2 -2 1 -4 3 0 2 2zl2 -8M346 592l-3 4 -5 -2 -1 -4 3 -4 5 1zl4 2M377 750l-2 2 -3 -1 0 -3 2 -2 3 1zl2 -6M228 343l-2 2 -3 -1 -1 -3 2 -3 3 1zl6 -3M324 479l-4 2 -3 -2 0 -4 4 -3 3 3zl4 0M242 396l-3 3 -3 -1 -1 -3 2 -3 4 1zl5 -5M317 361l-3 3 -4 -2 0 -4 3 -2 4 1zl6 1M46 206l-3 2 -4 -3 0 -4 4 -2 3 2zl2 -5M148 465l-3 1 -2 -3 1 -3 3 0 2 2zl-4 -2M337 278l-4 2 -3 -2 0 -4 4 -2 3 2zl3 4M182 438l-4 1 -2 -2 1 -4 3 -1 3 2zl5 -4M334 568l-3 1 -3 -2 0 -3 3 -1 3 2zl3 -3M327 672l-3 1 -3 -3 0 -3 4 -2 3 3zl4 -3M172 155l-4 0 -2 -3 1 -4 5 0 2 3zl-8 4M195 655l-3 0 -2 -2 1 -3 3 -1 2 2zl-2 4M245 263l-3 2 -3 -1 0 -4 3 -2 3 2zl3 6M321 182l-5 0 -2 -3 2 -5 4 0 3 4zl-4 -6M252 602l-3 4 -4 0 -2 -4 2 -4 4 0zl-6 6M266 663l-4 2 -3 -2 -1 -4 4 -2 4 2zl-2 7M367 695l-4 2 -4 -4 1 -4 4 -2 4 3zl-5 2M305 324l-4 1 -3 -4 1 -4 5 -1 3 4zl8 -4M282 188l-3 2 -4 -3 1 -4 4 -1 3 2zl-6 7M255 685l-3 1 -3 -2 1 -3 3 -2 3 3zl-2 6M173 498l-3 3 -4 -1 -1 -4 3 -3 4 1zl6 0M320 623l-3 2 -3 -2 -1 -3 3 -2 4 1zl-4 -4M225 259l-2 3 -4 0 -1 -4 2 -3 3 1zl1 -4M250 415l-3 0 -1 -2 1 -3 3 0 2 2zl-4 4M322 772l-3 2 -3 -3 1 -4 3 -1 3 3zl-2 -7M255 239l-2 5 -5 -1 -3 -4 3 -4 5 0zl5 -7M140 114l-5 2 -3 -4 1 -5 5 -1 3 4zl5 2M196 491l-4 0 -3 -4 2 -4 4 0 3 3zl4 -7M94 159l-2 3 -4 -1 -1 -4 2 -3 4 1zl7 -3M298 311l-3 3 -4 -1 -1 -3 2 -4 4 1zl9 -1M255 152l-4 1 -4 -3 1 -4 4 -2 4 3zl6 1M272 183l-3 3 -4 -2 0 -4 3 -2 3 2zl-7 -4M203 560l-3 2 -3 -1 -1 -4 3 -2 4 1zl2 -4M366 714l-4 1 -3 -3 2 -4 4 0 2 3zl-1 -5M182 556l-4 1 -3 -2 1 -4 4 -2 3 3zl-4 4M237 128l-3 1 -2 -2 1 -3 3 -1 2 2zl3 3M116 489l-2 2 -3 0 -1 -3 1 -3 4 1zl4 -6M130 531l-2 3 -4 -1 -1 -4 2 -3 4 1zl-2 6M262 639l-3 2 -3 -1 0 -3 3 -2 2 1zl6 -1M277 713l-3 3 -3 -1 -1 -4 2 -2 4 1zl-6 -4M139 437l-2 4 -5 0 -2 -4 2 -4 5 0zl-1 -4M144 439l-2 4 -4 -1 -2 -3 3 -4 4 1zl-3 7M418 709l-4 2 -4 -2 0 -5 4 -2 4 2zl7 4M287 437l-5 1 -2 -4 1 -4 5 -1 3 4zl1 -8M151 242l-4 1 -3 -3 1 -4 5 -1 2 3zl-5 6M193 222l-2 3 -3 0 -1 -3 1 -3 4 0zl-4 0M209 386l-2 2 -3 -1 -1 -3 3 -2 3 1zl9 0M169 477l-3 2 -4 -2 0 -4 4 -2 3 2zl5 -4M108 221l-4 1 -2 -2 0 -4 4 -1 3 2zl-7 -6M286 187l-3 1 -3 -1 1 -4 2 -1 3 2zl-6 0M360 189l-3 4 -5 -1 -2 -5 4 -4 4 1zl-4 -4M182 432l-4 2 -4 -3 1 -4 4 -2 4 3zl-2 -8M220 502l-4 3 -5 -2 0 -5 4 -3 4 2zl4 0M231 278l-2 3 -5 0 -1 -4 2 -4 4 1zl6 4M362 721l-2 3 -4 -1 -1 -3 2 -3 4 1zl-1 -6M225 537l-4 1 -2 -3 1 -4 4 0 2 3zl8 -4M221 84l-4 2 -3 -3 1 -4 4 -1 3 2zl-1 -7M338 382l-4 2 -4 -2 0 -4 4 -2 4 2zl1 7M337 563l-3 2 -3 -2 0 -4 3 -2 3 2zl2 -5M198 381l-4 0 -2 -3 2 -4 3 0 2 3zl0 5M328 675l-4 3 -4 -1 -1 -5 4 -3 4 2zl2 5M319 562l-4 1 -3 -4 2 -4 5 0 2 3zl2 -8M260 716l-3 1 -2 -2 0 -3 3 -2 3 2zl6 -6M192 86l-3 1 -2 -1 0 -3 3 -2 2 2zl5 -2M244 476l-4 0 -3 -3 2 -4 4 -1 3 4zl8 0M310 576l-3 0 -2 -2 1 -3 3 -1 2 3zl-7 6M151 132l-4 0 -3 -2 1 -4 4 -1 3 3zl-4 4M142 568l-4 2 -4 -3 1 -5 4 -1 3 2zl3 -4M267 445l-4 0 -2 -3 2 -4 4 0 2 4zl7 -4M125 502l-3 1 -2 -2 0 -4 4 -1 2 3zl-1 -9M384 750l-3 1 -2 -4 1 -3 4 0 2 3zl5 -2M170 499l-2 4 -4 0 -2 -4 2 -4 4 1zl-4 -1M199 444l-2 2 -4 -1 -1 -4 3 -2 4 1zl-2 -6M361 175l-3 2 -2 -2 0 -3 3 -2 3 2zl-3 -4M375 683l-5 0 -3 -4 3 -4 5 0 2 4zl0 -6M323 261l-4 3 -4 -2 -1 -5 4 -3 4 2zl-7 1M188 418l-3 2 -3 -2 0 -3 3 -2 3 1zl-4 2M283 664l-3 4 -5 -1 -1 -4 2 -4 5 0zl-4 -6M147 179l-3 3 -5 -2 -1 -5 4 -3 5 2zl-2 9M310 232l-3 1 -3 -2 1 -3 3 -1 3 2zl-7 3M244 161l-3 2 -3 -2 0 -3 3 -2 3 2zl-8 -4M257 550l-3 2 -3 -1 -1 -3 2 -2 4 1zl6 5" stroke="#2e50e6" stroke-width="1.7" fill="none" stroke-linecap="round" stroke-linejoin="round"/><path d="M363 262l-3 2 -4 -2 0 -3 3 -2 3 1zl3 -6M362 653l-3 2 -3 -2 0 -3 3 -2 3 1zl-2 -5M317 663l-2 3 -3 -1 -2 -2 2 -3 3 0zl8 3M316 482l-3 0 -3 -2 2 -4 3 0 2 2zl-2 5M275 422l-5 0 -2 -4 2 -4 5 0 3 4zl-1 9M124 250l-4 0 -2 -3 1 -3 4 -1 2 3zl6 6M127 170l-3 2 -4 -1 -1 -3 3 -3 4 1zl-3 -3M70 219l-2 3 -5 0 -1 -4 2 -4 5 1zl6 4M107 182l-3 4 -3 -1 -2 -3 2 -3 4 0zl6 -3M342 634l-2 2 -3 -1 -1 -3 3 -2 2 1zl3 7M265 690l-2 3 -5 0 -2 -4 3 -4 5 1zl-5 1M113 202l-3 2 -4 -1 0 -5 4 -2 3 2zl-6 4M343 284l-3 3 -3 -1 -2 -3 2 -3 4 0zl5 -1M234 551l-3 2 -2 -2 0 -3 3 -2 3 2zl-5 -1M367 203l-2 2 -4 -1 0 -3 2 -3 3 1zl-5 6M230 422l-4 1 -3 -3 1 -4 5 -1 2 3zl4 3M303 175l-3 2 -3 -1 0 -4 3 -2 3 2zl2 -7M26 174l-3 1 -3 -2 1 -3 3 -1 2 2zl4 -7M285 464l-3 1 -2 -2 0 -3 3 -1 2 2zl0 -4M294 383l-2 2 -3 -1 -1 -4 3 -2 3 2zl2 -4M225 92l-2 3 -4 -1 -1 -4 3 -3 4 2zl-7 -4M308 338l-3 1 -2 -1 -1 -4 3 -1 3 1zl8 -4M290 283l-3 1 -3 -1 0 -3 3 -2 3 2zl-5 0M244 652l-3 3 -4 -2 -1 -3 3 -3 4 1zl-5 5M148 190l-3 1 -3 -2 1 -3 3 -1 3 2zl-2 -8M249 446l-2 2 -3 0 -1 -3 1 -2 3 0zl-7 -2M273 592l-3 2 -2 -2 0 -3 3 -2 2 2zl4 2M316 361l-3 2 -4 -2 0 -4 3 -2 4 2zl7 -4M150 559l-4 3 -5 -1 0 -5 4 -3 4 2zl-2 6M253 390l-2 3 -4 -1 -1 -3 2 -3 4 1zl7 3M361 377l-4 4 -5 -2 -1 -5 4 -3 5 2zl-6 -2M142 529l-3 3 -5 -2 0 -5 4 -2 4 2zl7 -3M268 656l-4 1 -4 -3 1 -4 4 -1 4 2zl9 -2M280 418l-3 3 -3 -1 -1 -3 2 -3 4 1zl-4 0" stroke="#4a6e96" stroke-width="1.7" fill="none" stroke-linecap="round" stroke-linejoin="round"/></g>
<g><path d="M279 159l-5 2 -3 -3 0 -4 4 -3 4 3zl3 -4M191 382l-4 1 -3 -2 0 -4 4 -2 4 3zl-1 8M335 355l-4 3 -3 -1 -1 -4 3 -3 4 1zl4 -8M350 639l-5 0 -3 -4 3 -4 4 0 3 4zl4 6M313 736l-4 1 -3 -2 1 -4 3 -1 3 2zl6 6M197 150l-3 2 -3 -2 0 -3 2 -2 4 1zl-2 5M220 508l-2 3 -4 -1 -1 -3 2 -3 4 1zl7 2M298 257l-5 2 -3 -3 0 -5 5 -1 3 3zl-4 -4M115 212l-3 3 -5 -1 -1 -4 3 -4 4 1zl5 1M178 544l-4 1 -2 -4 1 -3 4 -1 3 3zl-7 5M322 236l-2 4 -5 -1 -2 -3 3 -4 4 0zl-5 -1M137 168l-4 2 -4 -1 0 -5 3 -2 4 1zl-8 2M394 709l-4 0 -2 -3 1 -3 4 -1 2 3zl-7 5M196 83l-4 0 -3 -3 2 -3 4 -1 2 3zl5 -4M275 670l-3 3 -3 -1 -1 -5 3 -2 4 1zl-1 6M92 173l-4 1 -3 -4 1 -4 5 -1 3 4zl5 -1M313 657l-5 1 -3 -4 2 -4 4 -1 3 3zl7 3M190 172l-3 0 -2 -2 2 -3 3 0 2 2zl1 5M346 779l-2 3 -4 -1 -2 -3 3 -3 3 0zl4 1M239 565l-4 3 -5 -3 0 -5 5 -2 4 2zl2 -8M355 775l-4 3 -4 -2 -1 -4 4 -3 4 2zl-7 1M102 464l-3 4 -5 -1 -2 -4 3 -4 5 1zl-4 5M166 181l-3 2 -3 -1 -1 -3 2 -3 4 1zl3 5M260 334l-4 1 -2 -3 1 -4 4 0 2 3zl5 -5M97 498l-4 2 -4 -3 1 -4 4 -2 3 3zl2 8M415 716l-4 2 -4 -3 0 -5 4 -2 4 3zl6 -3M231 619l-3 2 -3 -1 -1 -4 3 -2 3 1zl-5 2M221 376l-3 1 -3 -1 0 -3 3 -2 3 2zl-5 6M90 121l-4 3 -3 -2 -1 -4 4 -2 3 1zl-5 -3M274 663l-3 3 -4 -2 0 -4 3 -2 4 1zl6 4M332 742l-3 1 -2 -3 1 -4 4 0 2 3zl3 3M385 676l-3 3 -4 -1 0 -4 2 -3 4 1zl-5 0M275 398l-2 4 -5 0 -2 -4 3 -4 5 0zl1 -6M142 165l-3 3 -5 0 -1 -5 3 -3 5 1zl-5 -5M236 402l-3 1 -3 -2 0 -3 4 -2 2 3zl-1 7M331 603l-3 0 -2 -3 2 -2 3 0 1 2zl1 8M103 476l-5 1 -3 -4 2 -4 4 -1 3 4zl-4 2M150 421l-3 3 -5 -1 -1 -5 4 -3 4 2zl-5 -1M311 228l-3 1 -2 -3 1 -3 3 0 2 2zl-7 -1M110 113l-4 1 -2 -4 1 -3 4 -1 2 3zl5 5M307 174l-4 0 -3 -3 2 -4 4 -1 2 4zl2 5M208 653l-5 1 -3 -4 2 -4 5 -1 3 4zl-4 -4M178 420l-4 0 -2 -4 2 -3 4 0 2 3zl2 -4M219 242l-5 1 -2 -4 2 -4 4 0 3 3zl5 -6M136 466l-3 1 -3 -2 1 -4 3 -1 3 3zl-6 -5M345 619l-2 4 -4 -1 -2 -3 2 -3 4 0zl1 7M272 352l-3 2 -3 -1 0 -3 2 -2 3 1zl8 -4M181 190l-3 2 -3 -2 0 -3 3 -2 3 1zl2 4M174 172l-2 3 -4 -1 -1 -4 3 -2 3 1zl-1 6M300 543l-4 1 -3 -3 0 -4 5 -2 3 3zl4 2M250 94l-2 3 -4 -1 -1 -3 3 -3 3 1zl-4 6M305 496l-2 3 -3 -1 -1 -3 2 -2 3 0zl-1 7M209 505l-3 4 -4 -1 -2 -4 3 -3 4 0zl-3 6M127 84l-2 3 -3 0 -2 -3 2 -2 3 0zl-1 5M203 210l-4 0 -2 -3 2 -3 3 0 3 3zl3 -5M192 171l-4 0 -1 -3 1 -3 4 0 1 3zl-1 -7M133 93l-2 1 -3 -1 0 -3 3 -2 2 2zl6 2M248 618l-5 0 -3 -4 2 -4 5 -1 3 4zl7 5M62 221l-5 1 -2 -4 1 -4 5 0 2 3zl8 2M191 427l-3 3 -4 -1 -1 -4 3 -3 4 2zl-8 0M311 374l-3 4 -4 -2 -1 -4 3 -3 4 1zl-1 -4M314 731l-3 4 -4 -1 -2 -4 3 -4 4 1zl-8 -3M244 317l-3 4 -4 -1 -2 -4 3 -4 4 1zl4 1M207 76l-5 1 -3 -4 2 -4 4 -1 3 3zl6 4M185 517l-4 0 -2 -3 2 -3 4 0 2 3zl4 -3M115 180l-4 1 -2 -2 0 -4 4 -1 2 3zl-8 3M154 140l-3 0 -2 -3 1 -2 4 -1 1 3zl6 3M103 237l-3 0 -2 -2 1 -3 3 0 2 2zl3 3M286 631l-1 2 -3 0 -2 -3 2 -2 3 0zl-8 -1M337 780l-3 2 -3 0 -1 -3 2 -3 3 0zl-4 -3M362 173l-2 3 -4 0 -2 -3 2 -3 4 0zl-6 3" stroke="#86c8e8" stroke-width="1.7" fill="none" stroke-linecap="round" stroke-linejoin="round"/><path d="M260 419l-3 4 -5 -1 -2 -5 4 -4 5 1zl-5 -2M188 224l-3 3 -5 -1 -1 -5 4 -3 5 2zl1 4M366 283l-2 3 -5 0 -1 -4 2 -3 4 0zl-4 3M116 164l-3 3 -4 -1 -1 -5 4 -3 4 2zl-4 7M250 543l-4 0 -1 -2 1 -3 3 0 2 2zl2 -4M263 714l-4 0 -2 -3 1 -3 4 0 2 3zl-5 2M262 448l-3 2 -3 -2 0 -4 3 -2 3 2zl3 -8M350 272l-4 1 -3 -2 0 -5 4 -2 4 3zl5 -2M263 588l-4 2 -5 -2 0 -4 4 -3 4 2zl-4 -4M126 158l-3 1 -3 -2 1 -4 4 -1 2 3zl5 3M247 178l-4 2 -3 -2 0 -4 3 -2 3 2zl-7 -3M306 675l-2 3 -4 -1 -1 -3 2 -3 4 0zl5 -5M141 89l-3 3 -5 -1 0 -5 3 -3 5 2zl4 6M306 556l-3 3 -5 -2 -1 -4 4 -4 4 2zl-4 -5M171 530l-3 2 -3 -1 -1 -3 3 -3 3 1zl-5 -5M214 70l-4 3 -4 -2 0 -4 4 -3 4 2zl-4 -2M108 218l-3 3 -3 -2 -1 -3 3 -2 3 1zl-7 -3M153 206l-3 2 -4 -2 0 -4 4 -1 3 2zl-6 -4M91 540l-3 0 -2 -3 1 -3 4 0 2 3zl4 -8M249 121l-5 1 -2 -3 1 -5 4 0 3 3zl8 0M229 592l-4 2 -4 -3 0 -4 4 -2 4 2zl1 8M256 335l-2 3 -4 -1 -1 -3 2 -3 3 0zl-1 5M262 465l-3 1 -3 -2 0 -4 4 -2 3 3zl6 3M328 368l-3 1 -4 -2 1 -4 4 -2 3 3zl-5 -7" stroke="#4a6e96" stroke-width="1.7" fill="none" stroke-linecap="round" stroke-linejoin="round"/><path d="M255 417l-3 1M339 347l-2 3M189 228l1 3M287 409l-2 -3M354 645l-3 1M204 365l3 1M273 488l3 2M227 510l2 -3M224 670l2 3M295 383l-3 1M120 213l2 3M129 170l3 0M97 172l-0 -3M320 660l-0 3M252 539l-0 -3M258 716l1 -3M137 518l-3 -1M191 177l2 3M348 776l2 3M98 469l-1 -3M355 270l-3 -2M201 512l2 -3M162 86l-1 -3M259 584l-3 1M131 161l1 3M169 186l-1 3M240 175l3 -2M330 371l-3 -1M421 713l-3 -1M226 621l3 -2M85 118l-2 3M380 676l-1 3M276 392l-3 -1M137 160l-1 3M193 139l-0 -3M267 680l-3 0M238 251l3 -0M302 551l3 0M99 478l3 2M166 525l0 -3M210 629l1 3M145 420l3 0M233 717l1 3M277 272l-1 -3M308 140l-3 -1M115 118l0 -3M312 168l-1 3M135 144l-2 3M130 461l-2 3M361 776l-0 -3M346 626l-2 3M283 620l2 -3M147 202l-3 -1M95 532l1 3M280 348l-3 -1M312 369l-3 0M261 405l-0 3M173 178l0 3M304 545l3 1M246 100l-2 3M304 503l0 -3M126 89l3 -1M326 154l-3 -1M206 205l-2 3M191 164l-2 -3M205 213l-3 0M255 623l3 2M70 223l2 -3M183 427l-3 1M213 193l-1 -3M310 370l0 -3M306 728l3 2M248 318l3 1M165 576l-1 3M259 159l3 -1M275 688l3 2M369 777l-3 2M163 467l-3 -1M336 283l-1 -3M160 143l3 2M202 366l-3 -0M106 240l2 -3M278 630l-3 2M183 380l1 -3M202 654l-2 3M255 340l3 -2M333 777l-1 3M356 176l1 3M236 274l2 -2M323 361l1 3" stroke="#e3201b" stroke-width="2.2" fill="none" stroke-linecap="round" stroke-linejoin="round"/><path d="M414 712l-5 2 -4 -3 1 -5 4 -2 4 3zl0 -6M284 406l-5 2 -3 -3 0 -5 5 -1 4 3zl3 3M409 703l-3 2 -3 -2 -1 -3 3 -2 3 1zl6 6M362 749l-3 2 -3 -3 1 -3 3 -1 3 2zl0 -6M199 369l-2 4 -4 0 -2 -4 2 -4 5 1zl5 -4M268 491l-4 2 -3 -1 -1 -4 3 -3 4 2zl5 -3M228 666l-2 4 -4 -1 -2 -3 3 -4 4 1zl-4 4M295 374l-5 1 -3 -3 2 -5 4 -1 3 4zl0 9M151 452l-3 2 -3 -2 0 -3 4 -2 2 2zl9 0M247 728l-4 0 -2 -3 2 -3 4 0 1 3zl4 -2M183 145l-5 1 -3 -4 2 -4 5 0 2 3zl6 6M138 511l-4 2 -3 -3 0 -5 5 -1 3 3zl-1 7M205 570l-3 3 -5 -1 -1 -4 3 -4 5 1zl0 4M195 514l-3 3 -4 -2 0 -5 3 -2 4 2zl6 -2M163 78l-3 3 -4 0 -2 -4 3 -3 4 0zl-1 8M356 763l-4 2 -3 -3 0 -4 4 -2 3 3zl6 -4M334 373l-3 3 -5 -1 0 -5 3 -3 5 2zl-4 -2M192 143l-4 0 -2 -3 2 -3 3 0 2 3zl1 -4M274 677l-2 2 -3 0 -1 -3 2 -3 3 1zl-7 3M236 244l-3 3 -4 0 -2 -3 2 -4 5 0zl2 7M184 394l-4 1 -2 -3 1 -3 4 -1 2 3zl6 -7M64 146l-2 4 -4 -1 -2 -3 3 -4 4 1zl5 7M289 598l-3 2 -4 -2 0 -4 4 -2 3 2zl-3 7M204 628l-4 3 -4 -3 0 -4 4 -3 4 3zl6 1M233 710l-5 1 -3 -4 2 -4 4 -1 3 4zl0 7M179 497l-4 3 -4 -2 -1 -5 5 -3 4 2zl5 3M272 267l-5 2 -4 -3 1 -5 4 -2 4 3zl5 5M247 506l-3 2 -4 -1 -1 -4 3 -2 4 1zl5 2M309 147l-3 0 -3 -3 2 -3 3 -1 3 3zl-1 -7M317 172l-4 0 -3 -3 2 -4 5 -1 2 4zl-5 -4M129 145l-4 2 -5 -3 1 -5 4 -2 4 3zl6 -1M367 777l-2 2 -3 0 -2 -3 2 -2 3 0zl-6 -1M289 614l-4 2 -3 -3 1 -4 3 -1 3 2zl-6 6M326 302l-2 3 -3 -1 -1 -3 2 -2 3 0zl-6 4M308 366l-3 2 -4 -2 0 -4 3 -2 4 2zl4 3M256 412l-3 0 -1 -3 1 -2 3 0 2 2zl5 -7M123 503l-2 2 -3 -1 -1 -3 2 -2 3 1zl3 3M331 156l-2 3 -3 -1 -1 -3 2 -2 3 1zl-5 -2M222 357l-3 1 -4 -2 1 -4 3 -1 4 2zl0 -9M213 212l-3 0 -2 -4 2 -3 3 0 2 3zl-8 1M238 621l-3 1 -2 -2 1 -4 3 0 2 2zl-5 1M212 188l-1 3 -4 0 -2 -3 2 -3 4 0zl1 5M165 571l-4 1 -3 -2 1 -4 4 -1 2 3zl0 5M253 159l-4 1 -4 -3 2 -5 4 -1 4 3zl6 0M278 696l-2 2 -4 -1 -1 -3 3 -2 3 0zl-3 -8M365 770l-5 0 -3 -4 2 -4 5 -1 3 4zl4 7M391 742l-5 2 -4 -3 1 -5 4 -2 4 3zl-5 -3M167 473l-3 1 -3 -3 1 -3 3 -1 3 3zl-4 -6M338 276l-4 0 -2 -3 2 -4 4 0 2 4zl-2 7M304 270l-4 0 -2 -3 1 -3 4 -1 2 3zl-6 5M203 374l-4 1 -2 -3 2 -4 3 0 3 3zl-1 -8M177 380l-1 3 -4 -1 -1 -3 2 -2 3 0zl6 0M196 656l-4 1 -2 -2 0 -4 4 0 2 2zl6 -2M231 274l-4 0 -2 -4 2 -3 4 0 2 3zl5 0M119 170l-4 1 -3 -3 0 -4 4 -1 4 3zl0 -5" stroke="#2e50e6" stroke-width="1.7" fill="none" stroke-linecap="round" stroke-linejoin="round"/></g>
<g fill="url(#blobg)" stroke="#333" stroke-width="1"><ellipse cx="413" cy="252" rx="9" ry="7"/><ellipse cx="392" cy="208" rx="6" ry="5"/></g>
<path d="M1581 133l-4 0 -2 -3 2 -4 4 0 2 3zl-2 8M1555 106l-3 0 -2 -3 1 -3 3 0 2 3zl4 5M1576 141l-3 3 -4 -2 -1 -4 4 -3 4 2zl9 -1M1586 121l-4 3 -4 -1 -1 -5 3 -3 5 1zl4 2M1585 147l-5 2 -3 -3 1 -5 4 -2 4 3zl-6 4M1565 171l-5 1 -2 -3 1 -4 4 -1 3 3zl-5 -5M1545 105l-3 0 -3 -3 1 -3 4 -1 3 3zl-3 4M1581 164l-4 2 -3 -2 0 -4 4 -2 3 2zl7 -5M1557 150l-3 2 -3 -2 0 -3 3 -2 3 2zl-1 4M1575 164l-4 2 -4 -3 1 -5 5 -1 3 3zl-4 1M1576 92l-4 0 -3 -3 2 -4 4 0 2 3zl-3 -3M1588 65l-2 3 -4 0 -1 -4 2 -3 4 1zl5 4M1587 88l-3 1 -3 -2 1 -3 3 -1 2 2zl-5 0M1583 90l-3 2 -3 -2 0 -3 3 -2 3 2zl5 -6M1584 131l-1 3 -4 0 -1 -3 2 -3 3 0zl-5 6M1574 132l-4 0 -3 -3 3 -4 4 0 2 3zl-5 1M1547 110l-2 2 -3 -1 -1 -3 2 -2 3 1zl0 -7M1552 182l-4 2 -3 -3 0 -5 5 -1 3 3zl1 6M1546 152l-3 2 -3 -1 -1 -4 4 -2 3 1zl-1 -8M1549 80l-4 1 -2 -2 0 -4 4 -1 2 3zl5 1" stroke="#d0b48a" stroke-width="2.0" fill="none" stroke-linecap="round" stroke-linejoin="round"/><path d="M1579 141l-2 -3M1559 111l1 -3M1567 151l-3 2M1581 122l-3 -1M1582 148l-3 -0M1579 151l1 -3M1548 72l-1 3M1555 159l3 -0M1560 166l2 -3M1542 109l2 3M1546 148l1 -3M1588 159l0 3M1590 129l-2 -3M1570 84l3 1M1571 165l-3 0M1550 106l-3 1M1573 89l3 2M1588 84l-3 2M1569 133l2 3M1574 120l2 3M1547 103l3 -1M1574 125l-3 -1M1572 135l0 3M1574 151l-2 -3M1553 118l1 3M1554 81l-3 2M1548 171l1 -3" stroke="#e3201b" stroke-width="2.5" fill="none" stroke-linecap="round" stroke-linejoin="round"/><path d="M1570 143l-3 1 -3 -2 1 -3 2 -1 3 2zl-3 8M1545 69l-3 3 -4 -1 -1 -5 3 -3 5 2zl3 3M1562 157l-3 1 -3 -3 1 -3 4 -1 2 3zl-7 2M1578 81l-4 0 -2 -2 1 -3 3 -1 3 2zl-8 3M1556 102l-3 1 -3 -3 1 -3 3 -1 3 3zl-6 4M1569 124l-3 3 -3 -1 -2 -3 3 -3 3 1zl5 -4M1586 104l-4 3 -4 -1 -1 -5 4 -3 4 2zl2 -4M1561 125l-5 1 -4 -3 1 -4 4 -2 4 3zl2 -6M1569 132l-3 1 -2 -3 1 -3 4 0 2 2zl5 -7M1566 130l-3 3 -4 -1 -2 -3 3 -4 4 1zl6 5M1549 122l-3 2 -3 -2 -1 -3 3 -2 4 1zl4 -4M1553 176l-3 2 -3 -2 0 -4 3 -1 4 2zl-5 -5" stroke="#3550e0" stroke-width="2.0" fill="none" stroke-linecap="round" stroke-linejoin="round"/><path d="M1579 113l-4 2 -4 -2 0 -5 4 -2 4 2zl2 9M1581 153l-3 1 -3 -2 1 -4 4 -1 2 3zl1 -5M1542 151l-3 0 -2 -2 2 -3 3 0 1 3zl4 -3M1587 122l-1 2 -4 0 -1 -3 2 -3 3 1zl3 7M1556 155l-3 2 -4 -2 0 -4 4 -3 3 3zl-8 -1M1580 124l-3 4 -5 0 -2 -5 3 -4 5 0zl2 6M1579 148l-2 2 -4 -1 -1 -3 3 -3 3 1zl-5 3M1585 180l-3 0 -2 -3 2 -2 3 0 2 2zl5 -3" stroke="#6a5a48" stroke-width="2.0" fill="none" stroke-linecap="round" stroke-linejoin="round"/><path d="M1882 161l-2 2 -3 0 -1 -4 2 -2 3 1zl-1 8" stroke="#6a5a48" stroke-width="2.0" fill="none" stroke-linecap="round" stroke-linejoin="round"/><path d="M1894 174l-3 0 -3 -2 1 -4 4 0 2 2zl-7 -2M1883 172l-2 3 -4 -1 -1 -3 3 -3 3 1zl0 5" stroke="#3550e0" stroke-width="2.0" fill="none" stroke-linecap="round" stroke-linejoin="round"/><path d="M1883 177l-2 3M1887 180l-1 -3" stroke="#e3201b" stroke-width="2.5" fill="none" stroke-linecap="round" stroke-linejoin="round"/><path d="M1893 174l-3 2 -3 -2 0 -3 3 -2 3 2zl-6 6" stroke="#d0b48a" stroke-width="2.0" fill="none" stroke-linecap="round" stroke-linejoin="round"/><path d="M86 568l-4 0 -3 -2 1 -4 4 -1 3 3zl-3 3M87 555l-3 3 -3 -1 -2 -3 3 -3 4 1zl-6 1" stroke="#86c8e8" stroke-width="2.2" fill="none" stroke-linecap="round" stroke-linejoin="round"/><path d="M64 566l-5 1 -3 -3 1 -4 4 -2 4 3zl0 -6M70 572l-2 4 -5 0 -2 -4 2 -4 5 0zl-6 4" stroke="#2e50e6" stroke-width="2.2" fill="none" stroke-linecap="round" stroke-linejoin="round"/><path d="M64 560l-1 3M81 556l-0 3" stroke="#e3201b" stroke-width="2.7" fill="none" stroke-linecap="round" stroke-linejoin="round"/><path d="M104 605l-2 3 -3 -1 -1 -3 2 -2 3 1zl1 -6M145 593l-3 3 -4 -2 -1 -4 4 -3 4 2zl-1 -6M134 613l-3 3 -4 -1 -1 -4 3 -3 4 1zl8 0" stroke="#86c8e8" stroke-width="2.2" fill="none" stroke-linecap="round" stroke-linejoin="round"/><path d="M101 595l-4 0 -2 -2 1 -3 3 -1 3 3zl-2 -7M133 618l-4 2 -4 -2 0 -4 4 -3 4 2zl1 -9" stroke="#2e50e6" stroke-width="2.2" fill="none" stroke-linecap="round" stroke-linejoin="round"/><path d="M99 588l3 -1M144 587l3 1M142 613l0 3M123 612l3 0" stroke="#e3201b" stroke-width="2.7" fill="none" stroke-linecap="round" stroke-linejoin="round"/><path d="M129 612l-3 2 -3 -3 0 -4 4 -1 3 2zl-6 0" stroke="#3a5a90" stroke-width="2.2" fill="none" stroke-linecap="round" stroke-linejoin="round"/><path d="M177 630l-3 3 -5 -2 0 -5 4 -3 4 2zl-4 -7M184 660l-4 1 -2 -3 1 -3 4 -1 2 3zl1 -5" stroke="#2e50e6" stroke-width="2.2" fill="none" stroke-linecap="round" stroke-linejoin="round"/><path d="M173 623l1 3M208 675l-2 -3M201 651l-3 -0M196 639l3 1M188 639l3 0" stroke="#e3201b" stroke-width="2.7" fill="none" stroke-linecap="round" stroke-linejoin="round"/><path d="M201 678l-3 1 -2 -2 0 -3 3 -1 2 2zl7 -3" stroke="#3a5a90" stroke-width="2.2" fill="none" stroke-linecap="round" stroke-linejoin="round"/><path d="M195 652l-4 0 -2 -3 1 -3 4 -1 2 3zl6 -1M195 633l-2 3 -4 -1 -1 -3 2 -3 4 1zl1 6M188 634l-3 1 -2 -3 1 -4 4 0 2 3zl0 5" stroke="#86c8e8" stroke-width="2.2" fill="none" stroke-linecap="round" stroke-linejoin="round"/><path d="M228 711l-4 1 -2 -4 1 -3 4 -1 2 4zl4 1M224 735l-4 1 -2 -2 1 -4 4 -1 2 3zl-4 2M222 702l-3 1 -3 -2 1 -4 4 -1 2 3zl2 -6" stroke="#86c8e8" stroke-width="2.2" fill="none" stroke-linecap="round" stroke-linejoin="round"/><path d="M220 737l2 3M224 696l3 0" stroke="#e3201b" stroke-width="2.7" fill="none" stroke-linecap="round" stroke-linejoin="round"/><path d="M336 771l-5 0 -3 -3 2 -5 5 0 3 3zl1 -7M309 771l-3 1 -3 -2 1 -3 3 -2 2 3zl-5 4M324 768l-3 2 -4 -2 0 -4 3 -2 4 2zl5 -6M401 767l-1 2 -4 0 -1 -3 2 -3 3 1zl-3 -4" stroke="#2e50e6" stroke-width="2.2" fill="none" stroke-linecap="round" stroke-linejoin="round"/><path d="M362 769l-3 3 -4 -2 -1 -4 3 -3 4 1zl3 -5M346 763l-3 3 -4 -2 -1 -4 4 -2 3 1zl5 -6M312 771l-3 2 -3 -2 0 -4 3 -2 3 2zl8 2" stroke="#86c8e8" stroke-width="2.2" fill="none" stroke-linecap="round" stroke-linejoin="round"/><path d="M365 764l-0 -3M351 757l-3 0M329 762l-3 -2M320 773l-1 3M398 763l-3 2" stroke="#e3201b" stroke-width="2.7" fill="none" stroke-linecap="round" stroke-linejoin="round"/><path d="M92 146l-4 2 -3 -2 -1 -4 3 -2 4 2zl1 -5M73 161l-4 1 -4 -4 2 -5 5 0 3 3zl-6 1M42 179l-3 0 -2 -2 2 -3 3 0 1 2zl-6 -1M22 130l-3 3 -3 -1 -1 -4 2 -2 4 1zl-2 4M38 211l-3 3 -4 -2 0 -4 4 -2 3 2zl-3 3M43 202l-4 1 -3 -4 2 -4 4 0 3 3zl1 -5M27 114l-3 0 -2 -2 2 -3 3 0 2 2zl-2 -5M75 142l-2 3 -4 0 -2 -4 3 -3 4 0zl1 7M99 111l-4 3 -5 -2 0 -5 4 -3 4 2zl-8 0M20 184l-5 1 -3 -3 2 -5 4 -1 4 4zl-4 -5M88 240l-4 0 -2 -4 2 -4 4 0 3 4zl-3 -8M68 141l-3 2 -3 -1 0 -4 3 -2 3 1zl5 -7M28 137l-2 1 -3 -2 1 -3 3 -1 2 2zl5 -6M31 205l-4 1 -2 -3 2 -3 4 -1 1 3zl0 -6M85 242l-3 2 -3 -2 0 -4 3 -2 4 2zl-2 6M89 114l-2 3 -5 0 -2 -4 3 -4 4 0zl-4 -6M80 103l-2 2 -3 -1 -1 -3 2 -3 3 1zl-4 2M7 184l-3 2 -3 -1 -1 -3 2 -3 4 1zl6 2M24 134l-4 1 -3 -3 1 -4 5 -1 3 3zl-1 -6M21 180l-3 2 -3 -1 -1 -3 3 -2 3 0zl-6 2M59 221l-4 0 -3 -4 3 -4 4 0 2 4zl7 -1M104 173l-3 3 -4 0 -2 -4 3 -4 4 1zl-4 5M80 143l-4 0 -3 -3 1 -4 5 -1 3 4zl-6 -3M46 205l-4 1 -4 -2 1 -5 4 -1 3 2zl-1 5M103 112l-4 1 -3 -4 2 -4 5 0 2 3zl-7 5M7 158l-3 1 -3 -3 1 -4 4 -1 2 3zl-5 -3M56 236l-3 4 -4 -1 -2 -4 3 -4 4 0zl3 6M80 144l-3 4 -5 -2 -1 -4 3 -4 5 1zl0 -5M36 150l-2 3 -3 -1 -2 -3 2 -3 4 1zl-5 1" stroke="#2e50e6" stroke-width="2.4" fill="none" stroke-linecap="round" stroke-linejoin="round"/><path d="M93 141l1 -3M67 162l3 0M107 185l1 -3M35 161l3 -1M93 252l-3 -2M35 214l3 -0M49 97l3 2M44 197l-3 -0M65 91l-3 -2M76 149l3 -2M86 263l-0 -3M58 133l0 3M72 149l-3 -1M91 111l-1 3M87 212l1 3M75 210l3 1M121 240l-2 3M75 136l-2 3M114 263l-3 -1M22 184l-3 2M73 134l-3 -0M52 150l3 -2M33 131l-3 1M122 252l2 3M32 117l2 -3M31 199l2 3M68 230l3 -2M70 154l-3 -0M83 248l3 2M78 233l-2 3M92 143l-3 1M85 108l-3 1M127 142l3 2M76 105l3 -1M75 96l-3 -1M13 186l-1 3M23 128l3 -2M15 182l3 -0M73 106l-0 3M54 215l2 3M82 204l0 -3M100 178l-3 2M79 156l-1 3M87 231l-3 -1M74 139l-3 -2M73 132l-2 -3M74 140l3 -0M45 210l1 3M117 136l2 3M62 129l1 3M69 229l-2 3M65 105l-1 -3M85 172l1 -3M96 117l1 -3M128 243l-2 -3M2 155l-0 3M58 232l3 0M84 138l2 -3M59 242l-2 -3M73 244l-3 1M89 157l-0 -3M31 152l2 2M124 242l3 -1M80 139l1 -3M31 151l3 1M27 227l-2 -3M129 249l3 -2" stroke="#e3201b" stroke-width="2.9" fill="none" stroke-linecap="round" stroke-linejoin="round"/><path d="M43 226l-4 1 -3 -3 1 -5 4 0 3 3zl1 4M106 178l-4 2 -3 -2 0 -4 3 -2 3 2zl1 7M30 158l-2 4 -5 -1 -1 -4 2 -3 5 0zl5 3M36 159l-4 0 -2 -3 2 -4 4 0 2 3zl-1 -8M86 210l-2 4 -4 0 -3 -4 3 -4 4 0zl9 2M51 101l-4 2 -3 -3 1 -4 4 -2 3 3zl-2 -4M58 164l-3 3 -5 -1 -1 -4 3 -3 4 0zl-1 7M61 97l-5 1 -3 -4 2 -4 5 -1 3 4zl4 -6M92 258l-3 1 -3 -2 1 -3 3 -1 2 2zl-6 5M92 116l-4 1 -3 -3 2 -4 4 -1 2 3zl-2 6M65 128l-5 2 -4 -3 1 -5 4 -2 4 3zl-7 5M68 153l-3 2 -2 -2 0 -3 3 -1 2 1zl4 -4M91 216l-2 3 -4 0 -2 -4 3 -4 4 1zl-4 -4M67 207l-4 1 -3 -2 1 -5 4 -1 3 3zl8 3M116 237l-2 3 -3 0 -2 -3 2 -3 4 0zl5 3M77 141l-4 1 -3 -2 0 -4 4 -2 3 3zl-2 -5M122 261l-3 3 -4 -1 -2 -4 3 -4 5 1zl-8 2M17 182l-3 2 -3 -2 0 -3 3 -2 3 1zl5 2M16 132l-5 1 -3 -4 1 -5 5 -1 4 4zl6 3M57 145l-1 2 -4 0 -1 -2 2 -3 3 0zl-5 5M125 245l-4 3 -4 -2 0 -4 3 -3 4 2zl-3 7M30 122l-4 1 -3 -2 0 -3 4 -2 3 2zl2 -5M75 225l-4 2 -4 -2 0 -5 4 -2 4 3zl-7 5M23 139l-4 3 -4 -3 0 -4 4 -3 4 3zl1 6M67 162l-3 0 -2 -2 2 -3 3 -1 2 3zl3 -8M74 234l-3 3 -3 -1 -1 -4 3 -3 3 1zl4 -1M98 146l-5 2 -3 -3 1 -5 4 -1 4 3zl-6 -3M120 147l-2 3 -4 0 -1 -3 2 -3 3 0zl7 -5M28 118l-4 2 -4 -2 1 -5 4 -2 3 3zl-1 -6M81 96l-3 2 -3 -2 1 -4 3 -1 2 2zl-6 0M37 181l-4 3 -4 -2 -1 -5 4 -3 4 2zl2 7M27 131l-4 3 -4 -3 0 -4 4 -3 4 2zl3 -4M73 114l-5 1 -2 -4 2 -4 5 0 2 3zl0 -8M53 223l-4 2 -4 -2 0 -5 4 -2 4 2zl1 -8M89 206l-4 3 -4 -3 0 -4 4 -3 4 2zl-7 -2M86 157l-4 2 -3 -2 0 -3 3 -3 3 2zl-7 -1M95 134l-4 2 -4 -2 0 -4 4 -3 4 2zl5 -5M83 231l-4 1 -3 -2 1 -3 3 -2 3 2zl4 0M77 135l-3 1 -2 -1 0 -3 2 -2 3 2zl-3 4M110 265l-3 3 -4 -1 -1 -4 3 -3 4 1zl6 3M112 134l-2 3 -3 0 -2 -3 2 -3 3 0zl5 2M68 224l-4 1 -3 -4 2 -4 4 -1 3 4zl-9 -1M70 126l-3 2 -3 -1 -1 -4 3 -2 3 2zl-8 3M73 236l-2 4 -4 -1 -2 -3 2 -4 5 0zl-4 -7M65 111l-4 0 -2 -3 2 -3 3 0 3 3zl0 -6M85 164l-3 2 -4 -1 -1 -4 3 -3 4 1zl0 8M134 245l-3 3 -4 -2 0 -4 3 -2 4 1zl-6 -2M52 226l-4 2 -4 -2 -1 -4 4 -3 5 2zl6 6M16 142l-3 1 -3 -3 1 -4 4 0 2 2zl6 -4M78 142l-3 4 -5 0 -2 -5 3 -4 5 0zl6 -4M44 228l-4 0 -3 -3 2 -4 4 0 3 3zl5 5M69 251l-3 2 -3 -2 0 -3 3 -2 3 2zl4 -7M93 160l-2 3 -3 -1 -1 -3 2 -2 3 0zl-4 -3M32 145l-4 2 -3 -3 1 -5 4 -1 3 3zl-1 7M130 242l-3 2 -4 -1 0 -4 3 -2 4 1zl-6 0M32 222l-5 1 -3 -4 2 -4 5 -1 3 4zl-5 5M125 246l-4 1 -3 -2 1 -4 4 -2 3 3zl4 3" stroke="#86c8e8" stroke-width="2.4" fill="none" stroke-linecap="round" stroke-linejoin="round"/><path d="M85 251l-4 0 -2 -4 2 -3 4 0 2 3zl8 1M62 201l-3 2 -4 -1 -1 -3 3 -3 4 1zl7 1M44 152l-3 2 -4 -2 0 -3 3 -2 4 1zl4 3M76 135l-3 1 -2 -2 1 -4 3 -1 2 3zl-3 -3" stroke="#5a8ab0" stroke-width="2.4" fill="none" stroke-linecap="round" stroke-linejoin="round"/><path d="M122,165C116,166 94,167 85,171C76,175 72,180 71,188C70,196 73,208 77,216C81,224 87,233 94,239C101,245 109,250 120,250C130,250 146,238 159,236C172,234 187,236 199,236C211,236 227,238 233,239" fill="none" stroke="#1a2a30" stroke-width="7" stroke-linecap="round" opacity="0.7"/><path d="M122,165C116,166 94,167 85,171C76,175 72,180 71,188C70,196 73,208 77,216C81,224 87,233 94,239C101,245 109,250 120,250C130,250 146,238 159,236C172,234 187,236 199,236C211,236 227,238 233,239" fill="none" stroke="#8cc8e6" stroke-width="5" stroke-linecap="round"/>
<defs><filter id="iso2" x="1519" y="-9" width="495" height="879" filterUnits="userSpaceOnUse" color-interpolation-filters="sRGB">
 <feGaussianBlur in="SourceAlpha" stdDeviation="3.0" result="blur"/>
 <feComponentTransfer in="blur" result="shape"><feFuncA type="linear" slope="12" intercept="-3.2"/></feComponentTransfer>
 <feComponentTransfer in="blur" result="shape2"><feFuncA type="linear" slope="14" intercept="-11"/></feComponentTransfer>
 <feGaussianBlur in="blur" stdDeviation="1.5" result="bump"/>
 <feDiffuseLighting in="bump" surfaceScale="11" diffuseConstant="1" lighting-color="#ffffff" result="light"><feDistantLight azimuth="235" elevation="44"/></feDiffuseLighting>
 <feSpecularLighting in="bump" surfaceScale="11" specularConstant="0.35" specularExponent="40" lighting-color="#ffffff" result="spec"><feDistantLight azimuth="235" elevation="44"/></feSpecularLighting>
 <feComponentTransfer in="light" result="lightA"><feFuncR type="linear" slope="0.8" intercept="0.2"/><feFuncG type="linear" slope="0.8" intercept="0.2"/><feFuncB type="linear" slope="0.8" intercept="0.2"/></feComponentTransfer>
 <feComposite in="spec" in2="lightA" operator="arithmetic" k1="0" k2="1" k3="1" k4="0" result="l2"/>
 <feComposite in="l2" in2="shape" operator="in" result="lit"/>
 <feMorphology in="shape" operator="erode" radius="1" result="er"/>
 <feComposite in="shape" in2="er" operator="out" result="edge"/>
 <feMorphology in="shape2" operator="erode" radius="1" result="er2"/>
 <feComposite in="shape2" in2="er2" operator="out" result="edge2"/>
 <feComponentTransfer in="blur" result="shape3"><feFuncA type="linear" slope="14" intercept="-13"/></feComponentTransfer>
 <feMorphology in="shape3" operator="erode" radius="1" result="er3"/>
 <feComposite in="shape3" in2="er3" operator="out" result="edge3"/>
 <feFlood flood-color="#2a2a2a" flood-opacity="0.5"/><feComposite in2="edge3" operator="in" result="edgec3"/>
 <feFlood flood-color="#1e1e1e" result="blk"/>
 <feComposite in="blk" in2="edge" operator="in" result="edgec"/>
 <feFlood flood-color="#2a2a2a" flood-opacity="0.7"/><feComposite in2="edge2" operator="in" result="edgec2"/>
 <feMerge><feMergeNode in="lit"/><feMergeNode in="edgec3"/><feMergeNode in="edgec2"/><feMergeNode in="edgec"/></feMerge>
</filter></defs>
<g opacity="0.5"><path d="M1733 385l-3 1 -2 -3 1 -3 4 -1 2 3zl-5 -3M1875 174l-3 3 -3 -1 -2 -3 3 -3 3 0zl0 5M1881 604l-4 1 -3 -3 2 -4 4 -1 2 3zl6 4M1741 75l-3 3 -4 -1 0 -4 2 -3 4 1zl-5 6M1927 522l-3 2 -3 -2 0 -3 3 -2 3 2zl-5 -4M1745 101l-3 2 -3 -2 0 -4 3 -1 3 2zl-4 2M1637 538l-4 1 -3 -3 1 -4 5 -1 3 3zl1 -4M1901 499l-4 2 -4 -2 0 -5 4 -2 4 2zl3 -8M1864 557l-2 3 -3 0 -2 -4 2 -3 3 1zl-2 -8M1696 455l-4 3 -4 -2 -1 -4 4 -3 4 1zl-4 -7M1798 601l-4 2 -4 -3 0 -4 4 -2 4 2zl-3 6M1705 171l-4 1 -2 -3 1 -4 4 0 2 3zl2 6M1933 669l-4 2 -4 -3 1 -4 4 -2 4 2zl-8 -1M1866 534l-3 1 -2 -2 1 -3 3 -1 2 2zl-4 4M1695 704l-4 1 -2 -3 1 -3 3 -1 3 2zl-7 -5M1982 740l-5 2 -4 -2 0 -5 4 -2 5 2zl3 3M1918 821l-4 2 -4 -1 0 -5 3 -2 4 2zl-1 -4M1933 512l-2 2 -3 0 -1 -3 2 -3 3 0zl-4 -2M1782 556l-4 0 -2 -3 2 -4 4 0 2 3zl7 -5M1689 116l-4 2 -3 -3 0 -4 5 -2 3 3zl1 5M1763 670l-3 4 -5 -1 -2 -4 3 -4 4 0zl-7 4M1749 582l-4 2 -4 -3 1 -4 4 -2 3 3zl2 -5M1737 171l-3 1 -3 -3 2 -4 3 0 3 3zl-2 4M1909 513l-3 3 -4 -1 -1 -4 3 -3 4 1zl-4 -4M1903 755l-2 3 -4 -1 -1 -4 3 -3 4 2zl0 -4M1832 405l-3 1 -2 -3 1 -3 3 0 2 2zl-4 -4M1666 212l-4 2 -4 -3 0 -5 4 -2 4 3zl-4 6M1899 801l-3 3 -3 -2 -1 -3 3 -3 4 2zl0 5M1731 480l-4 1 -2 -2 0 -3 4 -1 2 2zl-6 -5M1644 214l-4 1 -4 -3 1 -4 5 -2 3 3zl6 -1M1776 168l-4 2 -3 -3 1 -4 4 -2 3 3zl2 -6M1850 469l-4 1 -3 -2 0 -4 4 -1 3 2zl2 -5M1964 739l-3 2 -3 -2 -1 -3 4 -3 3 2zl7 3M1853 252l-2 4 -5 -1 -2 -4 3 -4 5 1zl-3 5M1878 500l-3 3 -5 -1 -1 -5 4 -3 4 2zl-8 -3M1715 365l-2 3 -4 -1 -2 -3 3 -3 4 0zl-1 6M1934 634l-4 1 -2 -3 1 -3 3 -1 3 2zl4 5M1875 613l-2 4 -5 0 -3 -5 3 -4 5 0zl-8 0M1770 510l-4 2 -4 -3 0 -4 4 -3 4 3zl8 0M1857 722l-2 3 -3 0 -2 -3 2 -3 3 0zl2 -4M1869 667l-3 2 -3 -1 -1 -4 3 -2 3 1zl-6 3M1710 699l-3 1 -3 -2 0 -3 3 -2 3 2zl-2 -4M1790 584l-2 2 -4 -1 -1 -3 3 -3 4 1zl-6 5M1842 408l-2 4 -4 -1 -1 -3 2 -3 3 0zl-5 1M1659 141l-3 0 -2 -2 2 -3 3 0 2 2zl-2 -4M1926 518l-4 2 -3 -2 0 -5 4 -2 4 3zl-1 -5M1888 438l-3 3 -5 -2 -1 -5 4 -3 5 2zl-7 -2M1873 507l-4 3 -4 -2 -1 -4 4 -4 4 2zl-8 -1M1644 504l-3 0 -2 -3 1 -3 4 0 2 3zl-5 -6M1813 543l-2 3 -3 -1 -1 -3 2 -2 3 0zl6 5M1821 441l-3 3 -4 -1 -2 -4 3 -3 4 1zl-2 4M1869 653l-2 2 -3 -2 0 -3 3 -2 3 2zl3 -6M1881 571l-3 4 -4 0 -2 -4 2 -4 5 1zl3 6M1952 706l-4 1 -2 -3 1 -4 4 0 2 3zl0 7M1737 435l-2 2 -3 0 -1 -3 1 -2 4 0zl7 6M1768 346l-4 1 -3 -2 1 -4 4 -1 2 2zl5 -4M1664 568l-4 0 -2 -3 1 -3 4 -1 2 3zl5 1M1742 391l-3 4 -4 -1 -2 -5 3 -3 5 0zl-7 -2M1953 739l-4 1 -4 -3 1 -4 5 -2 3 3zl-7 -5M1673 557l-3 2 -3 -3 0 -4 4 -1 3 2zl-5 6M1722 560l-2 4 -4 -1 -2 -4 3 -3 4 1zl4 0M1606 476l-4 1 -4 -3 2 -5 4 -1 3 3zl0 4M1838 511l-3 1 -2 -2 0 -3 3 -2 3 2zl-1 4M1786 78l-3 4 -5 0 -2 -4 3 -4 5 0zl7 0M1787 102l-4 1 -2 -3 1 -3 3 -1 2 2zl5 4M1750 377l-3 0 -2 -2 1 -3 3 0 2 2zl-8 0M1729 211l-4 2 -3 -3 1 -4 4 -2 3 3zl-4 7M1729 596l-2 3 -4 0 -2 -3 2 -4 4 0zl-3 4M1658 540l-3 4 -4 -1 -2 -4 3 -3 4 0zl2 7M1674 587l-3 3 -4 -1 -1 -4 3 -3 4 1zl-5 5M1843 391l-3 3 -3 -1 -2 -4 3 -3 4 1zl-2 -5M1757 306l-4 0 -1 -3 1 -3 4 0 1 3zl4 -6M1873 800l-2 3 -4 0 -2 -4 3 -3 3 0zl6 3M1961 775l-3 0 -3 -2 1 -3 3 -1 3 3zl6 5M1804 600l-3 3 -4 -1 0 -4 2 -2 4 1zl-6 -3M1962 721l-2 1 -3 -2 0 -3 3 -1 3 1zl3 -5M1756 420l-3 2 -3 -1 0 -3 2 -2 3 1zl7 -1M1714 377l-3 4 -4 0 -2 -5 3 -3 4 0zl-3 -7M1962 663l-3 2 -4 -2 0 -3 3 -2 3 1zl3 5M1586 509l-4 2 -5 -2 0 -5 4 -2 4 2zl3 -7M1839 754l-2 2 -3 0 -2 -3 2 -3 4 0zl5 3M1864 171l-4 1 -2 -3 1 -4 3 -1 3 3zl4 6M1838 716l-4 2 -3 -2 0 -4 4 -2 3 2zl1 8M1820 704l-4 3 -4 -1 -1 -5 3 -3 5 1zl-6 -3M1775 327l-4 3 -5 -3 0 -5 4 -2 5 2zl9 -2M1708 580l-3 1 -3 -3 1 -3 4 -1 2 2zl-4 6M1750 394l-4 0 -2 -3 2 -3 4 0 2 3zl5 1M1724 683l-4 2 -4 -3 1 -5 4 -2 4 3zl5 -4M1853 404l-4 2 -4 -1 0 -4 3 -3 4 2zl6 5M1758 479l-3 1 -3 -3 2 -3 3 0 2 2zl5 -2M1704 42l-5 2 -3 -4 1 -4 5 -1 3 3zl-1 4M1619 616l-3 0 -2 -3 1 -3 4 0 2 3zl0 -5M1624 149l-3 3 -4 -2 0 -4 3 -2 4 2zl7 2M1904 690l-3 1 -2 -1 0 -3 2 -2 3 2zl-6 0M1690 155l-4 0 -2 -3 2 -4 4 0 2 3zl5 1M1599 588l-3 0 -2 -3 1 -3 4 -1 2 3zl-5 2M1791 518l-5 2 -3 -3 0 -5 4 -2 4 3zl-5 4M1655 624l-4 1 -4 -2 1 -5 4 -2 3 3zl2 -7M1846 691l-3 1 -3 -2 1 -4 4 -1 2 3zl-3 -7M1869 714l-5 1 -3 -5 3 -4 4 0 3 4zl-6 -2M1820 143l-2 3 -3 0 -2 -3 2 -3 4 0zl2 7M1707 649l-4 3 -4 -1 -1 -4 4 -3 4 1zl-3 3M1839 409l-1 3 -3 0 -2 -3 2 -3 3 1zl8 4M1884 744l-3 4 -5 0 -1 -5 2 -3 5 0zl-6 2M1572 536l-5 1 -2 -4 2 -4 5 -1 2 4zl-8 -5M1798 459l-4 4 -4 -1 -2 -5 4 -4 4 1zl5 4M1797 344l-3 2 -3 -1 0 -4 3 -2 3 2zl5 -2M1929 632l-2 4 -4 -1 -1 -4 2 -3 4 1zl-6 1M1830 595l-4 2 -4 -2 0 -5 5 -2 4 3zl2 4M1647 174l-3 2 -3 -1 -1 -3 3 -2 3 1zl0 5M1569 543l-5 3 -4 -3 0 -5 5 -2 4 3zl4 7M1903 443l-3 2 -3 -1 -1 -3 3 -3 3 1zl4 2M1849 401l-3 0 -3 -3 2 -3 3 -1 3 3zl-8 1M1638 56l-3 3 -5 0 -2 -5 3 -4 5 1zl7 -4M1594 593l-3 2 -3 -1 0 -3 2 -2 3 1zl-7 0M1606 117l-3 1 -3 -1 1 -4 2 -1 3 1zl-2 -8M1617 655l-4 0 -1 -3 1 -3 4 0 1 3zl5 2M1829 252l-4 2 -4 -2 0 -5 4 -2 4 2zl-2 4M1900 772l-3 1 -2 -1 0 -3 3 -2 2 2zl-7 4M1807 425l-5 1 -3 -4 1 -4 5 -1 3 3zl1 -6M1872 255l-5 1 -3 -3 1 -4 4 -2 4 3zl1 -8" stroke="#c8b08a" stroke-width="1.3" fill="none" stroke-linecap="round" stroke-linejoin="round"/><path d="M1728 382l2 3M1655 198l-0 -3M1875 179l-1 -3M1618 552l-3 2M1722 660l-0 -3M1866 407l-3 0M1807 251l-1 -3M1904 491l1 3M1813 622l1 3M1862 549l2 3M1707 177l-2 2M1925 668l2 -3M1862 538l3 -2M1688 699l-3 -2M1985 743l1 3M1917 817l-0 -3M1671 677l-3 1M1789 551l-2 -2M1812 488l-3 -2M1813 451l1 3M1775 654l-3 2M1735 175l-1 -3M1631 521l3 2M1608 536l-3 -2M1903 751l3 -1M1828 401l3 -2M1899 806l-3 1M1929 757l3 -1M1743 484l3 -2M1650 213l3 1M1744 85l2 -3M1971 742l-1 -3M1725 506l0 3M1749 377l-3 -1M1744 671l-3 2M1714 371l3 1M1595 95l3 -2M1802 170l1 3M1938 639l-1 -3M1735 513l-0 3M1662 85l-3 2M1831 312l1 3M1750 470l3 -0M1859 718l-2 -3M1820 561l-1 -3M1696 603l-3 2M1863 670l1 -3M1818 545l-2 -3M1784 589l0 3M1657 137l1 -3M1881 436l3 -1M1846 545l-2 -3M1773 347l3 -1M1639 498l3 -2M1878 484l-1 3M1872 647l-3 2M1675 522l-3 -2M1790 426l-0 3M1884 577l-1 3M1773 342l2 3M1735 389l-3 1M1731 474l-3 -2M1606 639l-3 2M1668 563l-2 3M1625 658l3 2M1757 144l1 3M1826 450l3 -1M1962 593l-3 1M1712 74l2 -3M1837 151l-2 3M1742 377l3 2M1663 586l3 2M1726 600l-1 -3M1660 547l3 -1M1882 701l-1 3M1841 386l2 3M1879 803l-3 -2M1881 363l-3 -1M1694 572l-2 3M1967 780l2 2M1643 136l-1 3M1968 681l1 3M1901 793l3 1M1659 103l3 2M1681 401l-1 3M1664 50l-3 -1M1644 528l-2 -3M1700 51l-3 -1M1712 119l-1 3M1798 597l-1 3M1965 716l-0 3M1965 668l0 -3M1840 202l2 -3M1589 502l3 0M1845 708l3 -2M1844 757l-1 3M1763 530l-3 -0M1959 643l-2 3M1862 596l1 -3M1876 273l1 3M1864 228l-0 -3M1806 713l-3 -2M1859 409l3 -1M1763 477l3 -0M1798 607l-3 -0M1828 424l3 2M1631 112l-3 0M1619 611l-3 2M1722 428l3 -1M1898 690l-2 3M1695 156l3 2M1844 699l-2 3M1608 478l-3 0M1736 206l0 3M1786 522l3 -1M1657 617l-3 2M1760 493l-2 -3M1622 173l-3 -1M1863 712l-2 -3M1822 150l3 -1M1637 452l-3 -2M1911 618l3 -2M1781 520l-2 3M1878 746l0 -3M1600 575l3 -1M1869 646l3 -1M1847 616l3 -1M1564 531l2 -3M1875 836l-2 3M1803 463l1 -3M1802 342l3 2M1923 633l-1 -3M1774 69l3 -1M1647 179l3 0M1661 581l-3 -1M1955 593l2 -3M1604 469l3 -0M1907 445l0 3M1841 402l-3 1M1645 52l-3 1M1875 804l-3 2M1587 593l3 -2M1784 291l-3 2M1742 228l2 3M1604 109l3 -2M1827 256l-2 3M1893 776l3 1M1583 572l3 0" stroke="#e3201b" stroke-width="1.8" fill="none" stroke-linecap="round" stroke-linejoin="round"/><path d="M1651 199l-4 3 -4 -1 -2 -5 4 -3 5 1zl4 -1M1809 257l-5 1 -3 -3 2 -5 5 -1 3 4zl-2 -6M1808 621l-3 4 -5 -1 -2 -4 3 -4 5 0zl5 1M1869 189l-4 1 -2 -3 1 -3 4 -1 2 3zl5 3M1722 410l-3 3 -4 -1 -1 -4 3 -3 4 1zl6 -1M1971 779l-3 2 -2 -2 0 -3 3 -2 2 2zl-4 2M1669 673l-5 0 -3 -4 3 -4 5 -1 2 5zl2 4M1559 559l-3 3 -5 -1 -1 -5 3 -3 5 1zl-5 -6M1816 167l-4 1 -2 -3 1 -3 3 -1 3 3zl2 -4M1902 690l-4 1 -4 -3 0 -4 5 -2 4 3zl3 6M1776 203l-3 3 -4 -2 -1 -4 3 -3 5 1zl-3 5M1625 524l-4 2 -4 -2 1 -5 4 -2 3 3zl6 -3M1690 544l-4 3 -4 -1 -1 -4 3 -3 5 1zl4 2M1747 485l-4 2 -3 -2 0 -4 3 -2 4 2zl-4 -1M1753 83l-4 2 -3 -3 0 -4 4 -1 3 2zl-9 2M1725 511l-4 2 -4 -2 0 -4 4 -3 4 2zl0 -5M1846 818l-3 2 -2 -2 0 -3 2 -2 3 2zl-5 -6M1746 381l-4 2 -4 -2 0 -4 4 -2 4 2zl3 -4M1889 517l-4 1 -3 -2 1 -4 4 -1 2 2zl-6 2M1849 454l-3 4 -4 0 -3 -4 3 -5 5 1zl-6 -4M1707 46l-4 2 -4 -3 0 -4 4 -2 4 3zl-4 -5M1799 162l-3 2 -4 -1 0 -4 2 -2 4 1zl3 8M1669 619l-3 3 -5 -1 -1 -5 4 -3 4 2zl2 -4M1729 515l-4 1 -3 -2 1 -3 3 -2 3 2zl6 -2M1654 83l-4 1 -3 -2 1 -4 3 -1 3 2zl8 2M1834 307l-4 2 -5 -2 0 -5 4 -3 5 3zl-3 5M1745 69l-3 4 -4 -2 -1 -4 3 -3 4 1zl3 -4M1817 557l-4 0 -2 -3 2 -3 3 0 2 3zl3 4M1836 288l-3 4 -5 -1 -1 -4 3 -4 5 1zl5 -7M1833 698l-2 3 -4 -1 -1 -4 2 -3 4 1zl-1 9M1860 295l-4 0 -3 -3 1 -3 4 -1 3 3zl2 5M1586 482l-4 3 -4 -2 0 -5 3 -2 4 2zl3 -7M1757 632l-4 1 -3 -2 1 -4 3 -2 3 3zl1 -7M1892 455l-4 1 -3 -3 1 -4 5 -1 3 3zl4 2M1681 520l-3 3 -4 -1 -1 -4 2 -3 4 1zl-6 2M1738 479l-3 2 -3 -1 0 -3 2 -3 3 2zl-7 -5M1626 653l-3 3 -3 -2 -1 -4 3 -2 4 1zl-1 5M1747 256l-3 0 -2 -2 1 -3 3 -1 2 3zl6 -2M1905 806l-5 1 -3 -4 2 -5 4 -1 4 4zl-1 -9M1956 592l-3 2 -4 -1 0 -4 3 -2 4 1zl6 1M1716 76l-3 1 -3 -2 1 -3 3 -1 3 2zl-4 -2M1833 154l-3 2 -2 -2 0 -3 3 -1 2 1zl4 -3M1667 591l-3 4 -5 -1 -1 -5 3 -3 5 1zl-4 -5M1796 141l-4 2 -3 -3 0 -4 4 -2 3 3zl-4 6M1875 366l-3 3 -4 -2 -1 -4 3 -3 4 1zl6 -3M1693 577l-2 3 -3 -1 -2 -3 2 -2 3 0zl1 -5M1927 809l-2 3 -3 -1 -1 -3 2 -2 3 0zl4 2M1968 676l-3 2 -3 -1 -1 -4 3 -2 4 1zl0 5M1684 404l-4 2 -4 -2 1 -4 3 -2 4 2zl-3 -3M1670 54l-3 0 -2 -2 1 -3 3 -1 2 3zl-6 -4M1766 227l-4 0 -3 -3 2 -4 5 -1 2 4zl-3 8M1844 199l-2 2 -4 -1 0 -4 3 -2 3 1zl-4 3M1850 711l-4 1 -3 -3 1 -4 4 -1 3 3zl-5 -3M1759 533l-2 3 -4 0 -2 -3 2 -4 4 0zl4 -3M1966 644l-3 4 -4 0 -3 -4 3 -4 4 0zl-7 -1M1859 599l-2 3 -4 0 -2 -3 2 -4 4 0zl3 -3M1872 276l-3 1 -2 -3 1 -3 3 0 2 2zl4 -3M1794 609l-3 3 -5 -1 -1 -5 3 -3 5 1zl4 -2M1833 424l-2 3 -4 0 -1 -3 2 -3 4 0zl-5 0M1629 120l-3 2 -3 -2 0 -3 3 -1 3 1zl2 -8M1722 422l-4 2 -4 -3 1 -4 4 -2 4 2zl0 6M1846 691l-3 3 -3 -1 -1 -4 2 -2 4 1zl-2 8M1841 734l-2 3 -3 0 -2 -3 2 -3 3 0zl6 -5M1647 127l-2 3 -4 0 -2 -4 2 -3 4 0zl-5 -6M1648 155l-3 2 -3 -1 -1 -4 3 -2 3 2zl0 -8M1644 455l-5 1 -3 -4 2 -4 5 -1 3 4zl-7 -3M1609 575l-5 2 -3 -3 0 -5 5 -2 3 3zl-9 0M1868 642l-3 1 -3 -2 1 -3 3 -1 2 2zl1 4M1872 830l-2 2 -3 0 -2 -3 2 -2 3 0zl3 6M1765 319l-4 2 -3 -2 0 -4 4 -2 3 2zl-5 -4M1618 75l-3 1 -3 -3 1 -4 4 0 3 3zl0 4M1683 612l-4 0 -2 -3 2 -3 4 0 2 3zl-1 -7M1775 64l-4 3 -4 -3 0 -5 4 -2 4 2zl-1 5M1658 578l-4 0 -2 -2 1 -3 3 -1 3 2zl3 3M1951 588l-4 1 -3 -4 2 -4 5 -1 2 4zl4 5M1871 807l-3 2 -4 -2 -1 -4 4 -2 4 1zl4 -3M1760 289l-2 2 -3 -1 -1 -3 2 -2 4 1zl-3 -7M1778 291l-3 3 -4 -2 -1 -5 4 -2 4 2zl6 0M1747 227l-3 0 -2 -3 1 -3 3 0 3 2zl-5 1" stroke="#5a5a5a" stroke-width="1.3" fill="none" stroke-linecap="round" stroke-linejoin="round"/><path d="M1875 597l-4 4 -4 -2 -1 -4 3 -4 5 2zl-2 4M1763 427l-4 2 -4 -2 0 -5 5 -2 3 3zl4 2M1615 560l-4 1 -1 -3 1 -3 3 0 2 2zl3 -8M1728 665l-3 0 -2 -2 2 -3 3 0 1 2zl-6 -5M1870 401l-4 1 -3 -4 2 -5 5 0 2 4zl-4 6M1925 777l-3 1 -3 -3 1 -4 4 0 3 3zl-5 -4M1839 464l-3 3 -4 -1 -1 -4 3 -3 4 1zl-5 1M1728 651l-3 2 -4 -2 0 -4 4 -2 3 2zl-3 8M1872 374l-4 1 -2 -4 2 -4 4 0 2 3zl-3 5M1813 482l-3 2 -3 -2 0 -4 3 -1 3 2zl-1 6M1650 573l-4 1 -3 -4 2 -4 4 -1 3 4zl-3 -7M1817 452l-3 3 -4 0 -1 -4 3 -3 3 1zl-4 -1M1587 550l-5 1 -3 -4 1 -4 5 -1 3 3zl-8 2M1713 612l-4 0 -2 -3 2 -4 4 0 2 3zl-8 4M1774 650l-2 3 -4 0 -2 -4 2 -3 4 0zl1 4M1612 532l-4 0 -2 -3 2 -3 3 0 2 3zl-4 4M1925 759l-2 3 -3 0 -2 -4 2 -3 4 0zl4 -2M1694 713l-3 3 -4 -1 -1 -4 3 -3 4 1zl-4 -2M1736 478l-3 2 -3 -2 0 -3 3 -2 3 2zl-7 -2M1652 106l-3 2 -4 -1 0 -4 2 -2 4 1zl8 -3M1787 96l-3 1 -3 -2 1 -3 3 -2 3 2zl9 1M1685 454l-3 3 -3 -1 -1 -4 3 -3 3 1zl5 3M1674 75l-3 2 -4 -1 0 -4 3 -2 3 2zl-7 0M1751 669l-4 1 -4 -4 2 -4 4 -1 4 3zl-7 2M1720 184l-2 2 -3 -1 -1 -3 2 -3 4 1zl5 -4M1727 42l-3 3 -3 -1 -2 -4 3 -2 4 0zl-4 3M1594 104l-3 4 -5 -1 -2 -5 3 -4 5 1zl1 -9M1763 261l-4 1 -3 -3 1 -4 4 -1 3 3zl0 7M1753 475l-3 3 -4 -2 -1 -4 3 -3 4 1zl-3 -5M1758 634l-3 3 -3 -2 -1 -3 3 -3 3 2zl2 -8M1748 656l-4 1 -4 -3 2 -4 4 -2 3 4zl-1 4M1825 221l-4 1 -4 -3 1 -4 5 -2 3 3zl-6 3M1691 600l-3 1 -3 -2 0 -3 3 -2 3 2zl5 3M1736 516l-4 2 -5 -2 0 -5 4 -2 4 2zl3 7M1812 541l-5 2 -4 -3 1 -5 4 -2 4 3zl6 4M1833 405l-4 0 -2 -3 2 -3 3 0 3 2zl-6 3M1840 538l-4 0 -2 -3 1 -3 4 -1 2 3zl6 7M1771 355l-3 2 -3 -1 -1 -4 3 -2 3 1zl2 -8M1801 113l-4 3 -4 -2 -1 -4 4 -4 4 2zl3 -3M1871 481l-3 1 -3 -3 1 -3 3 -1 2 2zl7 3M1671 129l-3 2 -3 -2 0 -3 3 -2 3 2zl0 -6M1786 428l-4 2 -4 -3 1 -4 4 -2 3 2zl4 -2M1600 638l-2 3 -5 0 -2 -4 3 -4 4 1zl6 1M1756 136l-2 3 -3 0 -1 -4 2 -2 3 0zl1 8M1868 487l-3 3 -4 -2 0 -4 3 -2 4 1zl6 -5M1833 456l-3 3 -4 -1 -1 -3 2 -3 4 0zl-7 -6M1701 602l-4 1 -2 -3 1 -4 4 -1 3 3zl-4 2M1738 117l-4 2 -4 -3 0 -4 5 -2 4 2zl6 -2M1717 29l-2 3 -4 -1 -1 -4 2 -2 4 0zl4 8M1880 696l-3 3 -4 0 -2 -4 3 -4 4 0zl2 5M1794 404l-4 1 -3 -3 2 -4 4 -1 3 3zl6 -4M1707 64l-3 1 -3 -2 1 -4 4 -1 2 3zl4 6M1807 256l-4 0 -3 -3 2 -4 4 0 2 3zl1 -5M1642 129l-5 1 -2 -4 1 -4 5 0 2 3zl1 7M1862 737l-4 0 -2 -3 1 -4 4 0 3 3zl-4 0M1856 812l-3 2 -2 -3 0 -3 3 -1 3 2zl-5 5M1677 531l-5 0 -2 -3 1 -4 5 -1 2 4zl4 -7M1897 796l-3 1 -2 -2 1 -3 3 -1 2 2zl4 -3M1666 109l-4 2 -4 -1 0 -5 3 -2 4 1zl-7 -6M1646 532l-4 2 -3 -2 0 -4 3 -2 4 2zl-2 -4M1695 47l-3 1 -2 -2 0 -3 3 -1 2 2zl5 4M1716 121l-3 3 -5 0 -2 -5 3 -3 5 0zl-4 -2M1788 312l-2 2 -3 0 -1 -3 2 -2 3 0zl-4 1M1761 774l-4 0 -3 -4 2 -4 5 0 2 4zl6 2M1710 435l-3 2 -4 -1 0 -4 3 -2 3 1zl4 2M1623 652l-3 2 -3 -3 0 -4 4 -1 3 2zl1 5M1573 509l-3 1 -2 -3 1 -3 3 0 2 2zl7 1M1863 233l-4 1 -3 -4 1 -4 4 -1 4 3zl1 -5M1803 716l-3 4 -4 -1 -2 -4 3 -4 4 1zl3 -3M1753 173l-3 1 -3 -2 0 -3 3 -2 3 2zl2 5M1804 643l-3 2 -3 -3 1 -3 3 -2 3 3zl-4 1M1891 737l-2 3 -4 0 -2 -4 3 -3 4 0zl0 -4M1733 672l-3 1 -4 -2 1 -4 4 -2 3 3zl3 -5M1708 526l-3 1 -3 -3 1 -3 4 -1 2 2zl-2 -4M1957 698l-5 1 -2 -4 2 -4 4 0 3 3zl1 -7M1737 193l-3 2 -3 -2 0 -4 4 -2 3 3zl-1 4M1703 498l-3 2 -2 -2 0 -3 3 -2 3 2zl-6 0M1867 543l-2 4 -4 -1 -2 -3 2 -4 4 0zl2 -6M1873 164l-3 1 -4 -2 1 -4 3 -2 4 3zl5 6M1602 481l-4 2 -4 -3 1 -4 4 -2 3 3zl6 -3M1737 211l-5 0 -3 -3 2 -5 5 0 3 3zl-1 -5M1858 622l-4 0 -2 -3 2 -3 4 0 2 3zl-6 -4M1756 498l-3 3 -4 -1 -1 -4 3 -3 4 1zl4 -5M1626 166l-3 2 -4 -1 0 -4 3 -2 3 1zl-4 7M1601 196l-4 0 -2 -2 1 -3 4 -1 2 2zl-5 6M1809 62l-4 1 -4 -3 1 -4 4 -1 4 3zl-4 0M1696 535l-2 4 -5 -1 -2 -4 3 -3 5 0zl-5 6M1911 613l-3 1 -2 -3 1 -3 3 0 2 2zl0 5M1786 522l-2 2 -3 -2 0 -3 2 -1 3 1zl-5 -2M1641 569l-3 3 -5 -1 -1 -4 3 -4 5 1zl1 7M1843 614l-5 1 -3 -3 2 -5 4 -1 3 4zl4 2M1814 257l-2 3 -3 0 -2 -4 2 -2 4 0zl5 5M1785 70l-3 3 -3 -2 -1 -4 3 -2 4 2zl-2 8M1771 121l-3 3 -5 -1 -1 -5 3 -3 5 1zl4 -4M1601 477l-5 2 -3 -3 1 -5 4 -1 4 3zl3 -8M1913 544l-2 3 -3 -1 -1 -3 2 -3 3 1zl5 -7M1699 428l-4 2 -4 -2 0 -5 4 -2 4 2zl-2 6M1810 733l-4 1 -3 -4 1 -4 5 -1 3 3zl-2 -5M1582 566l-3 2 -3 -2 -1 -3 3 -2 3 1zl1 6M1667 659l-5 2 -3 -4 1 -4 4 -2 4 4zl2 9" stroke="#5a78e0" stroke-width="1.3" fill="none" stroke-linecap="round" stroke-linejoin="round"/></g>
<defs><g id="molE2" fill="#fff" fill-opacity="0.42"><path d="M1590 106a9 11 64 1 0 -8 -16a9 11 64 1 0 8 16M1813 344a13 9 131 1 0 17 -20a13 9 131 1 0 -17 20M1731 696a13 5 141 1 0 21 -17a13 5 141 1 0 -21 17M1767 515a17 9 34 1 0 -28 -19a17 9 34 1 0 28 19M1660 434a15 5 116 1 0 14 -27a15 5 116 1 0 -14 27M1730 612a12 5 153 1 0 21 -11a12 5 153 1 0 -21 11M1757 619a13 4 11 1 0 -25 -5a13 4 11 1 0 25 5M1808 138a11 11 134 1 0 15 -16a11 11 134 1 0 -15 16M1826 128a10 7 62 1 0 -9 -18a10 7 62 1 0 9 18M1658 597a9 8 154 1 0 17 -8a9 8 154 1 0 -17 8M1720 616a15 7 138 1 0 22 -20a15 7 138 1 0 -22 20M1621 195a17 7 26 1 0 -30 -15a17 7 26 1 0 30 15M1842 773a12 9 135 1 0 17 -16a12 9 135 1 0 -17 16M1574 140a12 8 141 1 0 18 -15a12 8 141 1 0 -18 15M1666 142a18 8 175 1 0 36 -3a18 8 175 1 0 -36 3M1614 615a11 11 105 1 0 6 -21a11 11 105 1 0 -6 21M1584 475a7 6 141 1 0 12 -9a7 6 141 1 0 -12 9M1943 758a8 4 145 1 0 13 -9a8 4 145 1 0 -13 9M1837 315a14 7 168 1 0 27 -6a14 7 168 1 0 -27 6M1722 514a9 10 132 1 0 12 -14a9 10 132 1 0 -12 14M1807 497a15 11 25 1 0 -28 -13a15 11 25 1 0 28 13M1726 572a17 6 6 1 0 -35 -3a17 6 6 1 0 35 3M1821 391a17 7 52 1 0 -20 -26a17 7 52 1 0 20 26M1885 452a10 7 35 1 0 -16 -12a10 7 35 1 0 16 12M1643 539a7 8 26 1 0 -13 -6a7 8 26 1 0 13 6M1865 180a16 11 172 1 0 31 -5a16 11 172 1 0 -31 5M1881 804a16 6 3 1 0 -33 -2a16 6 3 1 0 33 2M1907 524a18 9 116 1 0 15 -32a18 9 116 1 0 -15 32M1812 685a14 6 81 1 0 -4 -28a14 6 81 1 0 4 28M1885 775a18 4 8 1 0 -35 -5a18 4 8 1 0 35 5M1706 626a8 4 170 1 0 16 -3a8 4 170 1 0 -16 3M1913 828a9 9 137 1 0 13 -12a9 9 137 1 0 -13 12M1784 76a14 9 125 1 0 16 -22a14 9 125 1 0 -16 22M1658 667a12 5 142 1 0 18 -14a12 5 142 1 0 -18 14M1740 701a8 10 45 1 0 -11 -11a8 10 45 1 0 11 11M1861 518a15 9 124 1 0 16 -25a15 9 124 1 0 -16 25M1752 606a16 9 152 1 0 28 -15a16 9 152 1 0 -28 15M1718 525a17 10 135 1 0 25 -25a17 10 135 1 0 -25 25M1846 430a17 8 73 1 0 -10 -33a17 8 73 1 0 10 33M1705 589a17 8 89 1 0 -1 -33a17 8 89 1 0 1 33M1906 555a14 5 166 1 0 27 -7a14 5 166 1 0 -27 7M1762 398a15 4 97 1 0 3 -29a15 4 97 1 0 -3 29M1868 587a9 7 90 1 0 -0 -19a9 7 90 1 0 0 19M1806 121a11 7 17 1 0 -21 -6a11 7 17 1 0 21 6M1702 664a14 9 145 1 0 23 -16a14 9 145 1 0 -23 16M1744 534a13 7 18 1 0 -24 -8a13 7 18 1 0 24 8M1775 633a13 10 54 1 0 -15 -21a13 10 54 1 0 15 21M1668 73a11 8 143 1 0 17 -13a11 8 143 1 0 -17 13M1879 740a9 8 148 1 0 15 -9a9 8 148 1 0 -15 9M1737 74a11 9 179 1 0 23 -0a11 9 179 1 0 -23 0M1851 488a15 7 112 1 0 11 -28a15 7 112 1 0 -11 28M1661 629a11 8 2 1 0 -22 -1a11 8 2 1 0 22 1M1780 311a10 8 118 1 0 10 -18a10 8 118 1 0 -10 18M1821 488a17 6 18 1 0 -33 -11a17 6 18 1 0 33 11M1764 651a14 8 65 1 0 -12 -25a14 8 65 1 0 12 25M1858 698a12 9 62 1 0 -11 -21a12 9 62 1 0 11 21M1802 287a14 12 44 1 0 -20 -20a14 12 44 1 0 20 20M1862 659a15 7 7 1 0 -29 -4a15 7 7 1 0 29 4M1900 630a8 6 160 1 0 14 -5a8 6 160 1 0 -14 5M1769 114a14 10 164 1 0 27 -8a14 10 164 1 0 -27 8M1698 123a9 9 156 1 0 16 -7a9 9 156 1 0 -16 7M1862 273a16 8 60 1 0 -16 -28a16 8 60 1 0 16 28M1559 591a11 5 132 1 0 15 -17a11 5 132 1 0 -15 17M1670 208a9 8 52 1 0 -11 -14a9 8 52 1 0 11 14M1660 584a17 11 4 1 0 -33 -2a17 11 4 1 0 33 2M1958 541a13 12 53 1 0 -16 -21a13 12 53 1 0 16 21M1564 557a12 5 103 1 0 5 -24a12 5 103 1 0 -5 24M1810 543a13 7 11 1 0 -26 -5a13 7 11 1 0 26 5M1598 105a7 9 22 1 0 -14 -6a7 9 22 1 0 14 6M1831 361a9 5 157 1 0 17 -7a9 5 157 1 0 -17 7M1785 342a7 10 102 1 0 3 -14a7 10 102 1 0 -3 14M1679 538a13 11 47 1 0 -18 -19a13 11 47 1 0 18 19M1656 123a14 10 11 1 0 -28 -6a14 10 11 1 0 28 6M1667 553a8 11 180 1 0 16 -0a8 11 180 1 0 -16 0M1878 404a11 5 35 1 0 -17 -12a11 5 35 1 0 17 12M1905 812a17 7 146 1 0 29 -19a17 7 146 1 0 -29 19M1799 699a16 10 110 1 0 11 -31a16 10 110 1 0 -11 31M1751 234a15 8 133 1 0 21 -22a15 8 133 1 0 -21 22M1772 143a11 7 88 1 0 -1 -22a11 7 88 1 0 1 22M1865 664a15 8 52 1 0 -19 -24a15 8 52 1 0 19 24M1796 38a17 10 1 1 0 -34 -0a17 10 1 1 0 34 0M1819 543a8 9 127 1 0 10 -14a8 9 127 1 0 -10 14M1760 400a12 6 108 1 0 7 -23a12 6 108 1 0 -7 23M1667 150a10 7 118 1 0 9 -17a10 7 118 1 0 -9 17M1843 657a15 8 45 1 0 -22 -21a15 8 45 1 0 22 21M1705 112a11 5 1 1 0 -23 -0a11 5 1 1 0 23 0M1749 193a16 7 19 1 0 -31 -11a16 7 19 1 0 31 11M1840 325a11 8 34 1 0 -18 -12a11 8 34 1 0 18 12M1886 745a10 10 84 1 0 -2 -19a10 10 84 1 0 2 19M1738 103a8 7 10 1 0 -15 -3a8 7 10 1 0 15 3M1808 105a14 10 49 1 0 -18 -21a14 10 49 1 0 18 21M1654 648a9 8 103 1 0 4 -17a9 8 103 1 0 -4 17M1653 604a14 8 128 1 0 17 -22a14 8 128 1 0 -17 22M1871 778a8 10 109 1 0 5 -16a8 10 109 1 0 -5 16M1901 820a12 12 126 1 0 14 -20a12 12 126 1 0 -14 20M1794 508a17 9 156 1 0 30 -13a17 9 156 1 0 -30 13M1623 59a10 10 170 1 0 20 -4a10 10 170 1 0 -20 4M1641 433a11 10 166 1 0 22 -6a11 10 166 1 0 -22 6M1714 40a10 7 161 1 0 19 -6a10 7 161 1 0 -19 6M1740 507a11 5 127 1 0 13 -17a11 5 127 1 0 -13 17M1751 338a9 9 164 1 0 16 -5a9 9 164 1 0 -16 5M1828 462a10 6 5 1 0 -19 -2a10 6 5 1 0 19 2M1716 523a18 10 135 1 0 25 -25a18 10 135 1 0 -25 25M1877 744a8 7 175 1 0 16 -1a8 7 175 1 0 -16 1M1753 200a10 4 23 1 0 -18 -8a10 4 23 1 0 18 8M1617 482a16 5 168 1 0 32 -7a16 5 168 1 0 -32 7M1824 734a9 10 80 1 0 -3 -19a9 10 80 1 0 3 19M1880 595a10 4 95 1 0 2 -19a10 4 95 1 0 -2 19M1864 307a16 7 10 1 0 -32 -6a16 7 10 1 0 32 6M1603 605a17 9 8 1 0 -33 -5a17 9 8 1 0 33 5M1746 549a9 11 151 1 0 15 -8a9 11 151 1 0 -15 8M1591 487a16 5 153 1 0 28 -14a16 5 153 1 0 -28 14M1696 87a17 11 1 1 0 -34 -1a17 11 1 1 0 34 1M1829 746a8 6 120 1 0 8 -13a8 6 120 1 0 -8 13M1677 580a13 9 85 1 0 -2 -26a13 9 85 1 0 2 26M1758 181a15 12 6 1 0 -30 -3a15 12 6 1 0 30 3M1571 611a16 8 93 1 0 2 -33a16 8 93 1 0 -2 33M1946 654a9 7 126 1 0 11 -14a9 7 126 1 0 -11 14M1686 503a13 9 55 1 0 -15 -22a13 9 55 1 0 15 22M1810 482a17 7 48 1 0 -23 -26a17 7 48 1 0 23 26M1780 622a9 5 170 1 0 17 -3a9 5 170 1 0 -17 3M1784 787a14 6 153 1 0 25 -13a14 6 153 1 0 -25 13M1943 540a8 9 112 1 0 6 -14a8 9 112 1 0 -6 14M1845 640a10 7 74 1 0 -6 -20a10 7 74 1 0 6 20M1624 523a17 7 36 1 0 -27 -20a17 7 36 1 0 27 20M1646 191a7 5 41 1 0 -10 -9a7 5 41 1 0 10 9M1735 128a8 6 65 1 0 -7 -14a8 6 65 1 0 7 14M1828 188a6 3 80 1 0 -2 -12a6 3 80 1 0 2 12M1801 201a5 3 34 1 0 -8 -6a5 3 34 1 0 8 6M1765 84a5 5 170 1 0 10 -2a5 5 170 1 0 -10 2M1789 57a6 5 20 1 0 -12 -4a6 5 20 1 0 12 4M1709 64a7 4 77 1 0 -3 -14a7 4 77 1 0 3 14M1760 181a9 5 141 1 0 14 -11a9 5 141 1 0 -14 11M1768 138a5 5 40 1 0 -8 -7a5 5 40 1 0 8 7M1718 204a8 5 53 1 0 -9 -12a8 5 53 1 0 9 12M1640 57a5 5 132 1 0 6 -7a5 5 132 1 0 -6 7M1725 68a7 5 109 1 0 4 -13a7 5 109 1 0 -4 13M1726 129a8 4 139 1 0 12 -10a8 4 139 1 0 -12 10M1643 184a5 6 162 1 0 9 -3a5 6 162 1 0 -9 3M1723 100a8 6 40 1 0 -13 -11a8 6 40 1 0 13 11M1822 135a8 3 63 1 0 -7 -13a8 3 63 1 0 7 13M1706 78a7 3 62 1 0 -7 -13a7 3 62 1 0 7 13M1786 140a6 5 15 1 0 -12 -3a6 5 15 1 0 12 3M1835 114a7 5 148 1 0 11 -7a7 5 148 1 0 -11 7M1701 77a5 5 24 1 0 -8 -4a5 5 24 1 0 8 4M1627 117a6 5 57 1 0 -7 -11a6 5 57 1 0 7 11M1801 137a9 5 151 1 0 15 -9a9 5 151 1 0 -15 9M1701 182a6 6 98 1 0 2 -12a6 6 98 1 0 -2 12M1578 150a8 6 109 1 0 5 -15a8 6 109 1 0 -5 15M1768 191a8 5 68 1 0 -6 -15a8 5 68 1 0 6 15M1667 188a4 3 91 1 0 0 -9a4 3 91 1 0 -0 9M1790 119a6 5 138 1 0 10 -9a6 5 138 1 0 -10 9M1623 94a7 4 131 1 0 9 -10a7 4 131 1 0 -9 10M1662 223a6 5 0 1 0 -12 -0a6 5 0 1 0 12 0M1602 65a8 6 0 1 0 -16 -0a8 6 0 1 0 16 0M1601 64a8 6 0 1 0 -16 -0a8 6 0 1 0 16 0"/><path d="M1852 405a13 7 121 1 0 14 -23a13 7 121 1 0 -14 23M1888 506a15 12 61 1 0 -14 -26a15 12 61 1 0 14 26M1682 62a11 9 94 1 0 2 -22a11 9 94 1 0 -2 22M1589 189a16 11 170 1 0 31 -5a16 11 170 1 0 -31 5M1782 378a11 9 71 1 0 -7 -22a11 9 71 1 0 7 22M1747 570a12 11 154 1 0 21 -10a12 11 154 1 0 -21 10M1830 724a11 4 173 1 0 21 -3a11 4 173 1 0 -21 3M1855 199a15 7 6 1 0 -31 -3a15 7 6 1 0 31 3M1908 542a12 4 81 1 0 -4 -24a12 4 81 1 0 4 24M1627 204a8 7 113 1 0 6 -15a8 7 113 1 0 -6 15M1635 512a16 10 174 1 0 31 -3a16 10 174 1 0 -31 3M1926 540a15 8 33 1 0 -25 -16a15 8 33 1 0 25 16M1836 161a16 10 21 1 0 -29 -11a16 10 21 1 0 29 11M1819 374a8 8 155 1 0 14 -6a8 8 155 1 0 -14 6M1636 547a10 9 6 1 0 -21 -2a10 9 6 1 0 21 2M1659 576a7 9 130 1 0 9 -11a7 9 130 1 0 -9 11M1827 116a16 6 58 1 0 -16 -27a16 6 58 1 0 16 27M1646 470a8 9 85 1 0 -2 -17a8 9 85 1 0 2 17M1805 474a10 7 6 1 0 -20 -2a10 7 6 1 0 20 2M1934 673a8 4 67 1 0 -6 -16a8 4 67 1 0 6 16M1659 496a10 7 116 1 0 8 -17a10 7 116 1 0 -8 17M1708 221a16 9 47 1 0 -22 -24a16 9 47 1 0 22 24M1691 197a16 7 30 1 0 -28 -16a16 7 30 1 0 28 16M1790 638a11 4 142 1 0 17 -13a11 4 142 1 0 -17 13M1802 422a17 8 9 1 0 -34 -5a17 8 9 1 0 34 5M1903 556a8 11 103 1 0 4 -16a8 11 103 1 0 -4 16M1704 391a8 4 168 1 0 16 -3a8 4 168 1 0 -16 3M1884 516a11 12 169 1 0 22 -4a11 12 169 1 0 -22 4M1651 595a8 8 96 1 0 2 -17a8 8 96 1 0 -2 17M1844 394a15 10 99 1 0 5 -30a15 10 99 1 0 -5 30M1881 633a18 9 145 1 0 29 -21a18 9 145 1 0 -29 21M1713 518a7 8 17 1 0 -14 -4a7 8 17 1 0 14 4M1587 566a10 8 84 1 0 -2 -20a10 8 84 1 0 2 20M1761 764a13 6 135 1 0 19 -19a13 6 135 1 0 -19 19M1662 406a8 7 99 1 0 2 -16a8 7 99 1 0 -2 16M1804 247a12 8 172 1 0 24 -3a12 8 172 1 0 -24 3M1679 55a11 5 178 1 0 23 -1a11 5 178 1 0 -23 1M1774 484a9 12 106 1 0 5 -17a9 12 106 1 0 -5 17M1929 672a12 8 62 1 0 -11 -20a12 8 62 1 0 11 20M1837 516a13 7 101 1 0 5 -25a13 7 101 1 0 -5 25M1811 554a8 6 97 1 0 2 -16a8 6 97 1 0 -2 16M1897 612a16 4 61 1 0 -15 -28a16 4 61 1 0 15 28M1755 716a8 8 38 1 0 -12 -9a8 8 38 1 0 12 9M1745 738a13 9 172 1 0 27 -4a13 9 172 1 0 -27 4M1756 64a9 12 138 1 0 14 -12a9 12 138 1 0 -14 12M1785 490a18 7 53 1 0 -22 -29a18 7 53 1 0 22 29M1650 488a15 8 93 1 0 1 -31a15 8 93 1 0 -1 31M1846 683a7 8 40 1 0 -11 -9a7 8 40 1 0 11 9M1864 152a16 5 29 1 0 -27 -15a16 5 29 1 0 27 15M1649 199a13 12 68 1 0 -10 -25a13 12 68 1 0 10 25M1727 710a11 8 40 1 0 -17 -14a11 8 40 1 0 17 14M1803 324a11 12 11 1 0 -22 -4a11 12 11 1 0 22 4M1859 308a11 10 122 1 0 12 -19a11 10 122 1 0 -12 19M1842 460a16 10 108 1 0 10 -30a16 10 108 1 0 -10 30M1918 658a8 6 24 1 0 -14 -6a8 6 24 1 0 14 6M1731 388a11 8 11 1 0 -21 -4a11 8 11 1 0 21 4M1702 40a9 5 164 1 0 18 -5a9 5 164 1 0 -18 5M1919 768a10 7 11 1 0 -19 -4a10 7 11 1 0 19 4M1663 628a12 5 65 1 0 -10 -21a12 5 65 1 0 10 21M1908 663a8 4 20 1 0 -15 -5a8 4 20 1 0 15 5M1611 72a11 10 155 1 0 19 -9a11 10 155 1 0 -19 9M1835 817a8 4 104 1 0 4 -15a8 4 104 1 0 -4 15M1596 79a7 10 77 1 0 -3 -14a7 10 77 1 0 3 14M1665 609a8 7 54 1 0 -10 -13a8 7 54 1 0 10 13M1716 127a14 12 19 1 0 -26 -9a14 12 19 1 0 26 9M1807 694a16 10 11 1 0 -32 -6a16 10 11 1 0 32 6M1865 681a11 12 48 1 0 -15 -17a11 12 48 1 0 15 17M1850 470a14 10 64 1 0 -12 -25a14 10 64 1 0 12 25M1779 560a13 8 74 1 0 -7 -25a13 8 74 1 0 7 25M1875 803a16 5 17 1 0 -31 -10a16 5 17 1 0 31 10M1626 60a9 8 133 1 0 13 -13a9 8 133 1 0 -13 13M1656 130a16 9 82 1 0 -5 -32a16 9 82 1 0 5 32M1747 712a8 4 103 1 0 4 -15a8 4 103 1 0 -4 15M1690 465a13 9 177 1 0 26 -2a13 9 177 1 0 -26 2M1620 146a14 10 118 1 0 13 -26a14 10 118 1 0 -13 26M1861 374a9 6 99 1 0 3 -17a9 6 99 1 0 -3 17M1730 453a10 5 134 1 0 14 -14a10 5 134 1 0 -14 14M1765 154a11 6 104 1 0 5 -21a11 6 104 1 0 -5 21M1689 625a13 11 148 1 0 23 -14a13 11 148 1 0 -23 14M1673 207a17 9 88 1 0 -1 -35a17 9 88 1 0 1 35M1789 413a16 12 81 1 0 -5 -32a16 12 81 1 0 5 32M1913 552a8 7 69 1 0 -6 -15a8 7 69 1 0 6 15M1699 434a12 7 171 1 0 23 -4a12 7 171 1 0 -23 4M1809 719a9 12 28 1 0 -16 -9a9 12 28 1 0 16 9M1878 203a11 9 43 1 0 -16 -15a11 9 43 1 0 16 15M1746 112a10 7 39 1 0 -16 -13a10 7 39 1 0 16 13M1865 821a10 11 138 1 0 14 -13a10 11 138 1 0 -14 13M1742 675a14 9 39 1 0 -22 -18a14 9 39 1 0 22 18M1883 177a14 7 2 1 0 -27 -1a14 7 2 1 0 27 1M1747 596a16 7 59 1 0 -16 -27a16 7 59 1 0 16 27M1692 646a12 10 142 1 0 19 -15a12 10 142 1 0 -19 15M1705 108a10 11 139 1 0 15 -13a10 11 139 1 0 -15 13M1609 170a17 10 51 1 0 -22 -26a17 10 51 1 0 22 26M1601 590a17 8 52 1 0 -20 -26a17 8 52 1 0 20 26M1609 196a11 12 65 1 0 -10 -21a11 12 65 1 0 10 21M1865 227a9 8 33 1 0 -16 -10a9 8 33 1 0 16 10M1808 217a15 10 10 1 0 -29 -5a15 10 10 1 0 29 5M1716 154a10 11 134 1 0 14 -14a10 11 134 1 0 -14 14M1862 619a13 9 116 1 0 11 -23a13 9 116 1 0 -11 23M1809 703a15 11 67 1 0 -11 -27a15 11 67 1 0 11 27M1886 240a16 8 25 1 0 -29 -14a16 8 25 1 0 29 14M1849 259a8 5 149 1 0 13 -8a8 5 149 1 0 -13 8M1809 565a13 7 36 1 0 -21 -15a13 7 36 1 0 21 15M1821 194a18 9 137 1 0 26 -24a18 9 137 1 0 -26 24M1582 609a16 5 99 1 0 5 -33a16 5 99 1 0 -5 33M1793 650a16 11 101 1 0 6 -31a16 11 101 1 0 -6 31M1796 155a11 10 119 1 0 11 -20a11 10 119 1 0 -11 20M1864 778a18 5 90 1 0 -0 -35a18 5 90 1 0 0 35M1903 794a7 5 92 1 0 1 -14a7 5 92 1 0 -1 14M1915 638a15 8 156 1 0 28 -12a15 8 156 1 0 -28 12M1728 705a8 11 163 1 0 15 -5a8 11 163 1 0 -15 5M1742 498a7 10 90 1 0 -0 -14a7 10 90 1 0 0 14M1902 538a11 9 115 1 0 10 -21a11 9 115 1 0 -10 21M1726 546a10 4 62 1 0 -10 -18a10 4 62 1 0 10 18M1740 45a11 8 55 1 0 -12 -18a11 8 55 1 0 12 18M1698 548a8 11 80 1 0 -3 -15a8 11 80 1 0 3 15M1783 181a15 11 54 1 0 -18 -24a15 11 54 1 0 18 24M1773 234a13 10 64 1 0 -12 -24a13 10 64 1 0 12 24M1900 703a18 6 63 1 0 -16 -31a18 6 63 1 0 16 31M1669 452a15 6 76 1 0 -7 -30a15 6 76 1 0 7 30M1916 799a11 7 168 1 0 22 -5a11 7 168 1 0 -22 5M1883 717a12 7 38 1 0 -20 -15a12 7 38 1 0 20 15M1743 686a16 9 12 1 0 -30 -7a16 9 12 1 0 30 7M1794 645a11 10 43 1 0 -16 -15a11 10 43 1 0 16 15M1595 616a18 9 95 1 0 3 -36a18 9 95 1 0 -3 36M1804 593a10 8 151 1 0 18 -10a10 8 151 1 0 -18 10M1938 776a14 11 52 1 0 -17 -21a14 11 52 1 0 17 21M1677 507a15 5 104 1 0 7 -29a15 5 104 1 0 -7 29M1860 423a10 7 42 1 0 -14 -13a10 7 42 1 0 14 13M1837 232a11 10 165 1 0 21 -6a11 10 165 1 0 -21 6M1761 266a12 8 98 1 0 3 -24a12 8 98 1 0 -3 24M1654 202a14 9 107 1 0 8 -27a14 9 107 1 0 -8 27M1868 429a8 10 179 1 0 16 -0a8 10 179 1 0 -16 0M1683 565a10 8 168 1 0 20 -4a10 8 168 1 0 -20 4M1829 699a11 7 7 1 0 -23 -3a11 7 7 1 0 23 3M1666 59a8 4 22 1 0 -14 -6a8 4 22 1 0 14 6M1786 123a7 4 47 1 0 -10 -10a7 4 47 1 0 10 10M1595 151a9 4 87 1 0 -1 -17a9 4 87 1 0 1 17M1797 47a6 3 41 1 0 -9 -8a6 3 41 1 0 9 8M1599 174a8 6 82 1 0 -2 -15a8 6 82 1 0 2 15M1807 117a8 4 102 1 0 4 -16a8 4 102 1 0 -4 16M1811 163a8 6 42 1 0 -13 -11a8 6 42 1 0 13 11M1777 28a6 4 85 1 0 -1 -11a6 4 85 1 0 1 11M1764 65a6 7 85 1 0 -1 -12a6 7 85 1 0 1 12M1639 175a6 6 35 1 0 -10 -7a6 6 35 1 0 10 7M1742 94a8 3 71 1 0 -5 -15a8 3 71 1 0 5 15M1698 30a7 4 120 1 0 7 -13a7 4 120 1 0 -7 13M1674 186a6 4 178 1 0 12 -0a6 4 178 1 0 -12 0M1704 36a7 6 172 1 0 15 -2a7 6 172 1 0 -15 2M1728 102a5 6 14 1 0 -10 -3a5 6 14 1 0 10 3M1791 69a5 3 164 1 0 9 -3a5 3 164 1 0 -9 3M1833 167a4 4 63 1 0 -4 -8a4 4 63 1 0 4 8M1669 82a5 5 54 1 0 -6 -9a5 5 54 1 0 6 9M1761 105a7 7 168 1 0 13 -3a7 7 168 1 0 -13 3M1777 90a7 4 83 1 0 -2 -14a7 4 83 1 0 2 14M1587 153a5 3 170 1 0 9 -2a5 3 170 1 0 -9 2M1735 217a8 5 175 1 0 15 -1a8 5 175 1 0 -15 1M1726 122a5 7 29 1 0 -9 -5a5 7 29 1 0 9 5M1761 131a4 6 167 1 0 8 -2a4 6 167 1 0 -8 2M1584 106a4 4 62 1 0 -4 -8a4 4 62 1 0 4 8M1615 179a5 4 116 1 0 5 -10a5 4 116 1 0 -5 10M1760 211a4 6 40 1 0 -7 -5a4 6 40 1 0 7 5M1798 125a6 6 159 1 0 11 -4a6 6 159 1 0 -11 4M1684 134a7 4 21 1 0 -13 -5a7 4 21 1 0 13 5M1663 223a6 5 0 1 0 -12 -0a6 5 0 1 0 12 0M1603 64a8 6 0 1 0 -16 -0a8 6 0 1 0 16 0"/><path d="M1723 177a12 9 54 1 0 -14 -19a12 9 54 1 0 14 19M1762 586a13 7 154 1 0 24 -12a13 7 154 1 0 -24 12M1643 76a12 5 89 1 0 -1 -23a12 5 89 1 0 1 23M1771 230a17 10 63 1 0 -16 -30a17 10 63 1 0 16 30M1656 155a11 4 83 1 0 -3 -22a11 4 83 1 0 3 22M1694 169a11 7 38 1 0 -18 -14a11 7 38 1 0 18 14M1835 201a9 5 110 1 0 6 -17a9 5 110 1 0 -6 17M1967 796a15 10 50 1 0 -20 -23a15 10 50 1 0 20 23M1795 558a16 10 73 1 0 -10 -31a16 10 73 1 0 10 31M1728 681a14 10 82 1 0 -4 -28a14 10 82 1 0 4 28M1750 289a18 10 96 1 0 4 -35a18 10 96 1 0 -4 35M1765 292a15 8 143 1 0 24 -18a15 8 143 1 0 -24 18M1884 537a10 8 29 1 0 -18 -10a10 8 29 1 0 18 10M1940 780a18 6 111 1 0 12 -33a18 6 111 1 0 -12 33M1871 830a17 10 7 1 0 -33 -4a17 10 7 1 0 33 4M1918 599a8 9 128 1 0 9 -12a8 9 128 1 0 -9 12M1879 828a15 6 164 1 0 29 -8a15 6 164 1 0 -29 8M1865 650a10 5 46 1 0 -14 -15a10 5 46 1 0 14 15M1956 778a17 10 95 1 0 3 -34a17 10 95 1 0 -3 34M1781 283a13 4 81 1 0 -4 -25a13 4 81 1 0 4 25M1649 60a14 6 18 1 0 -26 -8a14 6 18 1 0 26 8M1824 270a11 8 65 1 0 -9 -19a11 8 65 1 0 9 19M1835 373a12 9 73 1 0 -7 -22a12 9 73 1 0 7 22M1802 601a13 5 5 1 0 -26 -2a13 5 5 1 0 26 2M1706 622a16 12 90 1 0 0 -31a16 12 90 1 0 -0 31M1898 466a15 5 148 1 0 25 -15a15 5 148 1 0 -25 15M1791 61a12 7 102 1 0 5 -23a12 7 102 1 0 -5 23M1770 325a11 4 127 1 0 13 -17a11 4 127 1 0 -13 17M1932 790a8 10 49 1 0 -11 -13a8 10 49 1 0 11 13M1753 778a7 5 92 1 0 1 -15a7 5 92 1 0 -1 15M1877 425a10 11 78 1 0 -4 -20a10 11 78 1 0 4 20M1641 66a16 10 95 1 0 3 -31a16 10 95 1 0 -3 31M1927 629a16 10 137 1 0 23 -22a16 10 137 1 0 -23 22M1883 392a10 12 7 1 0 -20 -3a10 12 7 1 0 20 3M1780 31a11 11 30 1 0 -19 -11a11 11 30 1 0 19 11M1876 559a15 9 156 1 0 27 -12a15 9 156 1 0 -27 12M1653 480a17 8 165 1 0 34 -9a17 8 165 1 0 -34 9M1789 539a16 6 51 1 0 -19 -24a16 6 51 1 0 19 24M1670 497a15 11 29 1 0 -26 -14a15 11 29 1 0 26 14M1723 122a15 10 144 1 0 25 -18a15 10 144 1 0 -25 18M1754 539a11 6 51 1 0 -14 -18a11 6 51 1 0 14 18M1722 604a15 8 147 1 0 25 -16a15 8 147 1 0 -25 16M1683 422a10 8 42 1 0 -15 -14a10 8 42 1 0 15 14M1847 788a9 5 39 1 0 -14 -11a9 5 39 1 0 14 11M1813 764a8 11 175 1 0 15 -1a8 11 175 1 0 -15 1M1866 753a14 10 5 1 0 -28 -3a14 10 5 1 0 28 3M1770 160a16 11 62 1 0 -15 -28a16 11 62 1 0 15 28M1789 792a12 5 69 1 0 -8 -22a12 5 69 1 0 8 22M1793 70a12 5 54 1 0 -14 -20a12 5 54 1 0 14 20M1801 270a15 7 23 1 0 -27 -11a15 7 23 1 0 27 11M1739 118a9 9 96 1 0 2 -17a9 9 96 1 0 -2 17M1817 621a13 5 168 1 0 26 -5a13 5 168 1 0 -26 5M1538 551a15 10 167 1 0 29 -7a15 10 167 1 0 -29 7M1695 73a14 9 138 1 0 21 -19a14 9 138 1 0 -21 19M1717 504a7 6 82 1 0 -2 -15a7 6 82 1 0 2 15M1841 255a13 6 172 1 0 27 -4a13 6 172 1 0 -27 4M1870 591a14 6 123 1 0 16 -24a14 6 123 1 0 -16 24M1608 499a12 12 100 1 0 4 -24a12 12 100 1 0 -4 24M1690 126a16 5 78 1 0 -7 -30a16 5 78 1 0 7 30M1653 616a14 9 35 1 0 -24 -17a14 9 35 1 0 24 17M1825 678a11 8 129 1 0 14 -17a11 8 129 1 0 -14 17M1680 523a15 8 1 1 0 -30 -1a15 8 1 1 0 30 1M1721 479a16 7 126 1 0 19 -26a16 7 126 1 0 -19 26M1837 749a13 5 145 1 0 21 -15a13 5 145 1 0 -21 15M1679 157a14 7 15 1 0 -27 -7a14 7 15 1 0 27 7M1764 78a14 11 135 1 0 20 -20a14 11 135 1 0 -20 20M1695 699a11 7 72 1 0 -7 -21a11 7 72 1 0 7 21M1890 505a9 4 146 1 0 15 -10a9 4 146 1 0 -15 10M1741 548a14 8 6 1 0 -28 -3a14 8 6 1 0 28 3M1664 143a8 8 80 1 0 -3 -15a8 8 80 1 0 3 15M1840 308a15 4 137 1 0 22 -21a15 4 137 1 0 -22 21M1943 648a9 12 104 1 0 5 -18a9 12 104 1 0 -5 18M1873 187a17 5 11 1 0 -34 -7a17 5 11 1 0 34 7M1624 81a8 5 50 1 0 -10 -12a8 5 50 1 0 10 12M1860 518a11 5 73 1 0 -7 -22a11 5 73 1 0 7 22M1744 620a16 8 110 1 0 11 -30a16 8 110 1 0 -11 30M1613 147a14 10 60 1 0 -14 -24a14 10 60 1 0 14 24M1855 361a10 11 12 1 0 -19 -4a10 11 12 1 0 19 4M1902 509a17 11 161 1 0 31 -11a17 11 161 1 0 -31 11M1869 458a11 10 133 1 0 15 -16a11 10 133 1 0 -15 16M1790 466a13 5 37 1 0 -21 -16a13 5 37 1 0 21 16M1922 707a16 12 47 1 0 -22 -23a16 12 47 1 0 22 23M1664 637a8 11 98 1 0 2 -17a8 11 98 1 0 -2 17M1788 209a18 11 23 1 0 -32 -14a18 11 23 1 0 32 14M1628 135a17 6 9 1 0 -33 -5a17 6 9 1 0 33 5M1685 544a12 11 139 1 0 18 -15a12 11 139 1 0 -18 15M1846 181a7 7 98 1 0 2 -14a7 7 98 1 0 -2 14M1627 578a15 10 124 1 0 17 -25a15 10 124 1 0 -17 25M1885 592a15 8 23 1 0 -27 -12a15 8 23 1 0 27 12M1869 552a8 11 35 1 0 -14 -10a8 11 35 1 0 14 10M1869 273a8 4 39 1 0 -12 -10a8 4 39 1 0 12 10M1825 105a13 7 88 1 0 -1 -27a13 7 88 1 0 1 27M1947 665a17 7 163 1 0 33 -10a17 7 163 1 0 -33 10M1871 320a8 8 51 1 0 -11 -13a8 8 51 1 0 11 13M1679 149a8 7 154 1 0 14 -7a8 7 154 1 0 -14 7M1746 562a10 7 3 1 0 -20 -1a10 7 3 1 0 20 1M1724 217a8 9 93 1 0 1 -17a8 9 93 1 0 -1 17M1819 399a11 9 168 1 0 21 -4a11 9 168 1 0 -21 4M1615 484a14 10 19 1 0 -27 -9a14 10 19 1 0 27 9M1721 60a17 9 73 1 0 -10 -32a17 9 73 1 0 10 32M1716 79a17 7 139 1 0 26 -23a17 7 139 1 0 -26 23M1824 691a12 8 12 1 0 -24 -5a12 8 12 1 0 24 5M1823 510a14 12 115 1 0 12 -26a14 12 115 1 0 -12 26M1834 126a14 5 49 1 0 -18 -22a14 5 49 1 0 18 22M1770 484a18 5 63 1 0 -16 -31a18 5 63 1 0 16 31M1843 244a13 10 58 1 0 -13 -22a13 10 58 1 0 13 22M1592 622a13 4 31 1 0 -22 -13a13 4 31 1 0 22 13M1750 363a15 7 40 1 0 -23 -19a15 7 40 1 0 23 19M1798 252a9 6 16 1 0 -18 -5a9 6 16 1 0 18 5M1798 750a10 8 150 1 0 17 -10a10 8 150 1 0 -17 10M1759 597a15 7 171 1 0 30 -5a15 7 171 1 0 -30 5M1844 440a18 11 93 1 0 2 -35a18 11 93 1 0 -2 35M1741 106a11 6 115 1 0 9 -19a11 6 115 1 0 -9 19M1631 496a8 5 24 1 0 -14 -6a8 5 24 1 0 14 6M1669 165a10 9 40 1 0 -16 -13a10 9 40 1 0 16 13M1820 376a14 10 1 1 0 -29 -0a14 10 1 1 0 29 0M1857 779a10 11 126 1 0 12 -16a10 11 126 1 0 -12 16M1724 598a9 9 89 1 0 -0 -18a9 9 89 1 0 0 18M1585 577a9 5 68 1 0 -7 -18a9 5 68 1 0 7 18M1820 280a9 12 43 1 0 -12 -12a9 12 43 1 0 12 12M1799 622a11 7 139 1 0 17 -15a11 7 139 1 0 -17 15M1582 517a9 9 58 1 0 -10 -15a9 9 58 1 0 10 15M1640 445a18 8 12 1 0 -34 -7a18 8 12 1 0 34 7M1600 591a13 12 44 1 0 -19 -18a13 12 44 1 0 19 18M1761 757a14 12 170 1 0 28 -5a14 12 170 1 0 -28 5M1870 700a17 7 172 1 0 34 -5a17 7 172 1 0 -34 5M1812 724a16 9 24 1 0 -29 -13a16 9 24 1 0 29 13M1592 481a9 12 167 1 0 18 -4a9 12 167 1 0 -18 4M1911 597a16 10 20 1 0 -30 -11a16 10 20 1 0 30 11M1853 265a8 10 123 1 0 9 -14a8 10 123 1 0 -9 14M1668 460a17 7 116 1 0 15 -31a17 7 116 1 0 -15 31M1776 618a13 8 18 1 0 -24 -8a13 8 18 1 0 24 8M1759 136a7 6 40 1 0 -11 -10a7 6 40 1 0 11 10M1756 162a13 11 48 1 0 -17 -19a13 11 48 1 0 17 19M1809 132a9 7 90 1 0 -0 -18a9 7 90 1 0 0 18M1828 612a12 12 91 1 0 0 -24a12 12 91 1 0 -0 24M1746 524a9 12 108 1 0 5 -17a9 12 108 1 0 -5 17M1575 619a17 5 95 1 0 3 -34a17 5 95 1 0 -3 34M1913 796a10 11 80 1 0 -3 -19a10 11 80 1 0 3 19M1826 605a17 7 36 1 0 -28 -20a17 7 36 1 0 28 20M1946 575a17 5 77 1 0 -8 -33a17 5 77 1 0 8 33M1921 536a13 5 134 1 0 18 -19a13 5 134 1 0 -18 19M1811 607a15 11 173 1 0 30 -4a15 11 173 1 0 -30 4M1920 769a11 11 90 1 0 -0 -23a11 11 90 1 0 0 23M1633 580a14 7 54 1 0 -16 -23a14 7 54 1 0 16 23M1675 654a7 10 3 1 0 -14 -1a7 10 3 1 0 14 1M1695 409a18 6 124 1 0 20 -30a18 6 124 1 0 -20 30M1822 269a12 6 47 1 0 -16 -18a12 6 47 1 0 16 18M1882 543a10 7 12 1 0 -19 -4a10 7 12 1 0 19 4M1792 312a7 5 48 1 0 -10 -11a7 5 48 1 0 10 11M1714 603a10 7 69 1 0 -7 -19a10 7 69 1 0 7 19M1748 630a15 9 178 1 0 31 -1a15 9 178 1 0 -31 1M1847 466a16 7 25 1 0 -29 -13a16 7 25 1 0 29 13M1861 302a14 10 13 1 0 -28 -6a14 10 13 1 0 28 6M1548 576a18 5 146 1 0 29 -20a18 5 146 1 0 -29 20M1706 578a12 9 123 1 0 13 -21a12 9 123 1 0 -13 21M1628 184a10 6 115 1 0 8 -17a10 6 115 1 0 -8 17M1572 617a12 9 111 1 0 9 -23a12 9 111 1 0 -9 23M1860 415a15 5 76 1 0 -7 -29a15 5 76 1 0 7 29M1640 93a15 9 124 1 0 17 -25a15 9 124 1 0 -17 25M1862 287a14 10 115 1 0 12 -25a14 10 115 1 0 -12 25M1721 65a15 6 27 1 0 -26 -14a15 6 27 1 0 26 14M1855 485a8 10 79 1 0 -3 -16a8 10 79 1 0 3 16M1669 135a9 10 174 1 0 17 -2a9 10 174 1 0 -17 2M1660 471a8 5 77 1 0 -3 -15a8 5 77 1 0 3 15M1979 746a12 12 31 1 0 -20 -12a12 12 31 1 0 20 12M1851 336a14 5 54 1 0 -17 -23a14 5 54 1 0 17 23M1891 701a9 6 79 1 0 -3 -17a9 6 79 1 0 3 17M1924 456a17 9 7 1 0 -33 -4a17 9 7 1 0 33 4M1745 201a7 6 18 1 0 -12 -4a7 6 18 1 0 12 4M1799 159a5 3 50 1 0 -6 -7a5 3 50 1 0 6 7M1715 95a8 6 131 1 0 10 -12a8 6 131 1 0 -10 12M1657 91a4 5 68 1 0 -3 -8a4 5 68 1 0 3 8M1638 121a6 4 160 1 0 12 -4a6 4 160 1 0 -12 4M1644 135a9 5 110 1 0 6 -17a9 5 110 1 0 -6 17M1772 214a9 4 60 1 0 -9 -15a9 4 60 1 0 9 15M1804 147a6 5 63 1 0 -5 -10a6 5 63 1 0 5 10M1712 180a6 7 157 1 0 12 -5a6 7 157 1 0 -12 5M1649 153a6 4 19 1 0 -12 -4a6 4 19 1 0 12 4M1686 100a5 5 139 1 0 8 -7a5 5 139 1 0 -8 7M1665 69a7 5 43 1 0 -10 -9a7 5 43 1 0 10 9M1746 53a8 6 135 1 0 11 -11a8 6 135 1 0 -11 11M1828 127a7 4 96 1 0 2 -14a7 4 96 1 0 -2 14M1623 147a9 6 12 1 0 -18 -4a9 6 12 1 0 18 4M1771 214a6 4 36 1 0 -9 -7a6 4 36 1 0 9 7M1603 112a8 4 91 1 0 0 -16a8 4 91 1 0 -0 16M1590 75a8 4 56 1 0 -9 -13a8 4 56 1 0 9 13M1708 80a7 3 24 1 0 -12 -6a7 3 24 1 0 12 6M1686 82a4 4 3 1 0 -9 -0a4 4 3 1 0 9 0M1748 108a6 3 48 1 0 -8 -9a6 3 48 1 0 8 9M1658 73a7 5 126 1 0 8 -12a7 5 126 1 0 -8 12M1723 87a8 5 166 1 0 15 -4a8 5 166 1 0 -15 4M1753 161a7 5 152 1 0 13 -7a7 5 152 1 0 -13 7M1794 151a5 3 107 1 0 3 -9a5 3 107 1 0 -3 9M1679 65a8 3 15 1 0 -15 -4a8 3 15 1 0 15 4M1594 101a5 6 178 1 0 9 -0a5 6 178 1 0 -9 0M1753 198a5 5 28 1 0 -8 -4a5 5 28 1 0 8 4M1722 123a7 6 76 1 0 -3 -13a7 6 76 1 0 3 13M1682 179a4 3 127 1 0 5 -6a4 3 127 1 0 -5 6M1757 67a8 6 119 1 0 8 -14a8 6 119 1 0 -8 14M1621 100a9 3 127 1 0 10 -14a9 3 127 1 0 -10 14M1799 196a8 3 131 1 0 10 -12a8 3 131 1 0 -10 12M1593 153a5 3 64 1 0 -4 -9a5 3 64 1 0 4 9M1698 166a5 6 151 1 0 9 -5a5 6 151 1 0 -9 5M1752 171a7 6 122 1 0 8 -12a7 6 122 1 0 -8 12M1715 77a8 4 72 1 0 -5 -15a8 4 72 1 0 5 15M1769 52a6 6 87 1 0 -1 -12a6 6 87 1 0 1 12M1825 105a6 5 118 1 0 5 -10a6 5 118 1 0 -5 10M1644 131a9 4 171 1 0 17 -3a9 4 171 1 0 -17 3"/><path d="M1836 726a13 8 177 1 0 25 -2a13 8 177 1 0 -25 2M1744 711a14 7 119 1 0 14 -25a14 7 119 1 0 -14 25M1817 595a8 11 166 1 0 15 -4a8 11 166 1 0 -15 4M1682 67a12 9 54 1 0 -14 -19a12 9 54 1 0 14 19M1908 721a15 9 24 1 0 -27 -12a15 9 24 1 0 27 12M1605 123a14 4 124 1 0 16 -23a14 4 124 1 0 -16 23M1779 278a10 11 136 1 0 14 -14a10 11 136 1 0 -14 14M1819 241a15 9 107 1 0 9 -29a15 9 107 1 0 -9 29M1805 726a11 11 56 1 0 -12 -18a11 11 56 1 0 12 18M1734 727a10 5 175 1 0 21 -2a10 5 175 1 0 -21 2M1830 679a9 4 161 1 0 18 -6a9 4 161 1 0 -18 6M1761 294a9 9 18 1 0 -17 -5a9 9 18 1 0 17 5M1770 498a17 5 27 1 0 -31 -15a17 5 27 1 0 31 15M1796 275a12 5 174 1 0 24 -3a12 5 174 1 0 -24 3M1981 694a16 12 23 1 0 -30 -13a16 12 23 1 0 30 13M1614 191a11 7 123 1 0 12 -18a11 7 123 1 0 -12 18M1890 585a12 9 102 1 0 5 -24a12 9 102 1 0 -5 24M1778 590a10 9 131 1 0 13 -14a10 9 131 1 0 -13 14M1860 508a15 9 176 1 0 30 -2a15 9 176 1 0 -30 2M1720 708a17 11 67 1 0 -13 -31a17 11 67 1 0 13 31M1632 547a9 10 171 1 0 18 -3a9 10 171 1 0 -18 3M1779 317a14 4 131 1 0 19 -22a14 4 131 1 0 -19 22M1766 343a9 12 174 1 0 19 -2a9 12 174 1 0 -19 2M1765 412a10 8 106 1 0 5 -18a10 8 106 1 0 -5 18M1921 696a13 8 71 1 0 -9 -25a13 8 71 1 0 9 25M1739 201a8 4 139 1 0 12 -10a8 4 139 1 0 -12 10M1638 79a11 8 7 1 0 -21 -3a11 8 7 1 0 21 3M1865 205a13 5 177 1 0 25 -1a13 5 177 1 0 -25 1M1761 627a15 7 110 1 0 11 -28a15 7 110 1 0 -11 28M1625 120a18 8 145 1 0 29 -20a18 8 145 1 0 -29 20M1738 643a7 4 108 1 0 4 -13a7 4 108 1 0 -4 13M1756 72a14 8 118 1 0 13 -24a14 8 118 1 0 -13 24M1648 89a18 10 29 1 0 -31 -18a18 10 29 1 0 31 18M1772 728a7 11 18 1 0 -14 -4a7 11 18 1 0 14 4M1767 84a16 4 77 1 0 -8 -32a16 4 77 1 0 8 32M1875 555a7 10 12 1 0 -14 -3a7 10 12 1 0 14 3M1726 511a14 12 92 1 0 1 -29a14 12 92 1 0 -1 29M1836 690a7 6 13 1 0 -14 -3a7 6 13 1 0 14 3M1695 164a16 10 97 1 0 4 -31a16 10 97 1 0 -4 31M1840 461a13 5 82 1 0 -4 -25a13 5 82 1 0 4 25M1768 132a12 6 73 1 0 -7 -22a12 6 73 1 0 7 22M1840 444a15 6 176 1 0 31 -2a15 6 176 1 0 -31 2M1786 268a9 9 51 1 0 -11 -14a9 9 51 1 0 11 14M1673 50a11 11 179 1 0 21 -0a11 11 179 1 0 -21 0M1716 669a15 6 30 1 0 -26 -15a15 6 30 1 0 26 15M1836 521a16 7 167 1 0 32 -7a16 7 167 1 0 -32 7M1826 187a12 11 78 1 0 -5 -24a12 11 78 1 0 5 24M1767 542a15 6 152 1 0 26 -14a15 6 152 1 0 -26 14M1873 474a9 7 135 1 0 13 -13a9 7 135 1 0 -13 13M1815 155a8 11 66 1 0 -6 -14a8 11 66 1 0 6 14M1663 144a15 8 107 1 0 9 -29a15 8 107 1 0 -9 29M1853 272a10 11 86 1 0 -1 -20a10 11 86 1 0 1 20M1804 595a13 12 27 1 0 -23 -12a13 12 27 1 0 23 12M1813 203a16 4 93 1 0 2 -32a16 4 93 1 0 -2 32M1617 77a9 5 101 1 0 4 -18a9 5 101 1 0 -4 18M1611 539a12 6 161 1 0 23 -8a12 6 161 1 0 -23 8M1624 552a12 10 76 1 0 -6 -24a12 10 76 1 0 6 24M1696 392a10 4 116 1 0 9 -18a10 4 116 1 0 -9 18M1811 396a14 6 174 1 0 27 -3a14 6 174 1 0 -27 3M1719 564a12 5 5 1 0 -25 -2a12 5 5 1 0 25 2M1720 119a10 4 114 1 0 9 -19a10 4 114 1 0 -9 19M1902 390a11 5 26 1 0 -19 -9a11 5 26 1 0 19 9M1658 601a17 5 178 1 0 33 -1a17 5 178 1 0 -33 1M1616 129a15 12 145 1 0 24 -17a15 12 145 1 0 -24 17M1701 504a9 4 128 1 0 11 -14a9 4 128 1 0 -11 14M1757 489a9 10 149 1 0 15 -9a9 10 149 1 0 -15 9M1864 253a10 10 165 1 0 18 -5a10 10 165 1 0 -18 5M1835 356a8 8 18 1 0 -15 -5a8 8 18 1 0 15 5M1718 70a11 10 36 1 0 -18 -13a11 10 36 1 0 18 13M1598 148a15 6 14 1 0 -29 -7a15 6 14 1 0 29 7M1827 752a16 6 70 1 0 -11 -31a16 6 70 1 0 11 31M1636 558a13 7 167 1 0 25 -6a13 7 167 1 0 -25 6M1890 425a12 11 39 1 0 -19 -15a12 11 39 1 0 19 15M1810 186a12 11 112 1 0 9 -22a12 11 112 1 0 -9 22M1759 756a8 5 108 1 0 5 -16a8 5 108 1 0 -5 16M1921 828a17 4 55 1 0 -20 -29a17 4 55 1 0 20 29M1861 277a17 6 28 1 0 -30 -16a17 6 28 1 0 30 16M1736 37a10 11 1 1 0 -20 -0a10 11 1 1 0 20 0M1785 453a13 5 32 1 0 -22 -14a13 5 32 1 0 22 14M1665 178a17 6 125 1 0 20 -28a17 6 125 1 0 -20 28M1914 692a17 5 134 1 0 24 -25a17 5 134 1 0 -24 25M1811 489a14 9 154 1 0 26 -12a14 9 154 1 0 -26 12M1640 179a13 7 118 1 0 12 -22a13 7 118 1 0 -12 22M1756 202a15 12 90 1 0 -0 -31a15 12 90 1 0 0 31M1616 199a16 8 111 1 0 11 -29a16 8 111 1 0 -11 29M1677 596a12 10 138 1 0 17 -16a12 10 138 1 0 -17 16M1946 580a9 8 49 1 0 -12 -14a9 8 49 1 0 12 14M1761 457a17 5 49 1 0 -23 -26a17 5 49 1 0 23 26M1772 743a7 7 171 1 0 15 -2a7 7 171 1 0 -15 2M1810 706a12 4 57 1 0 -13 -20a12 4 57 1 0 13 20M1774 666a8 4 108 1 0 5 -15a8 4 108 1 0 -5 15M1584 571a15 12 42 1 0 -22 -20a15 12 42 1 0 22 20M1889 832a15 6 168 1 0 29 -6a15 6 168 1 0 -29 6M1670 549a11 9 126 1 0 14 -18a11 9 126 1 0 -14 18M1782 446a17 6 122 1 0 18 -29a17 6 122 1 0 -18 29M1833 392a7 11 36 1 0 -12 -9a7 11 36 1 0 12 9M1713 654a7 11 122 1 0 8 -12a7 11 122 1 0 -8 12M1876 539a17 7 122 1 0 18 -28a17 7 122 1 0 -18 28M1677 541a12 7 59 1 0 -13 -21a12 7 59 1 0 13 21M1842 540a11 8 163 1 0 21 -6a11 8 163 1 0 -21 6M1846 703a9 9 43 1 0 -13 -12a9 9 43 1 0 13 12M1693 134a15 10 49 1 0 -19 -23a15 10 49 1 0 19 23M1819 205a11 6 60 1 0 -11 -19a11 6 60 1 0 11 19M1857 468a13 8 41 1 0 -19 -17a13 8 41 1 0 19 17M1749 59a15 5 103 1 0 6 -28a15 5 103 1 0 -6 28M1766 546a14 11 131 1 0 19 -22a14 11 131 1 0 -19 22M1587 572a9 10 35 1 0 -15 -10a9 10 35 1 0 15 10M1912 542a18 4 7 1 0 -35 -5a18 4 7 1 0 35 5M1940 600a11 8 49 1 0 -14 -16a11 8 49 1 0 14 16M1816 692a13 6 63 1 0 -12 -23a13 6 63 1 0 12 23M1909 640a16 9 92 1 0 1 -33a16 9 92 1 0 -1 33M1918 593a15 9 60 1 0 -15 -26a15 9 60 1 0 15 26M1943 708a18 8 28 1 0 -32 -17a18 8 28 1 0 32 17M1669 591a16 11 179 1 0 33 -1a16 11 179 1 0 -33 1M1646 115a11 5 115 1 0 9 -20a11 5 115 1 0 -9 20M1764 270a10 10 166 1 0 20 -5a10 10 166 1 0 -20 5M1706 687a17 7 54 1 0 -20 -27a17 7 54 1 0 20 27M1778 522a14 6 8 1 0 -28 -4a14 6 8 1 0 28 4M1847 731a10 7 108 1 0 6 -19a10 7 108 1 0 -6 19M1885 692a16 12 178 1 0 32 -1a16 12 178 1 0 -32 1M1597 140a11 6 143 1 0 17 -13a11 6 143 1 0 -17 13M1801 442a8 9 113 1 0 7 -15a8 9 113 1 0 -7 15M1871 524a12 8 24 1 0 -23 -10a12 8 24 1 0 23 10M1765 606a8 7 94 1 0 1 -15a8 7 94 1 0 -1 15M1803 567a17 5 156 1 0 30 -13a17 5 156 1 0 -30 13M1887 270a14 9 27 1 0 -25 -13a14 9 27 1 0 25 13M1645 567a16 12 95 1 0 3 -32a16 12 95 1 0 -3 32M1741 368a8 7 148 1 0 14 -9a8 7 148 1 0 -14 9M1630 581a11 8 102 1 0 5 -21a11 8 102 1 0 -5 21M1690 495a15 11 7 1 0 -29 -3a15 11 7 1 0 29 3M1867 284a13 8 0 1 0 -26 -0a13 8 0 1 0 26 0M1824 655a8 10 131 1 0 11 -12a8 10 131 1 0 -11 12M1755 102a13 9 34 1 0 -21 -14a13 9 34 1 0 21 14M1867 559a9 4 138 1 0 14 -12a9 4 138 1 0 -14 12M1627 578a8 12 41 1 0 -11 -10a8 12 41 1 0 11 10M1625 605a8 11 16 1 0 -15 -4a8 11 16 1 0 15 4M1843 698a16 8 160 1 0 31 -11a16 8 160 1 0 -31 11M1712 564a9 5 129 1 0 11 -14a9 5 129 1 0 -11 14M1786 128a8 11 147 1 0 14 -9a8 11 147 1 0 -14 9M1766 85a11 11 56 1 0 -12 -18a11 11 56 1 0 12 18M1709 176a8 4 127 1 0 10 -13a8 4 127 1 0 -10 13M1740 134a7 4 3 1 0 -15 -1a7 4 3 1 0 15 1M1725 97a6 4 102 1 0 2 -11a6 4 102 1 0 -2 11M1775 70a8 6 175 1 0 15 -1a8 6 175 1 0 -15 1M1664 142a8 7 117 1 0 8 -15a8 7 117 1 0 -8 15M1691 131a8 6 163 1 0 15 -5a8 6 163 1 0 -15 5M1599 171a8 6 152 1 0 15 -8a8 6 152 1 0 -15 8M1581 171a8 5 134 1 0 12 -12a8 5 134 1 0 -12 12M1631 106a7 5 169 1 0 13 -3a7 5 169 1 0 -13 3M1776 85a4 7 46 1 0 -6 -6a4 7 46 1 0 6 6M1586 147a7 6 28 1 0 -13 -7a7 6 28 1 0 13 7M1599 142a7 5 60 1 0 -7 -12a7 5 60 1 0 7 12M1604 187a5 5 20 1 0 -9 -3a5 5 20 1 0 9 3M1828 105a8 5 31 1 0 -13 -8a8 5 31 1 0 13 8M1711 215a5 4 91 1 0 0 -9a5 4 91 1 0 -0 9M1628 75a7 4 73 1 0 -4 -13a7 4 73 1 0 4 13M1799 202a8 6 51 1 0 -10 -13a8 6 51 1 0 10 13M1623 175a9 5 91 1 0 0 -18a9 5 91 1 0 -0 18M1626 66a5 3 72 1 0 -3 -9a5 3 72 1 0 3 9M1651 208a5 6 90 1 0 0 -9a5 6 90 1 0 -0 9M1702 60a6 3 33 1 0 -11 -7a6 3 33 1 0 11 7M1703 192a5 6 163 1 0 9 -3a5 6 163 1 0 -9 3M1709 119a6 4 86 1 0 -1 -12a6 4 86 1 0 1 12M1709 79a7 4 159 1 0 13 -5a7 4 159 1 0 -13 5M1796 166a5 6 79 1 0 -2 -10a5 6 79 1 0 2 10M1820 130a6 4 106 1 0 3 -12a6 4 106 1 0 -3 12M1707 138a7 6 169 1 0 13 -3a7 6 169 1 0 -13 3M1698 113a6 3 160 1 0 12 -4a6 3 160 1 0 -12 4M1761 120a8 5 21 1 0 -15 -6a8 5 21 1 0 15 6M1635 183a6 6 21 1 0 -11 -4a6 6 21 1 0 11 4M1793 98a4 4 86 1 0 -1 -8a4 4 86 1 0 1 8M1663 98a8 6 66 1 0 -7 -15a8 6 66 1 0 7 15"/><path d="M1612 70a18 12 129 1 0 22 -27a18 12 129 1 0 -22 27M1952 723a11 10 71 1 0 -7 -20a11 10 71 1 0 7 20M1864 479a11 11 9 1 0 -23 -3a11 11 9 1 0 23 3M1860 639a8 7 114 1 0 6 -14a8 7 114 1 0 -6 14M1812 159a18 11 118 1 0 16 -31a18 11 118 1 0 -16 31M1687 437a15 7 123 1 0 16 -26a15 7 123 1 0 -16 26M1914 595a7 11 63 1 0 -7 -13a7 11 63 1 0 7 13M1908 790a8 8 104 1 0 4 -16a8 8 104 1 0 -4 16M1828 723a13 7 37 1 0 -20 -16a13 7 37 1 0 20 16M1729 459a14 11 65 1 0 -11 -25a14 11 65 1 0 11 25M1934 535a14 6 127 1 0 17 -23a14 6 127 1 0 -17 23M1860 250a16 7 28 1 0 -28 -15a16 7 28 1 0 28 15M1744 136a16 5 15 1 0 -31 -8a16 5 15 1 0 31 8M1768 148a8 6 163 1 0 16 -5a8 6 163 1 0 -16 5M1735 139a8 11 119 1 0 8 -14a8 11 119 1 0 -8 14M1586 523a17 11 94 1 0 2 -33a17 11 94 1 0 -2 33M1924 749a14 5 94 1 0 2 -28a14 5 94 1 0 -2 28M1698 450a9 6 116 1 0 8 -16a9 6 116 1 0 -8 16M1959 727a8 11 137 1 0 11 -10a8 11 137 1 0 -11 10M1799 350a13 10 52 1 0 -16 -20a13 10 52 1 0 16 20M1807 483a13 6 97 1 0 3 -26a13 6 97 1 0 -3 26M1810 463a9 5 97 1 0 2 -19a9 5 97 1 0 -2 19M1615 148a12 9 59 1 0 -13 -21a12 9 59 1 0 13 21M1730 405a15 8 82 1 0 -4 -29a15 8 82 1 0 4 29M1953 663a8 4 43 1 0 -11 -11a8 4 43 1 0 11 11M1779 567a15 12 89 1 0 -0 -30a15 12 89 1 0 0 30M1590 499a15 9 127 1 0 18 -24a15 9 127 1 0 -18 24M1700 504a8 7 50 1 0 -10 -12a8 7 50 1 0 10 12M1789 555a16 12 175 1 0 32 -3a16 12 175 1 0 -32 3M1706 124a8 6 92 1 0 1 -16a8 6 92 1 0 -1 16M1781 752a18 10 73 1 0 -10 -34a18 10 73 1 0 10 34M1890 677a15 5 2 1 0 -30 -1a15 5 2 1 0 30 1M1800 374a14 12 79 1 0 -6 -28a14 12 79 1 0 6 28M1838 518a12 7 180 1 0 24 -0a12 7 180 1 0 -24 0M1666 618a7 5 109 1 0 5 -13a7 5 109 1 0 -5 13M1889 827a12 7 174 1 0 24 -3a12 7 174 1 0 -24 3M1852 167a13 8 152 1 0 23 -12a13 8 152 1 0 -23 12M1817 145a8 9 93 1 0 1 -16a8 9 93 1 0 -1 16M1627 634a12 11 166 1 0 24 -6a12 11 166 1 0 -24 6M1937 792a10 11 59 1 0 -10 -17a10 11 59 1 0 10 17M1685 186a16 7 98 1 0 4 -31a16 7 98 1 0 -4 31M1696 139a9 8 46 1 0 -12 -12a9 8 46 1 0 12 12M1840 663a10 8 107 1 0 6 -20a10 8 107 1 0 -6 20M1639 169a12 7 133 1 0 16 -17a12 7 133 1 0 -16 17M1811 655a15 4 84 1 0 -3 -29a15 4 84 1 0 3 29M1759 458a9 4 134 1 0 13 -13a9 4 134 1 0 -13 13M1897 820a15 10 66 1 0 -12 -27a15 10 66 1 0 12 27M1762 335a9 10 143 1 0 14 -11a9 10 143 1 0 -14 11M1777 408a16 8 12 1 0 -32 -7a16 8 12 1 0 32 7M1707 724a13 5 144 1 0 21 -15a13 5 144 1 0 -21 15M1648 663a15 4 40 1 0 -23 -20a15 4 40 1 0 23 20M1757 328a10 11 27 1 0 -17 -9a10 11 27 1 0 17 9M1723 603a7 10 72 1 0 -5 -14a7 10 72 1 0 5 14M1784 112a14 10 83 1 0 -3 -27a14 10 83 1 0 3 27M1955 731a15 9 35 1 0 -25 -18a15 9 35 1 0 25 18M1873 184a11 9 100 1 0 4 -23a11 9 100 1 0 -4 23M1916 607a16 10 166 1 0 31 -8a16 10 166 1 0 -31 8M1916 542a7 8 29 1 0 -13 -7a7 8 29 1 0 13 7M1875 388a11 12 35 1 0 -19 -13a11 12 35 1 0 19 13M1647 611a14 10 109 1 0 9 -26a14 10 109 1 0 -9 26M1697 412a15 10 148 1 0 26 -16a15 10 148 1 0 -26 16M1645 477a13 12 71 1 0 -8 -25a13 12 71 1 0 8 25M1831 361a10 7 46 1 0 -14 -14a10 7 46 1 0 14 14M1794 198a12 5 9 1 0 -23 -4a12 5 9 1 0 23 4M1825 604a18 6 119 1 0 17 -31a18 6 119 1 0 -17 31M1780 314a8 5 4 1 0 -16 -1a8 5 4 1 0 16 1M1626 137a15 8 151 1 0 26 -14a15 8 151 1 0 -26 14M1601 600a10 11 168 1 0 20 -4a10 11 168 1 0 -20 4M1923 763a11 10 89 1 0 -0 -22a11 10 89 1 0 0 22M1897 457a15 8 72 1 0 -10 -29a15 8 72 1 0 10 29M1723 406a10 5 150 1 0 17 -9a10 5 150 1 0 -17 9M1627 212a10 5 72 1 0 -6 -20a10 5 72 1 0 6 20M1950 704a7 5 98 1 0 2 -15a7 5 98 1 0 -2 15M1806 588a13 9 127 1 0 15 -20a13 9 127 1 0 -15 20M1768 309a12 9 98 1 0 3 -23a12 9 98 1 0 -3 23M1729 501a16 5 6 1 0 -32 -4a16 5 6 1 0 32 4M1922 543a17 6 100 1 0 6 -33a17 6 100 1 0 -6 33M1741 650a16 7 43 1 0 -24 -22a16 7 43 1 0 24 22M1716 220a11 5 73 1 0 -7 -21a11 5 73 1 0 7 21M1922 519a8 11 102 1 0 3 -15a8 11 102 1 0 -3 15M1794 712a8 8 28 1 0 -13 -7a8 8 28 1 0 13 7M1883 285a17 11 57 1 0 -18 -28a17 11 57 1 0 18 28M1792 383a14 8 44 1 0 -19 -19a14 8 44 1 0 19 19M1573 555a11 5 25 1 0 -20 -9a11 5 25 1 0 20 9M1799 127a17 4 45 1 0 -25 -24a17 4 45 1 0 25 24M1657 677a15 11 174 1 0 30 -3a15 11 174 1 0 -30 3M1669 42a17 9 169 1 0 34 -6a17 9 169 1 0 -34 6M1870 841a7 8 101 1 0 3 -14a7 8 101 1 0 -3 14M1655 87a16 6 124 1 0 18 -26a16 6 124 1 0 -18 26M1839 675a12 6 33 1 0 -20 -13a12 6 33 1 0 20 13M1683 83a8 12 90 1 0 -0 -15a8 12 90 1 0 0 15M1934 728a16 7 70 1 0 -11 -30a16 7 70 1 0 11 30M1670 556a9 9 105 1 0 4 -17a9 9 105 1 0 -4 17M1722 378a13 5 64 1 0 -12 -24a13 5 64 1 0 12 24M1925 751a18 12 158 1 0 33 -13a18 12 158 1 0 -33 13M1794 82a10 7 109 1 0 6 -18a10 7 109 1 0 -6 18M1629 111a17 4 0 1 0 -33 -0a17 4 0 1 0 33 0M1620 180a7 8 139 1 0 11 -10a7 8 139 1 0 -11 10M1851 696a11 12 99 1 0 3 -21a11 12 99 1 0 -3 21M1863 807a17 5 143 1 0 27 -20a17 5 143 1 0 -27 20M1759 535a8 7 34 1 0 -14 -9a8 7 34 1 0 14 9M1801 701a7 8 11 1 0 -15 -3a7 8 11 1 0 15 3M1652 218a14 9 145 1 0 24 -16a14 9 145 1 0 -24 16M1804 732a10 10 104 1 0 5 -18a10 10 104 1 0 -5 18M1846 592a10 5 147 1 0 16 -11a10 5 147 1 0 -16 11M1828 716a17 8 82 1 0 -5 -33a17 8 82 1 0 5 33M1789 291a15 5 164 1 0 30 -9a15 5 164 1 0 -30 9M1936 506a8 6 75 1 0 -4 -16a8 6 75 1 0 4 16M1940 750a15 11 145 1 0 25 -17a15 11 145 1 0 -25 17M1817 171a8 4 43 1 0 -12 -11a8 4 43 1 0 12 11M1564 552a9 8 173 1 0 19 -2a9 8 173 1 0 -19 2M1788 567a11 9 131 1 0 15 -17a11 9 131 1 0 -15 17M1803 331a15 8 55 1 0 -17 -25a15 8 55 1 0 17 25M1606 534a12 5 17 1 0 -23 -7a12 5 17 1 0 23 7M1806 516a12 8 91 1 0 0 -24a12 8 91 1 0 -0 24M1924 617a11 10 96 1 0 2 -22a11 10 96 1 0 -2 22M1727 681a8 9 130 1 0 10 -12a8 9 130 1 0 -10 12M1758 590a15 11 133 1 0 20 -21a15 11 133 1 0 -20 21M1704 210a9 7 59 1 0 -9 -15a9 7 59 1 0 9 15M1661 418a14 9 104 1 0 7 -26a14 9 104 1 0 -7 26M1564 501a16 4 154 1 0 29 -14a16 4 154 1 0 -29 14M1914 528a15 12 136 1 0 22 -21a15 12 136 1 0 -22 21M1892 502a14 4 90 1 0 0 -29a14 4 90 1 0 -0 29M1862 686a14 7 110 1 0 10 -26a14 7 110 1 0 -10 26M1693 469a17 5 27 1 0 -30 -15a17 5 27 1 0 30 15M1880 267a12 12 109 1 0 8 -23a12 12 109 1 0 -8 23M1716 601a9 8 147 1 0 16 -10a9 8 147 1 0 -16 10M1763 506a13 9 16 1 0 -26 -7a13 9 16 1 0 26 7M1817 291a11 8 35 1 0 -17 -12a11 8 35 1 0 17 12M1769 55a11 12 127 1 0 14 -18a11 12 127 1 0 -14 18M1707 172a16 8 145 1 0 27 -19a16 8 145 1 0 -27 19M1778 745a8 8 110 1 0 5 -15a8 8 110 1 0 -5 15M1842 267a12 12 137 1 0 18 -16a12 12 137 1 0 -18 16M1700 520a9 6 71 1 0 -6 -17a9 6 71 1 0 6 17M1884 590a10 4 53 1 0 -12 -16a10 4 53 1 0 12 16M1798 505a8 11 6 1 0 -15 -1a8 11 6 1 0 15 1M1973 754a10 10 12 1 0 -20 -4a10 10 12 1 0 20 4M1839 778a7 7 74 1 0 -4 -14a7 7 74 1 0 4 14M1651 556a18 9 136 1 0 25 -25a18 9 136 1 0 -25 25M1894 644a17 5 148 1 0 29 -18a17 5 148 1 0 -29 18M1790 174a9 5 73 1 0 -5 -17a9 5 73 1 0 5 17M1753 115a5 6 19 1 0 -9 -3a5 6 19 1 0 9 3M1772 71a5 7 167 1 0 10 -2a5 7 167 1 0 -10 2M1654 182a4 3 151 1 0 7 -4a4 3 151 1 0 -7 4M1704 93a6 5 93 1 0 1 -12a6 5 93 1 0 -1 12M1842 177a7 5 1 1 0 -15 -0a7 5 1 1 0 15 0M1674 123a4 5 43 1 0 -6 -6a4 5 43 1 0 6 6M1607 139a6 4 109 1 0 4 -11a6 4 109 1 0 -4 11M1699 51a9 7 163 1 0 17 -5a9 7 163 1 0 -17 5M1682 111a8 3 84 1 0 -2 -17a8 3 84 1 0 2 17M1771 150a8 4 154 1 0 15 -7a8 4 154 1 0 -15 7M1746 35a8 7 143 1 0 14 -10a8 7 143 1 0 -14 10M1795 102a4 6 55 1 0 -5 -7a4 6 55 1 0 5 7M1731 55a5 6 156 1 0 9 -4a5 6 156 1 0 -9 4M1758 125a7 6 172 1 0 15 -2a7 6 172 1 0 -15 2M1753 215a8 6 171 1 0 16 -3a8 6 171 1 0 -16 3M1695 73a5 5 20 1 0 -10 -4a5 5 20 1 0 10 4M1764 131a6 5 170 1 0 12 -2a6 5 170 1 0 -12 2M1731 74a4 4 158 1 0 8 -3a4 4 158 1 0 -8 3M1707 152a6 6 108 1 0 4 -12a6 6 108 1 0 -4 12M1646 111a6 4 147 1 0 10 -6a6 4 147 1 0 -10 6M1704 159a6 5 51 1 0 -8 -9a6 5 51 1 0 8 9M1806 118a6 6 118 1 0 6 -11a6 6 118 1 0 -6 11M1742 58a8 4 142 1 0 12 -9a8 4 142 1 0 -12 9M1769 171a6 3 174 1 0 12 -1a6 3 174 1 0 -12 1M1794 106a5 3 159 1 0 9 -4a5 3 159 1 0 -9 4M1801 157a8 5 166 1 0 15 -4a8 5 166 1 0 -15 4M1689 94a6 6 86 1 0 -1 -12a6 6 86 1 0 1 12M1740 206a8 6 165 1 0 15 -4a8 6 165 1 0 -15 4M1807 126a6 6 147 1 0 9 -6a6 6 147 1 0 -9 6M1665 61a7 5 120 1 0 7 -13a7 5 120 1 0 -7 13M1611 88a7 5 108 1 0 5 -14a7 5 108 1 0 -5 14M1647 102a5 6 128 1 0 6 -7a5 6 128 1 0 -6 7M1783 139a8 3 85 1 0 -1 -15a8 3 85 1 0 1 15"/><path d="M1800 625a12 11 172 1 0 25 -3a12 11 172 1 0 -25 3M1728 578a9 10 145 1 0 14 -10a9 10 145 1 0 -14 10M1938 676a15 8 123 1 0 16 -26a15 8 123 1 0 -16 26M1831 360a8 7 98 1 0 2 -16a8 7 98 1 0 -2 16M1796 655a12 9 180 1 0 24 -0a12 9 180 1 0 -24 0M1812 112a8 10 104 1 0 4 -16a8 10 104 1 0 -4 16M1750 538a13 6 149 1 0 22 -13a13 6 149 1 0 -22 13M1819 258a8 5 81 1 0 -3 -16a8 5 81 1 0 3 16M1775 260a15 7 155 1 0 28 -13a15 7 155 1 0 -28 13M1850 213a15 4 167 1 0 29 -7a15 4 167 1 0 -29 7M1642 166a13 11 105 1 0 7 -25a13 11 105 1 0 -7 25M1710 118a16 8 155 1 0 29 -13a16 8 155 1 0 -29 13M1884 259a18 5 51 1 0 -23 -28a18 5 51 1 0 23 28M1795 306a9 10 129 1 0 11 -14a9 10 129 1 0 -11 14M1932 610a16 11 73 1 0 -10 -31a16 11 73 1 0 10 31M1852 184a14 10 13 1 0 -28 -7a14 10 13 1 0 28 7M1608 203a10 11 58 1 0 -10 -16a10 11 58 1 0 10 16M1824 511a9 7 161 1 0 17 -6a9 7 161 1 0 -17 6M1773 290a17 8 132 1 0 23 -25a17 8 132 1 0 -23 25M1687 568a12 5 117 1 0 11 -21a12 5 117 1 0 -11 21M1611 545a7 9 43 1 0 -10 -10a7 9 43 1 0 10 10M1734 737a14 10 27 1 0 -25 -13a14 10 27 1 0 25 13M1865 599a9 10 37 1 0 -14 -10a9 10 37 1 0 14 10M1745 134a13 6 89 1 0 -0 -25a13 6 89 1 0 0 25M1691 398a11 7 161 1 0 22 -8a11 7 161 1 0 -22 8M1682 403a10 12 28 1 0 -18 -10a10 12 28 1 0 18 10M1942 554a14 9 11 1 0 -27 -5a14 9 11 1 0 27 5M1669 425a14 7 65 1 0 -12 -26a14 7 65 1 0 12 26M1638 137a16 9 84 1 0 -3 -31a16 9 84 1 0 3 31M1850 685a13 12 122 1 0 13 -21a13 12 122 1 0 -13 21M1788 354a8 9 131 1 0 11 -12a8 9 131 1 0 -11 12M1696 630a16 4 6 1 0 -32 -3a16 4 6 1 0 32 3M1604 567a15 11 28 1 0 -27 -14a15 11 28 1 0 27 14M1734 143a17 8 175 1 0 33 -3a17 8 175 1 0 -33 3M1680 449a17 8 71 1 0 -11 -32a17 8 71 1 0 11 32M1895 626a15 6 167 1 0 28 -7a15 6 167 1 0 -28 7M1666 426a7 5 165 1 0 14 -4a7 5 165 1 0 -14 4M1862 498a12 11 106 1 0 7 -23a12 11 106 1 0 -7 23M1650 166a10 12 96 1 0 2 -20a10 12 96 1 0 -2 20M1651 62a8 11 137 1 0 11 -10a8 11 137 1 0 -11 10M1823 196a16 7 111 1 0 11 -29a16 7 111 1 0 -11 29M1582 597a12 8 107 1 0 7 -23a12 8 107 1 0 -7 23M1752 753a14 7 146 1 0 23 -16a14 7 146 1 0 -23 16M1788 710a16 6 88 1 0 -1 -33a16 6 88 1 0 1 33M1928 613a11 6 75 1 0 -6 -21a11 6 75 1 0 6 21M1897 593a9 4 56 1 0 -11 -16a9 4 56 1 0 11 16M1841 309a10 7 102 1 0 4 -20a10 7 102 1 0 -4 20M1650 569a15 8 3 1 0 -31 -2a15 8 3 1 0 31 2M1917 609a13 11 67 1 0 -11 -24a13 11 67 1 0 11 24M1881 390a11 6 68 1 0 -8 -20a11 6 68 1 0 8 20M1801 125a9 9 94 1 0 1 -19a9 9 94 1 0 -1 19M1817 318a17 8 24 1 0 -31 -14a17 8 24 1 0 31 14M1947 688a13 5 82 1 0 -4 -26a13 5 82 1 0 4 26M1769 685a17 8 171 1 0 33 -5a17 8 171 1 0 -33 5M1646 602a12 4 146 1 0 19 -13a12 4 146 1 0 -19 13M1655 132a8 6 147 1 0 13 -8a8 6 147 1 0 -13 8M1812 554a15 9 25 1 0 -27 -13a15 9 25 1 0 27 13M1722 525a16 11 170 1 0 32 -5a16 11 170 1 0 -32 5M1600 173a13 11 87 1 0 -1 -26a13 11 87 1 0 1 26M1657 562a16 12 24 1 0 -30 -13a16 12 24 1 0 30 13M1852 500a13 9 68 1 0 -10 -24a13 9 68 1 0 10 24M1703 444a9 6 155 1 0 17 -8a9 6 155 1 0 -17 8M1675 127a12 11 162 1 0 23 -7a12 11 162 1 0 -23 7M1618 97a15 5 33 1 0 -25 -16a15 5 33 1 0 25 16M1596 488a17 5 96 1 0 4 -33a17 5 96 1 0 -4 33M1760 459a10 12 111 1 0 7 -18a10 12 111 1 0 -7 18M1732 685a14 7 102 1 0 6 -27a14 7 102 1 0 -6 27M1794 717a17 7 126 1 0 20 -28a17 7 126 1 0 -20 28M1668 598a18 7 78 1 0 -8 -34a18 7 78 1 0 8 34M1874 745a12 12 42 1 0 -18 -16a12 12 42 1 0 18 16M1653 161a12 10 51 1 0 -15 -18a12 10 51 1 0 15 18M1760 210a13 10 164 1 0 25 -7a13 10 164 1 0 -25 7M1890 569a14 7 23 1 0 -25 -11a14 7 23 1 0 25 11M1780 187a17 10 81 1 0 -5 -34a17 10 81 1 0 5 34M1747 178a15 7 35 1 0 -25 -17a15 7 35 1 0 25 17M1747 650a10 10 163 1 0 20 -6a10 10 163 1 0 -20 6M1778 421a16 8 101 1 0 6 -32a16 8 101 1 0 -6 32M1982 769a16 11 80 1 0 -6 -32a16 11 80 1 0 6 32M1700 526a12 6 125 1 0 13 -19a12 6 125 1 0 -13 19M1912 795a8 7 71 1 0 -5 -15a8 7 71 1 0 5 15M1755 69a18 9 141 1 0 27 -22a18 9 141 1 0 -27 22M1700 618a9 4 118 1 0 9 -16a9 4 118 1 0 -9 16M1700 603a16 12 87 1 0 -2 -32a16 12 87 1 0 2 32M1743 125a18 10 10 1 0 -35 -6a18 10 10 1 0 35 6M1870 578a8 11 69 1 0 -6 -14a8 11 69 1 0 6 14M1949 737a17 10 160 1 0 33 -12a17 10 160 1 0 -33 12M1797 735a8 6 109 1 0 5 -15a8 6 109 1 0 -5 15M1767 576a14 7 4 1 0 -28 -2a14 7 4 1 0 28 2M1790 702a10 7 103 1 0 4 -20a10 7 103 1 0 -4 20M1974 770a9 7 33 1 0 -14 -9a9 7 33 1 0 14 9M1679 155a16 10 104 1 0 8 -31a16 10 104 1 0 -8 31M1764 183a14 5 37 1 0 -23 -17a14 5 37 1 0 23 17M1775 517a9 11 103 1 0 4 -18a9 11 103 1 0 -4 18M1808 404a10 4 18 1 0 -20 -7a10 4 18 1 0 20 7M1596 136a11 6 126 1 0 12 -17a11 6 126 1 0 -12 17M1701 356a11 11 164 1 0 22 -6a11 11 164 1 0 -22 6M1811 202a9 7 141 1 0 14 -11a9 7 141 1 0 -14 11M1727 696a16 6 9 1 0 -31 -5a16 6 9 1 0 31 5M1729 593a17 9 130 1 0 23 -27a17 9 130 1 0 -23 27M1870 329a14 7 70 1 0 -10 -27a14 7 70 1 0 10 27M1717 703a11 9 159 1 0 20 -8a11 9 159 1 0 -20 8M1589 583a17 7 137 1 0 24 -23a17 7 137 1 0 -24 23M1812 190a15 5 80 1 0 -5 -29a15 5 80 1 0 5 29M1919 798a13 9 6 1 0 -25 -3a13 9 6 1 0 25 3M1690 641a9 10 149 1 0 16 -10a9 10 149 1 0 -16 10M1821 422a10 7 127 1 0 12 -16a10 7 127 1 0 -12 16M1793 750a8 12 100 1 0 3 -15a8 12 100 1 0 -3 15M1827 176a9 6 158 1 0 16 -7a9 6 158 1 0 -16 7M1729 718a14 8 2 1 0 -27 -1a14 8 2 1 0 27 1M1818 568a12 6 90 1 0 -0 -24a12 6 90 1 0 0 24M1625 60a15 12 158 1 0 29 -12a15 12 158 1 0 -29 12M1872 594a11 11 112 1 0 9 -21a11 11 112 1 0 -9 21M1827 578a16 6 83 1 0 -4 -31a16 6 83 1 0 4 31M1619 584a9 10 154 1 0 15 -7a9 10 154 1 0 -15 7M1575 185a13 5 124 1 0 14 -21a13 5 124 1 0 -14 21M1799 287a17 6 140 1 0 27 -22a17 6 140 1 0 -27 22M1826 560a8 10 51 1 0 -11 -13a8 10 51 1 0 11 13M1575 606a14 8 60 1 0 -14 -24a14 8 60 1 0 14 24M1751 460a15 7 158 1 0 27 -11a15 7 158 1 0 -27 11M1881 755a12 6 120 1 0 12 -20a12 6 120 1 0 -12 20M1901 847a15 8 92 1 0 1 -30a15 8 92 1 0 -1 30M1778 268a14 8 166 1 0 27 -7a14 8 166 1 0 -27 7M1689 126a9 10 171 1 0 18 -3a9 10 171 1 0 -18 3M1824 261a16 10 110 1 0 11 -29a16 10 110 1 0 -11 29M1925 540a13 10 167 1 0 24 -6a13 10 167 1 0 -24 6M1900 764a15 10 158 1 0 28 -11a15 10 158 1 0 -28 11M1645 165a7 8 146 1 0 12 -8a7 8 146 1 0 -12 8M1802 548a10 11 104 1 0 5 -20a10 11 104 1 0 -5 20M1773 368a13 8 155 1 0 24 -11a13 8 155 1 0 -24 11M1784 441a13 11 45 1 0 -19 -19a13 11 45 1 0 19 19M1739 621a15 5 167 1 0 29 -7a15 5 167 1 0 -29 7M1744 637a10 10 30 1 0 -17 -10a10 10 30 1 0 17 10M1906 749a15 10 53 1 0 -18 -25a15 10 53 1 0 18 25M1901 787a15 6 14 1 0 -29 -7a15 6 14 1 0 29 7M1658 512a11 8 67 1 0 -8 -20a11 8 67 1 0 8 20M1862 305a9 7 134 1 0 13 -13a9 7 134 1 0 -13 13M1648 155a14 8 83 1 0 -3 -27a14 8 83 1 0 3 27M1689 625a12 8 166 1 0 22 -6a12 8 166 1 0 -22 6M1604 480a10 4 133 1 0 14 -14a10 4 133 1 0 -14 14M1794 332a8 6 99 1 0 2 -15a8 6 99 1 0 -2 15M1804 712a15 7 165 1 0 29 -8a15 7 165 1 0 -29 8M1680 586a11 11 5 1 0 -22 -2a11 11 5 1 0 22 2M1802 634a17 11 147 1 0 29 -19a17 11 147 1 0 -29 19M1589 195a11 10 62 1 0 -11 -20a11 10 62 1 0 11 20M1580 621a18 10 131 1 0 24 -27a18 10 131 1 0 -24 27M1699 48a7 10 54 1 0 -9 -12a7 10 54 1 0 9 12M1818 308a15 7 47 1 0 -21 -23a15 7 47 1 0 21 23M1732 524a16 6 126 1 0 20 -27a16 6 126 1 0 -20 27M1906 684a17 11 142 1 0 26 -20a17 11 142 1 0 -26 20M1754 326a16 7 162 1 0 31 -10a16 7 162 1 0 -31 10M1850 439a13 10 129 1 0 17 -21a13 10 129 1 0 -17 21M1763 720a9 4 93 1 0 1 -17a9 4 93 1 0 -1 17M1786 305a11 9 60 1 0 -11 -18a11 9 60 1 0 11 18M1889 281a8 5 49 1 0 -10 -11a8 5 49 1 0 10 11M1858 279a18 6 117 1 0 16 -31a18 6 117 1 0 -16 31M1967 718a10 7 18 1 0 -19 -6a10 7 18 1 0 19 6M1621 142a9 11 153 1 0 17 -9a9 11 153 1 0 -17 9M1751 92a10 9 157 1 0 19 -8a10 9 157 1 0 -19 8M1792 275a16 11 136 1 0 23 -22a16 11 136 1 0 -23 22M1825 696a9 5 123 1 0 10 -15a9 5 123 1 0 -10 15M1860 320a11 4 82 1 0 -3 -21a11 4 82 1 0 3 21M1793 659a15 5 29 1 0 -26 -14a15 5 29 1 0 26 14M1609 576a16 5 72 1 0 -10 -31a16 5 72 1 0 10 31M1620 203a11 5 137 1 0 17 -15a11 5 137 1 0 -17 15M1806 652a17 10 177 1 0 34 -2a17 10 177 1 0 -34 2M1722 460a9 6 159 1 0 17 -7a9 6 159 1 0 -17 7M1868 354a15 9 7 1 0 -30 -4a15 9 7 1 0 30 4M1830 95a5 3 25 1 0 -9 -4a5 3 25 1 0 9 4M1622 124a4 6 101 1 0 2 -8a4 6 101 1 0 -2 8M1701 176a4 3 44 1 0 -6 -6a4 3 44 1 0 6 6M1633 158a5 5 140 1 0 8 -7a5 5 140 1 0 -8 7M1681 117a6 3 91 1 0 0 -13a6 3 91 1 0 -0 13M1688 72a5 6 24 1 0 -9 -4a5 6 24 1 0 9 4M1621 130a4 5 119 1 0 4 -8a4 5 119 1 0 -4 8M1842 196a8 3 46 1 0 -12 -12a8 3 46 1 0 12 12M1726 62a4 4 90 1 0 -0 -8a4 4 90 1 0 0 8M1773 56a4 4 87 1 0 -0 -9a4 4 87 1 0 0 9M1802 179a5 5 40 1 0 -8 -7a5 5 40 1 0 8 7M1670 108a7 5 159 1 0 12 -5a7 5 159 1 0 -12 5M1764 138a5 4 166 1 0 9 -2a5 4 166 1 0 -9 2M1649 127a4 5 8 1 0 -9 -1a4 5 8 1 0 9 1M1747 95a7 4 74 1 0 -4 -13a7 4 74 1 0 4 13M1730 146a7 6 173 1 0 14 -2a7 6 173 1 0 -14 2M1765 67a9 4 47 1 0 -12 -13a9 4 47 1 0 12 13M1717 181a4 6 160 1 0 8 -3a4 6 160 1 0 -8 3M1748 193a5 4 117 1 0 5 -10a5 4 117 1 0 -5 10M1694 87a5 6 111 1 0 4 -9a5 6 111 1 0 -4 9M1681 187a7 4 33 1 0 -12 -8a7 4 33 1 0 12 8M1635 179a5 6 18 1 0 -9 -3a5 6 18 1 0 9 3M1663 221a6 5 0 1 0 -12 -0a6 5 0 1 0 12 0"/><path d="M1760 604a12 5 56 1 0 -14 -21a12 5 56 1 0 14 21M1620 179a17 11 74 1 0 -10 -33a17 11 74 1 0 10 33M1949 673a13 5 167 1 0 26 -6a13 5 167 1 0 -26 6M1745 582a9 8 97 1 0 2 -18a9 8 97 1 0 -2 18M1875 172a10 6 1 1 0 -21 -0a10 6 1 1 0 21 0M1579 176a9 8 168 1 0 18 -4a9 8 168 1 0 -18 4M1833 630a12 6 166 1 0 23 -5a12 6 166 1 0 -23 5M1599 142a16 6 170 1 0 31 -5a16 6 170 1 0 -31 5M1683 557a16 5 166 1 0 31 -8a16 5 166 1 0 -31 8M1884 520a13 9 8 1 0 -25 -3a13 9 8 1 0 25 3M1933 663a8 6 42 1 0 -12 -11a8 6 42 1 0 12 11M1865 543a10 9 161 1 0 20 -7a10 9 161 1 0 -20 7M1785 176a10 12 177 1 0 20 -1a10 12 177 1 0 -20 1M1553 576a14 8 117 1 0 13 -26a14 8 117 1 0 -13 26M1673 419a14 10 41 1 0 -22 -19a14 10 41 1 0 22 19M1605 656a15 4 127 1 0 18 -24a15 4 127 1 0 -18 24M1911 714a11 11 119 1 0 11 -20a11 11 119 1 0 -11 20M1568 553a9 8 5 1 0 -19 -2a9 8 5 1 0 19 2M1758 68a17 5 142 1 0 27 -21a17 5 142 1 0 -27 21M1694 435a7 5 103 1 0 3 -14a7 5 103 1 0 -3 14M1805 107a8 10 157 1 0 15 -6a8 10 157 1 0 -15 6M1834 151a9 9 143 1 0 14 -10a9 9 143 1 0 -14 10M1589 494a16 10 162 1 0 30 -10a16 10 162 1 0 -30 10M1751 695a7 7 66 1 0 -6 -13a7 7 66 1 0 6 13M1729 752a15 10 171 1 0 30 -5a15 10 171 1 0 -30 5M1825 355a16 10 177 1 0 32 -2a16 10 177 1 0 -32 2M1807 204a13 9 35 1 0 -21 -15a13 9 35 1 0 21 15M1774 147a11 10 56 1 0 -13 -19a11 10 56 1 0 13 19M1751 754a15 7 60 1 0 -15 -26a15 7 60 1 0 15 26M1607 485a10 6 50 1 0 -13 -16a10 6 50 1 0 13 16M1818 382a9 5 70 1 0 -6 -17a9 5 70 1 0 6 17M1690 188a16 11 132 1 0 22 -24a16 11 132 1 0 -22 24M1747 173a8 7 79 1 0 -3 -15a8 7 79 1 0 3 15M1795 754a13 4 92 1 0 1 -26a13 4 92 1 0 -1 26M1801 665a15 11 176 1 0 30 -2a15 11 176 1 0 -30 2M1756 763a17 8 86 1 0 -3 -34a17 8 86 1 0 3 34M1830 325a12 10 177 1 0 23 -1a12 10 177 1 0 -23 1M1819 336a10 8 77 1 0 -5 -19a10 8 77 1 0 5 19M1649 530a15 7 176 1 0 30 -2a15 7 176 1 0 -30 2M1768 114a13 11 116 1 0 11 -23a13 11 116 1 0 -11 23M1715 426a15 12 168 1 0 29 -6a15 12 168 1 0 -29 6M1908 767a8 7 176 1 0 16 -1a8 7 176 1 0 -16 1M1809 529a16 5 146 1 0 27 -18a16 5 146 1 0 -27 18M1724 185a10 4 82 1 0 -3 -20a10 4 82 1 0 3 20M1901 470a12 10 39 1 0 -18 -15a12 10 39 1 0 18 15M1572 190a12 9 157 1 0 23 -10a12 9 157 1 0 -23 10M1621 172a17 9 19 1 0 -32 -11a17 9 19 1 0 32 11M1891 480a7 8 174 1 0 14 -1a7 8 174 1 0 -14 1M1664 151a9 10 96 1 0 2 -17a9 10 96 1 0 -2 17M1743 515a10 8 82 1 0 -3 -20a10 8 82 1 0 3 20M1758 553a8 5 13 1 0 -16 -3a8 5 13 1 0 16 3M1643 495a9 7 39 1 0 -14 -11a9 7 39 1 0 14 11M1818 278a16 5 108 1 0 10 -31a16 5 108 1 0 -10 31M1872 658a15 10 114 1 0 12 -28a15 10 114 1 0 -12 28M1704 694a9 9 83 1 0 -2 -19a9 9 83 1 0 2 19M1837 593a16 9 129 1 0 20 -25a16 9 129 1 0 -20 25M1771 79a16 6 94 1 0 2 -31a16 6 94 1 0 -2 31M1689 407a12 5 168 1 0 24 -5a12 5 168 1 0 -24 5M1937 673a10 7 71 1 0 -7 -20a10 7 71 1 0 7 20M1883 649a9 8 12 1 0 -18 -4a9 8 12 1 0 18 4M1792 484a17 10 64 1 0 -14 -30a17 10 64 1 0 14 30M1654 122a18 7 58 1 0 -19 -30a18 7 58 1 0 19 30M1669 588a10 8 79 1 0 -4 -20a10 8 79 1 0 4 20M1843 434a14 6 86 1 0 -2 -28a14 6 86 1 0 2 28M1879 668a13 11 23 1 0 -24 -10a13 11 23 1 0 24 10M1723 351a18 8 147 1 0 30 -19a18 8 147 1 0 -30 19M1845 392a8 5 10 1 0 -16 -3a8 5 10 1 0 16 3M1739 157a11 8 85 1 0 -2 -21a11 8 85 1 0 2 21M1786 389a15 12 51 1 0 -18 -23a15 12 51 1 0 18 23M1886 207a10 9 46 1 0 -13 -14a10 9 46 1 0 13 14M1832 526a10 10 60 1 0 -10 -17a10 10 60 1 0 10 17M1742 492a11 8 177 1 0 23 -1a11 8 177 1 0 -23 1M1844 652a11 11 63 1 0 -10 -19a11 11 63 1 0 10 19M1898 829a11 5 88 1 0 -1 -22a11 5 88 1 0 1 22M1662 81a17 9 114 1 0 14 -31a17 9 114 1 0 -14 31M1727 493a9 8 123 1 0 9 -14a9 8 123 1 0 -9 14M1756 333a13 5 160 1 0 24 -9a13 5 160 1 0 -24 9M1751 551a16 11 148 1 0 27 -17a16 11 148 1 0 -27 17M1771 589a10 5 17 1 0 -20 -6a10 5 17 1 0 20 6M1575 575a10 8 42 1 0 -15 -13a10 8 42 1 0 15 13M1806 783a12 4 85 1 0 -2 -24a12 4 85 1 0 2 24M1802 305a16 9 157 1 0 30 -12a16 9 157 1 0 -30 12M1919 697a16 4 130 1 0 20 -24a16 4 130 1 0 -20 24M1788 458a12 4 26 1 0 -21 -10a12 4 26 1 0 21 10M1785 190a12 8 110 1 0 8 -23a12 8 110 1 0 -8 23M1745 791a11 12 136 1 0 16 -16a11 12 136 1 0 -16 16M1587 480a7 9 175 1 0 15 -1a7 9 175 1 0 -15 1M1744 165a18 11 163 1 0 34 -10a18 11 163 1 0 -34 10M1713 115a16 9 166 1 0 31 -8a16 9 166 1 0 -31 8M1849 779a17 9 135 1 0 24 -24a17 9 135 1 0 -24 24M1856 414a11 8 73 1 0 -6 -21a11 8 73 1 0 6 21M1759 557a18 11 87 1 0 -2 -35a18 11 87 1 0 2 35M1819 253a18 6 17 1 0 -34 -10a18 6 17 1 0 34 10M1914 458a17 12 118 1 0 16 -30a17 12 118 1 0 -16 30M1714 640a11 12 107 1 0 7 -22a11 12 107 1 0 -7 22M1699 435a10 6 110 1 0 7 -18a10 6 110 1 0 -7 18M1831 462a14 11 107 1 0 8 -27a14 11 107 1 0 -8 27M1632 113a17 5 140 1 0 26 -22a17 5 140 1 0 -26 22M1812 341a8 7 46 1 0 -12 -12a8 7 46 1 0 12 12M1748 347a11 5 29 1 0 -20 -11a11 5 29 1 0 20 11M1971 772a17 11 32 1 0 -29 -18a17 11 32 1 0 29 18M1799 679a9 7 102 1 0 4 -17a9 7 102 1 0 -4 17M1638 144a11 5 101 1 0 5 -23a11 5 101 1 0 -5 23M1654 490a12 5 26 1 0 -22 -11a12 5 26 1 0 22 11M1906 568a14 7 1 1 0 -28 -1a14 7 1 1 0 28 1M1870 249a10 11 137 1 0 15 -14a10 11 137 1 0 -15 14M1850 697a9 11 83 1 0 -2 -17a9 11 83 1 0 2 17M1816 471a13 8 132 1 0 18 -20a13 8 132 1 0 -18 20M1787 588a13 11 11 1 0 -25 -5a13 11 11 1 0 25 5M1749 200a15 9 124 1 0 17 -25a15 9 124 1 0 -17 25M1639 520a7 10 45 1 0 -11 -10a7 10 45 1 0 11 10M1853 480a17 11 74 1 0 -10 -33a17 11 74 1 0 10 33M1831 285a9 5 152 1 0 15 -8a9 5 152 1 0 -15 8M1899 801a10 5 91 1 0 0 -21a10 5 91 1 0 -0 21M1853 292a12 4 177 1 0 24 -1a12 4 177 1 0 -24 1M1730 198a12 10 113 1 0 10 -23a12 10 113 1 0 -10 23M1849 562a14 5 175 1 0 29 -3a14 5 175 1 0 -29 3M1665 536a12 9 77 1 0 -5 -23a12 9 77 1 0 5 23M1808 337a10 5 95 1 0 2 -20a10 5 95 1 0 -2 20M1744 661a7 6 109 1 0 5 -14a7 6 109 1 0 -5 14M1664 87a16 5 8 1 0 -31 -4a16 5 8 1 0 31 4M1977 669a17 9 40 1 0 -25 -22a17 9 40 1 0 25 22M1944 776a18 6 140 1 0 27 -23a18 6 140 1 0 -27 23M1805 169a17 4 121 1 0 17 -29a17 4 121 1 0 -17 29M1899 554a11 8 113 1 0 9 -20a11 8 113 1 0 -9 20M1735 626a18 12 120 1 0 18 -31a18 12 120 1 0 -18 31M1837 371a15 11 29 1 0 -26 -15a15 11 29 1 0 26 15M1628 144a17 5 143 1 0 27 -20a17 5 143 1 0 -27 20M1671 143a15 5 110 1 0 10 -29a15 5 110 1 0 -10 29M1928 700a10 8 110 1 0 7 -19a10 8 110 1 0 -7 19M1822 344a14 7 180 1 0 29 -0a14 7 180 1 0 -29 0M1734 651a15 9 95 1 0 3 -30a15 9 95 1 0 -3 30M1808 404a13 9 156 1 0 24 -11a13 9 156 1 0 -24 11M1715 482a15 9 56 1 0 -17 -25a15 9 56 1 0 17 25M1860 447a17 10 167 1 0 33 -8a17 10 167 1 0 -33 8M1910 528a14 9 11 1 0 -27 -5a14 9 11 1 0 27 5M1915 546a11 7 70 1 0 -8 -21a11 7 70 1 0 8 21M1896 665a14 10 123 1 0 16 -24a14 10 123 1 0 -16 24M1598 535a9 11 9 1 0 -19 -3a9 11 9 1 0 19 3M1850 175a12 9 78 1 0 -5 -24a12 9 78 1 0 5 24M1895 523a17 9 6 1 0 -33 -3a17 9 6 1 0 33 3M1557 525a14 4 155 1 0 25 -12a14 4 155 1 0 -25 12M1849 614a9 7 76 1 0 -4 -17a9 7 76 1 0 4 17M1765 534a10 8 172 1 0 20 -3a10 8 172 1 0 -20 3M1739 378a15 7 102 1 0 6 -30a15 7 102 1 0 -6 30M1677 683a10 11 42 1 0 -15 -13a10 11 42 1 0 15 13M1815 336a8 4 53 1 0 -9 -12a8 4 53 1 0 9 12M1764 329a8 4 139 1 0 12 -11a8 4 139 1 0 -12 11M1714 417a9 8 16 1 0 -18 -5a9 8 16 1 0 18 5M1672 138a13 7 127 1 0 16 -20a13 7 127 1 0 -16 20M1809 717a10 7 93 1 0 1 -20a10 7 93 1 0 -1 20M1632 617a15 4 57 1 0 -16 -25a15 4 57 1 0 16 25M1804 386a13 9 78 1 0 -5 -24a13 9 78 1 0 5 24M1631 461a10 9 169 1 0 20 -4a10 9 169 1 0 -20 4M1707 517a13 7 148 1 0 21 -14a13 7 148 1 0 -21 14M1807 479a16 7 126 1 0 19 -26a16 7 126 1 0 -19 26M1922 664a7 4 27 1 0 -13 -7a7 4 27 1 0 13 7M1929 606a13 8 130 1 0 16 -20a13 8 130 1 0 -16 20M1719 65a11 10 162 1 0 22 -7a11 10 162 1 0 -22 7M1826 225a7 5 128 1 0 9 -12a7 5 128 1 0 -9 12M1892 800a13 8 24 1 0 -25 -11a13 8 24 1 0 25 11M1825 101a13 5 9 1 0 -26 -4a13 5 9 1 0 26 4M1745 165a11 7 136 1 0 16 -16a11 7 136 1 0 -16 16M1782 768a13 8 58 1 0 -14 -22a13 8 58 1 0 14 22M1616 651a11 6 46 1 0 -15 -16a11 6 46 1 0 15 16M1634 654a16 11 128 1 0 20 -25a16 11 128 1 0 -20 25M1956 712a16 5 132 1 0 21 -23a16 5 132 1 0 -21 23M1708 136a10 9 150 1 0 17 -10a10 9 150 1 0 -17 10M1772 181a5 6 4 1 0 -10 -1a5 6 4 1 0 10 1M1767 101a4 4 78 1 0 -2 -8a4 4 78 1 0 2 8M1646 135a5 6 60 1 0 -5 -9a5 6 60 1 0 5 9M1785 93a8 5 156 1 0 15 -7a8 5 156 1 0 -15 7M1788 96a7 6 105 1 0 4 -14a7 6 105 1 0 -4 14M1682 164a8 4 179 1 0 15 -0a8 4 179 1 0 -15 0M1637 47a7 6 62 1 0 -7 -13a7 6 62 1 0 7 13M1635 84a8 5 50 1 0 -11 -13a8 5 50 1 0 11 13M1732 114a6 7 107 1 0 4 -11a6 7 107 1 0 -4 11M1627 178a5 4 89 1 0 -0 -9a5 4 89 1 0 0 9M1799 161a7 4 118 1 0 6 -12a7 4 118 1 0 -6 12M1800 49a5 7 117 1 0 5 -9a5 7 117 1 0 -5 9M1698 135a5 4 138 1 0 8 -7a5 4 138 1 0 -8 7M1652 78a8 7 6 1 0 -16 -2a8 7 6 1 0 16 2M1695 181a6 4 104 1 0 3 -11a6 4 104 1 0 -3 11M1606 152a8 4 139 1 0 13 -11a8 4 139 1 0 -13 11M1784 98a5 4 92 1 0 0 -10a5 4 92 1 0 -0 10M1676 203a5 4 73 1 0 -3 -9a5 4 73 1 0 3 9M1586 146a8 7 24 1 0 -15 -7a8 7 24 1 0 15 7M1822 173a6 4 46 1 0 -9 -9a6 4 46 1 0 9 9M1624 73a5 6 32 1 0 -8 -5a5 6 32 1 0 8 5M1778 95a5 6 90 1 0 -0 -11a5 6 90 1 0 0 11M1835 190a8 7 87 1 0 -1 -16a8 7 87 1 0 1 16M1596 145a5 5 69 1 0 -4 -10a5 5 69 1 0 4 10M1769 164a9 3 115 1 0 7 -16a9 3 115 1 0 -7 16M1632 181a5 5 22 1 0 -10 -4a5 5 22 1 0 10 4M1809 205a8 5 158 1 0 15 -6a8 5 158 1 0 -15 6M1679 83a6 6 136 1 0 9 -9a6 6 136 1 0 -9 9M1639 159a4 7 148 1 0 8 -5a4 7 148 1 0 -8 5M1746 71a5 6 101 1 0 2 -10a5 6 101 1 0 -2 10M1788 123a7 6 25 1 0 -12 -6a7 6 25 1 0 12 6M1828 114a8 3 59 1 0 -9 -14a8 3 59 1 0 9 14M1682 169a5 6 148 1 0 8 -5a5 6 148 1 0 -8 5M1783 81a8 6 156 1 0 15 -7a8 6 156 1 0 -15 7M1605 163a7 5 143 1 0 11 -9a7 5 143 1 0 -11 9M1627 49a7 4 122 1 0 8 -12a7 4 122 1 0 -8 12M1652 184a4 5 15 1 0 -8 -2a4 5 15 1 0 8 2M1816 136a8 3 93 1 0 1 -15a8 3 93 1 0 -1 15M1762 164a6 5 139 1 0 8 -7a6 5 139 1 0 -8 7M1643 177a5 4 73 1 0 -3 -9a5 4 73 1 0 3 9M1762 107a9 7 85 1 0 -2 -17a9 7 85 1 0 2 17M1627 192a5 7 112 1 0 4 -10a5 7 112 1 0 -4 10"/><path d="M1789 153a18 11 110 1 0 12 -34a18 11 110 1 0 -12 34M1712 443a16 7 10 1 0 -32 -6a16 7 10 1 0 32 6M1796 666a7 5 86 1 0 -1 -14a7 5 86 1 0 1 14M1876 763a10 9 82 1 0 -3 -20a10 9 82 1 0 3 20M1865 175a17 4 128 1 0 21 -27a17 4 128 1 0 -21 27M1720 223a17 6 30 1 0 -29 -17a17 6 30 1 0 29 17M1858 399a10 11 135 1 0 14 -14a10 11 135 1 0 -14 14M1825 597a15 5 124 1 0 16 -25a15 5 124 1 0 -16 25M1912 831a9 10 53 1 0 -11 -15a9 10 53 1 0 11 15M1921 571a11 6 138 1 0 16 -15a11 6 138 1 0 -16 15M1769 588a10 12 47 1 0 -14 -14a10 12 47 1 0 14 14M1640 604a8 11 170 1 0 15 -3a8 11 170 1 0 -15 3M1812 718a12 9 124 1 0 13 -20a12 9 124 1 0 -13 20M1671 133a12 7 105 1 0 7 -24a12 7 105 1 0 -7 24M1764 391a9 7 92 1 0 1 -17a9 7 92 1 0 -1 17M1820 237a18 8 6 1 0 -35 -3a18 8 6 1 0 35 3M1752 181a15 11 86 1 0 -2 -29a15 11 86 1 0 2 29M1705 416a10 7 77 1 0 -4 -19a10 7 77 1 0 4 19M1877 749a12 5 35 1 0 -20 -14a12 5 35 1 0 20 14M1727 663a17 7 88 1 0 -1 -34a17 7 88 1 0 1 34M1855 623a16 5 165 1 0 31 -8a16 5 165 1 0 -31 8M1717 215a8 7 86 1 0 -1 -16a8 7 86 1 0 1 16M1642 169a12 4 149 1 0 21 -13a12 4 149 1 0 -21 13M1871 751a12 8 171 1 0 25 -4a12 8 171 1 0 -25 4M1646 90a8 9 157 1 0 14 -6a8 9 157 1 0 -14 6M1836 655a9 7 24 1 0 -17 -7a9 7 24 1 0 17 7M1587 89a18 10 132 1 0 24 -27a18 10 132 1 0 -24 27M1631 514a13 11 104 1 0 6 -25a13 11 104 1 0 -6 25M1896 676a16 9 77 1 0 -7 -31a16 9 77 1 0 7 31M1722 724a16 4 22 1 0 -29 -12a16 4 22 1 0 29 12M1649 203a18 8 73 1 0 -10 -34a18 8 73 1 0 10 34M1860 783a16 7 60 1 0 -16 -28a16 7 60 1 0 16 28M1857 581a15 7 74 1 0 -8 -28a15 7 74 1 0 8 28M1663 439a17 5 42 1 0 -26 -23a17 5 42 1 0 26 23M1853 816a9 12 70 1 0 -6 -17a9 12 70 1 0 6 17M1712 370a17 5 158 1 0 31 -12a17 5 158 1 0 -31 12M1966 558a16 7 21 1 0 -29 -11a16 7 21 1 0 29 11M1638 461a7 6 40 1 0 -11 -9a7 6 40 1 0 11 9M1947 602a14 7 15 1 0 -26 -7a14 7 15 1 0 26 7M1689 669a17 9 167 1 0 33 -7a17 9 167 1 0 -33 7M1765 236a13 9 172 1 0 25 -3a13 9 172 1 0 -25 3M1784 767a8 9 32 1 0 -13 -8a8 9 32 1 0 13 8M1867 708a10 5 77 1 0 -4 -19a10 5 77 1 0 4 19M1727 538a12 8 7 1 0 -23 -3a12 8 7 1 0 23 3M1788 324a12 7 52 1 0 -15 -18a12 7 52 1 0 15 18M1697 713a14 11 88 1 0 -1 -29a14 11 88 1 0 1 29M1712 187a16 12 30 1 0 -27 -16a16 12 30 1 0 27 16M1877 176a16 10 130 1 0 20 -24a16 10 130 1 0 -20 24M1689 207a11 11 171 1 0 22 -4a11 11 171 1 0 -22 4M1796 455a13 7 25 1 0 -23 -11a13 7 25 1 0 23 11M1646 625a15 6 20 1 0 -28 -10a15 6 20 1 0 28 10M1728 560a7 5 22 1 0 -14 -6a7 5 22 1 0 14 6M1750 703a13 10 156 1 0 25 -11a13 10 156 1 0 -25 11M1882 732a12 11 173 1 0 24 -3a12 11 173 1 0 -24 3M1873 299a14 11 34 1 0 -22 -15a14 11 34 1 0 22 15M1849 753a7 11 87 1 0 -1 -15a7 11 87 1 0 1 15M1762 317a18 9 13 1 0 -34 -8a18 9 13 1 0 34 8M1794 312a17 10 88 1 0 -1 -34a17 10 88 1 0 1 34M1685 413a14 9 80 1 0 -5 -28a14 9 80 1 0 5 28M1596 596a15 5 87 1 0 -2 -29a15 5 87 1 0 2 29M1868 395a15 5 16 1 0 -28 -8a15 5 16 1 0 28 8M1735 445a9 5 148 1 0 15 -10a9 5 148 1 0 -15 10M1668 595a8 6 125 1 0 9 -13a8 6 125 1 0 -9 13M1859 839a15 9 65 1 0 -13 -28a15 9 65 1 0 13 28M1864 817a14 8 115 1 0 11 -24a14 8 115 1 0 -11 24M1688 91a8 10 86 1 0 -1 -15a8 10 86 1 0 1 15M1949 629a10 4 137 1 0 15 -14a10 4 137 1 0 -15 14M1817 671a10 12 43 1 0 -15 -14a10 12 43 1 0 15 14M1821 643a11 5 3 1 0 -21 -1a11 5 3 1 0 21 1M1724 662a16 4 150 1 0 28 -16a16 4 150 1 0 -28 16M1636 544a9 10 53 1 0 -11 -14a9 10 53 1 0 11 14M1826 141a11 6 9 1 0 -22 -4a11 6 9 1 0 22 4M1806 447a17 4 33 1 0 -28 -18a17 4 33 1 0 28 18M1582 544a12 9 135 1 0 17 -17a12 9 135 1 0 -17 17M1865 646a12 7 110 1 0 8 -22a12 7 110 1 0 -8 22M1642 517a11 8 75 1 0 -6 -22a11 8 75 1 0 6 22M1641 460a13 11 104 1 0 7 -26a13 11 104 1 0 -7 26M1929 621a12 8 93 1 0 1 -24a12 8 93 1 0 -1 24M1823 381a11 6 53 1 0 -13 -17a11 6 53 1 0 13 17M1565 602a11 5 156 1 0 20 -9a11 5 156 1 0 -20 9M1666 446a13 9 53 1 0 -16 -20a13 9 53 1 0 16 20M1966 783a14 9 19 1 0 -26 -9a14 9 19 1 0 26 9M1795 252a11 7 126 1 0 13 -19a11 7 126 1 0 -13 19M1792 512a14 9 105 1 0 7 -27a14 9 105 1 0 -7 27M1717 589a16 11 140 1 0 24 -20a16 11 140 1 0 -24 20M1948 765a13 8 23 1 0 -24 -10a13 8 23 1 0 24 10M1643 183a16 4 9 1 0 -32 -5a16 4 9 1 0 32 5M1584 574a8 10 156 1 0 15 -7a8 10 156 1 0 -15 7M1682 468a13 9 83 1 0 -3 -26a13 9 83 1 0 3 26M1701 386a9 6 132 1 0 12 -14a9 6 132 1 0 -12 14M1817 516a15 5 130 1 0 19 -23a15 5 130 1 0 -19 23M1717 486a18 8 153 1 0 32 -16a18 8 153 1 0 -32 16M1911 711a17 12 118 1 0 16 -31a17 12 118 1 0 -16 31M1614 614a16 11 110 1 0 11 -30a16 11 110 1 0 -11 30M1835 313a8 9 74 1 0 -4 -15a8 9 74 1 0 4 15M1816 351a14 12 8 1 0 -29 -4a14 12 8 1 0 29 4M1661 205a11 9 14 1 0 -22 -6a11 9 14 1 0 22 6M1730 416a13 10 178 1 0 27 -1a13 10 178 1 0 -27 1M1685 647a9 4 101 1 0 3 -18a9 4 101 1 0 -3 18M1917 501a9 8 27 1 0 -16 -8a9 8 27 1 0 16 8M1856 571a13 4 178 1 0 27 -1a13 4 178 1 0 -27 1M1815 448a12 9 87 1 0 -1 -25a12 9 87 1 0 1 25M1830 666a9 10 42 1 0 -14 -12a9 10 42 1 0 14 12M1773 740a11 4 134 1 0 15 -15a11 4 134 1 0 -15 15M1878 636a11 9 122 1 0 12 -19a11 9 122 1 0 -12 19M1781 723a14 4 141 1 0 22 -18a14 4 141 1 0 -22 18M1647 92a12 12 150 1 0 21 -12a12 12 150 1 0 -21 12M1789 587a17 5 3 1 0 -34 -2a17 5 3 1 0 34 2M1557 576a12 8 139 1 0 19 -16a12 8 139 1 0 -19 16M1759 703a10 9 82 1 0 -3 -19a10 9 82 1 0 3 19M1931 792a13 8 166 1 0 25 -6a13 8 166 1 0 -25 6M1915 815a17 12 67 1 0 -13 -32a17 12 67 1 0 13 32M1609 109a17 5 75 1 0 -9 -32a17 5 75 1 0 9 32M1658 527a11 11 65 1 0 -9 -20a11 11 65 1 0 9 20M1658 543a9 6 126 1 0 10 -14a9 6 126 1 0 -10 14M1905 586a13 9 20 1 0 -24 -9a13 9 20 1 0 24 9M1707 621a10 6 11 1 0 -19 -4a10 6 11 1 0 19 4M1928 672a12 6 173 1 0 23 -3a12 6 173 1 0 -23 3M1740 479a12 6 5 1 0 -24 -2a12 6 5 1 0 24 2M1895 845a11 8 70 1 0 -8 -21a11 8 70 1 0 8 21M1880 580a10 8 142 1 0 17 -13a10 8 142 1 0 -17 13M1731 729a15 5 54 1 0 -18 -24a15 5 54 1 0 18 24M1702 555a9 9 37 1 0 -14 -10a9 9 37 1 0 14 10M1822 371a16 5 67 1 0 -13 -29a16 5 67 1 0 13 29M1616 552a13 6 41 1 0 -20 -18a13 6 41 1 0 20 18M1797 256a11 6 17 1 0 -21 -7a11 6 17 1 0 21 7M1692 77a17 8 118 1 0 15 -29a17 8 118 1 0 -15 29M1684 556a13 9 174 1 0 26 -3a13 9 174 1 0 -26 3M1828 794a14 12 49 1 0 -18 -21a14 12 49 1 0 18 21M1713 577a15 10 161 1 0 28 -10a15 10 161 1 0 -28 10M1863 775a18 4 86 1 0 -3 -35a18 4 86 1 0 3 35M1677 69a14 11 54 1 0 -17 -23a14 11 54 1 0 17 23M1802 372a10 6 26 1 0 -18 -9a10 6 26 1 0 18 9M1845 427a14 6 70 1 0 -9 -26a14 6 70 1 0 9 26M1873 733a10 9 159 1 0 18 -7a10 9 159 1 0 -18 7M1723 513a16 11 19 1 0 -30 -10a16 11 19 1 0 30 10M1819 545a9 9 121 1 0 9 -15a9 9 121 1 0 -9 15M1817 155a12 6 174 1 0 23 -2a12 6 174 1 0 -23 2M1954 712a10 10 67 1 0 -8 -18a10 10 67 1 0 8 18M1838 352a12 6 104 1 0 6 -23a12 6 104 1 0 -6 23M1902 619a7 9 74 1 0 -4 -14a7 9 74 1 0 4 14M1729 147a17 5 19 1 0 -31 -11a17 5 19 1 0 31 11M1792 549a8 6 162 1 0 16 -5a8 6 162 1 0 -16 5M1597 550a9 7 158 1 0 17 -7a9 7 158 1 0 -17 7M1844 662a14 11 15 1 0 -26 -7a14 11 15 1 0 26 7M1925 627a12 11 91 1 0 0 -23a12 11 91 1 0 -0 23M1764 343a9 12 138 1 0 14 -12a9 12 138 1 0 -14 12M1834 241a15 8 76 1 0 -7 -30a15 8 76 1 0 7 30M1626 521a18 9 179 1 0 36 -1a18 9 179 1 0 -36 1M1723 418a16 4 8 1 0 -33 -5a16 4 8 1 0 33 5M1951 764a13 5 98 1 0 3 -26a13 5 98 1 0 -3 26M1859 354a16 4 42 1 0 -24 -21a16 4 42 1 0 24 21M1603 537a10 6 70 1 0 -6 -18a10 6 70 1 0 6 18M1841 692a12 5 15 1 0 -23 -6a12 5 15 1 0 23 6M1961 666a12 7 121 1 0 12 -20a12 7 121 1 0 -12 20M1934 574a11 11 52 1 0 -14 -18a11 11 52 1 0 14 18M1925 656a10 11 149 1 0 17 -10a10 11 149 1 0 -17 10M1859 472a14 11 14 1 0 -28 -7a14 11 14 1 0 28 7M1612 76a13 12 60 1 0 -13 -23a13 12 60 1 0 13 23M1777 493a13 5 105 1 0 7 -25a13 5 105 1 0 -7 25M1628 623a15 10 159 1 0 27 -10a15 10 159 1 0 -27 10M1795 364a16 5 98 1 0 4 -31a16 5 98 1 0 -4 31M1756 122a10 9 96 1 0 2 -19a10 9 96 1 0 -2 19M1639 631a8 11 67 1 0 -7 -16a8 11 67 1 0 7 16M1625 172a7 5 75 1 0 -4 -13a7 5 75 1 0 4 13M1759 43a6 3 106 1 0 3 -11a6 3 106 1 0 -3 11M1589 144a6 6 39 1 0 -9 -7a6 6 39 1 0 9 7M1580 94a4 5 111 1 0 3 -8a4 5 111 1 0 -3 8M1601 98a5 5 24 1 0 -9 -4a5 5 24 1 0 9 4M1665 176a6 5 67 1 0 -5 -12a6 5 67 1 0 5 12M1690 72a5 6 81 1 0 -2 -10a5 6 81 1 0 2 10M1824 125a7 4 70 1 0 -5 -13a7 4 70 1 0 5 13M1612 159a5 5 121 1 0 5 -8a5 5 121 1 0 -5 8M1677 178a8 4 146 1 0 14 -9a8 4 146 1 0 -14 9M1817 170a5 5 2 1 0 -11 -0a5 5 2 1 0 11 0M1698 96a6 4 20 1 0 -12 -4a6 4 20 1 0 12 4M1757 203a7 7 86 1 0 -1 -14a7 7 86 1 0 1 14M1718 175a6 4 167 1 0 12 -3a6 4 167 1 0 -12 3M1697 202a7 5 113 1 0 5 -12a7 5 113 1 0 -5 12M1603 69a7 3 161 1 0 13 -4a7 3 161 1 0 -13 4M1798 227a8 5 57 1 0 -8 -13a8 5 57 1 0 8 13M1775 95a6 5 152 1 0 11 -6a6 5 152 1 0 -11 6M1787 221a6 5 121 1 0 7 -11a6 5 121 1 0 -7 11M1814 183a4 5 103 1 0 2 -8a4 5 103 1 0 -2 8M1607 179a7 4 165 1 0 13 -4a7 4 165 1 0 -13 4M1630 90a4 6 24 1 0 -8 -3a4 6 24 1 0 8 3M1735 134a6 4 46 1 0 -9 -9a6 4 46 1 0 9 9M1805 202a7 5 102 1 0 3 -13a7 5 102 1 0 -3 13M1830 111a5 6 174 1 0 10 -1a5 6 174 1 0 -10 1M1775 80a7 4 52 1 0 -9 -11a7 4 52 1 0 9 11M1662 172a9 7 98 1 0 2 -17a9 7 98 1 0 -2 17M1712 175a7 6 128 1 0 8 -11a7 6 128 1 0 -8 11M1758 80a9 6 75 1 0 -5 -17a9 6 75 1 0 5 17M1837 166a6 3 134 1 0 8 -9a6 3 134 1 0 -8 9M1664 222a6 5 0 1 0 -12 -0a6 5 0 1 0 12 0"/><path d="M1672 565a9 5 10 1 0 -18 -3a9 5 10 1 0 18 3M1727 552a10 5 115 1 0 8 -18a10 5 115 1 0 -8 18M1772 518a8 10 99 1 0 3 -16a8 10 99 1 0 -3 16M1863 307a15 7 55 1 0 -17 -24a15 7 55 1 0 17 24M1788 205a18 5 49 1 0 -23 -27a18 5 49 1 0 23 27M1722 189a14 11 97 1 0 3 -28a14 11 97 1 0 -3 28M1937 745a16 6 159 1 0 29 -11a16 6 159 1 0 -29 11M1772 781a9 8 11 1 0 -18 -4a9 8 11 1 0 18 4M1666 631a7 8 30 1 0 -13 -7a7 8 30 1 0 13 7M1872 754a9 7 163 1 0 17 -5a9 7 163 1 0 -17 5M1748 335a16 12 84 1 0 -3 -31a16 12 84 1 0 3 31M1659 514a14 7 41 1 0 -22 -19a14 7 41 1 0 22 19M1669 192a16 6 99 1 0 5 -31a16 6 99 1 0 -5 31M1884 453a15 7 111 1 0 11 -28a15 7 111 1 0 -11 28M1649 192a8 9 36 1 0 -12 -9a8 9 36 1 0 12 9M1673 132a11 9 79 1 0 -4 -22a11 9 79 1 0 4 22M1715 403a15 12 144 1 0 24 -17a15 12 144 1 0 -24 17M1860 828a15 6 47 1 0 -20 -22a15 6 47 1 0 20 22M1893 499a15 10 134 1 0 21 -22a15 10 134 1 0 -21 22M1926 627a13 7 27 1 0 -23 -11a13 7 27 1 0 23 11M1766 364a7 11 44 1 0 -10 -10a7 11 44 1 0 10 10M1798 171a13 9 132 1 0 17 -19a13 9 132 1 0 -17 19M1718 633a10 11 64 1 0 -9 -18a10 11 64 1 0 9 18M1796 458a13 11 130 1 0 16 -20a13 11 130 1 0 -16 20M1896 832a16 11 121 1 0 16 -27a16 11 121 1 0 -16 27M1749 122a17 8 98 1 0 5 -33a17 8 98 1 0 -5 33M1920 704a7 11 13 1 0 -14 -3a7 11 13 1 0 14 3M1650 682a10 7 121 1 0 10 -17a10 7 121 1 0 -10 17M1885 242a18 11 48 1 0 -24 -26a18 11 48 1 0 24 26M1941 651a15 10 101 1 0 5 -29a15 10 101 1 0 -5 29M1903 602a14 6 102 1 0 6 -27a14 6 102 1 0 -6 27M1789 494a11 11 76 1 0 -5 -22a11 11 76 1 0 5 22M1825 311a10 6 173 1 0 19 -2a10 6 173 1 0 -19 2M1581 121a12 10 90 1 0 -0 -25a12 10 90 1 0 0 25M1595 598a9 5 118 1 0 9 -16a9 5 118 1 0 -9 16M1749 347a17 10 88 1 0 -1 -34a17 10 88 1 0 1 34M1869 212a8 10 8 1 0 -17 -2a8 10 8 1 0 17 2M1737 676a10 6 86 1 0 -2 -20a10 6 86 1 0 2 20M1808 485a17 11 8 1 0 -34 -5a17 11 8 1 0 34 5M1908 701a16 11 175 1 0 31 -3a16 11 175 1 0 -31 3M1967 758a10 11 55 1 0 -11 -16a10 11 55 1 0 11 16M1715 477a14 5 22 1 0 -26 -11a14 5 22 1 0 26 11M1800 768a17 4 72 1 0 -11 -33a17 4 72 1 0 11 33M1754 568a13 5 34 1 0 -22 -15a13 5 34 1 0 22 15M1838 676a11 10 78 1 0 -5 -21a11 10 78 1 0 5 21M1561 532a18 9 132 1 0 24 -27a18 9 132 1 0 -24 27M1712 198a13 6 59 1 0 -13 -22a13 6 59 1 0 13 22M1824 600a11 4 94 1 0 2 -23a11 4 94 1 0 -2 23M1636 603a17 8 2 1 0 -35 -1a17 8 2 1 0 35 1M1614 182a14 12 112 1 0 11 -27a14 12 112 1 0 -11 27M1799 757a13 11 5 1 0 -26 -2a13 11 5 1 0 26 2M1694 586a16 10 24 1 0 -29 -13a16 10 24 1 0 29 13M1728 65a12 8 158 1 0 22 -9a12 8 158 1 0 -22 9M1898 676a16 7 169 1 0 32 -6a16 7 169 1 0 -32 6M1667 78a9 5 57 1 0 -10 -15a9 5 57 1 0 10 15M1625 155a11 8 176 1 0 21 -2a11 8 176 1 0 -21 2M1651 496a18 8 176 1 0 36 -3a18 8 176 1 0 -36 3M1631 649a12 12 21 1 0 -23 -9a12 12 21 1 0 23 9M1927 807a18 4 101 1 0 7 -35a18 4 101 1 0 -7 35M1864 410a15 12 54 1 0 -18 -24a15 12 54 1 0 18 24M1851 703a11 9 66 1 0 -9 -19a11 9 66 1 0 9 19M1951 658a15 12 117 1 0 14 -28a15 12 117 1 0 -14 28M1708 406a17 11 75 1 0 -9 -34a17 11 75 1 0 9 34M1730 602a8 12 33 1 0 -13 -9a8 12 33 1 0 13 9M1980 761a18 11 45 1 0 -25 -26a18 11 45 1 0 25 26M1841 518a17 7 53 1 0 -20 -27a17 7 53 1 0 20 27M1919 754a13 8 85 1 0 -2 -26a13 8 85 1 0 2 26M1585 172a10 6 28 1 0 -17 -9a10 6 28 1 0 17 9M1823 384a9 12 156 1 0 16 -7a9 12 156 1 0 -16 7M1796 273a10 5 69 1 0 -7 -19a10 5 69 1 0 7 19M1628 566a8 6 96 1 0 2 -15a8 6 96 1 0 -2 15M1894 667a13 11 18 1 0 -25 -8a13 11 18 1 0 25 8M1768 604a10 5 80 1 0 -3 -19a10 5 80 1 0 3 19M1684 103a13 10 172 1 0 27 -4a13 10 172 1 0 -27 4M1899 592a16 7 170 1 0 32 -6a16 7 170 1 0 -32 6M1815 226a8 8 133 1 0 10 -11a8 8 133 1 0 -10 11M1762 455a8 8 8 1 0 -15 -2a8 8 8 1 0 15 2M1888 463a18 8 98 1 0 5 -35a18 8 98 1 0 -5 35M1738 491a17 5 77 1 0 -7 -33a17 5 77 1 0 7 33M1809 500a15 9 15 1 0 -29 -8a15 9 15 1 0 29 8M1834 305a9 12 133 1 0 13 -14a9 12 133 1 0 -13 14M1837 326a14 6 80 1 0 -5 -27a14 6 80 1 0 5 27M1781 604a15 5 43 1 0 -23 -21a15 5 43 1 0 23 21M1800 262a14 8 113 1 0 11 -25a14 8 113 1 0 -11 25M1767 152a12 8 56 1 0 -14 -21a12 8 56 1 0 14 21M1624 193a11 8 178 1 0 23 -1a11 8 178 1 0 -23 1M1719 91a8 6 4 1 0 -15 -1a8 6 4 1 0 15 1M1730 506a11 5 170 1 0 22 -4a11 5 170 1 0 -22 4M1696 127a14 4 45 1 0 -20 -20a14 4 45 1 0 20 20M1729 498a18 6 127 1 0 21 -28a18 6 127 1 0 -21 28M1769 368a12 4 161 1 0 23 -8a12 4 161 1 0 -23 8M1887 474a12 10 43 1 0 -17 -16a12 10 43 1 0 17 16M1706 579a17 6 21 1 0 -31 -12a17 6 21 1 0 31 12M1825 475a17 6 175 1 0 34 -3a17 6 175 1 0 -34 3M1941 790a18 7 87 1 0 -2 -36a18 7 87 1 0 2 36M1647 531a15 6 66 1 0 -12 -28a15 6 66 1 0 12 28M1740 754a14 9 141 1 0 21 -18a14 9 141 1 0 -21 18M1725 431a10 9 162 1 0 20 -6a10 9 162 1 0 -20 6M1703 160a12 4 144 1 0 20 -14a12 4 144 1 0 -20 14M1824 287a17 12 150 1 0 30 -17a17 12 150 1 0 -30 17M1740 395a11 8 91 1 0 0 -21a11 8 91 1 0 -0 21M1938 613a14 9 42 1 0 -21 -18a14 9 42 1 0 21 18M1769 210a8 6 38 1 0 -13 -10a8 6 38 1 0 13 10M1740 53a9 8 142 1 0 15 -12a9 8 142 1 0 -15 12M1725 615a14 11 133 1 0 20 -21a14 11 133 1 0 -20 21M1888 196a9 8 29 1 0 -16 -9a9 8 29 1 0 16 9M1924 566a10 12 61 1 0 -10 -17a10 12 61 1 0 10 17M1774 137a16 5 75 1 0 -8 -31a16 5 75 1 0 8 31M1729 449a17 8 31 1 0 -29 -17a17 8 31 1 0 29 17M1835 440a16 4 24 1 0 -29 -13a16 4 24 1 0 29 13M1819 682a13 11 135 1 0 18 -19a13 11 135 1 0 -18 19M1854 539a18 5 156 1 0 33 -14a18 5 156 1 0 -33 14M1818 784a16 9 5 1 0 -32 -3a16 9 5 1 0 32 3M1921 803a14 5 133 1 0 19 -20a14 5 133 1 0 -19 20M1617 180a9 7 25 1 0 -16 -8a9 7 25 1 0 16 8M1800 504a8 10 54 1 0 -9 -13a8 10 54 1 0 9 13M1640 98a7 5 151 1 0 13 -7a7 5 151 1 0 -13 7M1661 531a9 7 124 1 0 10 -14a9 7 124 1 0 -10 14M1609 116a10 8 44 1 0 -15 -14a10 8 44 1 0 15 14M1925 660a16 12 57 1 0 -17 -26a16 12 57 1 0 17 26M1590 583a13 9 16 1 0 -26 -8a13 9 16 1 0 26 8M1726 201a14 6 163 1 0 26 -8a14 6 163 1 0 -26 8M1881 416a9 11 68 1 0 -7 -16a9 11 68 1 0 7 16M1701 33a8 4 152 1 0 15 -8a8 4 152 1 0 -15 8M1715 542a11 6 10 1 0 -22 -4a11 6 10 1 0 22 4M1787 172a11 5 17 1 0 -20 -6a11 5 17 1 0 20 6M1761 383a15 5 118 1 0 14 -26a15 5 118 1 0 -14 26M1745 244a15 11 127 1 0 18 -24a15 11 127 1 0 -18 24M1579 600a15 11 178 1 0 30 -1a15 11 178 1 0 -30 1M1781 73a17 9 4 1 0 -35 -2a17 9 4 1 0 35 2M1692 420a16 12 116 1 0 14 -29a16 12 116 1 0 -14 29M1777 727a15 5 145 1 0 24 -17a15 5 145 1 0 -24 17M1829 415a11 11 124 1 0 13 -19a11 11 124 1 0 -13 19M1717 106a14 8 146 1 0 23 -16a14 8 146 1 0 -23 16M1622 513a14 8 45 1 0 -19 -19a14 8 45 1 0 19 19M1830 623a10 4 170 1 0 20 -4a10 4 170 1 0 -20 4M1940 669a15 9 149 1 0 26 -16a15 9 149 1 0 -26 16M1610 561a9 11 27 1 0 -15 -8a9 11 27 1 0 15 8M1894 629a14 8 6 1 0 -28 -3a14 8 6 1 0 28 3M1732 138a13 4 148 1 0 22 -13a13 4 148 1 0 -22 13M1769 193a9 9 150 1 0 16 -9a9 9 150 1 0 -16 9M1755 330a14 8 31 1 0 -24 -14a14 8 31 1 0 24 14M1837 372a13 5 97 1 0 3 -26a13 5 97 1 0 -3 26M1753 183a17 12 31 1 0 -28 -17a17 12 31 1 0 28 17M1791 121a10 8 79 1 0 -4 -20a10 8 79 1 0 4 20M1677 682a13 9 153 1 0 24 -12a13 9 153 1 0 -24 12M1770 682a10 6 136 1 0 15 -14a10 6 136 1 0 -15 14M1679 131a15 8 74 1 0 -9 -30a15 8 74 1 0 9 30M1561 541a15 11 89 1 0 -1 -31a15 11 89 1 0 1 31M1690 380a17 12 106 1 0 9 -32a17 12 106 1 0 -9 32M1697 516a7 6 154 1 0 13 -6a7 6 154 1 0 -13 6M1765 351a11 5 140 1 0 18 -15a11 5 140 1 0 -18 15M1867 184a8 9 17 1 0 -16 -5a8 9 17 1 0 16 5M1786 327a10 6 6 1 0 -21 -2a10 6 6 1 0 21 2M1864 229a16 8 166 1 0 31 -8a16 8 166 1 0 -31 8M1739 460a16 12 12 1 0 -32 -7a16 12 12 1 0 32 7M1712 199a7 4 126 1 0 8 -11a7 4 126 1 0 -8 11M1794 207a6 4 33 1 0 -9 -6a6 4 33 1 0 9 6M1716 133a4 6 28 1 0 -7 -4a4 6 28 1 0 7 4M1605 64a7 6 9 1 0 -13 -2a7 6 9 1 0 13 2M1810 72a9 3 30 1 0 -15 -9a9 3 30 1 0 15 9M1797 80a7 4 66 1 0 -5 -12a7 4 66 1 0 5 12M1626 65a9 4 100 1 0 3 -17a9 4 100 1 0 -3 17M1653 167a4 7 152 1 0 7 -4a4 7 152 1 0 -7 4M1599 97a6 6 67 1 0 -5 -11a6 6 67 1 0 5 11M1613 140a8 6 136 1 0 11 -11a8 6 136 1 0 -11 11M1713 112a6 5 100 1 0 2 -13a6 5 100 1 0 -2 13M1720 26a5 4 5 1 0 -10 -1a5 4 5 1 0 10 1M1701 65a5 6 99 1 0 2 -10a5 6 99 1 0 -2 10M1669 115a5 4 51 1 0 -6 -7a5 4 51 1 0 6 7M1751 205a7 6 103 1 0 3 -14a7 6 103 1 0 -3 14M1662 200a7 6 154 1 0 12 -6a7 6 154 1 0 -12 6M1809 148a5 7 95 1 0 1 -9a5 7 95 1 0 -1 9M1649 139a5 4 24 1 0 -9 -4a5 4 24 1 0 9 4M1687 87a7 6 159 1 0 13 -5a7 6 159 1 0 -13 5M1638 88a5 5 20 1 0 -10 -4a5 5 20 1 0 10 4M1620 125a8 6 105 1 0 4 -16a8 6 105 1 0 -4 16M1702 114a7 6 145 1 0 12 -9a7 6 145 1 0 -12 9M1784 175a8 3 41 1 0 -13 -11a8 3 41 1 0 13 11M1712 60a7 5 175 1 0 15 -1a7 5 175 1 0 -15 1M1754 161a6 7 141 1 0 10 -8a6 7 141 1 0 -10 8M1723 90a5 6 124 1 0 6 -9a5 6 124 1 0 -6 9M1609 131a7 6 23 1 0 -13 -5a7 6 23 1 0 13 5M1850 158a6 4 110 1 0 4 -12a6 4 110 1 0 -4 12M1762 40a5 4 34 1 0 -8 -5a5 4 34 1 0 8 5M1626 57a5 4 35 1 0 -9 -6a5 4 35 1 0 9 6M1805 109a5 4 144 1 0 8 -6a5 4 144 1 0 -8 6M1732 49a9 5 138 1 0 13 -12a9 5 138 1 0 -13 12M1601 63a8 6 0 1 0 -16 -0a8 6 0 1 0 16 0"/><path d="M1818 449a13 5 98 1 0 4 -26a13 5 98 1 0 -4 26M1842 315a11 10 12 1 0 -22 -5a11 10 12 1 0 22 5M1678 565a9 9 49 1 0 -12 -14a9 9 49 1 0 12 14M1895 637a15 7 105 1 0 8 -29a15 7 105 1 0 -8 29M1823 256a9 10 64 1 0 -8 -16a9 10 64 1 0 8 16M1726 525a15 9 128 1 0 18 -24a15 9 128 1 0 -18 24M1803 381a10 9 153 1 0 17 -9a10 9 153 1 0 -17 9M1755 214a7 6 41 1 0 -11 -10a7 6 41 1 0 11 10M1807 191a11 7 74 1 0 -6 -21a11 7 74 1 0 6 21M1807 382a12 5 56 1 0 -14 -21a12 5 56 1 0 14 21M1903 548a8 10 150 1 0 14 -8a8 10 150 1 0 -14 8M1764 81a17 4 120 1 0 18 -30a17 4 120 1 0 -18 30M1874 665a12 6 34 1 0 -20 -14a12 6 34 1 0 20 14M1633 112a9 4 95 1 0 2 -17a9 4 95 1 0 -2 17M1833 812a13 8 159 1 0 25 -9a13 8 159 1 0 -25 9M1672 433a8 5 125 1 0 9 -13a8 5 125 1 0 -9 13M1896 531a9 6 104 1 0 4 -17a9 6 104 1 0 -4 17M1793 544a7 8 44 1 0 -10 -10a7 8 44 1 0 10 10M1652 207a7 8 7 1 0 -15 -2a7 8 7 1 0 15 2M1609 590a11 6 11 1 0 -23 -4a11 6 11 1 0 23 4M1685 95a13 5 44 1 0 -19 -18a13 5 44 1 0 19 18M1771 85a8 5 168 1 0 15 -3a8 5 168 1 0 -15 3M1741 679a9 5 161 1 0 16 -6a9 5 161 1 0 -16 6M1743 541a10 9 41 1 0 -15 -13a10 9 41 1 0 15 13M1617 197a8 7 14 1 0 -16 -4a8 7 14 1 0 16 4M1829 297a14 5 26 1 0 -26 -13a14 5 26 1 0 26 13M1880 808a10 5 114 1 0 8 -18a10 5 114 1 0 -8 18M1788 107a16 10 14 1 0 -30 -8a16 10 14 1 0 30 8M1891 571a12 8 112 1 0 9 -23a12 8 112 1 0 -9 23M1892 212a7 10 44 1 0 -10 -10a7 10 44 1 0 10 10M1886 541a12 5 30 1 0 -21 -12a12 5 30 1 0 21 12M1798 483a12 11 138 1 0 18 -16a12 11 138 1 0 -18 16M1786 467a7 11 110 1 0 5 -14a7 11 110 1 0 -5 14M1854 467a7 8 41 1 0 -11 -9a7 8 41 1 0 11 9M1796 665a7 10 112 1 0 5 -13a7 10 112 1 0 -5 13M1781 122a16 9 171 1 0 32 -5a16 9 171 1 0 -32 5M1715 443a11 7 130 1 0 14 -17a11 7 130 1 0 -14 17M1863 669a12 11 156 1 0 21 -9a12 11 156 1 0 -21 9M1927 711a9 8 120 1 0 9 -16a9 8 120 1 0 -9 16M1830 574a11 7 119 1 0 11 -19a11 7 119 1 0 -11 19M1833 261a16 10 127 1 0 19 -26a16 10 127 1 0 -19 26M1782 503a11 10 126 1 0 13 -17a11 10 126 1 0 -13 17M1886 580a15 9 144 1 0 25 -18a15 9 144 1 0 -25 18M1664 141a15 5 105 1 0 8 -29a15 5 105 1 0 -8 29M1734 464a18 10 114 1 0 14 -32a18 10 114 1 0 -14 32M1749 116a11 9 32 1 0 -18 -11a11 9 32 1 0 18 11M1852 661a13 6 40 1 0 -19 -16a13 6 40 1 0 19 16M1647 595a11 5 178 1 0 23 -1a11 5 178 1 0 -23 1M1693 64a14 5 110 1 0 10 -27a14 5 110 1 0 -10 27M1643 188a13 5 102 1 0 5 -24a13 5 102 1 0 -5 24M1768 450a10 5 124 1 0 12 -17a10 5 124 1 0 -12 17M1822 671a15 12 49 1 0 -20 -23a15 12 49 1 0 20 23M1860 283a14 8 110 1 0 9 -26a14 8 110 1 0 -9 26M1819 583a10 10 67 1 0 -8 -18a10 10 67 1 0 8 18M1720 195a12 9 99 1 0 4 -25a12 9 99 1 0 -4 25M1673 446a12 12 161 1 0 23 -8a12 12 161 1 0 -23 8M1776 249a12 8 167 1 0 24 -6a12 8 167 1 0 -24 6M1676 510a8 8 176 1 0 15 -1a8 8 176 1 0 -15 1M1731 634a15 5 169 1 0 29 -5a15 5 169 1 0 -29 5M1861 609a12 5 47 1 0 -16 -17a12 5 47 1 0 16 17M1758 549a13 7 99 1 0 4 -27a13 7 99 1 0 -4 27M1978 678a14 8 51 1 0 -17 -22a14 8 51 1 0 17 22M1881 611a16 9 175 1 0 32 -3a16 9 175 1 0 -32 3M1617 488a9 5 151 1 0 16 -9a9 5 151 1 0 -16 9M1743 631a15 8 159 1 0 27 -10a15 8 159 1 0 -27 10M1875 588a8 10 7 1 0 -15 -2a8 10 7 1 0 15 2M1625 213a11 5 165 1 0 21 -6a11 5 165 1 0 -21 6M1701 161a14 10 71 1 0 -9 -26a14 10 71 1 0 9 26M1679 703a12 8 110 1 0 8 -22a12 8 110 1 0 -8 22M1961 695a9 9 109 1 0 6 -17a9 9 109 1 0 -6 17M1622 154a13 8 93 1 0 1 -26a13 8 93 1 0 -1 26M1724 110a17 9 110 1 0 12 -33a17 9 110 1 0 -12 33M1676 139a14 4 95 1 0 2 -28a14 4 95 1 0 -2 28M1663 162a11 10 51 1 0 -14 -17a11 10 51 1 0 14 17M1866 374a15 10 108 1 0 10 -29a15 10 108 1 0 -10 29M1693 126a13 7 39 1 0 -21 -17a13 7 39 1 0 21 17M1744 624a9 5 71 1 0 -6 -18a9 5 71 1 0 6 18M1726 407a15 4 63 1 0 -14 -27a15 4 63 1 0 14 27M1799 767a13 10 162 1 0 24 -8a13 10 162 1 0 -24 8M1788 547a8 9 144 1 0 12 -9a8 9 144 1 0 -12 9M1827 612a10 9 90 1 0 0 -19a10 9 90 1 0 -0 19M1764 76a10 7 175 1 0 19 -2a10 7 175 1 0 -19 2M1963 738a17 4 1 1 0 -34 -1a17 4 1 1 0 34 1M1806 187a15 11 149 1 0 25 -15a15 11 149 1 0 -25 15M1817 408a12 7 158 1 0 22 -9a12 7 158 1 0 -22 9M1743 494a12 12 60 1 0 -12 -21a12 12 60 1 0 12 21M1905 528a7 6 161 1 0 14 -5a7 6 161 1 0 -14 5M1584 515a13 5 1 1 0 -25 -1a13 5 1 1 0 25 1M1763 123a11 7 16 1 0 -21 -6a11 7 16 1 0 21 6M1766 594a17 8 167 1 0 33 -7a17 8 167 1 0 -33 7M1841 192a14 8 18 1 0 -27 -9a14 8 18 1 0 27 9M1729 560a7 7 122 1 0 8 -12a7 7 122 1 0 -8 12M1733 154a11 11 153 1 0 19 -10a11 11 153 1 0 -19 10M1908 701a12 11 29 1 0 -20 -11a12 11 29 1 0 20 11M1926 756a15 11 145 1 0 24 -17a15 11 145 1 0 -24 17M1835 603a10 5 70 1 0 -7 -19a10 5 70 1 0 7 19M1780 403a8 10 56 1 0 -9 -13a8 10 56 1 0 9 13M1767 76a11 11 14 1 0 -21 -5a11 11 14 1 0 21 5M1954 653a10 10 133 1 0 14 -15a10 10 133 1 0 -14 15M1646 174a11 10 175 1 0 21 -2a11 10 175 1 0 -21 2M1664 173a10 4 131 1 0 13 -14a10 4 131 1 0 -13 14M1737 440a15 12 9 1 0 -29 -4a15 12 9 1 0 29 4M1658 507a17 5 48 1 0 -22 -25a17 5 48 1 0 22 25M1732 184a13 6 169 1 0 26 -5a13 6 169 1 0 -26 5M1700 128a14 6 14 1 0 -27 -7a14 6 14 1 0 27 7M1786 273a16 10 70 1 0 -10 -29a16 10 70 1 0 10 29M1711 509a17 9 122 1 0 18 -30a17 9 122 1 0 -18 30M1866 809a15 5 75 1 0 -8 -29a15 5 75 1 0 8 29M1704 101a10 5 147 1 0 17 -11a10 5 147 1 0 -17 11M1863 299a12 10 85 1 0 -2 -23a12 10 85 1 0 2 23M1733 64a10 12 165 1 0 18 -5a10 12 165 1 0 -18 5M1838 261a18 10 18 1 0 -34 -11a18 10 18 1 0 34 11M1650 164a17 9 142 1 0 27 -21a17 9 142 1 0 -27 21M1843 272a14 10 87 1 0 -1 -27a14 10 87 1 0 1 27M1819 220a17 11 140 1 0 26 -22a17 11 140 1 0 -26 22M1612 526a18 5 99 1 0 5 -35a18 5 99 1 0 -5 35M1880 628a9 10 113 1 0 7 -17a9 10 113 1 0 -7 17M1717 683a12 10 110 1 0 8 -23a12 10 110 1 0 -8 23M1781 379a11 10 11 1 0 -22 -4a11 10 11 1 0 22 4M1671 712a8 9 140 1 0 12 -10a8 9 140 1 0 -12 10M1769 413a8 8 23 1 0 -15 -6a8 8 23 1 0 15 6M1826 356a15 9 132 1 0 20 -22a15 9 132 1 0 -20 22M1713 677a12 10 120 1 0 12 -21a12 10 120 1 0 -12 21M1673 79a10 4 42 1 0 -15 -13a10 4 42 1 0 15 13M1821 459a8 6 21 1 0 -15 -6a8 6 21 1 0 15 6M1809 587a16 11 135 1 0 23 -23a16 11 135 1 0 -23 23M1695 547a13 10 135 1 0 19 -19a13 10 135 1 0 -19 19M1618 492a13 7 95 1 0 2 -26a13 7 95 1 0 -2 26M1799 570a13 8 68 1 0 -10 -24a13 8 68 1 0 10 24M1912 811a9 9 121 1 0 9 -16a9 9 121 1 0 -9 16M1843 627a18 6 154 1 0 32 -16a18 6 154 1 0 -32 16M1796 688a15 4 118 1 0 14 -26a15 4 118 1 0 -14 26M1932 510a10 11 89 1 0 -0 -21a10 11 89 1 0 0 21M1956 721a17 8 125 1 0 19 -28a17 8 125 1 0 -19 28M1852 448a13 8 144 1 0 22 -16a13 8 144 1 0 -22 16M1842 553a11 11 133 1 0 15 -16a11 11 133 1 0 -15 16M1776 147a6 3 52 1 0 -7 -9a6 3 52 1 0 7 9M1800 200a8 5 111 1 0 6 -16a8 5 111 1 0 -6 16M1669 140a7 4 147 1 0 11 -7a7 4 147 1 0 -11 7M1766 201a9 6 48 1 0 -12 -13a9 6 48 1 0 12 13M1704 170a9 7 43 1 0 -13 -12a9 7 43 1 0 13 12M1633 165a6 6 31 1 0 -10 -6a6 6 31 1 0 10 6M1628 97a8 6 71 1 0 -6 -16a8 6 71 1 0 6 16M1734 96a7 5 6 1 0 -15 -1a7 5 6 1 0 15 1M1672 173a6 5 40 1 0 -10 -8a6 5 40 1 0 10 8M1662 128a5 3 93 1 0 0 -10a5 3 93 1 0 -0 10M1702 54a8 6 22 1 0 -15 -6a8 6 22 1 0 15 6M1698 69a6 4 86 1 0 -1 -12a6 4 86 1 0 1 12M1622 188a4 7 88 1 0 -0 -9a4 7 88 1 0 0 9M1720 205a8 7 22 1 0 -15 -6a8 7 22 1 0 15 6M1620 148a8 7 81 1 0 -3 -16a8 7 81 1 0 3 16M1728 81a6 7 41 1 0 -9 -7a6 7 41 1 0 9 7M1659 110a6 5 78 1 0 -3 -12a6 5 78 1 0 3 12M1699 133a4 3 68 1 0 -3 -8a4 3 68 1 0 3 8M1811 127a5 5 37 1 0 -7 -6a5 5 37 1 0 7 6M1778 166a6 4 81 1 0 -2 -12a6 4 81 1 0 2 12M1627 154a7 6 38 1 0 -12 -9a7 6 38 1 0 12 9M1716 95a6 6 59 1 0 -7 -11a6 6 59 1 0 7 11M1789 181a7 7 61 1 0 -7 -13a7 7 61 1 0 7 13M1648 202a6 5 141 1 0 9 -7a6 5 141 1 0 -9 7M1708 75a5 7 93 1 0 1 -10a5 7 93 1 0 -1 10M1723 117a7 5 168 1 0 15 -3a7 5 168 1 0 -15 3M1721 70a6 5 109 1 0 4 -11a6 5 109 1 0 -4 11M1695 127a8 3 66 1 0 -7 -15a8 3 66 1 0 7 15M1647 52a5 3 82 1 0 -1 -10a5 3 82 1 0 1 10M1784 106a7 6 73 1 0 -4 -13a7 6 73 1 0 4 13M1599 137a7 6 149 1 0 13 -8a7 6 149 1 0 -13 8"/></g><filter id="shp2" x="1519" y="-9" width="495" height="879" filterUnits="userSpaceOnUse"><feGaussianBlur in="SourceAlpha" stdDeviation="3.0" result="b"/><feComponentTransfer in="b" result="s"><feFuncA type="linear" slope="12" intercept="-3.2"/></feComponentTransfer><feFlood flood-color="#fff"/><feComposite in2="s" operator="in"/></filter><mask id="msk2" maskUnits="userSpaceOnUse" x="1519" y="-9" width="495" height="879"><use href="#molE2" filter="url(#shp2)"/></mask></defs>
<use href="#molE2" filter="url(#iso2)"/>
<g opacity="0.55"><path d="M1727 52l-5 0 -2 -4 2 -4 5 0 2 4zl-6 -4M1789 59l-2 2 -3 -1 -1 -3 2 -2 3 1zl-4 -4M1776 107l-4 0 -1 -3 1 -3 3 0 2 3zl-6 -4M1623 146l-3 2 -3 -2 0 -3 3 -2 3 1zl-5 -2M1652 194l-4 1 -3 -3 1 -5 4 -1 4 4zl-5 7M1762 41l-2 3 -4 0 -2 -4 2 -3 4 0zl0 -5M1688 134l-3 1 -2 -2 0 -3 3 -1 3 2zl8 -2M1598 141l-4 1 -3 -4 2 -3 4 -1 2 4zl-7 -3M1642 172l-3 3 -4 -2 -1 -4 3 -2 4 1zl-4 2M1667 135l-3 3 -4 -1 -1 -4 3 -3 4 1zl-2 -7M1677 106l-3 2 -4 -1 0 -4 3 -2 3 1zl-6 -2M1784 165l-2 3 -4 -1 -1 -3 2 -3 4 1zl-2 -4M1751 68l-5 1 -3 -3 1 -4 5 -1 3 3zl7 -6M1722 89l-3 1 -3 -2 1 -3 3 -2 3 2zl-3 -7M1707 38l-3 1 -3 -2 1 -3 3 -2 3 3zl-4 -8M1631 138l-3 3 -5 -1 -1 -5 4 -3 4 1zl4 3M1802 152l-3 4 -4 0 -2 -4 3 -4 4 0zl-5 -5M1743 135l-4 1 -3 -3 1 -4 4 -1 3 3zl7 5M1760 98l-4 0 -2 -3 1 -4 5 -1 2 4zl-2 -7M1759 185l-4 1 -2 -2 1 -3 3 -1 2 2zl3 -6M1708 40l-5 0 -3 -3 2 -5 5 0 3 3zl5 -7M1790 114l-3 4 -5 -1 -2 -5 3 -4 5 1zl6 3M1655 206l-4 1 -3 -2 1 -4 4 -2 3 3zl0 6M1670 141l-4 2 -4 -3 0 -5 5 -2 4 3zl0 -8M1759 198l-3 2 -3 -1 -1 -4 3 -2 4 2zl-4 -1M1766 86l-3 1 -3 -2 0 -4 4 -1 3 2zl-4 -5M1658 80l-5 1 -3 -4 2 -4 5 -1 3 4zl-5 -3M1798 56l-3 4 -4 -2 -1 -4 3 -3 4 1zl-1 -6M1616 153l-5 0 -3 -4 2 -4 5 -1 3 4zl-3 -4M1797 92l-3 4 -4 -1 -1 -4 2 -3 5 0zl-1 -7M1607 111l-3 3 -5 -1 0 -5 3 -3 4 2zl3 8M1628 193l-4 2 -3 -3 0 -4 4 -2 4 3zl3 -7M1735 115l-3 0 -2 -3 1 -3 4 0 2 2zl1 -7M1713 192l-3 2 -3 -1 -1 -4 3 -2 3 2zl1 6M1723 180l-5 0 -2 -4 2 -3 4 -1 3 4zl-2 -4M1603 175l-3 3 -4 0 -2 -4 3 -3 4 0zl-3 8M1687 123l-3 2 -3 -1 0 -4 2 -1 3 1zl1 -8M1655 71l-5 0 -2 -4 2 -4 4 0 3 4zl3 6M1705 90l-2 2 -3 -1 -1 -3 2 -2 3 0zl-4 -7M1683 121l-4 1 -3 -2 1 -3 3 -2 3 2zl-7 -1M1779 124l-5 1 -3 -3 1 -4 4 -1 4 3zl-2 4M1724 165l-3 2 -4 -1 0 -4 3 -3 4 2zl-6 -1M1729 54l-1 3 -4 -1 -1 -2 2 -3 3 0zl-2 4M1655 113l-4 0 -2 -3 2 -3 3 0 2 3zl1 4M1612 117l-2 3 -4 -1 -1 -3 3 -3 3 1zl-6 1M1642 114l-4 1 -3 -2 1 -4 4 -1 3 3zl2 -5M1738 118l-4 2 -3 -2 1 -4 3 -2 3 2zl-5 2M1663 83l-3 2 -3 -2 0 -4 3 -1 3 2zl-2 -7M1592 89l-3 1 -2 -2 1 -3 3 -1 2 2zl-7 0M1628 122l-4 1 -3 -4 2 -4 5 -1 2 4zl-6 4M1780 128l-4 0 -2 -3 1 -3 4 -1 3 3zl-1 5M1625 90l-4 1 -4 -3 1 -4 5 -1 3 2zl-6 -1M1746 206l-2 2 -3 -2 0 -3 2 -2 3 2zl4 0M1722 117l-3 3 -5 -1 -1 -5 4 -3 5 1zl-7 -2M1630 125l-3 2 -3 -2 0 -3 3 -2 3 2zl-5 -1M1710 72l-3 2 -4 -1 0 -4 3 -2 3 1zl0 6M1797 92l-3 2 -3 -2 0 -3 3 -2 3 2zl-6 2M1806 80l-4 4 -5 -1 -1 -5 3 -4 5 1zl-8 2M1806 77l-2 2 -3 -1 -1 -4 3 -2 3 2zl-5 -1M1645 191l-4 1 -2 -4 2 -4 4 0 2 4zl8 0M1737 125l-4 1 -2 -2 2 -3 3 -1 2 2zl-3 -3M1636 178l-2 3 -5 0 -2 -5 3 -3 5 0zl2 -3M1769 80l-5 1 -3 -3 1 -5 4 -2 4 4zl5 -5M1747 177l-3 1 -3 -2 0 -4 4 -2 3 3zl0 4M1697 127l-3 3 -4 -2 0 -4 3 -2 3 2zl2 -4M1630 122l-3 1 -3 -3 1 -4 4 0 3 3zl6 1M1604 164l-5 0 -2 -3 2 -4 4 0 3 3zl4 3M1587 142l-3 2 -2 -1 0 -4 2 -1 3 1zl-3 -3M1767 116l-3 4 -4 0 -2 -4 2 -4 5 0zl2 -5M1635 143l-3 1 -3 -2 0 -4 4 -1 3 2zl-4 5M1804 59l-2 3 -3 -1 -1 -3 3 -3 3 1zl-5 4M1644 199l-3 2 -4 -2 0 -5 4 -2 4 3zl-6 1M1688 98l-3 2 -3 -2 -1 -3 3 -2 3 1zl-5 2M1623 171l-2 1 -3 -2 0 -3 3 -1 3 2zl1 6M1805 105l-4 1 -3 -2 0 -4 4 -2 3 3zl6 -2M1612 178l-2 4 -4 0 -2 -4 2 -3 4 0zl-3 -8M1695 133l-2 4 -5 0 -2 -5 2 -4 5 1zl-8 -1M1622 62l-3 2 -3 -3 0 -3 3 -2 3 3zl7 -3M1718 121l-2 3 -5 0 -1 -4 3 -3 4 0zl6 6M1691 183l-2 4 -5 0 -2 -4 2 -4 5 0zl-8 -2M1645 50l-4 1 -4 -3 1 -5 5 -1 3 4zl-3 5M1778 33l-3 3 -3 -2 -1 -4 3 -2 4 2zl-5 2M1604 169l-3 2 -3 -2 -1 -4 4 -2 3 2zl5 2M1725 54l-3 3 -4 -1 -1 -4 3 -3 4 1zl-5 -1M1741 173l-4 3 -4 -2 -1 -5 4 -3 4 2zl4 8M1591 125l-4 1 -3 -4 1 -4 5 -1 3 4zl-4 5M1680 71l-2 3 -4 0 -1 -4 2 -3 3 1zl7 3M1652 118l-4 2 -4 -2 1 -5 4 -1 3 2zl-2 -6M1635 57l-4 1 -3 -4 2 -4 4 -1 3 4zl6 2M1687 86l-4 2 -4 -3 1 -4 4 -2 4 3zl0 -6M1694 156l-3 4 -5 0 -1 -5 3 -4 5 1zl3 4M1675 95l-3 2 -3 -2 0 -3 3 -2 3 2zl-2 6M1612 190l-3 2 -4 -2 -1 -5 4 -2 4 2zl2 -5M1733 206l-4 2 -4 -2 0 -5 4 -2 4 2zl-7 -1M1670 191l-4 2 -3 -1 -1 -4 3 -3 4 2zl-8 2M1620 64l-4 3 -4 -1 -1 -5 3 -3 5 2zl3 -4M1639 135l-2 3 -4 0 -1 -3 2 -3 3 0zl5 0M1799 156l-2 2 -4 -2 0 -3 3 -2 3 1zl-2 5M1711 208l-3 3 -5 -1 -1 -4 3 -4 5 1zl4 -6M1604 140l-3 1 -3 -1 0 -4 3 -1 3 2zl2 3M1598 74l-2 3 -4 0 -2 -3 2 -4 4 0zl3 -4M1623 176l-3 2 -3 -1 -1 -3 3 -2 3 1zl-1 -9M1644 181l-1 2 -3 0 -2 -3 2 -2 3 0zl-3 -4M1667 190l-2 2 -3 0 -1 -3 2 -3 3 0zl5 4M1612 127l-1 3 -3 0 -2 -3 2 -3 3 0zl-4 -4M1608 185l-3 2 -3 -2 0 -4 3 -1 3 2zl-3 5M1800 111l-2 3 -3 0 -2 -3 2 -3 3 0zl-3 4M1745 66l-2 4 -4 0 -2 -4 3 -3 4 0zl3 7M1594 92l-3 2 -4 -2 1 -4 3 -2 3 2zl8 0M1615 144l-3 2 -3 -1 0 -4 3 -2 3 2zl5 -7M1701 86l-2 2 -4 -1 0 -3 2 -2 3 1zl-6 1" stroke="#c8b08a" stroke-width="1.5" fill="none" stroke-linecap="round" stroke-linejoin="round"/><path d="M1721 48l-0 3M1729 151l-1 -3M1633 112l1 -3M1769 187l-1 3M1586 132l-3 -1M1591 138l-1 3M1707 188l3 -0M1665 128l-3 1M1671 104l3 -2M1754 109l-3 -2M1755 87l-2 3M1612 108l2 -3M1635 141l-3 -1M1742 142l3 2M1793 124l3 2M1694 87l-3 -1M1758 91l1 3M1762 179l-1 -3M1814 144l-2 3M1695 91l3 -1M1655 212l-0 3M1670 133l3 0M1755 197l-3 2M1762 81l3 -0M1797 50l3 -0M1796 85l-1 3M1734 106l-3 2M1652 136l3 -2M1682 105l-2 -3M1746 76l-3 1M1684 137l3 2M1720 142l-3 1M1714 198l1 -3M1760 186l3 1M1721 176l0 -3M1817 120l-1 3M1730 106l-3 -1M1688 115l-3 2M1658 77l3 -0M1754 81l2 3M1634 89l-0 3M1740 204l-2 3M1786 95l3 0M1656 117l3 -1M1660 130l1 -3M1606 118l3 -2M1644 109l3 -2M1760 77l-1 -3M1661 76l1 3M1740 118l-2 3M1675 41l3 0M1622 126l2 3M1675 144l2 3M1715 115l-2 3M1710 74l-3 1M1610 96l2 -3M1742 112l3 -2M1710 78l-3 1M1596 167l3 1M1791 94l-3 -1M1734 79l1 3M1668 73l3 -1M1798 82l-3 0M1801 76l-2 3M1653 191l-3 1M1638 175l-0 3M1774 75l-2 -3M1775 141l-2 -3M1747 181l-1 3M1714 67l-2 2M1669 151l2 3M1724 172l-1 -3M1753 70l1 3M1671 162l3 1M1769 111l2 3M1652 77l-2 -3M1799 63l2 3M1705 68l3 -1M1649 129l1 -3M1776 187l3 1M1811 103l3 0M1679 77l1 -3M1687 132l3 -1M1782 49l1 3M1629 59l3 -2M1724 127l-3 -1M1692 105l-3 0M1683 181l2 -3M1642 55l3 -0M1609 171l-3 1M1706 205l3 -1M1646 79l-1 -3M1698 158l3 0M1742 116l2 3M1634 192l2 3M1615 174l-3 -1M1735 193l-2 -3M1650 112l-3 2M1691 39l3 0M1690 140l3 1M1641 59l1 3M1687 80l-3 1M1752 178l-3 -2M1726 205l-3 -0M1662 193l1 3M1603 125l-3 1M1644 135l3 0M1657 112l-3 -2M1653 123l3 1M1701 194l2 3M1592 115l3 -2M1797 161l-1 -3M1606 143l2 -3M1616 99l-3 -1M1622 167l-3 2M1703 147l-1 -3M1608 123l3 -2M1797 115l1 3M1748 73l2 3M1733 83l3 2M1783 116l3 1M1620 137l1 -3M1827 87l-3 -2" stroke="#e3201b" stroke-width="2.0" fill="none" stroke-linecap="round" stroke-linejoin="round"/><path d="M1672 154l-3 2 -4 -2 0 -4 3 -2 4 2zl-2 5M1641 107l-3 1 -3 -2 1 -4 4 -1 2 3zl-8 5M1665 135l-3 4 -4 0 -3 -5 3 -4 5 1zl4 -3M1635 93l-2 2 -3 -1 -1 -3 2 -2 3 1zl1 -7M1595 133l-3 3 -5 -1 -1 -5 4 -3 4 1zl-9 -1M1670 81l-4 1 -3 -3 1 -4 4 -1 3 3zl2 -5M1668 178l-4 0 -2 -3 2 -4 4 0 2 3zl6 5M1755 151l-4 0 -2 -3 1 -4 4 0 3 3zl7 -3M1752 118l-4 1 -3 -4 2 -4 4 0 3 3zl2 -9M1744 170l-3 0 -2 -2 1 -3 4 0 1 2zl-6 -4M1587 115l-2 3 -4 0 -1 -4 2 -2 4 0zl-6 -4M1789 35l-3 2 -3 -2 0 -4 3 -2 3 2zl-1 5M1754 168l-3 1 -3 -2 1 -4 4 -1 2 3zl-4 -2M1748 143l-3 2 -3 -1 0 -4 2 -2 3 2zl-6 -1M1795 129l-2 3 -3 -1 -1 -3 2 -2 3 0zl-2 -5M1686 85l-3 4 -4 0 -3 -4 3 -4 5 0zl8 2M1805 114l-4 3 -4 -3 1 -4 4 -3 4 3zl-1 -4M1634 173l-3 1 -2 -2 0 -3 3 -1 3 2zl-5 0M1594 183l-3 3 -4 -1 -2 -4 3 -3 5 1zl7 0M1718 138l-2 3 -4 -1 -1 -3 2 -3 4 1zl2 4M1609 190l-3 3 -3 -1 -1 -4 3 -2 3 1zl-3 -6M1809 118l-5 0 -3 -4 2 -4 5 0 3 4zl8 2M1735 102l-3 3 -5 -1 -1 -5 3 -3 5 1zl-5 4M1637 94l-2 3 -4 0 -1 -4 2 -3 3 1zl-3 -5M1759 63l-3 0 -2 -2 2 -3 3 0 1 2zl4 0M1654 126l-4 1 -3 -3 2 -4 4 -1 3 3zl6 4M1737 125l-2 3 -4 -1 -2 -4 3 -3 4 1zl1 5M1743 113l-5 0 -3 -3 2 -5 5 -1 3 4zl-3 5M1634 56l-5 0 -2 -3 2 -4 4 0 3 3zl-2 -7M1619 59l-2 3 -3 -1 -2 -3 3 -3 3 1zl-4 6M1702 78l-4 2 -4 -3 1 -4 4 -2 4 2zl8 -4M1749 110l-3 4 -5 -1 -2 -5 3 -3 5 1zl-7 2M1734 71l-3 1 -3 -1 0 -4 3 -2 3 2zl0 8M1670 65l-4 3 -4 -2 -1 -5 4 -3 4 2zl-2 8M1775 52l-4 2 -4 -2 0 -5 4 -2 4 2zl3 -8M1743 53l-3 1 -3 -2 0 -3 3 -1 3 1zl-4 -4M1809 111l-3 4 -4 -1 -2 -4 3 -3 4 0zl-8 -4M1719 180l-5 1 -4 -3 1 -5 5 -2 4 4zl-4 -6M1767 143l-5 1 -3 -4 2 -5 4 -1 3 4zl8 -2M1597 78l-2 3 -4 0 -1 -3 2 -3 3 0zl2 7M1718 75l-5 1 -3 -3 1 -4 4 -1 4 3zl-4 -8M1675 156l-3 2 -3 -2 0 -3 3 -2 3 2zl-6 -5M1749 69l-4 1 -3 -3 2 -4 4 -1 3 3zl4 1M1688 82l-2 1 -3 -2 1 -3 3 -1 2 2zl5 2M1752 146l-5 2 -4 -3 0 -5 5 -2 4 3zl-4 -3M1640 127l-4 3 -4 -2 0 -4 3 -3 5 2zl9 2M1674 82l-3 0 -3 -2 1 -3 3 -1 2 3zl-4 1M1698 119l-4 1 -4 -3 2 -4 4 -1 4 3zl5 3M1768 82l-3 3 -5 0 -2 -5 3 -4 5 1zl-7 4M1646 110l-3 1 -2 -3 1 -3 3 -1 3 3zl1 7M1735 208l-1 3 -4 -1 -1 -2 2 -3 3 0zl-1 -5M1697 104l-5 0 -3 -4 2 -4 5 0 2 3zl-5 1M1717 112l-3 2 -4 -2 0 -4 3 -3 4 2zl4 2M1598 97l-3 3 -5 0 -2 -5 3 -4 5 1zl1 5M1643 84l-4 0 -3 -3 2 -3 4 -1 2 3zl3 -5M1788 84l-4 3 -4 -1 -1 -5 3 -3 5 1zl-1 -7M1750 120l-3 1 -3 -3 1 -3 4 -1 2 3zl-8 -4M1640 195l-5 1 -3 -3 2 -5 4 -1 3 4zl-6 -3M1689 116l-3 0 -1 -2 1 -3 3 -1 2 3zl1 4M1732 77l-2 4 -5 0 -2 -4 3 -4 4 0zl0 7M1624 172l-3 4 -4 -1 -2 -3 3 -4 4 1zl-9 2M1618 116l-5 2 -4 -3 1 -5 5 -1 3 3zl-1 6M1657 67l-4 1 -3 -2 0 -4 4 -1 3 2zl-2 -8M1696 43l-5 2 -4 -2 0 -5 4 -2 5 2zl-5 -4M1694 137l-3 0 -2 -3 2 -2 3 0 1 2zl-4 3M1826 119l-3 3 -3 0 -2 -4 3 -3 3 1zl-4 -4M1756 77l-1 2 -4 0 -1 -3 2 -2 3 0zl0 5M1746 179l-5 0 -3 -4 3 -4 4 0 3 4zl6 -1M1696 105l-3 0 -2 -2 0 -3 3 -1 3 3zl4 -5M1608 128l-3 3 -5 -2 0 -5 4 -2 4 1zl-5 -3M1768 128l-4 2 -3 -2 0 -4 3 -3 4 2zl-7 1M1658 155l-2 2 -3 -1 0 -3 2 -2 3 1zl-6 3M1651 111l-4 2 -4 -3 1 -5 4 -2 4 3zl6 1M1658 123l-3 3 -4 0 -1 -4 2 -4 4 1zl-5 0M1773 170l-3 2 -3 -1 -1 -4 3 -2 4 1zl0 -6M1600 111l-4 1 -3 -2 0 -5 4 -1 3 2zl-8 4M1740 68l-3 1 -3 -1 0 -3 2 -2 3 1zl-2 8M1704 156l-4 1 -3 -4 2 -5 5 0 3 4zl-1 -9M1703 64l-2 3 -3 -1 -1 -3 2 -3 3 1zl-1 -8M1652 174l-3 0 -2 -3 2 -3 3 0 2 3zl-1 7M1728 88l-3 3 -4 -1 -1 -4 3 -3 4 1zl5 -5M1711 62l-5 2 -3 -4 1 -4 4 -2 4 3zl-2 4" stroke="#5a78e0" stroke-width="1.5" fill="none" stroke-linecap="round" stroke-linejoin="round"/><path d="M1733 145l-2 2 -3 0 -2 -3 3 -3 3 1zl-4 6M1749 86l-3 1 -3 -1 0 -4 3 -1 3 1zl-5 -4M1774 184l-2 3 -4 -1 -2 -3 3 -4 4 1zl-5 3M1709 194l-3 4 -4 -1 -2 -4 3 -4 4 0zl-2 -6M1751 84l-2 3 -4 0 -2 -3 2 -4 4 0zl4 3M1611 100l-3 2 -3 -1 0 -4 3 -2 3 1zl1 8M1823 102l-3 2 -3 -2 0 -3 3 -2 3 2zl8 -1M1599 147l-5 1 -3 -3 1 -5 5 -1 3 3zl2 -5M1768 83l-4 1 -2 -3 1 -4 4 -1 3 4zl6 2M1812 140l-3 4 -4 -1 -2 -4 3 -3 4 0zl2 4M1699 98l-4 3 -4 -1 -1 -5 4 -2 4 1zl-4 -7M1633 127l-4 3 -4 -2 -1 -4 4 -3 4 2zl6 0M1731 109l-1 3 -4 0 -1 -3 2 -3 3 0zl3 -3M1652 144l-5 1 -2 -4 2 -5 5 0 2 4zl0 -8M1680 113l-4 0 -3 -3 2 -4 4 0 2 3zl2 -8M1751 73l-3 0 -2 -3 1 -3 4 0 2 3zl-5 3M1676 137l-4 3 -4 -2 0 -5 4 -2 4 2zl8 0M1766 191l-4 2 -3 -3 0 -4 4 -2 4 3zl-6 -5M1673 177l-5 0 -3 -3 1 -5 5 -1 3 4zl0 5M1741 163l-4 1 -3 -2 1 -4 3 -1 3 2zl-5 -6M1748 87l-3 2 -4 -1 0 -4 3 -3 3 2zl6 -6M1690 101l-4 3 -4 -2 -1 -4 4 -3 4 1zl4 -4M1745 201l-4 1 -2 -3 0 -3 4 -1 2 2zl-5 3M1790 92l-4 1 -3 -2 0 -4 4 -2 3 3zl-4 3M1691 141l-4 1 -3 -4 1 -4 5 0 2 3zl-6 0M1603 165l-4 2 -4 -3 0 -5 5 -2 4 3zl7 -3M1730 60l-3 1 -3 -2 1 -3 3 -1 2 2zl-6 -5M1755 83l-4 1 -3 -3 1 -4 4 -1 3 3zl5 -6M1680 47l-3 1 -3 -3 1 -4 4 0 2 2zl-5 -6M1682 140l-3 3 -3 -1 -1 -4 3 -3 3 1zl-7 4M1784 65l-2 2 -3 -2 -1 -3 3 -2 3 2zl4 3M1701 192l-4 3 -4 -2 0 -5 4 -2 4 2zl5 2M1606 99l-4 0 -3 -4 2 -4 4 0 3 4zl4 -3M1798 102l-3 1 -3 -2 0 -3 4 -2 3 2zl4 -2M1594 156l-3 3 -4 0 -1 -4 2 -3 4 0zl4 1M1642 120l-3 1 -3 -2 1 -3 3 -2 3 2zl2 -6M1788 111l-5 0 -3 -4 2 -4 5 -1 3 4zl-5 2M1688 125l-3 5 -5 -1 -2 -5 3 -4 5 1zl-1 5M1594 173l-4 1 -2 -3 2 -3 3 0 2 3zl2 -6M1586 164l-2 3 -5 0 -2 -4 3 -4 4 1zl-6 6M1720 175l-4 1 -3 -3 1 -4 4 -2 3 3zl4 -3M1664 163l-3 2 -3 -1 -1 -4 3 -2 3 1zl7 -1M1651 71l-3 0 -2 -3 1 -2 3 -1 2 3zl1 6M1709 73l-3 2 -3 -2 0 -3 3 -1 3 1zl-4 -5M1586 141l-3 2 -4 -1 -1 -5 4 -3 4 2zl7 -4M1768 190l-4 2 -4 -3 1 -4 4 -2 3 3zl8 -3M1686 78l-4 2 -4 -3 0 -4 4 -2 4 2zl-7 -1M1687 89l-4 2 -4 -3 1 -4 3 -2 4 3zl-4 6M1787 50l-4 1 -3 -4 2 -5 5 0 2 4zl-5 -1M1606 147l-3 4 -4 0 -3 -4 3 -4 4 0zl-1 4M1711 204l-4 1 -2 -4 2 -3 4 -1 2 4zl-5 1M1646 49l-4 1 -3 -3 1 -4 4 -1 3 3zl8 -3M1706 159l-4 0 -2 -3 2 -4 4 -1 2 4zl-8 -1M1652 122l-3 2 -3 -1 0 -4 3 -1 3 1zl0 -6M1734 197l-4 0 -3 -3 2 -4 4 0 2 3zl1 -4M1590 161l-3 4 -5 0 -2 -5 3 -4 5 1zl6 6M1714 113l-4 2 -4 -2 0 -4 4 -2 4 2zl-2 -7M1648 51l-3 4 -5 -1 -1 -5 3 -3 5 1zl-5 6M1701 186l-4 3 -4 -1 -1 -4 3 -4 4 2zl0 8M1675 53l-3 2 -3 -1 0 -3 2 -2 3 1zl-3 -5M1612 97l-3 3 -4 -1 -1 -4 3 -2 3 0zl4 2M1658 97l-4 1 -3 -2 0 -4 4 -2 3 3zl3 8M1768 125l-4 1 -3 -2 1 -4 3 -1 3 2zl-8 -3M1769 101l-3 3 -5 -2 -1 -4 4 -3 4 1zl7 -5M1799 84l-3 3 -4 -1 -1 -5 3 -3 5 2zl-2 8M1777 112l-3 3 -4 -1 -1 -3 3 -3 4 1zl6 4M1818 87l-3 2 -3 -2 0 -3 3 -2 3 2zl9 0" stroke="#5a5a5a" stroke-width="1.5" fill="none" stroke-linecap="round" stroke-linejoin="round"/></g>
<g opacity="0.5"><path d="M1841 667l-3 3 -4 -2 -1 -4 3 -2 4 1zl2 9M1724 405l-4 2 -3 -2 0 -4 4 -2 3 2zl-6 -1M1861 541l-3 5 -5 -1 -2 -4 3 -4 5 0zl-6 0M1805 667l-2 3 -4 -1 -1 -4 2 -3 4 1zl1 4M1709 397l-2 4 -4 -1 -2 -3 2 -3 4 0zl3 -3M1827 409l-4 0 -3 -3 2 -4 4 0 3 3zl-3 4M1790 584l-4 1 -3 -4 2 -3 4 -1 2 4zl0 -8M1686 453l-2 3 -3 -1 -2 -3 2 -2 4 0zl-7 1M1743 682l-3 3 -4 0 -2 -3 2 -4 5 0zl-5 -7M1764 582l-3 0 -1 -2 1 -3 3 0 2 2zl7 2M1843 389l-3 3 -3 -1 -2 -3 3 -3 3 0zl5 0M1837 515l-2 3 -3 0 -1 -3 1 -3 4 0zl5 -3M1822 745l-2 3 -4 -1 -1 -4 3 -3 3 1zl3 7M1796 404l-2 2 -4 -2 0 -3 3 -2 3 1zl-2 -4M1804 455l-4 1 -3 -3 1 -4 4 -1 3 3zl1 -6M1795 729l-3 1 -3 -2 1 -3 3 -2 2 2zl-5 3M1943 662l-4 1 -3 -3 1 -4 4 -1 3 3zl9 0M1885 657l-5 2 -3 -4 1 -5 4 -1 4 3zl3 4M1817 396l-3 2 -3 -1 -1 -4 3 -2 3 1zl2 -8M1825 779l-5 0 -3 -4 2 -4 5 -1 3 4zl1 6M1826 516l-2 4 -5 0 -2 -5 3 -3 4 0zl-1 8M1697 461l-3 3 -5 -1 -1 -4 3 -4 5 1zl1 -8M1803 528l-3 1 -2 -2 0 -3 3 -1 3 2zl-4 -2M1827 658l-4 1 -3 -2 1 -4 3 -1 3 2zl3 6M1890 579l-4 3 -4 -2 0 -5 4 -3 4 2zl-2 -9M1789 742l-5 1 -4 -3 1 -5 5 -1 4 3zl4 -3M1905 786l-2 1 -3 -2 1 -3 3 -1 2 2zl2 8M1781 651l-4 0 -2 -3 1 -3 4 0 2 3zl8 -3M1882 717l-2 3 -4 -1 -1 -3 3 -3 3 1zl8 3M1738 533l-4 3 -4 -2 -1 -4 4 -3 4 2zl5 7M1858 542l-4 0 -3 -3 2 -4 4 -1 2 4zl1 -9M1914 620l-3 2 -2 -2 -1 -3 3 -1 3 1zl-3 4M1896 737l-4 1 -2 -3 1 -3 3 -1 3 2zl-9 0M1778 545l-3 2 -4 -2 -1 -4 4 -2 4 2zl4 -5M1867 612l-4 1 -3 -4 2 -4 5 0 2 4zl-3 -7M1784 460l-4 0 -2 -3 1 -3 4 0 2 3zl-2 -8M1798 655l-3 2 -3 -1 -1 -4 3 -2 4 1zl-1 -5M1787 732l-3 2 -3 -3 1 -3 3 -2 3 3zl4 1M1811 549l-3 2 -4 -1 0 -4 3 -3 4 2zl-3 -7M1746 657l-4 2 -3 -3 1 -3 3 -2 3 2zl9 -1M1904 515l-2 2 -3 -1 -1 -3 2 -3 3 1zl5 1M1853 554l-4 2 -3 -3 0 -4 4 -1 3 2zl-4 7M1815 514l-4 1 -3 -3 1 -4 4 -1 3 3zl1 -8M1692 516l-3 2 -3 -1 -1 -3 3 -2 3 1zl-4 -4M1867 585l-4 0 -2 -3 1 -4 5 0 2 3zl0 -6M1716 510l-5 1 -3 -4 2 -5 5 0 3 3zl7 4M1742 505l-3 0 -2 -2 1 -3 3 0 2 2zl-2 -4M1776 721l-3 2 -3 -1 0 -4 3 -2 3 2zl-4 -8M1786 732l-3 0 -3 -2 2 -4 3 -1 3 3zl-3 3M1823 656l-4 3 -4 -2 -1 -5 4 -3 5 2zl-5 -2M1705 462l-4 2 -4 -2 0 -5 4 -2 4 3zl0 4M1850 426l-3 4 -5 -1 -1 -5 3 -3 5 1zl-4 7M1941 741l-3 1 -3 -2 1 -3 3 -1 2 2zl-6 -2M1860 762l-3 2 -4 -1 -1 -4 3 -2 4 1zl1 -6M1820 453l-3 3 -4 -1 -1 -4 3 -3 4 1zl-1 7M1905 533l-5 1 -3 -3 1 -5 4 -2 4 4zl3 -4M1808 473l-3 0 -1 -2 1 -3 3 0 2 3zl6 3M1819 580l-3 3 -4 -1 -1 -4 3 -3 4 1zl-3 6M1832 629l-2 3 -4 -1 -2 -4 3 -3 4 1zl-1 -8M1777 414l-3 3 -3 -2 -1 -3 3 -3 4 1zl3 -3M1835 524l-4 3 -4 -1 -2 -4 3 -4 5 1zl-5 6M1728 681l-4 0 -2 -3 2 -3 4 0 2 3zl7 -2M1670 448l-4 1 -3 -2 0 -5 5 -1 3 2zl6 -1M1737 627l-4 2 -3 -2 1 -4 3 -2 3 2zl4 1M1862 473l-3 1 -3 -2 0 -4 4 -2 3 3zl6 4M1808 514l-2 4 -5 -1 -1 -4 2 -3 5 0zl8 2M1745 680l-3 3 -4 -1 -1 -4 3 -3 4 1zl-6 6M1932 697l-4 4 -4 -1 -2 -5 4 -3 4 1zl0 -7M1717 471l-4 2 -3 -3 0 -4 4 -2 3 3zl2 6M1740 601l-4 0 -1 -3 1 -2 4 0 1 2zl3 4M1796 742l-4 1 -3 -4 2 -4 4 0 2 3zl-2 -5" stroke="#5a78e0" stroke-width="1.4" fill="none" stroke-linecap="round" stroke-linejoin="round"/><path d="M1820 615l-3 0 -2 -2 2 -3 3 0 2 2zl0 7M1712 523l-4 3 -4 -1 -1 -5 4 -3 4 2zl0 -5M1927 671l-3 2 -3 -1 0 -4 3 -2 3 2zl6 -3M1906 684l-4 3 -4 -1 -1 -5 3 -3 5 2zl2 7M1776 479l-3 3 -4 -1 -1 -5 3 -3 4 2zl1 -6M1895 670l-4 1 -4 -4 2 -4 5 -2 3 4zl8 -2M1875 705l-3 2 -3 -2 0 -4 4 -1 2 2zl0 -6M1753 635l-3 3 -4 -1 -1 -4 3 -3 4 1zl-7 0M1738 591l-5 1 -3 -4 1 -4 5 -1 3 3zl9 0M1826 752l-3 4 -4 -1 -2 -4 3 -3 4 0zl3 5M1665 425l-3 2 -4 -2 0 -4 4 -2 3 2zl3 -5M1700 555l-4 1 -2 -3 1 -3 3 -1 3 3zl8 3M1758 638l-4 0 -3 -3 1 -4 5 -1 3 3zl-6 5M1845 594l-3 2 -3 -1 -1 -4 3 -2 4 1zl-2 8M1938 777l-3 3 -5 -1 -1 -5 3 -4 5 2zl3 -6M1929 767l-2 3 -4 -1 -2 -3 3 -4 4 1zl3 6M1715 402l-2 3 -4 0 -1 -4 2 -3 4 0zl3 6M1909 528l-3 2 -3 -2 0 -4 3 -2 3 2zl4 5M1733 618l-5 1 -2 -4 2 -4 4 0 3 4zl-4 1M1839 518l-4 1 -2 -3 1 -4 4 0 2 3zl4 -2M1937 749l-4 0 -3 -4 3 -4 4 0 2 4zl-7 -3M1850 673l-4 3 -4 -2 0 -5 4 -2 4 2zl-7 1M1794 767l-3 2 -3 -1 -1 -4 3 -2 3 2zl-4 -4M1715 510l-3 3 -4 -2 0 -4 3 -3 4 2zl3 9M1771 435l-4 3 -5 -1 -1 -5 4 -3 4 1zl-5 3M1869 496l-4 2 -3 -2 1 -4 3 -1 3 2zl-3 -7M1759 560l-4 2 -3 -2 0 -5 4 -1 4 2zl4 1M1751 514l-3 3 -4 0 -1 -4 2 -3 4 0zl0 -4M1738 469l-4 2 -5 -2 0 -5 4 -3 5 3zl-4 -1M1712 544l-5 0 -3 -4 2 -5 5 0 3 4zl-3 -4M1798 648l-5 1 -3 -3 1 -4 4 -1 4 3zl-6 1M1744 492l-4 2 -3 -3 1 -5 4 -1 3 3zl5 2M1758 726l-4 2 -3 -3 0 -3 4 -2 3 2zl-8 3M1769 712l-3 1 -3 -2 1 -4 3 -1 3 3zl5 -6M1868 448l-4 2 -3 -3 1 -4 4 -2 3 3zl-6 -6M1860 674l-2 3 -4 -1 -1 -3 2 -3 3 1zl1 6M1908 550l-5 1 -3 -3 1 -4 5 -1 3 3zl6 3M1730 588l-3 3 -4 -2 -1 -4 4 -3 4 2zl1 -6M1870 730l-2 3 -3 -1 -1 -3 2 -3 3 1zl-4 0M1712 583l-3 1 -3 -2 0 -4 4 -1 3 2zl4 6M1760 460l-4 2 -4 -3 0 -4 4 -2 4 2zl4 7M1795 597l-3 1 -2 -1 -1 -3 3 -2 3 2zl-8 1M1698 541l-5 1 -3 -4 2 -4 4 -1 3 3zl-5 3M1893 497l-4 1 -3 -4 2 -4 4 0 3 3zl8 2M1755 391l-4 2 -4 -3 0 -4 4 -2 4 2zl-6 6M1901 596l-3 3 -3 -1 -1 -3 2 -3 4 1zl-3 7M1700 417l-2 4 -4 -1 -2 -3 2 -3 4 0zl5 -3M1784 612l-3 4 -4 -1 -2 -4 3 -3 4 0zl-3 5M1820 628l-4 1 -3 -2 1 -4 4 -2 3 3zl-5 7M1857 544l-2 3 -4 0 -2 -3 2 -3 4 0zl0 -4M1748 687l-3 2 -3 -3 0 -3 4 -2 3 2zl3 6M1795 670l-3 3 -3 -2 -1 -4 3 -2 4 2zl2 8M1836 778l-3 2 -3 -2 0 -4 3 -2 4 2zl9 -1" stroke="#5a5a5a" stroke-width="1.4" fill="none" stroke-linecap="round" stroke-linejoin="round"/><path d="M1820 622l3 -1M1712 518l1 3M1738 696l-0 3M1689 439l-2 -3M1883 397l-3 -2M1933 668l3 2M1896 792l-3 -2M1908 691l1 -3M1777 473l-2 -2M1827 418l1 3M1931 647l-3 -2M1857 680l-3 -2M1829 651l3 0M1855 541l-3 2M1905 452l3 -1M1903 668l1 -3M1806 671l3 2M1864 593l-1 -3M1806 724l-2 3M1809 397l-3 -2M1679 454l1 -3M1875 699l-2 -3M1746 635l-0 -3M1783 643l3 0M1776 392l-1 -3M1729 545l1 -3M1771 584l-3 2M1827 591l-3 0M1747 591l-2 2M1668 420l-3 -2M1842 512l3 -2M1794 400l1 -3M1917 735l3 1M1776 411l-1 3M1843 602l2 -3M1941 771l2 -3M1842 633l-1 -3M1802 417l3 -2M1888 661l1 -3M1819 388l-3 -2M1945 688l1 -3M1836 624l3 0M1826 785l2 3M1923 586l3 2M1825 524l-3 -1M1698 453l3 2M1799 526l1 -3M1793 707l3 2M1774 502l-3 -2M1938 681l-0 -3M1890 720l-1 -3M1765 422l3 0M1755 699l2 3M1790 763l3 0M1805 414l2 -3M1852 410l0 -3M1766 438l0 3M1911 624l-3 0M1857 497l3 -1M1921 572l-1 3M1887 737l3 -0M1782 540l-2 3M1866 489l1 -3M1734 468l-3 -1M1864 605l1 -3M1797 650l-3 2M1847 670l3 2M1709 540l2 3M1732 539l-2 3M1796 420l3 1M1893 622l2 -3M1808 542l1 3M1755 656l0 3M1744 560l3 1M1739 571l-1 -3M1774 706l1 3M1824 543l1 -3M1863 451l-2 3M1909 516l2 3M1767 709l3 -0M1748 738l0 -3M1862 442l-1 -3M1912 527l-3 -1M1861 680l3 2M1914 553l-0 3M1832 463l1 -3M1867 579l-3 -0M1731 582l-3 -1M1796 687l-3 -2M1740 501l3 2M1866 730l0 -3M1716 589l-3 -1M1764 467l-2 3M1818 654l-3 -1M1935 674l2 -3M1846 433l-3 -2M1901 499l3 -0M1947 764l3 1M1749 397l-3 -2M1819 460l-2 -3M1814 534l-0 -3M1691 446l-3 2M1891 535l-3 -1M1853 703l-0 -3M1747 736l3 1M1831 621l2 -2M1919 697l1 -3M1780 411l2 -3M1858 723l1 -3M1830 530l3 -1M1733 523l-2 -3M1698 571l-1 -3M1828 435l-3 -1M1723 638l3 -0M1879 787l2 3M1782 583l0 3M1840 455l3 -2M1676 447l1 3M1741 628l-3 -1M1868 477l-3 -1M1932 690l2 3M1743 605l0 3M1797 678l-3 2M1794 737l2 3M1845 777l-1 3" stroke="#e3201b" stroke-width="1.9" fill="none" stroke-linecap="round" stroke-linejoin="round"/><path d="M1828 689l-4 2 -4 -2 0 -5 4 -2 4 2zl5 -2M1733 691l-5 1 -3 -3 1 -5 4 -1 4 4zl5 5M1690 445l-4 2 -5 -2 0 -5 4 -2 4 2zl-1 -6M1887 395l-3 2 -3 -1 -1 -4 3 -2 3 2zl-4 2M1892 787l-3 3 -4 0 -2 -4 2 -3 5 0zl4 5M1822 413l-2 1 -3 -1 0 -3 2 -2 3 2zl5 5M1926 650l-3 2 -3 -2 0 -4 3 -2 3 2zl5 -3M1852 678l-2 3 -5 0 -2 -4 2 -4 5 1zl5 2M1834 644l-3 2 -2 -2 0 -3 3 -2 2 2zl-5 7M1906 710l-4 2 -3 -2 1 -4 3 -1 3 2zl3 -6M1736 542l-4 2 -3 -3 0 -3 4 -2 3 2zl-4 0M1901 454l-3 1 -3 -1 0 -3 3 -2 3 2zl4 -2M1755 650l-3 2 -3 -1 -1 -3 3 -3 3 2zl7 -2M1856 594l-2 2 -3 -1 -1 -3 3 -3 3 2zl8 -1M1798 725l-5 1 -2 -4 2 -4 4 -1 3 4zl8 -1M1781 582l-3 1 -2 -2 0 -3 3 -1 3 2zl3 6M1804 396l-5 0 -2 -4 2 -4 5 0 2 4zl5 1M1779 645l-4 1 -3 -2 1 -4 3 -2 4 3zl4 -2M1774 388l-3 2 -3 -1 -1 -3 3 -3 3 1zl2 4M1722 550l-4 2 -4 -2 0 -4 4 -3 4 2zl7 -5M1793 712l-4 0 -3 -3 2 -5 4 0 3 3zl6 3M1832 590l-4 1 -4 -4 2 -4 5 -1 3 3zl-5 1M1756 502l-3 2 -3 -1 0 -4 3 -2 3 2zl-6 4M1762 408l-3 1 -2 -3 0 -3 3 -1 3 2zl3 -3M1913 742l-3 3 -4 0 -2 -4 2 -4 5 1zl4 -7M1772 407l-4 3 -4 -2 0 -5 4 -2 4 2zl4 4M1738 414l-3 3 -4 0 -2 -4 3 -3 4 0zl7 -4M1835 637l-4 2 -3 -3 0 -4 4 -2 3 2zl7 -4M1806 422l-2 2 -4 0 -1 -4 2 -2 4 0zl-4 -5M1940 685l-4 1 -2 -3 1 -4 4 -1 3 3zl5 3M1842 623l-4 1 -3 -3 1 -4 5 -1 2 3zl-6 1M1922 593l-3 3 -4 -1 -1 -5 3 -3 4 2zl1 -7M1705 570l-5 0 -2 -4 2 -4 5 0 2 4zl-5 4M1854 548l-4 1 -4 -2 1 -5 4 -1 3 2zl6 4M1794 712l-3 2 -3 -2 0 -3 3 -2 3 2zl-1 -5M1776 506l-3 4 -4 -1 -3 -4 3 -4 5 0zl-2 -4M1937 688l-3 2 -4 -3 1 -4 4 -1 3 2zl1 -7M1759 410l-3 4 -4 -1 -2 -4 3 -4 4 1zl-4 4M1761 428l-2 4 -4 -1 -1 -3 2 -3 3 0zl4 -6M1785 696l-4 3 -4 -2 -1 -4 4 -3 4 1zl3 6M1754 708l-3 1 -3 -2 0 -3 4 -2 2 3zl1 -9M1802 420l-4 3 -4 -2 -1 -5 4 -3 5 2zl3 -6M1851 416l-5 2 -4 -4 2 -5 4 -1 4 3zl1 -6M1848 495l-2 3 -3 -1 -2 -3 2 -3 4 0zl9 2M1919 578l-4 2 -4 -2 0 -4 4 -2 4 2zl2 -6M1875 662l-2 4 -4 -1 -2 -3 2 -3 4 0zl8 1M1717 396l-3 3 -3 -1 -2 -3 3 -3 3 1zl-1 6M1823 787l-5 0 -2 -3 2 -4 4 0 3 3zl3 5M1701 536l-3 3 -4 -1 -1 -4 3 -3 4 1zl5 0M1896 674l-2 4 -4 -1 -2 -3 2 -4 4 0zl4 -4M1804 774l-5 2 -3 -3 1 -5 4 -1 3 3zl2 -7M1716 598l-2 2 -3 -2 0 -3 3 -1 2 1zl-1 6M1853 672l-5 1 -3 -4 2 -4 5 -1 2 4zl-6 -2M1881 493l-3 3 -5 -1 -1 -4 4 -3 4 1zl4 -7M1853 671l-3 3 -4 -1 -1 -4 3 -2 4 1zl7 -3M1737 542l-3 2 -3 -1 0 -4 3 -2 3 2zl-5 -3M1860 508l-2 2 -3 -1 -1 -3 3 -2 3 1zl3 4M1792 415l-4 3 -5 -2 0 -4 4 -3 4 1zl4 5M1899 618l-5 1 -3 -3 1 -4 4 -1 3 2zl-6 4M1938 659l-3 2 -4 -2 -1 -4 4 -3 4 2zl-7 -5M1739 558l-4 0 -2 -3 2 -3 3 0 2 3zl5 2M1742 564l-3 2 -3 -2 0 -3 3 -2 3 2zl-3 7M1817 543l-3 0 -2 -3 2 -3 3 0 2 3zl7 0M1864 459l-3 3 -4 -1 -1 -3 2 -4 4 1zl-1 -8M1760 708l-4 1 -3 -2 1 -4 3 -2 3 3zl7 1M1749 744l-3 2 -3 -1 -1 -4 3 -2 4 1zl-1 -6M1685 418l-4 1 -2 -3 2 -4 3 -1 3 4zl5 0M1904 525l-2 3 -4 -1 -2 -4 3 -3 4 1zl8 2M1702 490l-2 2 -4 -1 -1 -3 3 -3 4 2zl1 7M1711 591l-2 3 -4 -1 -1 -3 2 -2 3 0zl7 -5M1838 469l-3 1 -3 -3 1 -3 4 -1 2 2zl-6 -6M1794 692l-4 0 -3 -4 3 -4 4 0 2 4zl2 -5M1788 714l-4 1 -3 -3 1 -3 4 -2 2 3zl6 -5M1909 649l-4 2 -4 -3 0 -5 5 -2 4 3zl-7 4M1933 668l-3 0 -2 -2 1 -3 3 -1 2 3zl2 6M1946 772l-4 1 -2 -3 1 -4 4 -1 2 3zl1 -8M1817 527l-3 1 -3 -2 1 -3 3 -1 2 2zl-3 7M1684 442l-2 2 -3 -1 -1 -3 3 -2 3 1zl7 4M1898 538l-5 0 -2 -4 2 -4 5 0 2 4zl-7 -3M1853 709l-4 1 -3 -3 1 -4 5 -1 3 3zl0 -6M1756 734l-3 2 -3 -2 0 -3 3 -2 3 2zl-9 2M1911 699l-3 3 -4 -2 -1 -4 4 -3 4 2zl8 -2M1854 720l-3 0 -3 -3 2 -3 3 0 3 3zl4 3M1733 529l-2 3 -4 0 -2 -4 3 -3 4 1zl0 -6M1819 532l-3 2 -2 -2 0 -3 3 -1 3 1zl5 3M1702 571l-4 3 -5 -2 0 -5 4 -2 4 2zl-4 0M1829 441l-3 3 -4 -1 -2 -4 3 -4 5 1zl-1 -6M1720 633l-4 1 -3 -2 1 -4 3 -1 3 2zl3 5M1883 789l-4 1 -3 -3 1 -4 4 -1 3 3zl-4 -2M1776 580l-4 0 -2 -3 2 -4 3 0 3 3zl6 3M1846 455l-2 2 -4 -1 -1 -4 3 -2 4 1zl-6 0M1871 467l-3 1 -2 -3 1 -3 3 0 2 2zl7 1M1734 694l-3 1 -3 -2 1 -3 3 -1 2 2zl-6 -1M1698 413l-5 1 -4 -3 1 -5 5 -1 4 3zl-7 -1M1945 755l-3 0 -2 -3 1 -3 3 0 2 3zl4 -8M1680 442l-3 4 -5 -2 -1 -4 3 -4 5 2zl0 6" stroke="#c8b08a" stroke-width="1.4" fill="none" stroke-linecap="round" stroke-linejoin="round"/></g>
<g mask="url(#msk2)"><g filter="url(#sblur)" fill="#3a3a3a"><ellipse cx="1690" cy="130" rx="120" ry="60" opacity="0.35"/><ellipse cx="1810" cy="300" rx="50" ry="80" opacity="0.22"/><ellipse cx="1780" cy="560" rx="130" ry="150" opacity="0.25"/><ellipse cx="1880" cy="720" rx="70" ry="80" opacity="0.22"/></g></g>
<g opacity="0.5"><path d="M1566,91C1583,87 1648,74 1672,68C1696,62 1698,45 1709,53C1721,61 1731,90 1740,114C1749,137 1751,174 1762,197C1774,219 1794,228 1808,250C1822,271 1843,301 1846,325C1848,349 1834,382 1823,394C1812,405 1785,394 1778,394" fill="none" stroke="#1a2a30" stroke-width="7" stroke-linecap="round" opacity="0.7"/><path d="M1566,91C1583,87 1648,74 1672,68C1696,62 1698,45 1709,53C1721,61 1731,90 1740,114C1749,137 1751,174 1762,197C1774,219 1794,228 1808,250C1822,271 1843,301 1846,325C1848,349 1834,382 1823,394C1812,405 1785,394 1778,394" fill="none" stroke="#d2bc96" stroke-width="5" stroke-linecap="round"/><path d="M1641,484C1657,480 1704,467 1740,462C1775,457 1829,443 1853,454C1877,465 1877,502 1884,530C1890,557 1896,592 1891,620C1886,650 1860,690 1853,704" fill="none" stroke="#1a2a30" stroke-width="7" stroke-linecap="round" opacity="0.7"/><path d="M1641,484C1657,480 1704,467 1740,462C1775,457 1829,443 1853,454C1877,465 1877,502 1884,530C1890,557 1896,592 1891,620C1886,650 1860,690 1853,704" fill="none" stroke="#d2bc96" stroke-width="5" stroke-linecap="round"/></g>
<g opacity="0.5"><path d="M1564 585l-5 1 -3 -4 2 -4 5 -1 3 4zl3 -7M1914 743l-4 2 -3 -3 1 -5 4 -1 3 3zl-6 -4M1787 107l-3 2 -4 -2 0 -4 4 -2 4 2zl5 2M1959 742l-3 3 -5 -2 -1 -4 4 -4 4 2zl2 -7M1842 174l-3 0 -2 -2 1 -3 3 -1 2 3zl6 6M1934 805l-3 2 -3 -2 0 -3 3 -2 2 2zl-3 3M1704 449l-4 1 -2 -2 1 -4 3 0 3 2zl6 -2M1876 377l-4 1 -3 -4 2 -4 4 -1 3 4zl2 6M1622 537l-4 1 -4 -3 1 -5 5 -1 3 3zl5 2M1616 577l-3 1 -2 -2 0 -3 3 -1 3 2zl-4 -2M1787 66l-3 1 -2 -3 1 -3 3 -1 3 3zl-1 -6M1785 658l-3 4 -5 -1 -1 -4 2 -4 5 1zl-5 -5M1693 709l-3 4 -5 -1 -2 -5 4 -4 5 2zl-5 -2M1640 644l-3 4 -5 0 -2 -5 3 -4 5 1zl-3 5M1813 401l-5 1 -3 -3 2 -5 4 -1 3 4zl4 4M1804 226l-3 3 -4 -1 -1 -4 3 -3 4 1zl3 -4M1765 350l-5 0 -2 -4 2 -4 5 0 2 4zl-7 1M1693 425l-4 2 -3 -2 1 -4 3 -2 3 3zl5 8M1699 154l-3 1 -3 -2 1 -4 4 0 2 2zl4 4M1871 280l-3 1 -2 -3 1 -3 3 0 2 2zl0 8M1718 76l-3 3 -3 0 -2 -3 2 -3 4 0zl-3 3M1696 191l-2 2 -3 -1 -1 -3 2 -2 3 1zl4 -6M1731 653l-3 3 -4 0 -2 -4 3 -3 4 0zl-3 -7M1748 533l-3 1 -2 -2 1 -3 3 -1 2 2zl2 4M1613 611l-2 3 -3 -1 -1 -4 2 -2 4 1zl3 -3M1602 640l-4 2 -4 -2 0 -5 4 -2 4 3zl-8 -3M1650 556l-4 1 -2 -3 2 -3 3 -1 2 3zl-2 9M1857 223l-2 3 -5 0 -2 -4 2 -4 5 0zl-7 -1M1813 149l-3 3 -4 0 -2 -4 3 -4 4 1zl-6 -2M1849 289l-1 2 -4 0 -1 -3 2 -3 3 1zl8 4M1898 635l-3 2 -4 -1 0 -3 3 -3 3 1zl6 -7M1687 485l-4 2 -3 -3 0 -4 4 -1 3 2zl2 -5M1724 382l-3 2 -3 -1 -1 -4 4 -2 3 1zl7 -3M1608 650l-4 1 -3 -2 1 -4 4 -2 3 3zl5 -5M1666 546l-4 1 -3 -2 0 -4 4 -2 3 2zl-5 -4M1623 612l-4 0 -2 -3 1 -4 4 0 3 3zl0 -7M1831 507l-3 3 -3 -2 -1 -3 3 -2 3 1zl-1 -4M1814 515l-4 1 -3 -2 0 -5 5 -1 3 3zl-5 -2M1815 117l-3 3 -5 -2 -1 -4 4 -3 5 1zl-6 0M1682 438l-4 0 -3 -4 2 -4 5 0 3 3zl1 -8M1628 652l-5 1 -4 -4 2 -4 5 -1 3 4zl-4 4M1774 273l-4 1 -3 -3 1 -4 4 -1 3 3zl5 0M1798 756l-3 3 -4 -2 0 -3 2 -3 4 2zl7 -5M1785 578l-3 0 -2 -2 1 -4 3 0 2 3zl-6 -1M1862 236l-4 2 -3 -2 0 -4 3 -1 4 1zl-2 -6M1637 52l-3 3 -3 -1 -1 -4 3 -2 3 1zl6 -1M1875 283l-3 4 -5 -1 -2 -4 3 -4 5 0zl-3 2M1858 592l-4 2 -4 -3 1 -5 4 -2 4 3zl5 -3M1693 381l-5 0 -3 -3 2 -5 5 -1 3 4zl-8 1M1823 409l-4 1 -2 -3 1 -3 3 -1 3 3zl-4 4M1893 735l-4 1 -2 -4 1 -4 5 0 2 3zl-7 3M1714 179l-3 1 -2 -3 1 -3 4 -1 2 3zl-7 -3M1912 667l-4 1 -2 -3 1 -3 4 -1 2 3zl-6 2M1920 707l-4 2 -4 -3 0 -4 4 -3 4 3zl-5 -1M1727 660l-2 3 -4 0 -2 -4 2 -4 4 1zl-1 7M1631 127l-2 2 -3 -1 -1 -3 3 -2 3 1zl2 -4M1892 709l-4 2 -4 -2 0 -5 5 -2 4 2zl1 7M1625 152l-4 2 -4 -1 -1 -5 4 -3 4 2zl-4 -2M1840 306l-3 1 -3 -2 1 -4 3 -1 3 2zl-5 1M1828 309l-2 3 -4 -1 -1 -3 2 -3 4 1zl1 5M1697 485l-2 2 -3 -1 -1 -3 2 -2 3 1zl-5 7M1604 77l-3 3 -3 -1 -1 -4 3 -2 3 1zl9 0M1782 581l-4 2 -3 -2 -1 -4 4 -2 4 1zl1 -5M1809 623l-3 4 -5 0 -2 -4 3 -4 5 0zl3 8M1626 126l-4 1 -3 -2 0 -4 4 -2 3 3zl3 9M1764 692l-3 3 -5 0 -1 -5 3 -4 5 1zl-6 -3M1641 75l-3 3 -3 -1 -2 -4 3 -3 4 1zl-6 6M1919 648l-2 3 -3 0 -1 -3 2 -3 3 0zl3 4M1572 533l-3 2 -4 -3 1 -3 3 -2 4 2zl2 -6M1704 415l-2 3 -4 -1 -1 -4 2 -3 4 1zl0 6M1673 463l-5 1 -3 -3 1 -4 5 -2 3 3zl-4 0M1771 125l-4 2 -3 -2 0 -4 4 -2 3 2zl-7 -1M1875 533l-3 2 -3 -2 0 -3 3 -2 3 2zl6 1M1812 724l-3 3 -4 -1 -1 -5 3 -3 5 2zl-6 -1M1875 825l-4 0 -3 -4 2 -4 5 0 3 4zl-1 -9M1932 787l-2 3 -4 0 -1 -3 2 -3 4 0zl-3 5M1888 495l-3 2 -3 -1 -1 -4 3 -2 4 1zl7 5M1742 338l-4 1 -2 -3 2 -3 3 -1 2 3zl-5 3M1907 538l-5 1 -3 -4 2 -4 5 -1 3 4zl7 1M1582 128l-4 0 -2 -4 2 -3 4 0 2 3zl4 -4M1752 334l-4 0 -2 -3 2 -3 4 -1 2 3zl-8 -5M1874 358l-3 3 -4 -1 -2 -4 4 -4 4 1zl0 -8M1798 472l-3 2 -3 -1 0 -3 2 -2 3 1zl8 1M1936 556l-4 2 -4 -3 1 -4 4 -2 3 3zl5 0M1702 186l-5 1 -3 -3 2 -4 4 -1 3 3zl3 4M1598 484l-3 1 -2 -2 1 -3 3 -1 2 2zl3 5M1890 216l-4 3 -4 -2 -1 -4 4 -3 4 2zl6 0M1911 564l-3 2 -2 -2 0 -3 2 -2 3 2zl-4 8M1858 463l-5 1 -2 -4 2 -4 4 -1 3 4zl5 -4M1774 629l-3 2 -3 0 -1 -4 3 -2 3 1zl4 -8M1871 227l-2 3 -3 0 -2 -4 2 -3 4 1zl-1 6M1724 586l-4 1 -3 -4 2 -3 4 -1 3 4zl2 5M1740 680l-4 2 -3 -2 0 -4 4 -1 3 2zl-1 -5M1819 283l-3 3 -4 -1 -1 -4 3 -3 4 1zl5 5M1767 593l-3 4 -5 -1 -2 -4 3 -4 5 1zl0 8M1670 65l-3 2 -4 -2 0 -3 3 -3 3 2zl5 -7M1891 737l-5 1 -3 -4 2 -5 5 0 3 4zl1 -5M1786 641l-3 2 -3 -2 -1 -4 4 -2 3 2zl-7 0M1614 653l-3 3 -4 -1 -1 -5 3 -3 5 2zl-6 -6M1702 360l-3 3 -3 -2 -1 -3 3 -2 3 1zl-1 7M1593 164l-5 0 -3 -3 2 -5 5 -1 3 4zl-3 9M1840 152l-4 2 -3 -3 1 -4 4 -2 3 3zl-9 0M1767 373l-4 0 -2 -2 2 -3 3 -1 2 3zl5 -2M1910 505l-2 2 -3 -1 -1 -3 2 -2 3 1zl7 3M1785 700l-2 1 -3 -1 0 -3 2 -2 3 2zl-6 6M1702 60l-3 4 -5 -1 -1 -5 3 -3 4 1zl1 -5M1825 186l-2 2 -3 0 -1 -3 2 -3 3 1zl-2 -4M1835 691l-3 4 -4 -1 -2 -4 3 -4 4 1zl0 5M1784 211l-2 3 -3 -1 -1 -3 2 -2 3 1zl-1 -5M1857 154l-3 1 -3 -3 1 -3 4 -1 2 3zl-1 -4M1707 378l-4 0 -3 -3 2 -4 5 -1 2 4zl4 2M1763 269l-3 3 -5 -1 -1 -5 4 -3 4 1zl6 4M1608 530l-4 3 -4 -3 0 -4 4 -2 4 2zl0 -7M1671 491l-2 3 -3 0 -2 -3 2 -3 3 0zl6 -5M1901 775l-4 0 -2 -3 2 -4 4 0 3 4zl2 -9M1736 179l-3 2 -3 -1 -1 -4 3 -2 4 1zl0 -4M1817 454l-4 3 -4 -2 0 -4 3 -3 4 2zl-4 -4M1966 746l-3 1 -3 -3 1 -3 4 -1 2 3zl-4 5M1766 783l-2 1 -3 -2 1 -3 2 -1 3 2zl8 -3M1653 523l-4 1 -2 -3 1 -3 4 -1 2 3zl-2 -8" stroke="#c8b08a" stroke-width="1.3" fill="none" stroke-linecap="round" stroke-linejoin="round"/><path d="M1567 578l-3 2M1648 84l3 1M1908 739l-3 0M1792 109l3 1M1734 745l3 1M1961 735l-3 2M1813 254l-2 3M1848 180l-3 0M1699 452l2 3M1767 793l2 -3M1625 143l3 -0M1673 399l3 -2M1602 493l3 2M1710 447l-2 3M1907 561l-3 1M1878 383l3 -2M1627 539l-1 -3M1612 575l2 3M1780 653l3 -2M1688 707l3 1M1823 345l-3 1M1637 649l-3 -1M1687 680l-3 1M1807 222l3 -2M1758 351l-2 -3M1698 433l-2 3M1890 742l-2 3M1851 385l3 -1M1914 761l-3 -1M1839 551l3 1M1748 721l-0 3M1787 499l-3 -2M1702 459l-0 -3M1909 624l-3 -0M1654 452l3 2M1594 637l0 -3M1850 222l-1 3M1857 293l0 -3M1882 815l-2 3M1867 411l-0 3M1860 177l1 3M1855 535l3 1M1699 74l-3 1M1830 277l0 -3M1830 503l3 -2M1809 513l3 1M1680 71l-3 1M1836 612l-1 -3M1908 518l0 -3M1624 656l-3 2M1776 502l-0 -3M1776 740l3 2M1805 751l1 -3M1832 242l3 -2M1732 577l-3 -1M1659 173l-3 -1M1863 568l0 -3M1860 230l-3 2M1643 51l-2 3M1885 204l-3 1M1872 285l3 2M1781 246l-1 -3M1886 738l-1 3M1819 645l-2 -3M1586 92l-2 -3M1655 455l3 1M1906 669l3 -2M1574 615l0 3M1639 189l0 -3M1726 667l-3 -1M1703 609l-0 -3M1741 111l-3 2M1829 314l3 -1M1834 752l1 3M1613 77l-3 -0M1797 127l0 3M1783 576l-2 -3M1758 689l0 3M1972 699l3 1M1922 652l2 3M1873 418l3 2M1899 206l-2 -3M1819 423l-1 3M1792 602l3 -2M1704 421l2 3M1764 124l3 2M1703 695l3 2M1806 723l1 -3M1874 816l-2 3M1929 792l-1 3M1801 100l2 -3M1878 226l3 -2M1744 329l-0 -3M1889 444l-2 3M1645 464l3 -1M1584 539l2 -3M1941 556l-2 3M1785 203l3 1M1891 832l3 -1M1889 683l2 -3M1759 766l-3 1M1907 572l3 -2M1578 518l3 -1M1672 497l3 -2M1769 181l1 -3M1778 621l3 -2M1726 591l1 3M1739 675l-3 0M1767 601l3 2M1675 58l-1 -3M1944 765l3 2M1789 616l-3 1M1785 766l0 -3M1819 473l2 3M1803 152l3 1M1779 641l-3 -2M1608 647l3 -1M1701 367l-0 3M1804 478l-1 -3M1850 528l3 2M1745 554l3 -2M1726 34l-3 -0M1703 55l-2 -3M1658 171l-0 3M1690 204l2 3M1671 199l-2 -3M1849 582l2 3M1718 454l3 -1M1784 565l1 -3M1772 750l-3 0M1783 206l1 -3M1613 491l-3 0M1856 150l-3 -0M1711 380l3 1M1963 650l2 3M1811 471l2 3M1727 672l-1 -3M1812 379l3 -1M1809 640l-1 -3M1795 380l-3 0M1970 723l-3 2M1890 768l-2 -3M1827 440l3 2M1962 751l2 3M1651 515l2 -3M1843 590l-2 -3" stroke="#e3201b" stroke-width="1.8" fill="none" stroke-linecap="round" stroke-linejoin="round"/><path d="M1646 76l-3 4 -4 -1 -2 -4 3 -4 4 1zl2 8M1816 542l-3 2 -4 -1 -1 -4 3 -3 4 2zl6 -4M1798 737l-5 1 -2 -3 1 -5 5 0 3 3zl0 -4M1739 744l-5 0 -3 -4 3 -4 4 -1 3 4zl-5 1M1693 457l-5 2 -3 -3 1 -5 5 -2 3 4zl6 -5M1765 785l-4 1 -4 -2 1 -5 4 -2 4 3zl2 8M1624 135l-3 1 -3 -2 0 -3 3 -2 3 2zl1 8M1849 671l-3 0 -2 -2 1 -3 3 0 2 2zl6 -2M1681 397l-2 2 -3 -1 -1 -3 2 -2 3 1zl-8 2M1599 485l-3 1 -2 -3 2 -3 3 0 1 3zl3 8M1697 599l-3 2 -3 -1 -1 -3 3 -2 3 0zl4 2M1821 351l-3 2 -4 -2 0 -4 4 -2 3 2zl2 -6M1563 530l-3 1 -2 -3 1 -3 3 0 2 2zl-6 1M1617 103l-2 3 -4 0 -2 -3 2 -3 4 0zl-6 5M1915 741l-3 3 -4 -2 -1 -3 3 -3 4 1zl-5 6M1656 204l-4 1 -2 -3 1 -3 3 -1 3 3zl-5 6M1908 761l-4 3 -3 -3 0 -4 3 -2 4 2zl6 0M1661 465l-4 2 -4 -3 1 -5 5 -1 3 3zl6 -5M1831 555l-4 2 -5 -2 0 -5 4 -3 5 3zl8 -4M1742 723l-3 1 -2 -2 0 -3 3 -1 3 2zl6 -2M1793 504l-2 2 -3 0 -1 -2 1 -3 4 0zl-6 -5M1914 620l-4 2 -4 -3 1 -5 5 -1 3 3zl-5 4M1866 585l-4 1 -3 -4 1 -4 5 -1 3 4zl-4 -5M1736 530l-3 2 -4 -1 0 -4 3 -2 4 1zl5 6M1875 817l-3 2 -3 -1 -1 -3 2 -3 4 1zl7 -2M1872 415l-4 2 -3 -3 0 -4 4 -2 4 3zl-5 -4M1792 489l-5 1 -4 -3 1 -5 5 -1 4 3zl6 -6M1863 531l-3 4 -5 -1 -1 -4 2 -3 5 0zl-8 4M1731 134l-4 0 -3 -4 2 -4 5 0 2 3zl-6 0M1702 67l-3 2 -3 -2 0 -3 3 -2 3 1zl-3 7M1835 273l-2 2 -3 0 -2 -3 2 -2 3 0zl-5 4M1739 150l-3 1 -2 -2 1 -3 3 -1 2 2zl-6 -5M1891 199l-2 2 -3 0 -1 -4 2 -2 3 1zl-2 -4M1819 692l-2 3 -3 0 -1 -3 2 -3 3 1zl-3 3M1677 78l-2 3 -4 -1 -1 -3 2 -3 4 0zl3 -7M1832 617l-4 0 -2 -3 1 -4 5 0 2 3zl4 -5M1876 826l-3 0 -2 -2 1 -3 3 -1 2 3zl1 5M1702 559l-3 3 -4 -1 -2 -4 3 -4 5 1zl-4 3M1930 781l-4 4 -4 -2 -2 -4 4 -4 4 1zl5 -2M1784 501l-5 2 -4 -3 1 -4 4 -2 4 3zl-8 1M1779 745l-5 1 -3 -4 2 -5 4 0 4 3zl-3 -5M1761 115l-4 1 -3 -1 0 -4 3 -2 4 2zl7 -4M1827 238l-3 1 -2 -3 1 -4 4 0 2 3zl5 4M1737 575l-4 0 -2 -4 2 -3 4 -1 2 4zl-5 2M1656 170l-3 3 -4 -1 -2 -4 3 -3 4 1zl3 3M1857 565l-4 2 -4 -2 0 -5 4 -3 4 3zl6 3M1929 685l-2 3 -4 0 -2 -4 2 -3 4 0zl3 6M1890 211l-5 1 -3 -4 1 -4 5 -2 3 4zl-5 -7M1703 685l-3 2 -4 -1 0 -3 2 -3 4 2zl5 -4M1811 643l-2 2 -3 -2 0 -3 2 -2 3 2zl8 2M1854 704l-3 1 -2 -3 2 -2 3 -1 2 3zl-1 8M1615 484l-4 2 -4 -3 1 -5 4 -1 4 2zl-3 -8M1655 460l-3 1 -3 -2 0 -4 4 -1 3 2zl0 -5M1892 251l-3 2 -4 -1 0 -4 3 -2 3 1zl8 3M1582 170l-4 1 -3 -2 1 -4 4 -1 3 3zl5 -4M1575 610l-4 1 -2 -3 1 -3 4 -1 2 3zl-1 5M1592 632l-4 2 -3 -3 0 -4 4 -2 3 2zl-2 -6M1733 114l-4 2 -3 -3 1 -3 4 -2 2 3zl8 -3M1760 203l-5 1 -3 -4 2 -5 5 -1 3 4zl-5 1M1824 678l-3 0 -3 -3 2 -4 4 0 2 3zl-8 2M1892 206l-3 2 -4 -2 0 -4 4 -2 3 2zl7 0M1813 429l-4 1 -4 -3 2 -5 4 -1 4 3zl6 -6M1919 792l-4 2 -4 -3 1 -5 4 -1 4 3zl5 -5M1812 410l-5 1 -3 -3 1 -4 4 -2 3 3zl2 5M1791 610l-2 2 -4 -1 -1 -4 3 -2 4 1zl1 -8M1700 689l-5 0 -2 -4 2 -4 5 -1 3 5zl3 6M1784 658l-3 2 -4 -1 -1 -4 3 -2 4 1zl-7 -4M1966 687l-2 2 -3 -1 -1 -3 2 -2 3 1zl1 6M1864 695l-3 1 -3 -3 2 -3 3 -1 3 3zl-6 -5M1873 227l-4 1 -3 -4 2 -3 4 -1 3 4zl5 -1M1642 460l-3 4 -4 -1 -1 -3 2 -4 4 1zl3 4M1582 547l-4 2 -4 -2 0 -5 4 -2 4 2zl2 -8M1891 828l-3 2 -3 -1 0 -3 2 -2 3 1zl0 4M1896 684l-4 3 -4 -2 -1 -4 4 -3 4 2zl-7 -1M1808 231l-3 0 -2 -2 1 -4 3 0 3 3zl-6 -2M1751 166l-1 3 -4 0 -1 -3 2 -3 3 0zl5 5M1784 613l-3 1 -2 -2 0 -3 3 -1 3 2zl5 3M1730 371l-3 1 -3 -2 0 -3 4 -2 2 2zl-6 -6M1788 760l-5 3 -4 -2 0 -5 4 -3 4 2zl-3 6M1822 477l-5 0 -2 -4 2 -4 5 0 2 4zl-3 -4M1750 534l-3 3 -3 0 -2 -4 2 -3 4 1zl3 5M1683 456l-3 0 -2 -2 1 -3 3 -1 2 3zl-2 -5M1649 573l-3 2 -3 -1 0 -3 2 -2 3 1zl-4 -7M1860 246l-3 1 -3 -2 0 -3 3 -2 3 2zl0 6M1854 529l-3 3 -4 -1 -1 -5 3 -3 4 2zl-4 -1M1722 38l-3 1 -2 -2 1 -3 3 -1 2 2zl4 -4M1656 166l-4 2 -4 -2 0 -5 4 -2 4 2zl2 5M1778 445l-2 2 -3 0 -2 -3 2 -2 3 0zl6 0M1810 785l-4 2 -3 -3 0 -4 4 -2 3 3zl0 8M1687 201l-5 1 -3 -3 1 -5 5 -1 3 3zl3 3M1665 203l-5 2 -3 -3 0 -5 5 -1 3 2zl6 -4M1716 460l-3 0 -3 -3 2 -4 4 0 2 4zl2 -6M1779 560l-4 1 -2 -3 1 -4 4 -1 3 4zl5 5M1778 749l-4 3 -5 -2 0 -5 4 -2 4 2zl-6 1M1770 310l-4 2 -4 -2 0 -4 4 -2 3 2zl5 6M1614 495l-3 2 -4 -2 0 -4 4 -2 3 2zl-1 -4M1606 550l-4 1 -3 -2 1 -4 3 -1 3 2zl3 -7M1623 150l-3 1 -3 -2 1 -3 3 -1 3 2zl2 -8M1800 640l-3 1 -3 -2 0 -4 3 -1 3 2zl9 0M1796 345l-3 2 -4 -1 0 -4 2 -2 4 1zl-4 -2M1967 729l-3 1 -3 -2 0 -3 3 -2 3 2zl3 -6M1711 478l-4 2 -3 -3 0 -4 4 -2 3 2zl-8 4M1895 773l-2 1 -3 -2 0 -3 3 -1 3 2zl-5 -5M1588 175l-5 0 -2 -4 2 -4 5 0 3 4zl-7 -3M1608 505l-3 2 -3 -1 0 -3 2 -2 3 1zl-2 6M1853 345l-2 3 -4 -1 -1 -3 2 -3 4 1zl-3 4M1648 550l-4 1 -2 -2 1 -4 4 -1 2 3zl8 -4M1886 725l-3 3 -4 -2 -1 -4 4 -3 4 2zl0 -6M1836 596l-3 3 -3 -2 -1 -4 3 -2 3 1zl7 -6" stroke="#5a78e0" stroke-width="1.3" fill="none" stroke-linecap="round" stroke-linejoin="round"/><path d="M1865 386l-2 3 -3 0 -2 -3 2 -3 3 0zl3 8M1778 576l-4 0 -2 -2 2 -4 3 0 2 3zl-3 3M1879 494l-2 4 -4 -1 -2 -4 3 -3 4 1zl-8 -2M1811 246l-4 1 -2 -4 2 -3 4 -1 2 4zl2 8M1598 181l-3 3 -4 0 -1 -4 2 -4 5 1zl4 -6M1695 419l-5 0 -3 -4 2 -4 5 0 2 3zl7 -5M1744 88l-2 2 -4 0 -1 -4 2 -2 4 0zl6 -4M1914 559l-3 1 -3 -2 0 -3 3 -2 3 2zl-7 2M1867 263l-3 1 -3 -3 1 -4 3 -1 3 3zl-6 0M1693 681l-3 2 -3 -2 -1 -3 3 -2 3 1zl-6 -1M1721 464l-3 3 -4 -1 -1 -4 3 -3 4 2zl6 3M1612 148l-5 0 -3 -4 2 -4 5 0 3 4zl5 2M1889 738l-4 3 -4 -2 0 -5 3 -2 4 1zl1 4M1849 393l-4 3 -5 -2 0 -5 3 -2 5 1zl2 -8M1946 552l-4 1 -2 -3 1 -3 3 -1 3 2zl-5 -5M1945 666l-4 1 -3 -4 2 -4 5 0 2 3zl-6 -2M1695 462l-3 3 -4 -1 -1 -4 3 -3 4 1zl7 -3M1662 455l-4 3 -5 -1 -1 -5 4 -3 5 2zl-8 -3M1618 540l-1 3 -3 0 -2 -3 2 -3 3 0zl4 -2M1672 600l-4 0 -2 -3 1 -4 4 0 3 3zl3 -6M1768 315l-3 2 -4 -2 -1 -4 4 -2 4 1zl-8 2M1862 184l-5 1 -3 -4 1 -4 5 -1 3 4zl-2 -7M1911 695l-4 3 -4 -2 -1 -4 4 -3 4 2zl5 1M1863 312l-3 2 -4 -1 -1 -4 3 -3 4 1zl-8 2M1715 452l-5 1 -3 -3 2 -5 4 -1 4 4zl0 7M1903 518l-3 1 -3 -2 0 -4 4 -1 3 2zl5 0M1647 645l-5 0 -3 -4 3 -4 4 -1 3 4zl-5 -3M1922 766l-3 0 -2 -2 1 -3 3 0 2 2zl5 7M1775 244l-4 3 -3 -2 -1 -4 3 -2 4 1zl6 2M1587 87l-4 0 -2 -3 2 -3 4 0 1 3zl-1 5M1646 194l-3 2 -3 -1 -1 -4 3 -2 3 1zl-7 -5M1697 613l-3 3 -4 -1 -1 -3 3 -3 3 1zl6 -4M1830 754l-4 0 -3 -3 2 -4 4 0 3 3zl4 -2M1795 123l-3 0 -2 -3 2 -3 3 0 2 3zl2 4M1971 706l-3 2 -3 0 -1 -4 2 -3 4 1zl1 -7M1870 416l-2 3 -4 -1 -2 -4 3 -3 4 1zl3 2M1824 613l-4 1 -2 -3 1 -3 3 -1 3 3zl5 -4M1759 716l-3 2 -3 -2 -1 -3 3 -2 3 1zl-1 4M1808 102l-2 2 -3 -1 -1 -3 2 -2 3 1zl-7 -2M1888 448l-3 2 -4 -2 -1 -4 4 -2 4 1zl1 -4M1875 254l-2 3 -3 0 -1 -3 1 -3 3 0zl5 4M1870 198l-2 3 -4 0 -1 -3 2 -3 3 0zl7 4M1788 206l-4 0 -2 -3 2 -3 3 0 2 3zl-3 -3M1750 767l-2 2 -3 0 -1 -4 2 -2 3 0zl9 -1M1836 324l-3 2 -3 -2 0 -3 3 -2 3 2zl3 7M1898 723l-4 1 -3 -3 1 -5 5 -1 3 4zl-4 1M1585 516l-2 3 -4 0 -2 -4 2 -3 4 0zl-7 2M1594 632l-2 3 -4 -1 -1 -4 3 -2 4 1zl7 4M1676 502l-2 4 -5 0 -1 -4 2 -4 4 1zl-4 -5M1774 185l-4 2 -3 -2 0 -4 4 -2 3 2zl-5 -4M1726 395l-3 3 -4 -1 -2 -4 3 -3 4 1zl-1 -8M1946 761l-4 2 -4 -2 0 -4 4 -2 4 2zl-2 4M1732 361l-4 1 -3 -3 2 -4 4 -1 3 3zl-2 -4M1758 165l-4 0 -2 -3 2 -3 4 0 2 3zl-3 -7M1800 156l-3 4 -5 -1 -1 -5 3 -3 5 1zl3 -4M1618 647l-2 3 -3 -1 -1 -3 2 -2 3 0zl4 -1M1797 477l-2 4 -5 0 -2 -4 3 -4 4 0zl7 1M1809 602l-3 2 -4 -2 0 -4 3 -2 4 2zl6 1M1742 559l-3 4 -5 -1 -1 -4 3 -4 4 0zl3 -5M1844 588l-3 3 -5 0 -2 -5 3 -4 5 1zl5 -6M1959 655l-5 0 -2 -3 2 -4 4 0 3 4zl4 -5M1808 465l-4 3 -5 -3 0 -5 5 -2 4 2zl3 6M1730 668l-3 4 -4 0 -2 -4 2 -4 5 0zl-3 4M1668 493l-2 2 -3 -1 -1 -3 3 -2 3 1zl3 -5M1818 376l-3 1 -2 -3 1 -3 3 0 2 3zl-6 3M1789 382l-3 1 -3 -2 1 -4 3 -1 3 2zl6 -2M1891 795l-2 2 -3 0 -1 -3 2 -2 3 0zl-7 3M1826 444l-3 2 -3 -1 0 -3 2 -2 3 1zl1 -4M1799 78l-4 1 -3 -2 1 -4 3 -1 3 2zl7 3M1698 44l-4 1 -2 -3 0 -3 4 -1 3 2zl0 6M1859 219l-3 1 -3 -2 1 -3 3 -1 3 2zl2 -5" stroke="#5a5a5a" stroke-width="1.3" fill="none" stroke-linecap="round" stroke-linejoin="round"/></g>
<g><path d="M1674 521l-4 0 -2 -4 2 -3 4 -1 2 4zl5 3M1652 484l-3 3 -5 -1 -1 -4 4 -3 4 1zl-7 -3M1804 233l-2 3 -3 -1 -1 -2 1 -3 3 0zl-1 5M1823 127l-3 3 -5 -1 -1 -5 4 -3 4 2zl0 6M1788 742l-4 2 -3 -2 0 -5 4 -1 3 2zl3 4M1764 689l-3 3 -5 -1 -1 -5 3 -3 5 1zl-1 -5M1881 601l-4 3 -4 -1 -1 -5 3 -3 5 2zl-6 6M1609 161l-2 4 -5 0 -2 -4 3 -4 4 0zl4 0M1756 258l-3 0 -2 -2 1 -3 3 -1 2 3zl-8 -1M1584 159l-4 1 -4 -2 1 -5 4 -1 4 2zl3 7M1591 571l-2 2 -3 -2 0 -3 3 -1 2 1zl-8 -4M1720 141l-3 0 -2 -3 1 -3 4 0 2 3zl-2 7M1889 599l-5 0 -2 -4 2 -4 5 0 2 4zl5 0M1783 319l-4 1 -4 -3 1 -4 4 -1 4 3zl-4 -8M1688 412l-3 2 -4 -2 0 -5 4 -2 3 2zl-1 -6" stroke="#5a5a5a" stroke-width="1.3" fill="none" stroke-linecap="round" stroke-linejoin="round"/><path d="M1679 524l1 -3M1906 547l-2 3M1646 457l-1 3M1836 141l0 3M1856 345l1 -3M1645 481l-1 3M1803 238l2 3M1610 608l-0 -3M1979 735l-3 -1M1712 172l3 2M1897 662l-3 2M1698 41l-3 -2M1805 332l3 -2M1770 94l2 -3M1695 608l3 -1M1809 334l3 -0M1791 746l1 -3M1979 695l2 3M1656 485l3 -1M1749 595l-3 0M1851 151l1 3M1698 408l-3 1M1823 454l-2 3M1653 118l-2 -3M1748 257l-0 -3M1587 166l3 0M1615 517l1 -3M1703 79l-3 -2M1899 801l-3 -2M1578 619l-3 2M1798 680l-0 -3M1776 728l-3 0M1893 745l-3 2M1687 406l-3 2" stroke="#e3201b" stroke-width="1.8" fill="none" stroke-linecap="round" stroke-linejoin="round"/><path d="M1906 552l-2 3 -4 -1 -1 -4 2 -2 4 0zl0 -5M1746 605l-4 0 -2 -3 1 -3 4 0 2 3zl2 -8M1850 794l-2 4 -4 0 -3 -4 3 -4 4 0zl5 2M1613 602l-3 3 -4 -2 -1 -4 4 -3 4 2zl-3 6M1840 680l-3 3 -4 0 -1 -4 2 -3 4 0zl6 2M1901 659l-4 3 -4 -3 0 -5 5 -2 4 2zl-4 3M1701 38l-5 0 -2 -3 2 -4 4 -1 2 4zl-3 3M1802 335l-4 2 -4 -3 0 -4 4 -2 4 3zl3 -3M1769 87l-3 2 -3 -2 0 -3 3 -2 3 2zl1 7M1732 127l-4 1 -3 -2 0 -4 4 -2 3 3zl-6 2M1603 63l-3 0 -2 -2 1 -3 3 0 2 2zl0 -9M1808 327l-4 3 -5 -2 0 -5 4 -2 4 1zl1 7M1867 358l-1 3 -4 0 -1 -3 2 -2 3 0zl4 7M1877 464l-2 4 -4 0 -2 -4 2 -3 4 0zl-6 6M1967 664l-2 2 -3 -1 0 -3 2 -2 3 1zl-2 5M1596 540l-4 3 -4 -2 -1 -4 3 -3 4 1zl-6 -3M1693 413l-3 3 -4 -1 -2 -5 4 -3 4 1zl5 -5M1826 449l-2 2 -4 0 -1 -4 2 -3 4 1zl-3 5M1847 691l-3 1 -2 -3 1 -3 3 0 2 2zl2 4M1621 523l-5 1 -3 -4 2 -5 5 0 3 4zl-6 -6M1690 430l-3 2 -3 -2 0 -4 3 -2 3 2zl0 -6M1895 803l-4 2 -3 -3 0 -4 4 -2 4 2zl4 -2M1585 615l-3 1 -3 -2 1 -3 3 -1 2 2zl-7 4M1803 679l-4 0 -2 -4 2 -3 4 0 2 3zl-5 1M1776 733l-5 1 -3 -4 2 -4 5 -1 3 4zl0 -5" stroke="#c8b08a" stroke-width="1.3" fill="none" stroke-linecap="round" stroke-linejoin="round"/><path d="M1650 461l-4 3 -4 -2 0 -5 3 -3 5 2zl-4 -4M1832 141l-3 2 -3 -1 -1 -4 3 -2 4 1zl4 0M1705 75l-4 3 -4 -3 0 -5 4 -2 4 3zl-6 -6M1856 350l-3 3 -5 -2 0 -5 4 -3 4 2zl0 -5M1974 740l-3 2 -2 -2 0 -4 3 -1 3 2zl5 -5M1716 179l-2 2 -4 -1 -1 -3 3 -3 3 1zl-4 -7M1693 616l-5 0 -3 -3 2 -5 4 -1 3 4zl2 -8M1973 693l-4 2 -4 -3 0 -4 4 -2 4 3zl6 2M1652 479l-5 1 -3 -4 1 -4 5 -1 3 3zl4 6M1745 587l-3 1 -2 -2 1 -3 2 -1 3 2zl4 8M1853 144l-3 3 -3 -1 -1 -3 2 -3 3 1zl-2 7M1889 446l-4 1 -1 -3 1 -3 3 0 2 3zl1 5M1839 136l-3 2 -5 -2 0 -5 4 -2 4 2zl-5 6M1654 110l-2 3 -4 -1 -2 -3 3 -3 4 0zl-1 8M1681 424l-3 1 -2 -3 2 -3 3 0 2 2zl2 -5M1733 215l-3 3 -5 -1 -1 -5 4 -3 5 1zl2 -4M1699 85l-4 2 -3 -2 0 -4 3 -2 4 2zl4 -6M1905 600l-4 3 -4 -1 -1 -5 4 -3 4 2zl-5 -2M1628 93l-3 0 -2 -2 2 -3 3 0 1 2zl4 -4M1890 741l-4 1 -3 -3 1 -4 4 -1 3 3zl3 4" stroke="#5a78e0" stroke-width="1.3" fill="none" stroke-linecap="round" stroke-linejoin="round"/></g>
<g fill="url(#blobg)" stroke="#333" stroke-width="1"><ellipse cx="1944" cy="240" rx="11" ry="9"/><ellipse cx="1917" cy="190" rx="7" ry="6"/><ellipse cx="1885" cy="139" rx="5" ry="4"/><ellipse cx="1509" cy="89" rx="5" ry="4"/><ellipse cx="1511" cy="119" rx="4" ry="3"/><ellipse cx="1527" cy="139" rx="6" ry="5"/><ellipse cx="1696" cy="13" rx="4" ry="3"/><ellipse cx="1571" cy="70" rx="6" ry="5"/><ellipse cx="1560" cy="200" rx="4" ry="3"/><ellipse cx="1604" cy="210" rx="5" ry="4"/></g>
</svg>
<svg class="chart" width="2000" height="1124" viewBox="0 0 2000 1124" style="position:absolute;left:0;top:0">
<defs><clipPath id="ax"><rect x="650.6" y="166.1" width="742.6999999999999" height="552.65"/></clipPath></defs>
<g clip-path="url(#ax)" fill="#ff1400">
<circle cx="650.6" cy="715.5" r="3.4"/>
<circle cx="669.2" cy="609.9" r="3.4"/>
<circle cx="687.7" cy="522.7" r="3.4"/>
<circle cx="706.3" cy="439.0" r="3.4"/>
<circle cx="724.9" cy="373.3" r="3.4"/>
<circle cx="743.4" cy="317.4" r="3.4"/>
<circle cx="762.0" cy="272.6" r="3.4"/>
<circle cx="780.6" cy="239.2" r="3.4"/>
<circle cx="799.1" cy="219.8" r="3.4"/>
<circle cx="817.7" cy="201.9" r="3.4"/>
<circle cx="836.3" cy="192.9" r="3.4"/>
<circle cx="854.8" cy="185.4" r="3.4"/>
<circle cx="873.4" cy="182.7" r="3.4"/>
<circle cx="892.0" cy="182.7" r="3.4"/>
<circle cx="910.5" cy="179.7" r="3.4"/>
<circle cx="929.1" cy="176.7" r="3.4"/>
<circle cx="947.7" cy="176.7" r="3.4"/>
<circle cx="966.2" cy="176.7" r="3.4"/>
<circle cx="984.8" cy="173.6" r="3.4"/>
<circle cx="1003.4" cy="173.6" r="3.4"/>
<circle cx="1022.0" cy="173.6" r="3.4"/>
<circle cx="1040.5" cy="173.6" r="3.4"/>
<circle cx="1059.1" cy="172.2" r="3.4"/>
<circle cx="1077.7" cy="172.2" r="3.4"/>
<circle cx="1096.2" cy="173.6" r="3.4"/>
<circle cx="1114.8" cy="170.7" r="3.4"/>
<circle cx="1133.4" cy="169.2" r="3.4"/>
<circle cx="1151.9" cy="169.2" r="3.4"/>
<circle cx="1170.5" cy="170.7" r="3.4"/>
<circle cx="1189.1" cy="170.7" r="3.4"/>
<circle cx="1207.6" cy="170.7" r="3.4"/>
<circle cx="1226.2" cy="172.2" r="3.4"/>
<circle cx="1244.8" cy="170.7" r="3.4"/>
<circle cx="1263.3" cy="172.2" r="3.4"/>
<circle cx="1281.9" cy="169.2" r="3.4"/>
<circle cx="1300.5" cy="170.7" r="3.4"/>
<circle cx="1319.0" cy="169.2" r="3.4"/>
<circle cx="1337.6" cy="169.2" r="3.4"/>
<circle cx="1356.2" cy="170.7" r="3.4"/>
<circle cx="1374.7" cy="170.7" r="3.4"/>
<circle cx="1393.3" cy="169.2" r="3.4"/>
</g>
<rect x="650.6" y="166.1" width="742.7" height="552.65" fill="none" stroke="#000" stroke-width="1.5"/>
<text transform="translate(635.00 683.75) scale(1.12 1)" text-anchor="end" font-size="21" class="tk">0.54</text>
<text transform="translate(635.00 617.42) scale(1.12 1)" text-anchor="end" font-size="21" class="tk">0.56</text>
<text transform="translate(635.00 551.09) scale(1.12 1)" text-anchor="end" font-size="21" class="tk">0.58</text>
<text transform="translate(635.00 484.76) scale(1.12 1)" text-anchor="end" font-size="21" class="tk">0.60</text>
<text transform="translate(635.00 418.43) scale(1.12 1)" text-anchor="end" font-size="21" class="tk">0.62</text>
<text transform="translate(635.00 352.10) scale(1.12 1)" text-anchor="end" font-size="21" class="tk">0.64</text>
<text transform="translate(635.00 285.77) scale(1.12 1)" text-anchor="end" font-size="21" class="tk">0.66</text>
<text transform="translate(635.00 219.44) scale(1.12 1)" text-anchor="end" font-size="21" class="tk">0.68</text>
<text transform="translate(650.60 749.20) scale(1.12 1)" text-anchor="middle" font-size="21" class="tk">0</text>
<text transform="translate(743.44 749.20) scale(1.12 1)" text-anchor="middle" font-size="21" class="tk">25000</text>
<text transform="translate(836.28 749.20) scale(1.12 1)" text-anchor="middle" font-size="21" class="tk">50000</text>
<text transform="translate(929.11 749.20) scale(1.12 1)" text-anchor="middle" font-size="21" class="tk">75000</text>
<text transform="translate(1021.95 749.20) scale(1.12 1)" text-anchor="middle" font-size="21" class="tk">100000</text>
<text transform="translate(1114.79 749.20) scale(1.12 1)" text-anchor="middle" font-size="21" class="tk">125000</text>
<text transform="translate(1207.62 749.20) scale(1.12 1)" text-anchor="middle" font-size="21" class="tk">150000</text>
<text transform="translate(1300.46 749.20) scale(1.12 1)" text-anchor="middle" font-size="21" class="tk">175000</text>
<text transform="translate(1393.30 749.20) scale(1.12 1)" text-anchor="middle" font-size="21" class="tk">200000</text>
<g stroke="#000" stroke-width="1.5"><line x1="643.6" y1="676.75" x2="650.6" y2="676.75"/><line x1="643.6" y1="610.42" x2="650.6" y2="610.42"/><line x1="643.6" y1="544.09" x2="650.6" y2="544.09"/><line x1="643.6" y1="477.76" x2="650.6" y2="477.76"/><line x1="643.6" y1="411.43" x2="650.6" y2="411.43"/><line x1="643.6" y1="345.10" x2="650.6" y2="345.10"/><line x1="643.6" y1="278.77" x2="650.6" y2="278.77"/><line x1="643.6" y1="212.44" x2="650.6" y2="212.44"/><line x1="650.60" y1="718.75" x2="650.60" y2="725.75"/><line x1="743.44" y1="718.75" x2="743.44" y2="725.75"/><line x1="836.28" y1="718.75" x2="836.28" y2="725.75"/><line x1="929.11" y1="718.75" x2="929.11" y2="725.75"/><line x1="1021.95" y1="718.75" x2="1021.95" y2="725.75"/><line x1="1114.79" y1="718.75" x2="1114.79" y2="725.75"/><line x1="1207.62" y1="718.75" x2="1207.62" y2="725.75"/><line x1="1300.46" y1="718.75" x2="1300.46" y2="725.75"/><line x1="1393.30" y1="718.75" x2="1393.30" y2="725.75"/></g>
<text transform="translate(1022.00 778.60) scale(1.15 1)" text-anchor="middle" font-size="21" class="tk">step</text>
<text transform="translate(577.50 443.60) rotate(-90) scale(1.1 1)" text-anchor="middle" font-size="21" class="tk">cc</text>
<text transform="translate(1022.50 153.60) scale(0.955 1)" text-anchor="middle" font-size="28.5" class="ttl">tRNA_perturbed_fitted_to_H40-H44_0.5A</text>
</svg>
<div class="big" style="left:40.9px;top:921.2px;transform:scaleX(0.997)">Before</div>
<div class="big" style="left:291.4px;top:921.2px;transform:scaleX(1.048)">cryo_fit</div>
<div class="big" style="left:41.5px;top:1023.3px;transform:scaleX(0.913)">(cc</div>
<div class="big" style="left:157.9px;top:1024.5px;transform:scaleX(0.897)">=</div>
<div class="big" style="left:218.8px;top:1023.3px;transform:scaleX(0.995)">0.53)</div>
<div class="big" style="left:1453.3px;top:921.2px;transform:scaleX(1.057)">After</div>
<div class="big" style="left:1648.2px;top:921.2px;transform:scaleX(1.048)">cryo_fit</div>
<div class="big" style="left:1454.0px;top:1023.3px;transform:scaleX(0.914)">(cc</div>
<div class="big" style="left:1569.9px;top:1024.5px;transform:scaleX(0.934)">=</div>
<div class="big" style="left:1632.3px;top:1023.3px;transform:scaleX(0.989)">0.69)</div>
</body></html>
